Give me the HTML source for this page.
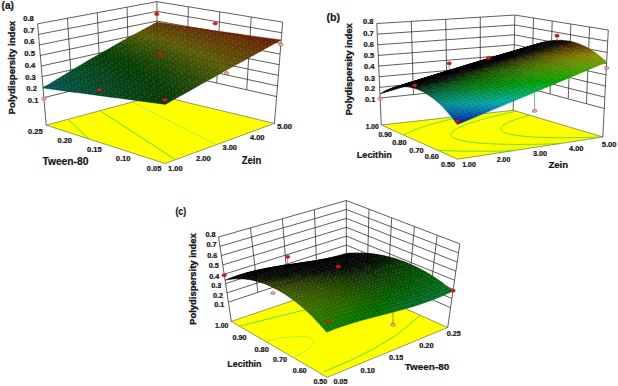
<!DOCTYPE html>
<html><head><meta charset="utf-8"><title>Polydispersity index response surfaces</title>
<style>html,body{margin:0;padding:0;background:#fff;width:618px;height:386px;overflow:hidden}svg{display:block}text{font-family:"Liberation Sans",sans-serif}</style>
</head><body><svg width="618" height="386" viewBox="0 0 618 386" font-family="Liberation Sans, sans-serif"><polygon points="46.20,125.20 157.10,95.30 274.40,123.40 165.10,163.50" fill="#ffff00" stroke="#333" stroke-width="0.5"/><polyline points="69.00,120.10 89.20,139.10" stroke="#33dd33" stroke-width="0.8" fill="none"/><polyline points="100.80,111.20 175.90,159.90" stroke="#33dd33" stroke-width="0.8" fill="none"/><polyline points="132.40,102.20 216.00,144.50" stroke="#99ee44" stroke-width="0.8" fill="none"/><g stroke="#2a2a2a" stroke-width="0.75" fill="none"><polyline points="43.63,97.73 157.04,69.54 276.59,96.60" /><polyline points="42.77,87.17 157.02,59.84 277.46,85.96" /><polyline points="41.92,76.61 157.00,50.14 278.33,75.32" /><polyline points="41.07,66.05 156.98,40.44 279.21,64.68" /><polyline points="40.21,55.49 156.96,30.74 280.08,54.04" /><polyline points="39.36,44.94 156.94,21.05 280.95,43.40" /><polyline points="38.51,34.38 156.93,11.35 281.82,32.76" /><polyline points="37.65,23.82 156.91,1.65 282.69,22.12" /><line x1="71.98" y1="90.68" x2="67.47" y2="18.28"/><line x1="100.33" y1="83.63" x2="97.28" y2="12.73"/><line x1="128.69" y1="76.58" x2="127.09" y2="7.19"/><line x1="246.70" y1="89.83" x2="251.25" y2="17.01"/><line x1="216.81" y1="83.07" x2="219.80" y2="11.89"/><line x1="186.93" y1="76.30" x2="188.35" y2="6.77"/><line x1="46.20" y1="125.20" x2="37.65" y2="23.82"/><line x1="157.10" y1="95.30" x2="156.91" y2="1.65"/><line x1="274.40" y1="123.40" x2="282.69" y2="22.12"/></g><ellipse cx="280.80" cy="44.60" rx="2.3" ry="1.6" fill="#f0a8a8" stroke="#7a2020" stroke-width="0.4"/><ellipse cx="226.60" cy="73.10" rx="2.3" ry="1.6" fill="#f0a8a8" stroke="#7a2020" stroke-width="0.4"/><ellipse cx="44.00" cy="98.70" rx="2.3" ry="1.6" fill="#f0a8a8" stroke="#7a2020" stroke-width="0.4"/><g stroke-width="0.35"><path d="M157.1,24.6L160.6,22.7 156.9,22.2 153.5,24.0Z" fill="#5d3300" stroke="#5d3300"/><path d="M153.7,26.4L157.1,24.6 153.5,24.0 150.1,25.9Z" fill="#5c3a00" stroke="#5c3a00"/><path d="M160.8,25.1L164.2,23.3 160.6,22.7 157.1,24.6Z" fill="#5d3200" stroke="#5d3200"/><path d="M150.3,28.3L153.7,26.4 150.1,25.9 146.6,27.7Z" fill="#5b4100" stroke="#5b4100"/><path d="M157.3,27.0L160.8,25.1 157.1,24.6 153.7,26.4Z" fill="#5c3900" stroke="#5c3900"/><path d="M164.4,25.6L167.9,23.8 164.2,23.3 160.8,25.1Z" fill="#5d3200" stroke="#5d3200"/><path d="M146.8,30.1L150.3,28.3 146.6,27.7 143.2,29.6Z" fill="#5a4800" stroke="#5a4800"/><path d="M153.9,28.8L157.3,27.0 153.7,26.4 150.3,28.3Z" fill="#5b4000" stroke="#5b4000"/><path d="M161.0,27.5L164.4,25.6 160.8,25.1 157.3,27.0Z" fill="#5d3900" stroke="#5d3900"/><path d="M143.4,32.0L146.8,30.1 143.2,29.6 139.8,31.4Z" fill="#594e00" stroke="#594e00"/><path d="M168.1,26.2L171.5,24.3 167.9,23.8 164.4,25.6Z" fill="#5e3100" stroke="#5e3100"/><path d="M150.5,30.7L153.9,28.8 150.3,28.3 146.8,30.1Z" fill="#5a4700" stroke="#5a4700"/><path d="M157.5,29.4L161.0,27.5 157.3,27.0 153.9,28.8Z" fill="#5c3f00" stroke="#5c3f00"/><path d="M140.0,33.9L143.4,32.0 139.8,31.4 136.3,33.3Z" fill="#585400" stroke="#585400"/><path d="M164.6,28.0L168.1,26.2 164.4,25.6 161.0,27.5Z" fill="#5d3800" stroke="#5d3800"/><path d="M147.0,32.5L150.5,30.7 146.8,30.1 143.4,32.0Z" fill="#594d00" stroke="#594d00"/><path d="M171.7,26.7L175.2,24.9 171.5,24.3 168.1,26.2Z" fill="#5e3000" stroke="#5e3000"/><path d="M154.1,31.2L157.5,29.4 153.9,28.8 150.5,30.7Z" fill="#5b4600" stroke="#5b4600"/><path d="M136.5,35.7L140.0,33.9 136.3,33.3 132.9,35.2Z" fill="#515600" stroke="#515600"/><path d="M161.2,29.9L164.6,28.0 161.0,27.5 157.5,29.4Z" fill="#5c3f00" stroke="#5c3f00"/><path d="M143.6,34.4L147.0,32.5 143.4,32.0 140.0,33.9Z" fill="#585300" stroke="#585300"/><path d="M168.3,28.6L171.7,26.7 168.1,26.2 164.6,28.0Z" fill="#5d3700" stroke="#5d3700"/><path d="M150.7,33.1L154.1,31.2 150.5,30.7 147.0,32.5Z" fill="#594c00" stroke="#594c00"/><path d="M133.1,37.6L136.5,35.7 132.9,35.2 129.5,37.1Z" fill="#475300" stroke="#475300"/><path d="M175.4,27.3L178.8,25.4 175.2,24.9 171.7,26.7Z" fill="#5f2f00" stroke="#5f2f00"/><path d="M157.7,31.8L161.2,29.9 157.5,29.4 154.1,31.2Z" fill="#5b4500" stroke="#5b4500"/><path d="M140.2,36.3L143.6,34.4 140.0,33.9 136.5,35.7Z" fill="#535600" stroke="#535600"/><path d="M164.8,30.4L168.3,28.6 164.6,28.0 161.2,29.9Z" fill="#5c3e00" stroke="#5c3e00"/><path d="M147.2,35.0L150.7,33.1 147.0,32.5 143.6,34.4Z" fill="#585300" stroke="#585300"/><path d="M129.7,39.5L133.1,37.6 129.5,37.1 126.1,39.0Z" fill="#3c5000" stroke="#3c5000"/><path d="M171.9,29.1L175.4,27.3 171.7,26.7 168.3,28.6Z" fill="#5e3600" stroke="#5e3600"/><path d="M154.3,33.6L157.7,31.8 154.1,31.2 150.7,33.1Z" fill="#5a4b00" stroke="#5a4b00"/><path d="M136.8,38.2L140.2,36.3 136.5,35.7 133.1,37.6Z" fill="#495400" stroke="#495400"/><path d="M179.0,27.8L182.5,25.9 178.8,25.4 175.4,27.3Z" fill="#5f2f00" stroke="#5f2f00"/><path d="M161.4,32.3L164.8,30.4 161.2,29.9 157.7,31.8Z" fill="#5b4400" stroke="#5b4400"/><path d="M143.8,36.8L147.2,35.0 143.6,34.4 140.2,36.3Z" fill="#555700" stroke="#555700"/><path d="M126.3,41.4L129.7,39.5 126.1,39.0 122.7,40.8Z" fill="#334e00" stroke="#334e00"/><path d="M168.5,31.0L171.9,29.1 168.3,28.6 164.8,30.4Z" fill="#5d3d00" stroke="#5d3d00"/><path d="M150.9,35.5L154.3,33.6 150.7,33.1 147.2,35.0Z" fill="#595200" stroke="#595200"/><path d="M133.4,40.1L136.8,38.2 133.1,37.6 129.7,39.5Z" fill="#3f5100" stroke="#3f5100"/><path d="M175.6,29.6L179.0,27.8 175.4,27.3 171.9,29.1Z" fill="#5e3500" stroke="#5e3500"/><path d="M157.9,34.2L161.4,32.3 157.7,31.8 154.3,33.6Z" fill="#5a4b00" stroke="#5a4b00"/><path d="M140.4,38.7L143.8,36.8 140.2,36.3 136.8,38.2Z" fill="#4b5400" stroke="#4b5400"/><path d="M182.7,28.3L186.1,26.5 182.5,25.9 179.0,27.8Z" fill="#5f2e00" stroke="#5f2e00"/><path d="M122.9,43.3L126.3,41.4 122.7,40.8 119.3,42.7Z" fill="#2a4b00" stroke="#2a4b00"/><path d="M165.0,32.8L168.5,31.0 164.8,30.4 161.4,32.3Z" fill="#5c4300" stroke="#5c4300"/><path d="M147.4,37.4L150.9,35.5 147.2,35.0 143.8,36.8Z" fill="#575700" stroke="#575700"/><path d="M130.0,41.9L133.4,40.1 129.7,39.5 126.3,41.4Z" fill="#354e00" stroke="#354e00"/><path d="M172.1,31.5L175.6,29.6 171.9,29.1 168.5,31.0Z" fill="#5d3c00" stroke="#5d3c00"/><path d="M154.5,36.0L157.9,34.2 154.3,33.6 150.9,35.5Z" fill="#595100" stroke="#595100"/><path d="M137.0,40.6L140.4,38.7 136.8,38.2 133.4,40.1Z" fill="#415200" stroke="#415200"/><path d="M179.2,30.2L182.7,28.3 179.0,27.8 175.6,29.6Z" fill="#5e3500" stroke="#5e3500"/><path d="M119.5,45.2L122.9,43.3 119.3,42.7 115.9,44.6Z" fill="#214800" stroke="#214800"/><path d="M161.6,34.7L165.0,32.8 161.4,32.3 157.9,34.2Z" fill="#5a4a00" stroke="#5a4a00"/><path d="M186.3,28.9L189.8,27.0 186.1,26.5 182.7,28.3Z" fill="#602d00" stroke="#602d00"/><path d="M144.0,39.3L147.4,37.4 143.8,36.8 140.4,38.7Z" fill="#4d5500" stroke="#4d5500"/><path d="M126.6,43.8L130.0,41.9 126.3,41.4 122.9,43.3Z" fill="#2c4b00" stroke="#2c4b00"/><path d="M168.7,33.4L172.1,31.5 168.5,31.0 165.0,32.8Z" fill="#5c4200" stroke="#5c4200"/><path d="M151.1,37.9L154.5,36.0 150.9,35.5 147.4,37.4Z" fill="#585600" stroke="#585600"/><path d="M133.6,42.5L137.0,40.6 133.4,40.1 130.0,41.9Z" fill="#374f00" stroke="#374f00"/><path d="M175.8,32.0L179.2,30.2 175.6,29.6 172.1,31.5Z" fill="#5d3b00" stroke="#5d3b00"/><path d="M116.2,47.1L119.5,45.2 115.9,44.6 112.5,46.6Z" fill="#194500" stroke="#194500"/><path d="M158.1,36.6L161.6,34.7 157.9,34.2 154.5,36.0Z" fill="#595000" stroke="#595000"/><path d="M182.8,30.7L186.3,28.9 182.7,28.3 179.2,30.2Z" fill="#5f3400" stroke="#5f3400"/><path d="M140.6,41.1L144.0,39.3 140.4,38.7 137.0,40.6Z" fill="#435200" stroke="#435200"/><path d="M123.2,45.7L126.6,43.8 122.9,43.3 119.5,45.2Z" fill="#234900" stroke="#234900"/><path d="M165.2,35.3L168.7,33.4 165.0,32.8 161.6,34.7Z" fill="#5b4900" stroke="#5b4900"/><path d="M190.0,29.4L193.4,27.5 189.8,27.0 186.3,28.9Z" fill="#602c00" stroke="#602c00"/><path d="M147.7,39.8L151.1,37.9 147.4,37.4 144.0,39.3Z" fill="#4f5500" stroke="#4f5500"/><path d="M130.2,44.4L133.6,42.5 130.0,41.9 126.6,43.8Z" fill="#2e4c00" stroke="#2e4c00"/><path d="M112.8,49.0L116.2,47.1 112.5,46.6 109.2,48.5Z" fill="#124200" stroke="#124200"/><path d="M172.3,33.9L175.8,32.0 172.1,31.5 168.7,33.4Z" fill="#5c4200" stroke="#5c4200"/><path d="M154.7,38.5L158.1,36.6 154.5,36.0 151.1,37.9Z" fill="#585500" stroke="#585500"/><path d="M137.2,43.0L140.6,41.1 137.0,40.6 133.6,42.5Z" fill="#395000" stroke="#395000"/><path d="M179.4,32.6L182.8,30.7 179.2,30.2 175.8,32.0Z" fill="#5e3a00" stroke="#5e3a00"/><path d="M119.8,47.7L123.2,45.7 119.5,45.2 116.2,47.1Z" fill="#1b4600" stroke="#1b4600"/><path d="M161.8,37.1L165.2,35.3 161.6,34.7 158.1,36.6Z" fill="#5a4f00" stroke="#5a4f00"/><path d="M186.5,31.2L190.0,29.4 186.3,28.9 182.8,30.7Z" fill="#5f3300" stroke="#5f3300"/><path d="M144.2,41.7L147.7,39.8 144.0,39.3 140.6,41.1Z" fill="#455300" stroke="#455300"/><path d="M126.8,46.3L130.2,44.4 126.6,43.8 123.2,45.7Z" fill="#254900" stroke="#254900"/><path d="M109.4,50.9L112.8,49.0 109.2,48.5 105.8,50.4Z" fill="#0b3f00" stroke="#0b3f00"/><path d="M168.9,35.8L172.3,33.9 168.7,33.4 165.2,35.3Z" fill="#5b4800" stroke="#5b4800"/><path d="M193.6,29.9L197.1,28.0 193.4,27.5 190.0,29.4Z" fill="#602c00" stroke="#602c00"/><path d="M151.3,40.3L154.7,38.5 151.1,37.9 147.7,39.8Z" fill="#515600" stroke="#515600"/><path d="M133.8,44.9L137.2,43.0 133.6,42.5 130.2,44.4Z" fill="#304d00" stroke="#304d00"/><path d="M175.9,34.5L179.4,32.6 175.8,32.0 172.3,33.9Z" fill="#5d4100" stroke="#5d4100"/><path d="M116.4,49.6L119.8,47.7 116.2,47.1 112.8,49.0Z" fill="#144300" stroke="#144300"/><path d="M158.4,39.0L161.8,37.1 158.1,36.6 154.7,38.5Z" fill="#585400" stroke="#585400"/><path d="M183.0,33.1L186.5,31.2 182.8,30.7 179.4,32.6Z" fill="#5e3900" stroke="#5e3900"/><path d="M140.8,43.6L144.2,41.7 140.6,41.1 137.2,43.0Z" fill="#3b5000" stroke="#3b5000"/><path d="M123.4,48.2L126.8,46.3 123.2,45.7 119.8,47.7Z" fill="#1d4700" stroke="#1d4700"/><path d="M106.0,52.9L109.4,50.9 105.8,50.4 102.4,52.3Z" fill="#053c00" stroke="#053c00"/><path d="M165.4,37.7L168.9,35.8 165.2,35.3 161.8,37.1Z" fill="#5a4e00" stroke="#5a4e00"/><path d="M190.1,31.8L193.6,29.9 190.0,29.4 186.5,31.2Z" fill="#5f3200" stroke="#5f3200"/><path d="M147.9,42.2L151.3,40.3 147.7,39.8 144.2,41.7Z" fill="#475300" stroke="#475300"/><path d="M130.4,46.8L133.8,44.9 130.2,44.4 126.8,46.3Z" fill="#284a00" stroke="#284a00"/><path d="M172.5,36.3L175.9,34.5 172.3,33.9 168.9,35.8Z" fill="#5b4700" stroke="#5b4700"/><path d="M113.0,51.5L116.4,49.6 112.8,49.0 109.4,50.9Z" fill="#0d4000" stroke="#0d4000"/><path d="M197.3,30.4L200.7,28.6 197.1,28.0 193.6,29.9Z" fill="#612b00" stroke="#612b00"/><path d="M154.9,40.9L158.4,39.0 154.7,38.5 151.3,40.3Z" fill="#545700" stroke="#545700"/><path d="M137.4,45.5L140.8,43.6 137.2,43.0 133.8,44.9Z" fill="#324e00" stroke="#324e00"/><path d="M179.6,35.0L183.0,33.1 179.4,32.6 175.9,34.5Z" fill="#5d4000" stroke="#5d4000"/><path d="M120.0,50.1L123.4,48.2 119.8,47.7 116.4,49.6Z" fill="#164400" stroke="#164400"/><path d="M102.7,54.8L106.0,52.9 102.4,52.3 99.1,54.2Z" fill="#003a01" stroke="#003a01"/><path d="M162.0,39.5L165.4,37.7 161.8,37.1 158.4,39.0Z" fill="#595300" stroke="#595300"/><path d="M186.7,33.7L190.1,31.8 186.5,31.2 183.0,33.1Z" fill="#5e3900" stroke="#5e3900"/><path d="M144.5,44.1L147.9,42.2 144.2,41.7 140.8,43.6Z" fill="#3e5100" stroke="#3e5100"/><path d="M127.0,48.7L130.4,46.8 126.8,46.3 123.4,48.2Z" fill="#1f4700" stroke="#1f4700"/><path d="M109.6,53.4L113.0,51.5 109.4,50.9 106.0,52.9Z" fill="#063d00" stroke="#063d00"/><path d="M169.1,38.2L172.5,36.3 168.9,35.8 165.4,37.7Z" fill="#5a4d00" stroke="#5a4d00"/><path d="M193.8,32.3L197.3,30.4 193.6,29.9 190.1,31.8Z" fill="#603100" stroke="#603100"/><path d="M151.5,42.8L154.9,40.9 151.3,40.3 147.9,42.2Z" fill="#4a5400" stroke="#4a5400"/><path d="M134.0,47.4L137.4,45.5 133.8,44.9 130.4,46.8Z" fill="#2a4b00" stroke="#2a4b00"/><path d="M176.2,36.9L179.6,35.0 175.9,34.5 172.5,36.3Z" fill="#5c4600" stroke="#5c4600"/><path d="M116.6,52.0L120.0,50.1 116.4,49.6 113.0,51.5Z" fill="#0f4100" stroke="#0f4100"/><path d="M200.9,31.0L204.4,29.1 200.7,28.6 197.3,30.4Z" fill="#612a00" stroke="#612a00"/><path d="M99.3,56.7L102.7,54.8 99.1,54.2 95.7,56.2Z" fill="#003b04" stroke="#003b04"/><path d="M158.6,41.4L162.0,39.5 158.4,39.0 154.9,40.9Z" fill="#565700" stroke="#565700"/><path d="M183.2,35.5L186.7,33.7 183.0,33.1 179.6,35.0Z" fill="#5d3f00" stroke="#5d3f00"/><path d="M141.1,46.0L144.5,44.1 140.8,43.6 137.4,45.5Z" fill="#354e00" stroke="#354e00"/><path d="M123.6,50.7L127.0,48.7 123.4,48.2 120.0,50.1Z" fill="#184400" stroke="#184400"/><path d="M106.3,55.3L109.6,53.4 106.0,52.9 102.7,54.8Z" fill="#013a00" stroke="#013a00"/><path d="M165.6,40.1L169.1,38.2 165.4,37.7 162.0,39.5Z" fill="#595200" stroke="#595200"/><path d="M190.3,34.2L193.8,32.3 190.1,31.8 186.7,33.7Z" fill="#5f3800" stroke="#5f3800"/><path d="M148.1,44.7L151.5,42.8 147.9,42.2 144.5,44.1Z" fill="#405200" stroke="#405200"/><path d="M130.6,49.3L134.0,47.4 130.4,46.8 127.0,48.7Z" fill="#214800" stroke="#214800"/><path d="M172.7,38.7L176.2,36.9 172.5,36.3 169.1,38.2Z" fill="#5b4c00" stroke="#5b4c00"/><path d="M113.3,54.0L116.6,52.0 113.0,51.5 109.6,53.4Z" fill="#083e00" stroke="#083e00"/><path d="M96.0,58.7L99.3,56.7 95.7,56.2 92.4,58.1Z" fill="#003d08" stroke="#003d08"/><path d="M197.4,32.8L200.9,31.0 197.3,30.4 193.8,32.3Z" fill="#603000" stroke="#603000"/><path d="M155.2,43.3L158.6,41.4 154.9,40.9 151.5,42.8Z" fill="#4c5500" stroke="#4c5500"/><path d="M179.8,37.4L183.2,35.5 179.6,35.0 176.2,36.9Z" fill="#5c4500" stroke="#5c4500"/><path d="M137.7,47.9L141.1,46.0 137.4,45.5 134.0,47.4Z" fill="#2c4b00" stroke="#2c4b00"/><path d="M204.6,31.5L208.0,29.6 204.4,29.1 200.9,31.0Z" fill="#612900" stroke="#612900"/><path d="M120.3,52.6L123.6,50.7 120.0,50.1 116.6,52.0Z" fill="#114100" stroke="#114100"/><path d="M102.9,57.3L106.3,55.3 102.7,54.8 99.3,56.7Z" fill="#003b03" stroke="#003b03"/><path d="M162.2,42.0L165.6,40.1 162.0,39.5 158.6,41.4Z" fill="#585800" stroke="#585800"/><path d="M186.9,36.1L190.3,34.2 186.7,33.7 183.2,35.5Z" fill="#5d3e00" stroke="#5d3e00"/><path d="M144.7,46.6L148.1,44.7 144.5,44.1 141.1,46.0Z" fill="#374f00" stroke="#374f00"/><path d="M127.3,51.2L130.6,49.3 127.0,48.7 123.6,50.7Z" fill="#1a4500" stroke="#1a4500"/><path d="M109.9,55.9L113.3,54.0 109.6,53.4 106.3,55.3Z" fill="#023b00" stroke="#023b00"/><path d="M169.3,40.6L172.7,38.7 169.1,38.2 165.6,40.1Z" fill="#595100" stroke="#595100"/><path d="M92.6,60.6L96.0,58.7 92.4,58.1 89.0,60.1Z" fill="#003e0c" stroke="#003e0c"/><path d="M194.0,34.7L197.4,32.8 193.8,32.3 190.3,34.2Z" fill="#5f3700" stroke="#5f3700"/><path d="M151.7,45.2L155.2,43.3 151.5,42.8 148.1,44.7Z" fill="#425200" stroke="#425200"/><path d="M134.3,49.8L137.7,47.9 134.0,47.4 130.6,49.3Z" fill="#244900" stroke="#244900"/><path d="M176.4,39.3L179.8,37.4 176.2,36.9 172.7,38.7Z" fill="#5b4a00" stroke="#5b4a00"/><path d="M201.1,33.4L204.6,31.5 200.9,31.0 197.4,32.8Z" fill="#603000" stroke="#603000"/><path d="M116.9,54.5L120.3,52.6 116.6,52.0 113.3,54.0Z" fill="#0a3f00" stroke="#0a3f00"/><path d="M99.6,59.2L102.9,57.3 99.3,56.7 96.0,58.7Z" fill="#003c07" stroke="#003c07"/><path d="M158.8,43.9L162.2,42.0 158.6,41.4 155.2,43.3Z" fill="#4e5500" stroke="#4e5500"/><path d="M183.4,37.9L186.9,36.1 183.2,35.5 179.8,37.4Z" fill="#5c4400" stroke="#5c4400"/><path d="M208.2,32.0L211.7,30.2 208.0,29.6 204.6,31.5Z" fill="#622800" stroke="#622800"/><path d="M141.3,48.5L144.7,46.6 141.1,46.0 137.7,47.9Z" fill="#2e4c00" stroke="#2e4c00"/><path d="M123.9,53.1L127.3,51.2 123.6,50.7 120.3,52.6Z" fill="#134200" stroke="#134200"/><path d="M106.5,57.8L109.9,55.9 106.3,55.3 102.9,57.3Z" fill="#003a02" stroke="#003a02"/><path d="M89.3,62.6L92.6,60.6 89.0,60.1 85.7,62.0Z" fill="#004010" stroke="#004010"/><path d="M165.9,42.5L169.3,40.6 165.6,40.1 162.2,42.0Z" fill="#585700" stroke="#585700"/><path d="M190.5,36.6L194.0,34.7 190.3,34.2 186.9,36.1Z" fill="#5e3d00" stroke="#5e3d00"/><path d="M148.3,47.1L151.7,45.2 148.1,44.7 144.7,46.6Z" fill="#395000" stroke="#395000"/><path d="M130.9,51.7L134.3,49.8 130.6,49.3 127.3,51.2Z" fill="#1c4600" stroke="#1c4600"/><path d="M172.9,41.2L176.4,39.3 172.7,38.7 169.3,40.6Z" fill="#5a5000" stroke="#5a5000"/><path d="M113.5,56.4L116.9,54.5 113.3,54.0 109.9,55.9Z" fill="#043c00" stroke="#043c00"/><path d="M96.2,61.2L99.6,59.2 96.0,58.7 92.6,60.6Z" fill="#003e0a" stroke="#003e0a"/><path d="M197.6,35.2L201.1,33.4 197.4,32.8 194.0,34.7Z" fill="#5f3600" stroke="#5f3600"/><path d="M155.4,45.8L158.8,43.9 155.2,43.3 151.7,45.2Z" fill="#445300" stroke="#445300"/><path d="M180.0,39.8L183.4,37.9 179.8,37.4 176.4,39.3Z" fill="#5b4900" stroke="#5b4900"/><path d="M137.9,50.4L141.3,48.5 137.7,47.9 134.3,49.8Z" fill="#264900" stroke="#264900"/><path d="M204.8,33.9L208.2,32.0 204.6,31.5 201.1,33.4Z" fill="#612f00" stroke="#612f00"/><path d="M120.5,55.0L123.9,53.1 120.3,52.6 116.9,54.5Z" fill="#0c3f00" stroke="#0c3f00"/><path d="M86.0,64.5L89.3,62.6 85.7,62.0 82.4,64.0Z" fill="#004214" stroke="#004214"/><path d="M103.2,59.8L106.5,57.8 102.9,57.3 99.6,59.2Z" fill="#003c05" stroke="#003c05"/><path d="M162.4,44.4L165.9,42.5 162.2,42.0 158.8,43.9Z" fill="#505600" stroke="#505600"/><path d="M187.1,38.5L190.5,36.6 186.9,36.1 183.4,37.9Z" fill="#5d4300" stroke="#5d4300"/><path d="M211.9,32.6L215.3,30.7 211.7,30.2 208.2,32.0Z" fill="#622800" stroke="#622800"/><path d="M144.9,49.0L148.3,47.1 144.7,46.6 141.3,48.5Z" fill="#304d00" stroke="#304d00"/><path d="M127.5,53.7L130.9,51.7 127.3,51.2 123.9,53.1Z" fill="#154300" stroke="#154300"/><path d="M169.5,43.1L172.9,41.2 169.3,40.6 165.9,42.5Z" fill="#595500" stroke="#595500"/><path d="M110.1,58.4L113.5,56.4 109.9,55.9 106.5,57.8Z" fill="#003a01" stroke="#003a01"/><path d="M92.9,63.1L96.2,61.2 92.6,60.6 89.3,62.6Z" fill="#003f0e" stroke="#003f0e"/><path d="M194.2,37.1L197.6,35.2 194.0,34.7 190.5,36.6Z" fill="#5e3c00" stroke="#5e3c00"/><path d="M152.0,47.7L155.4,45.8 151.7,45.2 148.3,47.1Z" fill="#3b5000" stroke="#3b5000"/><path d="M134.5,52.3L137.9,50.4 134.3,49.8 130.9,51.7Z" fill="#1e4700" stroke="#1e4700"/><path d="M176.6,41.7L180.0,39.8 176.4,39.3 172.9,41.2Z" fill="#5a4f00" stroke="#5a4f00"/><path d="M201.3,35.8L204.8,33.9 201.1,33.4 197.6,35.2Z" fill="#5f3500" stroke="#5f3500"/><path d="M117.1,57.0L120.5,55.0 116.9,54.5 113.5,56.4Z" fill="#063c00" stroke="#063c00"/><path d="M82.6,66.5L86.0,64.5 82.4,64.0 79.0,66.0Z" fill="#004318" stroke="#004318"/><path d="M99.8,61.7L103.2,59.8 99.6,59.2 96.2,61.2Z" fill="#003d09" stroke="#003d09"/><path d="M159.0,46.3L162.4,44.4 158.8,43.9 155.4,45.8Z" fill="#475300" stroke="#475300"/><path d="M183.7,40.4L187.1,38.5 183.4,37.9 180.0,39.8Z" fill="#5c4800" stroke="#5c4800"/><path d="M208.4,34.4L211.9,32.6 208.2,32.0 204.8,33.9Z" fill="#612e00" stroke="#612e00"/><path d="M141.5,50.9L144.9,49.0 141.3,48.5 137.9,50.4Z" fill="#284a00" stroke="#284a00"/><path d="M124.1,55.6L127.5,53.7 123.9,53.1 120.5,55.0Z" fill="#0e4000" stroke="#0e4000"/><path d="M106.8,60.3L110.1,58.4 106.5,57.8 103.2,59.8Z" fill="#003b04" stroke="#003b04"/><path d="M89.5,65.1L92.9,63.1 89.3,62.6 86.0,64.5Z" fill="#004112" stroke="#004112"/><path d="M166.1,44.9L169.5,43.1 165.9,42.5 162.4,44.4Z" fill="#535700" stroke="#535700"/><path d="M215.5,33.1L219.0,31.2 215.3,30.7 211.9,32.6Z" fill="#622700" stroke="#622700"/><path d="M190.7,39.0L194.2,37.1 190.5,36.6 187.1,38.5Z" fill="#5d4200" stroke="#5d4200"/><path d="M148.6,49.6L152.0,47.7 148.3,47.1 144.9,49.0Z" fill="#334e00" stroke="#334e00"/><path d="M131.1,54.2L134.5,52.3 130.9,51.7 127.5,53.7Z" fill="#174400" stroke="#174400"/><path d="M173.1,43.6L176.6,41.7 172.9,41.2 169.5,43.1Z" fill="#595400" stroke="#595400"/><path d="M113.8,58.9L117.1,57.0 113.5,56.4 110.1,58.4Z" fill="#003900" stroke="#003900"/><path d="M79.3,68.5L82.6,66.5 79.0,66.0 75.7,67.9Z" fill="#00451d" stroke="#00451d"/><path d="M197.8,37.7L201.3,35.8 197.6,35.2 194.2,37.1Z" fill="#5e3b00" stroke="#5e3b00"/><path d="M96.5,63.6L99.8,61.7 96.2,61.2 92.9,63.1Z" fill="#003f0d" stroke="#003f0d"/><path d="M155.6,48.2L159.0,46.3 155.4,45.8 152.0,47.7Z" fill="#3e5100" stroke="#3e5100"/><path d="M180.2,42.2L183.7,40.4 180.0,39.8 176.6,41.7Z" fill="#5a4e00" stroke="#5a4e00"/><path d="M138.1,52.8L141.5,50.9 137.9,50.4 134.5,52.3Z" fill="#204700" stroke="#204700"/><path d="M204.9,36.3L208.4,34.4 204.8,33.9 201.3,35.8Z" fill="#603400" stroke="#603400"/><path d="M120.7,57.5L124.1,55.6 120.5,55.0 117.1,57.0Z" fill="#083d00" stroke="#083d00"/><path d="M86.2,67.0L89.5,65.1 86.0,64.5 82.6,66.5Z" fill="#004216" stroke="#004216"/><path d="M103.4,62.2L106.8,60.3 103.2,59.8 99.8,61.7Z" fill="#003d08" stroke="#003d08"/><path d="M162.7,46.8L166.1,44.9 162.4,44.4 159.0,46.3Z" fill="#495400" stroke="#495400"/><path d="M212.1,35.0L215.5,33.1 211.9,32.6 208.4,34.4Z" fill="#612d00" stroke="#612d00"/><path d="M187.3,40.9L190.7,39.0 187.1,38.5 183.7,40.4Z" fill="#5c4700" stroke="#5c4700"/><path d="M145.2,51.5L148.6,49.6 144.9,49.0 141.5,50.9Z" fill="#2a4b00" stroke="#2a4b00"/><path d="M127.7,56.1L131.1,54.2 127.5,53.7 124.1,55.6Z" fill="#104100" stroke="#104100"/><path d="M169.7,45.5L173.1,43.6 169.5,43.1 166.1,44.9Z" fill="#555700" stroke="#555700"/><path d="M76.0,70.4L79.3,68.5 75.7,67.9 72.4,69.9Z" fill="#004621" stroke="#004621"/><path d="M110.4,60.8L113.8,58.9 110.1,58.4 106.8,60.3Z" fill="#003b03" stroke="#003b03"/><path d="M93.1,65.6L96.5,63.6 92.9,63.1 89.5,65.1Z" fill="#004011" stroke="#004011"/><path d="M219.2,33.6L222.6,31.7 219.0,31.2 215.5,33.1Z" fill="#622600" stroke="#622600"/><path d="M194.4,39.5L197.8,37.7 194.2,37.1 190.7,39.0Z" fill="#5d4100" stroke="#5d4100"/><path d="M152.2,50.1L155.6,48.2 152.0,47.7 148.6,49.6Z" fill="#354e00" stroke="#354e00"/><path d="M134.7,54.7L138.1,52.8 134.5,52.3 131.1,54.2Z" fill="#194500" stroke="#194500"/><path d="M176.8,44.1L180.2,42.2 176.6,41.7 173.1,43.6Z" fill="#595300" stroke="#595300"/><path d="M201.5,38.2L204.9,36.3 201.3,35.8 197.8,37.7Z" fill="#5f3a00" stroke="#5f3a00"/><path d="M117.4,59.4L120.7,57.5 117.1,57.0 113.8,58.9Z" fill="#023a00" stroke="#023a00"/><path d="M82.9,69.0L86.2,67.0 82.6,66.5 79.3,68.5Z" fill="#00441b" stroke="#00441b"/><path d="M100.1,64.2L103.4,62.2 99.8,61.7 96.5,63.6Z" fill="#003e0b" stroke="#003e0b"/><path d="M159.2,48.7L162.7,46.8 159.0,46.3 155.6,48.2Z" fill="#405200" stroke="#405200"/><path d="M183.9,42.8L187.3,40.9 183.7,40.4 180.2,42.2Z" fill="#5b4d00" stroke="#5b4d00"/><path d="M208.6,36.8L212.1,35.0 208.4,34.4 204.9,36.3Z" fill="#603300" stroke="#603300"/><path d="M141.8,53.4L145.2,51.5 141.5,50.9 138.1,52.8Z" fill="#224800" stroke="#224800"/><path d="M124.4,58.0L127.7,56.1 124.1,55.6 120.7,57.5Z" fill="#0a3e00" stroke="#0a3e00"/><path d="M72.7,72.4L76.0,70.4 72.4,69.9 69.1,71.9Z" fill="#004726" stroke="#004726"/><path d="M107.0,62.8L110.4,60.8 106.8,60.3 103.4,62.2Z" fill="#003c06" stroke="#003c06"/><path d="M89.8,67.6L93.1,65.6 89.5,65.1 86.2,67.0Z" fill="#004215" stroke="#004215"/><path d="M166.3,47.4L169.7,45.5 166.1,44.9 162.7,46.8Z" fill="#4b5500" stroke="#4b5500"/><path d="M215.7,35.5L219.2,33.6 215.5,33.1 212.1,35.0Z" fill="#612c00" stroke="#612c00"/><path d="M190.9,41.4L194.4,39.5 190.7,39.0 187.3,40.9Z" fill="#5c4600" stroke="#5c4600"/><path d="M148.8,52.0L152.2,50.1 148.6,49.6 145.2,51.5Z" fill="#2d4c00" stroke="#2d4c00"/><path d="M131.4,56.7L134.7,54.7 131.1,54.2 127.7,56.1Z" fill="#124200" stroke="#124200"/><path d="M173.4,46.0L176.8,44.1 173.1,43.6 169.7,45.5Z" fill="#575800" stroke="#575800"/><path d="M222.8,34.1L226.3,32.2 222.6,31.7 219.2,33.6Z" fill="#632500" stroke="#632500"/><path d="M198.0,40.1L201.5,38.2 197.8,37.7 194.4,39.5Z" fill="#5e4000" stroke="#5e4000"/><path d="M114.0,61.4L117.4,59.4 113.8,58.9 110.4,60.8Z" fill="#003a02" stroke="#003a02"/><path d="M79.6,71.0L82.9,69.0 79.3,68.5 76.0,70.4Z" fill="#00451f" stroke="#00451f"/><path d="M96.7,66.1L100.1,64.2 96.5,63.6 93.1,65.6Z" fill="#003f0f" stroke="#003f0f"/><path d="M155.8,50.6L159.2,48.7 155.6,48.2 152.2,50.1Z" fill="#374f00" stroke="#374f00"/><path d="M180.4,44.7L183.9,42.8 180.2,42.2 176.8,44.1Z" fill="#595200" stroke="#595200"/><path d="M205.1,38.7L208.6,36.8 204.9,36.3 201.5,38.2Z" fill="#5f3900" stroke="#5f3900"/><path d="M138.4,55.3L141.8,53.4 138.1,52.8 134.7,54.7Z" fill="#1b4500" stroke="#1b4500"/><path d="M121.0,60.0L124.4,58.0 120.7,57.5 117.4,59.4Z" fill="#043b00" stroke="#043b00"/><path d="M69.4,74.4L72.7,72.4 69.1,71.9 65.8,73.9Z" fill="#00492b" stroke="#00492b"/><path d="M103.7,64.7L107.0,62.8 103.4,62.2 100.1,64.2Z" fill="#003d0a" stroke="#003d0a"/><path d="M86.5,69.5L89.8,67.6 86.2,67.0 82.9,69.0Z" fill="#004319" stroke="#004319"/><path d="M162.9,49.3L166.3,47.4 162.7,46.8 159.2,48.7Z" fill="#425200" stroke="#425200"/><path d="M212.3,37.4L215.7,35.5 212.1,35.0 208.6,36.8Z" fill="#603200" stroke="#603200"/><path d="M187.5,43.3L190.9,41.4 187.3,40.9 183.9,42.8Z" fill="#5b4c00" stroke="#5b4c00"/><path d="M145.4,53.9L148.8,52.0 145.2,51.5 141.8,53.4Z" fill="#254900" stroke="#254900"/><path d="M128.0,58.6L131.4,56.7 127.7,56.1 124.4,58.0Z" fill="#0c3f00" stroke="#0c3f00"/><path d="M169.9,47.9L173.4,46.0 169.7,45.5 166.3,47.4Z" fill="#4e5500" stroke="#4e5500"/><path d="M76.3,72.9L79.6,71.0 76.0,70.4 72.7,72.4Z" fill="#004724" stroke="#004724"/><path d="M219.4,36.0L222.8,34.1 219.2,33.6 215.7,35.5Z" fill="#622b00" stroke="#622b00"/><path d="M110.7,63.3L114.0,61.4 110.4,60.8 107.0,62.8Z" fill="#003b05" stroke="#003b05"/><path d="M93.4,68.1L96.7,66.1 93.1,65.6 89.8,67.6Z" fill="#004113" stroke="#004113"/><path d="M194.6,42.0L198.0,40.1 194.4,39.5 190.9,41.4Z" fill="#5c4500" stroke="#5c4500"/><path d="M152.4,52.5L155.8,50.6 152.2,50.1 148.8,52.0Z" fill="#2f4c00" stroke="#2f4c00"/><path d="M226.5,34.7L230.0,32.8 226.3,32.2 222.8,34.1Z" fill="#632400" stroke="#632400"/><path d="M177.0,46.6L180.4,44.7 176.8,44.1 173.4,46.0Z" fill="#585700" stroke="#585700"/><path d="M135.0,57.2L138.4,55.3 134.7,54.7 131.4,56.7Z" fill="#144300" stroke="#144300"/><path d="M201.7,40.6L205.1,38.7 201.5,38.2 198.0,40.1Z" fill="#5e3e00" stroke="#5e3e00"/><path d="M66.1,76.4L69.4,74.4 65.8,73.9 62.5,75.9Z" fill="#004a30" stroke="#004a30"/><path d="M117.6,61.9L121.0,60.0 117.4,59.4 114.0,61.4Z" fill="#003901" stroke="#003901"/><path d="M83.2,71.5L86.5,69.5 82.9,69.0 79.6,71.0Z" fill="#00441d" stroke="#00441d"/><path d="M100.3,66.7L103.7,64.7 100.1,64.2 96.7,66.1Z" fill="#003f0e" stroke="#003f0e"/><path d="M159.5,51.2L162.9,49.3 159.2,48.7 155.8,50.6Z" fill="#3a5000" stroke="#3a5000"/><path d="M184.1,45.2L187.5,43.3 183.9,42.8 180.4,44.7Z" fill="#5a5100" stroke="#5a5100"/><path d="M208.8,39.2L212.3,37.4 208.6,36.8 205.1,38.7Z" fill="#5f3800" stroke="#5f3800"/><path d="M142.0,55.8L145.4,53.9 141.8,53.4 138.4,55.3Z" fill="#1d4600" stroke="#1d4600"/><path d="M124.6,60.5L128.0,58.6 124.4,58.0 121.0,60.0Z" fill="#063c00" stroke="#063c00"/><path d="M73.0,74.9L76.3,72.9 72.7,72.4 69.4,74.4Z" fill="#004829" stroke="#004829"/><path d="M166.5,49.8L169.9,47.9 166.3,47.4 162.9,49.3Z" fill="#455300" stroke="#455300"/><path d="M107.3,65.2L110.7,63.3 107.0,62.8 103.7,64.7Z" fill="#003d09" stroke="#003d09"/><path d="M90.1,70.1L93.4,68.1 89.8,67.6 86.5,69.5Z" fill="#004217" stroke="#004217"/><path d="M215.9,37.9L219.4,36.0 215.7,35.5 212.3,37.4Z" fill="#613100" stroke="#613100"/><path d="M191.2,43.8L194.6,42.0 190.9,41.4 187.5,43.3Z" fill="#5b4a00" stroke="#5b4a00"/><path d="M149.0,54.5L152.4,52.5 148.8,52.0 145.4,53.9Z" fill="#274a00" stroke="#274a00"/><path d="M131.6,59.1L135.0,57.2 131.4,56.7 128.0,58.6Z" fill="#0e4000" stroke="#0e4000"/><path d="M223.0,36.5L226.5,34.7 222.8,34.1 219.4,36.0Z" fill="#622a00" stroke="#622a00"/><path d="M173.6,48.5L177.0,46.6 173.4,46.0 169.9,47.9Z" fill="#505600" stroke="#505600"/><path d="M62.8,78.4L66.1,76.4 62.5,75.9 59.2,77.9Z" fill="#004c36" stroke="#004c36"/><path d="M198.2,42.5L201.7,40.6 198.0,40.1 194.6,42.0Z" fill="#5d4400" stroke="#5d4400"/><path d="M114.3,63.8L117.6,61.9 114.0,61.4 110.7,63.3Z" fill="#003b04" stroke="#003b04"/><path d="M79.8,73.5L83.2,71.5 79.6,71.0 76.3,72.9Z" fill="#004622" stroke="#004622"/><path d="M97.0,68.6L100.3,66.7 96.7,66.1 93.4,68.1Z" fill="#004012" stroke="#004012"/><path d="M156.1,53.1L159.5,51.2 155.8,50.6 152.4,52.5Z" fill="#314d00" stroke="#314d00"/><path d="M230.1,35.2L233.6,33.3 230.0,32.8 226.5,34.7Z" fill="#632300" stroke="#632300"/><path d="M180.6,47.1L184.1,45.2 180.4,44.7 177.0,46.6Z" fill="#595600" stroke="#595600"/><path d="M205.3,41.1L208.8,39.2 205.1,38.7 201.7,40.6Z" fill="#5e3d00" stroke="#5e3d00"/><path d="M138.6,57.7L142.0,55.8 138.4,55.3 135.0,57.2Z" fill="#164400" stroke="#164400"/><path d="M121.2,62.4L124.6,60.5 121.0,60.0 117.6,61.9Z" fill="#003900" stroke="#003900"/><path d="M69.6,76.9L73.0,74.9 69.4,74.4 66.1,76.4Z" fill="#004a2e" stroke="#004a2e"/><path d="M104.0,67.2L107.3,65.2 103.7,64.7 100.3,66.7Z" fill="#003e0c" stroke="#003e0c"/><path d="M86.8,72.0L90.1,70.1 86.5,69.5 83.2,71.5Z" fill="#00441c" stroke="#00441c"/><path d="M163.1,51.7L166.5,49.8 162.9,49.3 159.5,51.2Z" fill="#3c5000" stroke="#3c5000"/><path d="M212.5,39.8L215.9,37.9 212.3,37.4 208.8,39.2Z" fill="#603700" stroke="#603700"/><path d="M187.7,45.7L191.2,43.8 187.5,43.3 184.1,45.2Z" fill="#5a5000" stroke="#5a5000"/><path d="M145.6,56.4L149.0,54.5 145.4,53.9 142.0,55.8Z" fill="#1f4700" stroke="#1f4700"/><path d="M128.2,61.0L131.6,59.1 128.0,58.6 124.6,60.5Z" fill="#083d00" stroke="#083d00"/><path d="M59.5,80.4L62.8,78.4 59.2,77.9 55.9,79.9Z" fill="#004d3b" stroke="#004d3b"/><path d="M170.2,50.4L173.6,48.5 169.9,47.9 166.5,49.8Z" fill="#475400" stroke="#475400"/><path d="M219.6,38.4L223.0,36.5 219.4,36.0 215.9,37.9Z" fill="#613000" stroke="#613000"/><path d="M110.9,65.8L114.3,63.8 110.7,63.3 107.3,65.2Z" fill="#003c07" stroke="#003c07"/><path d="M76.5,75.4L79.8,73.5 76.3,72.9 73.0,74.9Z" fill="#004727" stroke="#004727"/><path d="M194.8,44.4L198.2,42.5 194.6,42.0 191.2,43.8Z" fill="#5c4900" stroke="#5c4900"/><path d="M93.7,70.6L97.0,68.6 93.4,68.1 90.1,70.1Z" fill="#004216" stroke="#004216"/><path d="M152.7,55.0L156.1,53.1 152.4,52.5 149.0,54.5Z" fill="#294a00" stroke="#294a00"/><path d="M226.7,37.1L230.1,35.2 226.5,34.7 223.0,36.5Z" fill="#622900" stroke="#622900"/><path d="M177.2,49.0L180.6,47.1 177.0,46.6 173.6,48.5Z" fill="#535700" stroke="#535700"/><path d="M135.2,59.7L138.6,57.7 135.0,57.2 131.6,59.1Z" fill="#104100" stroke="#104100"/><path d="M201.9,43.0L205.3,41.1 201.7,40.6 198.2,42.5Z" fill="#5d4300" stroke="#5d4300"/><path d="M66.4,78.9L69.6,76.9 66.1,76.4 62.8,78.4Z" fill="#004b33" stroke="#004b33"/><path d="M117.9,64.4L121.2,62.4 117.6,61.9 114.3,63.8Z" fill="#003a03" stroke="#003a03"/><path d="M83.4,74.0L86.8,72.0 83.2,71.5 79.8,73.5Z" fill="#004520" stroke="#004520"/><path d="M100.6,69.1L104.0,67.2 100.3,66.7 97.0,68.6Z" fill="#004010" stroke="#004010"/><path d="M159.7,53.6L163.1,51.7 159.5,51.2 156.1,53.1Z" fill="#344e00" stroke="#344e00"/><path d="M233.8,35.7L237.3,33.8 233.6,33.3 230.1,35.2Z" fill="#642300" stroke="#642300"/><path d="M184.3,47.6L187.7,45.7 184.1,45.2 180.6,47.1Z" fill="#595500" stroke="#595500"/><path d="M209.0,41.7L212.5,39.8 208.8,39.2 205.3,41.1Z" fill="#5f3c00" stroke="#5f3c00"/><path d="M142.2,58.3L145.6,56.4 142.0,55.8 138.6,57.7Z" fill="#184400" stroke="#184400"/><path d="M56.2,82.4L59.5,80.4 55.9,79.9 52.6,81.9Z" fill="#004f41" stroke="#004f41"/><path d="M124.9,63.0L128.2,61.0 124.6,60.5 121.2,62.4Z" fill="#023a00" stroke="#023a00"/><path d="M73.2,77.4L76.5,75.4 73.0,74.9 69.6,76.9Z" fill="#00492c" stroke="#00492c"/><path d="M166.7,52.3L170.2,50.4 166.5,49.8 163.1,51.7Z" fill="#3e5100" stroke="#3e5100"/><path d="M107.6,67.7L110.9,65.8 107.3,65.2 104.0,67.2Z" fill="#003e0b" stroke="#003e0b"/><path d="M90.3,72.5L93.7,70.6 90.1,70.1 86.8,72.0Z" fill="#00431a" stroke="#00431a"/><path d="M216.1,40.3L219.6,38.4 215.9,37.9 212.5,39.8Z" fill="#603600" stroke="#603600"/><path d="M191.4,46.3L194.8,44.4 191.2,43.8 187.7,45.7Z" fill="#5a4e00" stroke="#5a4e00"/><path d="M149.3,56.9L152.7,55.0 149.0,54.5 145.6,56.4Z" fill="#224800" stroke="#224800"/><path d="M223.2,38.9L226.7,37.1 223.0,36.5 219.6,38.4Z" fill="#612f00" stroke="#612f00"/><path d="M131.9,61.6L135.2,59.7 131.6,59.1 128.2,61.0Z" fill="#0a3e00" stroke="#0a3e00"/><path d="M173.8,50.9L177.2,49.0 173.6,48.5 170.2,50.4Z" fill="#4a5400" stroke="#4a5400"/><path d="M198.5,44.9L201.9,43.0 198.2,42.5 194.8,44.4Z" fill="#5c4800" stroke="#5c4800"/><path d="M63.1,80.9L66.4,78.9 62.8,78.4 59.5,80.4Z" fill="#004c38" stroke="#004c38"/><path d="M114.5,66.3L117.9,64.4 114.3,63.8 110.9,65.8Z" fill="#003c06" stroke="#003c06"/><path d="M80.1,76.0L83.4,74.0 79.8,73.5 76.5,75.4Z" fill="#004625" stroke="#004625"/><path d="M97.3,71.1L100.6,69.1 97.0,68.6 93.7,70.6Z" fill="#004114" stroke="#004114"/><path d="M156.3,55.5L159.7,53.6 156.1,53.1 152.7,55.0Z" fill="#2c4b00" stroke="#2c4b00"/><path d="M230.3,37.6L233.8,35.7 230.1,35.2 226.7,37.1Z" fill="#632800" stroke="#632800"/><path d="M180.9,49.5L184.3,47.6 180.6,47.1 177.2,49.0Z" fill="#555700" stroke="#555700"/><path d="M205.6,43.5L209.0,41.7 205.3,41.1 201.9,43.0Z" fill="#5d4200" stroke="#5d4200"/><path d="M138.9,60.2L142.2,58.3 138.6,57.7 135.2,59.7Z" fill="#124200" stroke="#124200"/><path d="M52.9,84.4L56.2,82.4 52.6,81.9 49.4,83.9Z" fill="#005046" stroke="#005046"/><path d="M121.5,64.9L124.9,63.0 121.2,62.4 117.9,64.4Z" fill="#003a02" stroke="#003a02"/><path d="M69.9,79.4L73.2,77.4 69.6,76.9 66.4,78.9Z" fill="#004a31" stroke="#004a31"/><path d="M237.5,36.2L240.9,34.3 237.3,33.8 233.8,35.7Z" fill="#642200" stroke="#642200"/><path d="M104.2,69.7L107.6,67.7 104.0,67.2 100.6,69.1Z" fill="#003f0e" stroke="#003f0e"/><path d="M87.0,74.5L90.3,72.5 86.8,72.0 83.4,74.0Z" fill="#00441e" stroke="#00441e"/><path d="M163.3,54.2L166.7,52.3 163.1,51.7 159.7,53.6Z" fill="#364f00" stroke="#364f00"/><path d="M212.7,42.2L216.1,40.3 212.5,39.8 209.0,41.7Z" fill="#5f3b00" stroke="#5f3b00"/><path d="M187.9,48.2L191.4,46.3 187.7,45.7 184.3,47.6Z" fill="#595300" stroke="#595300"/><path d="M145.9,58.8L149.3,56.9 145.6,56.4 142.2,58.3Z" fill="#1b4500" stroke="#1b4500"/><path d="M128.5,63.5L131.9,61.6 128.2,61.0 124.9,63.0Z" fill="#043b00" stroke="#043b00"/><path d="M59.8,82.9L63.1,80.9 59.5,80.4 56.2,82.4Z" fill="#004e3e" stroke="#004e3e"/><path d="M170.4,52.8L173.8,50.9 170.2,50.4 166.7,52.3Z" fill="#415200" stroke="#415200"/><path d="M219.8,40.8L223.2,38.9 219.6,38.4 216.1,40.3Z" fill="#603500" stroke="#603500"/><path d="M111.2,68.3L114.5,66.3 110.9,65.8 107.6,67.7Z" fill="#003d09" stroke="#003d09"/><path d="M195.0,46.8L198.5,44.9 194.8,44.4 191.4,46.3Z" fill="#5b4d00" stroke="#5b4d00"/><path d="M76.8,77.9L80.1,76.0 76.5,75.4 73.2,77.4Z" fill="#004829" stroke="#004829"/><path d="M93.9,73.1L97.3,71.1 93.7,70.6 90.3,72.5Z" fill="#004218" stroke="#004218"/><path d="M152.9,57.4L156.3,55.5 152.7,55.0 149.3,56.9Z" fill="#244900" stroke="#244900"/><path d="M226.9,39.5L230.3,37.6 226.7,37.1 223.2,38.9Z" fill="#622e00" stroke="#622e00"/><path d="M177.4,51.4L180.9,49.5 177.2,49.0 173.8,50.9Z" fill="#4c5500" stroke="#4c5500"/><path d="M135.5,62.1L138.9,60.2 135.2,59.7 131.9,61.6Z" fill="#0c3f00" stroke="#0c3f00"/><path d="M202.1,45.4L205.6,43.5 201.9,43.0 198.5,44.9Z" fill="#5c4700" stroke="#5c4700"/><path d="M49.7,86.5L52.9,84.4 49.4,83.9 46.1,86.0Z" fill="#00514c" stroke="#00514c"/><path d="M118.1,66.8L121.5,64.9 117.9,64.4 114.5,66.3Z" fill="#003b05" stroke="#003b05"/><path d="M66.6,81.4L69.9,79.4 66.4,78.9 63.1,80.9Z" fill="#004b36" stroke="#004b36"/><path d="M100.9,71.6L104.2,69.7 100.6,69.1 97.3,71.1Z" fill="#004012" stroke="#004012"/><path d="M83.7,76.5L87.0,74.5 83.4,74.0 80.1,76.0Z" fill="#004622" stroke="#004622"/><path d="M234.0,38.1L237.5,36.2 233.8,35.7 230.3,37.6Z" fill="#632700" stroke="#632700"/><path d="M159.9,56.1L163.3,54.2 159.7,53.6 156.3,55.5Z" fill="#2e4c00" stroke="#2e4c00"/><path d="M209.2,44.1L212.7,42.2 209.0,41.7 205.6,43.5Z" fill="#5e4100" stroke="#5e4100"/><path d="M184.5,50.1L187.9,48.2 184.3,47.6 180.9,49.5Z" fill="#585800" stroke="#585800"/><path d="M142.5,60.7L145.9,58.8 142.2,58.3 138.9,60.2Z" fill="#144200" stroke="#144200"/><path d="M241.1,36.7L244.6,34.9 240.9,34.3 237.5,36.2Z" fill="#642100" stroke="#642100"/><path d="M56.5,84.9L59.8,82.9 56.2,82.4 52.9,84.4Z" fill="#004f43" stroke="#004f43"/><path d="M125.1,65.4L128.5,63.5 124.9,63.0 121.5,64.9Z" fill="#003901" stroke="#003901"/><path d="M167.0,54.7L170.4,52.8 166.7,52.3 163.3,54.2Z" fill="#384f00" stroke="#384f00"/><path d="M73.5,79.9L76.8,77.9 73.2,77.4 69.9,79.4Z" fill="#00492e" stroke="#00492e"/><path d="M107.8,70.2L111.2,68.3 107.6,67.7 104.2,69.7Z" fill="#003e0d" stroke="#003e0d"/><path d="M216.3,42.7L219.8,40.8 216.1,40.3 212.7,42.2Z" fill="#5f3a00" stroke="#5f3a00"/><path d="M90.6,75.0L93.9,73.1 90.3,72.5 87.0,74.5Z" fill="#00441c" stroke="#00441c"/><path d="M191.6,48.7L195.0,46.8 191.4,46.3 187.9,48.2Z" fill="#5a5200" stroke="#5a5200"/><path d="M149.5,59.3L152.9,57.4 149.3,56.9 145.9,58.8Z" fill="#1d4600" stroke="#1d4600"/><path d="M46.4,88.5L49.7,86.5 46.1,86.0 42.8,88.0Z" fill="#005352" stroke="#005352"/><path d="M223.4,41.4L226.9,39.5 223.2,38.9 219.8,40.8Z" fill="#613400" stroke="#613400"/><path d="M174.0,53.3L177.4,51.4 173.8,50.9 170.4,52.8Z" fill="#435200" stroke="#435200"/><path d="M132.1,64.0L135.5,62.1 131.9,61.6 128.5,63.5Z" fill="#063c00" stroke="#063c00"/><path d="M198.7,47.3L202.1,45.4 198.5,44.9 195.0,46.8Z" fill="#5b4c00" stroke="#5b4c00"/><path d="M63.3,83.4L66.6,81.4 63.1,80.9 59.8,82.9Z" fill="#004d3b" stroke="#004d3b"/><path d="M114.8,68.8L118.1,66.8 114.5,66.3 111.2,68.3Z" fill="#003c08" stroke="#003c08"/><path d="M80.4,78.5L83.7,76.5 80.1,76.0 76.8,77.9Z" fill="#004727" stroke="#004727"/><path d="M97.5,73.6L100.9,71.6 97.3,71.1 93.9,73.1Z" fill="#004116" stroke="#004116"/><path d="M156.5,58.0L159.9,56.1 156.3,55.5 152.9,57.4Z" fill="#264900" stroke="#264900"/><path d="M230.5,40.0L234.0,38.1 230.3,37.6 226.9,39.5Z" fill="#622d00" stroke="#622d00"/><path d="M181.1,52.0L184.5,50.1 180.9,49.5 177.4,51.4Z" fill="#4f5600" stroke="#4f5600"/><path d="M205.8,46.0L209.2,44.1 205.6,43.5 202.1,45.4Z" fill="#5d4600" stroke="#5d4600"/><path d="M139.1,62.6L142.5,60.7 138.9,60.2 135.5,62.1Z" fill="#0e4000" stroke="#0e4000"/><path d="M53.2,86.9L56.5,84.9 52.9,84.4 49.7,86.5Z" fill="#005049" stroke="#005049"/><path d="M121.7,67.4L125.1,65.4 121.5,64.9 118.1,66.8Z" fill="#003a04" stroke="#003a04"/><path d="M237.7,38.6L241.1,36.7 237.5,36.2 234.0,38.1Z" fill="#632700" stroke="#632700"/><path d="M70.2,81.9L73.5,79.9 69.9,79.4 66.6,81.4Z" fill="#004a33" stroke="#004a33"/><path d="M104.5,72.1L107.8,70.2 104.2,69.7 100.9,71.6Z" fill="#003f11" stroke="#003f11"/><path d="M163.6,56.6L167.0,54.7 163.3,54.2 159.9,56.1Z" fill="#304d00" stroke="#304d00"/><path d="M87.3,77.0L90.6,75.0 87.0,74.5 83.7,76.5Z" fill="#004520" stroke="#004520"/><path d="M212.9,44.6L216.3,42.7 212.7,42.2 209.2,44.1Z" fill="#5e3f00" stroke="#5e3f00"/><path d="M188.2,50.6L191.6,48.7 187.9,48.2 184.5,50.1Z" fill="#585700" stroke="#585700"/><path d="M146.1,61.3L149.5,59.3 145.9,58.8 142.5,60.7Z" fill="#164300" stroke="#164300"/><path d="M244.8,37.3L248.3,35.4 244.6,34.9 241.1,36.7Z" fill="#652000" stroke="#652000"/><path d="M128.7,66.0L132.1,64.0 128.5,63.5 125.1,65.4Z" fill="#013900" stroke="#013900"/><path d="M170.6,55.2L174.0,53.3 170.4,52.8 167.0,54.7Z" fill="#3b5000" stroke="#3b5000"/><path d="M220.0,43.2L223.4,41.4 219.8,40.8 216.3,42.7Z" fill="#5f3900" stroke="#5f3900"/><path d="M60.1,85.4L63.3,83.4 59.8,82.9 56.5,84.9Z" fill="#004e40" stroke="#004e40"/><path d="M195.2,49.2L198.7,47.3 195.0,46.8 191.6,48.7Z" fill="#5a5100" stroke="#5a5100"/><path d="M111.4,70.7L114.8,68.8 111.2,68.3 107.8,70.2Z" fill="#003d0c" stroke="#003d0c"/><path d="M77.1,80.4L80.4,78.5 76.8,77.9 73.5,79.9Z" fill="#00482c" stroke="#00482c"/><path d="M94.2,75.5L97.5,73.6 93.9,73.1 90.6,75.0Z" fill="#00431a" stroke="#00431a"/><path d="M153.1,59.9L156.5,58.0 152.9,57.4 149.5,59.3Z" fill="#1f4700" stroke="#1f4700"/><path d="M227.1,41.9L230.5,40.0 226.9,39.5 223.4,41.4Z" fill="#613300" stroke="#613300"/><path d="M177.7,53.9L181.1,52.0 177.4,51.4 174.0,53.3Z" fill="#465300" stroke="#465300"/><path d="M202.3,47.9L205.8,46.0 202.1,45.4 198.7,47.3Z" fill="#5b4b00" stroke="#5b4b00"/><path d="M135.7,64.6L139.1,62.6 135.5,62.1 132.1,64.0Z" fill="#083d00" stroke="#083d00"/><path d="M49.9,89.0L53.2,86.9 49.7,86.5 46.4,88.5Z" fill="#00524f" stroke="#00524f"/><path d="M118.4,69.3L121.7,67.4 118.1,66.8 114.8,68.8Z" fill="#003c07" stroke="#003c07"/><path d="M66.9,83.9L70.2,81.9 66.6,81.4 63.3,83.4Z" fill="#004c38" stroke="#004c38"/><path d="M101.1,74.1L104.5,72.1 100.9,71.6 97.5,73.6Z" fill="#004114" stroke="#004114"/><path d="M84.0,79.0L87.3,77.0 83.7,76.5 80.4,78.5Z" fill="#004625" stroke="#004625"/><path d="M234.2,40.5L237.7,38.6 234.0,38.1 230.5,40.0Z" fill="#622c00" stroke="#622c00"/><path d="M160.2,58.5L163.6,56.6 159.9,56.1 156.5,58.0Z" fill="#294a00" stroke="#294a00"/><path d="M209.4,46.5L212.9,44.6 209.2,44.1 205.8,46.0Z" fill="#5d4500" stroke="#5d4500"/><path d="M184.7,52.5L188.2,50.6 184.5,50.1 181.1,52.0Z" fill="#515600" stroke="#515600"/><path d="M142.7,63.2L146.1,61.3 142.5,60.7 139.1,62.6Z" fill="#104100" stroke="#104100"/><path d="M241.3,39.1L244.8,37.3 241.1,36.7 237.7,38.6Z" fill="#642600" stroke="#642600"/><path d="M125.4,67.9L128.7,66.0 125.1,65.4 121.7,67.4Z" fill="#003a02" stroke="#003a02"/><path d="M56.8,87.4L60.1,85.4 56.5,84.9 53.2,86.9Z" fill="#004f46" stroke="#004f46"/><path d="M167.2,57.1L170.6,55.2 167.0,54.7 163.6,56.6Z" fill="#334d00" stroke="#334d00"/><path d="M216.5,45.1L220.0,43.2 216.3,42.7 212.9,44.6Z" fill="#5e3e00" stroke="#5e3e00"/><path d="M108.1,72.7L111.4,70.7 107.8,70.2 104.5,72.1Z" fill="#003f0f" stroke="#003f0f"/><path d="M73.8,82.4L77.1,80.4 73.5,79.9 70.2,81.9Z" fill="#004a31" stroke="#004a31"/><path d="M90.9,77.5L94.2,75.5 90.6,75.0 87.3,77.0Z" fill="#00441e" stroke="#00441e"/><path d="M191.8,51.1L195.2,49.2 191.6,48.7 188.2,50.6Z" fill="#595600" stroke="#595600"/><path d="M248.4,37.8L251.9,35.9 248.3,35.4 244.8,37.3Z" fill="#651f00" stroke="#651f00"/><path d="M149.7,61.8L153.1,59.9 149.5,59.3 146.1,61.3Z" fill="#184400" stroke="#184400"/><path d="M223.6,43.8L227.1,41.9 223.4,41.4 220.0,43.2Z" fill="#603800" stroke="#603800"/><path d="M174.3,55.8L177.7,53.9 174.0,53.3 170.6,55.2Z" fill="#3d5100" stroke="#3d5100"/><path d="M132.4,66.5L135.7,64.6 132.1,64.0 128.7,66.0Z" fill="#033a00" stroke="#033a00"/><path d="M198.9,49.8L202.3,47.9 198.7,47.3 195.2,49.2Z" fill="#5a5000" stroke="#5a5000"/><path d="M63.6,85.9L66.9,83.9 63.3,83.4 60.1,85.4Z" fill="#004d3d" stroke="#004d3d"/><path d="M115.0,71.2L118.4,69.3 114.8,68.8 111.4,70.7Z" fill="#003d0a" stroke="#003d0a"/><path d="M80.7,80.9L84.0,79.0 80.4,78.5 77.1,80.4Z" fill="#004729" stroke="#004729"/><path d="M97.8,76.1L101.1,74.1 97.5,73.6 94.2,75.5Z" fill="#004218" stroke="#004218"/><path d="M156.8,60.4L160.2,58.5 156.5,58.0 153.1,59.9Z" fill="#224800" stroke="#224800"/><path d="M230.7,42.4L234.2,40.5 230.5,40.0 227.1,41.9Z" fill="#613200" stroke="#613200"/><path d="M181.3,54.4L184.7,52.5 181.1,52.0 177.7,53.9Z" fill="#485400" stroke="#485400"/><path d="M206.0,48.4L209.4,46.5 205.8,46.0 202.3,47.9Z" fill="#5c4a00" stroke="#5c4a00"/><path d="M139.4,65.1L142.7,63.2 139.1,62.6 135.7,64.6Z" fill="#0a3e00" stroke="#0a3e00"/><path d="M53.5,89.5L56.8,87.4 53.2,86.9 49.9,89.0Z" fill="#00514c" stroke="#00514c"/><path d="M237.9,41.0L241.3,39.1 237.7,38.6 234.2,40.5Z" fill="#622b00" stroke="#622b00"/><path d="M122.0,69.8L125.4,67.9 121.7,67.4 118.4,69.3Z" fill="#003b06" stroke="#003b06"/><path d="M70.5,84.4L73.8,82.4 70.2,81.9 66.9,83.9Z" fill="#004b35" stroke="#004b35"/><path d="M163.8,59.0L167.2,57.1 163.6,56.6 160.2,58.5Z" fill="#2b4b00" stroke="#2b4b00"/><path d="M104.7,74.6L108.1,72.7 104.5,72.1 101.1,74.1Z" fill="#004013" stroke="#004013"/><path d="M87.6,79.5L90.9,77.5 87.3,77.0 84.0,79.0Z" fill="#004523" stroke="#004523"/><path d="M213.1,47.0L216.5,45.1 212.9,44.6 209.4,46.5Z" fill="#5d4300" stroke="#5d4300"/><path d="M188.4,53.0L191.8,51.1 188.2,50.6 184.7,52.5Z" fill="#545700" stroke="#545700"/><path d="M245.0,39.7L248.4,37.8 244.8,37.3 241.3,39.1Z" fill="#642500" stroke="#642500"/><path d="M146.4,63.7L149.7,61.8 146.1,61.3 142.7,63.2Z" fill="#124100" stroke="#124100"/><path d="M129.0,68.4L132.4,66.5 128.7,66.0 125.4,67.9Z" fill="#003901" stroke="#003901"/><path d="M220.2,45.7L223.6,43.8 220.0,43.2 216.5,45.1Z" fill="#5f3d00" stroke="#5f3d00"/><path d="M170.9,57.7L174.3,55.8 170.6,55.2 167.2,57.1Z" fill="#354e00" stroke="#354e00"/><path d="M60.3,87.9L63.6,85.9 60.1,85.4 56.8,87.4Z" fill="#004e43" stroke="#004e43"/><path d="M195.5,51.7L198.9,49.8 195.2,49.2 191.8,51.1Z" fill="#595400" stroke="#595400"/><path d="M252.1,38.3L255.6,36.4 251.9,35.9 248.4,37.8Z" fill="#651e00" stroke="#651e00"/><path d="M111.7,73.2L115.0,71.2 111.4,70.7 108.1,72.7Z" fill="#003e0e" stroke="#003e0e"/><path d="M77.4,82.9L80.7,80.9 77.1,80.4 73.8,82.4Z" fill="#00492e" stroke="#00492e"/><path d="M94.5,78.0L97.8,76.1 94.2,75.5 90.9,77.5Z" fill="#00431c" stroke="#00431c"/><path d="M153.4,62.3L156.8,60.4 153.1,59.9 149.7,61.8Z" fill="#1b4500" stroke="#1b4500"/><path d="M227.3,44.3L230.7,42.4 227.1,41.9 223.6,43.8Z" fill="#603700" stroke="#603700"/><path d="M177.9,56.3L181.3,54.4 177.7,53.9 174.3,55.8Z" fill="#405100" stroke="#405100"/><path d="M202.5,50.3L206.0,48.4 202.3,47.9 198.9,49.8Z" fill="#5b4e00" stroke="#5b4e00"/><path d="M136.0,67.0L139.4,65.1 135.7,64.6 132.4,66.5Z" fill="#053b00" stroke="#053b00"/><path d="M118.7,71.8L122.0,69.8 118.4,69.3 115.0,71.2Z" fill="#003c09" stroke="#003c09"/><path d="M67.2,86.4L70.5,84.4 66.9,83.9 63.6,85.9Z" fill="#004c3b" stroke="#004c3b"/><path d="M234.4,42.9L237.9,41.0 234.2,40.5 230.7,42.4Z" fill="#613000" stroke="#613000"/><path d="M101.4,76.6L104.7,74.6 101.1,74.1 97.8,76.1Z" fill="#004117" stroke="#004117"/><path d="M84.3,81.5L87.6,79.5 84.0,79.0 80.7,80.9Z" fill="#004727" stroke="#004727"/><path d="M160.4,60.9L163.8,59.0 160.2,58.5 156.8,60.4Z" fill="#244800" stroke="#244800"/><path d="M209.6,48.9L213.1,47.0 209.4,46.5 206.0,48.4Z" fill="#5c4800" stroke="#5c4800"/><path d="M185.0,54.9L188.4,53.0 184.7,52.5 181.3,54.4Z" fill="#4b5500" stroke="#4b5500"/><path d="M143.0,65.6L146.4,63.7 142.7,63.2 139.4,65.1Z" fill="#0c3f00" stroke="#0c3f00"/><path d="M241.5,41.6L245.0,39.7 241.3,39.1 237.9,41.0Z" fill="#632a00" stroke="#632a00"/><path d="M125.6,70.4L129.0,68.4 125.4,67.9 122.0,69.8Z" fill="#003a04" stroke="#003a04"/><path d="M57.1,89.9L60.3,87.9 56.8,87.4 53.5,89.5Z" fill="#005048" stroke="#005048"/><path d="M167.4,59.6L170.9,57.7 167.2,57.1 163.8,59.0Z" fill="#2e4c00" stroke="#2e4c00"/><path d="M216.7,47.6L220.2,45.7 216.5,45.1 213.1,47.0Z" fill="#5e4200" stroke="#5e4200"/><path d="M108.4,75.1L111.7,73.2 108.1,72.7 104.7,74.6Z" fill="#003f11" stroke="#003f11"/><path d="M192.0,53.5L195.5,51.7 191.8,51.1 188.4,53.0Z" fill="#565800" stroke="#565800"/><path d="M74.1,84.9L77.4,82.9 73.8,82.4 70.5,84.4Z" fill="#004a33" stroke="#004a33"/><path d="M91.2,80.0L94.5,78.0 90.9,77.5 87.6,79.5Z" fill="#004421" stroke="#004421"/><path d="M248.6,40.2L252.1,38.3 248.4,37.8 245.0,39.7Z" fill="#642400" stroke="#642400"/><path d="M150.0,64.2L153.4,62.3 149.7,61.8 146.4,63.7Z" fill="#144200" stroke="#144200"/><path d="M223.8,46.2L227.3,44.3 223.6,43.8 220.2,45.7Z" fill="#5f3c00" stroke="#5f3c00"/><path d="M174.5,58.2L177.9,56.3 174.3,55.8 170.9,57.7Z" fill="#384f00" stroke="#384f00"/><path d="M132.6,69.0L136.0,67.0 132.4,66.5 129.0,68.4Z" fill="#003900" stroke="#003900"/><path d="M255.8,38.8L259.2,36.9 255.6,36.4 252.1,38.3Z" fill="#651d00" stroke="#651d00"/><path d="M199.1,52.2L202.5,50.3 198.9,49.8 195.5,51.7Z" fill="#595300" stroke="#595300"/><path d="M115.3,73.7L118.7,71.8 115.0,71.2 111.7,73.2Z" fill="#003d0c" stroke="#003d0c"/><path d="M63.9,88.4L67.2,86.4 63.6,85.9 60.3,87.9Z" fill="#004d40" stroke="#004d40"/><path d="M98.1,78.5L101.4,76.6 97.8,76.1 94.5,78.0Z" fill="#00421a" stroke="#00421a"/><path d="M80.9,83.4L84.3,81.5 80.7,80.9 77.4,82.9Z" fill="#00482c" stroke="#00482c"/><path d="M157.0,62.9L160.4,60.9 156.8,60.4 153.4,62.3Z" fill="#1d4600" stroke="#1d4600"/><path d="M230.9,44.8L234.4,42.9 230.7,42.4 227.3,44.3Z" fill="#603600" stroke="#603600"/><path d="M181.6,56.8L185.0,54.9 181.3,54.4 177.9,56.3Z" fill="#435200" stroke="#435200"/><path d="M206.2,50.8L209.6,48.9 206.0,48.4 202.5,50.3Z" fill="#5b4d00" stroke="#5b4d00"/><path d="M139.6,67.6L143.0,65.6 139.4,65.1 136.0,67.0Z" fill="#073c00" stroke="#073c00"/><path d="M238.1,43.4L241.5,41.6 237.9,41.0 234.4,42.9Z" fill="#622f00" stroke="#622f00"/><path d="M122.3,72.3L125.6,70.4 122.0,69.8 118.7,71.8Z" fill="#003c07" stroke="#003c07"/><path d="M164.0,61.5L167.4,59.6 163.8,59.0 160.4,60.9Z" fill="#264900" stroke="#264900"/><path d="M70.8,86.9L74.1,84.9 70.5,84.4 67.2,86.4Z" fill="#004b38" stroke="#004b38"/><path d="M105.0,77.1L108.4,75.1 104.7,74.6 101.4,76.6Z" fill="#004015" stroke="#004015"/><path d="M87.8,82.0L91.2,80.0 87.6,79.5 84.3,81.5Z" fill="#004625" stroke="#004625"/><path d="M213.3,49.4L216.7,47.6 213.1,47.0 209.6,48.9Z" fill="#5c4700" stroke="#5c4700"/><path d="M188.6,55.4L192.0,53.5 188.4,53.0 185.0,54.9Z" fill="#4e5500" stroke="#4e5500"/><path d="M245.2,42.1L248.6,40.2 245.0,39.7 241.5,41.6Z" fill="#632900" stroke="#632900"/><path d="M146.6,66.2L150.0,64.2 146.4,63.7 143.0,65.6Z" fill="#0e4000" stroke="#0e4000"/><path d="M220.4,48.1L223.8,46.2 220.2,45.7 216.7,47.6Z" fill="#5e4100" stroke="#5e4100"/><path d="M129.2,70.9L132.6,69.0 129.0,68.4 125.6,70.4Z" fill="#003a03" stroke="#003a03"/><path d="M171.1,60.1L174.5,58.2 170.9,57.7 167.4,59.6Z" fill="#304d00" stroke="#304d00"/><path d="M195.7,54.1L199.1,52.2 195.5,51.7 192.0,53.5Z" fill="#585800" stroke="#585800"/><path d="M252.3,40.7L255.8,38.8 252.1,38.3 248.6,40.2Z" fill="#642300" stroke="#642300"/><path d="M60.6,90.4L63.9,88.4 60.3,87.9 57.1,89.9Z" fill="#004f45" stroke="#004f45"/><path d="M112.0,75.7L115.3,73.7 111.7,73.2 108.4,75.1Z" fill="#003f0f" stroke="#003f0f"/><path d="M77.6,85.4L80.9,83.4 77.4,82.9 74.1,84.9Z" fill="#004930" stroke="#004930"/><path d="M94.8,80.5L98.1,78.5 94.5,78.0 91.2,80.0Z" fill="#00441e" stroke="#00441e"/><path d="M153.6,64.8L157.0,62.9 153.4,62.3 150.0,64.2Z" fill="#174300" stroke="#174300"/><path d="M227.5,46.7L230.9,44.8 227.3,44.3 223.8,46.2Z" fill="#5f3b00" stroke="#5f3b00"/><path d="M259.4,39.3L262.9,37.4 259.2,36.9 255.8,38.8Z" fill="#661c00" stroke="#661c00"/><path d="M178.1,58.7L181.6,56.8 177.9,56.3 174.5,58.2Z" fill="#3a5000" stroke="#3a5000"/><path d="M202.8,52.7L206.2,50.8 202.5,50.3 199.1,52.2Z" fill="#5a5200" stroke="#5a5200"/><path d="M136.2,69.5L139.6,67.6 136.0,67.0 132.6,69.0Z" fill="#023900" stroke="#023900"/><path d="M118.9,74.2L122.3,72.3 118.7,71.8 115.3,73.7Z" fill="#003d0b" stroke="#003d0b"/><path d="M234.6,45.3L238.1,43.4 234.4,42.9 230.9,44.8Z" fill="#613500" stroke="#613500"/><path d="M67.5,88.9L70.8,86.9 67.2,86.4 63.9,88.4Z" fill="#004c3d" stroke="#004c3d"/><path d="M101.7,79.0L105.0,77.1 101.4,76.6 98.1,78.5Z" fill="#004219" stroke="#004219"/><path d="M160.7,63.4L164.0,61.5 160.4,60.9 157.0,62.9Z" fill="#204700" stroke="#204700"/><path d="M84.5,83.9L87.8,82.0 84.3,81.5 80.9,83.4Z" fill="#004729" stroke="#004729"/><path d="M209.9,51.3L213.3,49.4 209.6,48.9 206.2,50.8Z" fill="#5b4c00" stroke="#5b4c00"/><path d="M185.2,57.3L188.6,55.4 185.0,54.9 181.6,56.8Z" fill="#455300" stroke="#455300"/><path d="M143.2,68.1L146.6,66.2 143.0,65.6 139.6,67.6Z" fill="#093d00" stroke="#093d00"/><path d="M241.7,44.0L245.2,42.1 241.5,41.6 238.1,43.4Z" fill="#622e00" stroke="#622e00"/><path d="M125.9,72.8L129.2,70.9 125.6,70.4 122.3,72.3Z" fill="#003b06" stroke="#003b06"/><path d="M167.7,62.0L171.1,60.1 167.4,59.6 164.0,61.5Z" fill="#294a00" stroke="#294a00"/><path d="M216.9,50.0L220.4,48.1 216.7,47.6 213.3,49.4Z" fill="#5d4600" stroke="#5d4600"/><path d="M192.3,56.0L195.7,54.1 192.0,53.5 188.6,55.4Z" fill="#505600" stroke="#505600"/><path d="M108.6,77.6L112.0,75.7 108.4,75.1 105.0,77.1Z" fill="#004013" stroke="#004013"/><path d="M74.3,87.4L77.6,85.4 74.1,84.9 70.8,86.9Z" fill="#004a35" stroke="#004a35"/><path d="M91.4,82.5L94.8,80.5 91.2,80.0 87.8,82.0Z" fill="#004523" stroke="#004523"/><path d="M248.8,42.6L252.3,40.7 248.6,40.2 245.2,42.1Z" fill="#632800" stroke="#632800"/><path d="M150.2,66.7L153.6,64.8 150.0,64.2 146.6,66.2Z" fill="#114100" stroke="#114100"/><path d="M224.1,48.6L227.5,46.7 223.8,46.2 220.4,48.1Z" fill="#5e4000" stroke="#5e4000"/><path d="M174.7,60.6L178.1,58.7 174.5,58.2 171.1,60.1Z" fill="#334d00" stroke="#334d00"/><path d="M256.0,41.2L259.4,39.3 255.8,38.8 252.3,40.7Z" fill="#652200" stroke="#652200"/><path d="M199.3,54.6L202.8,52.7 199.1,52.2 195.7,54.1Z" fill="#585600" stroke="#585600"/><path d="M132.9,71.4L136.2,69.5 132.6,69.0 129.2,70.9Z" fill="#003902" stroke="#003902"/><path d="M115.6,76.2L118.9,74.2 115.3,73.7 112.0,75.7Z" fill="#003e0e" stroke="#003e0e"/><path d="M64.2,90.9L67.5,88.9 63.9,88.4 60.6,90.4Z" fill="#004e42" stroke="#004e42"/><path d="M98.4,81.0L101.7,79.0 98.1,78.5 94.8,80.5Z" fill="#00431c" stroke="#00431c"/><path d="M81.2,85.9L84.5,83.9 80.9,83.4 77.6,85.4Z" fill="#00482e" stroke="#00482e"/><path d="M231.2,47.2L234.6,45.3 230.9,44.8 227.5,46.7Z" fill="#603a00" stroke="#603a00"/><path d="M157.3,65.3L160.7,63.4 157.0,62.9 153.6,64.8Z" fill="#194400" stroke="#194400"/><path d="M263.1,39.8L266.6,37.9 262.9,37.4 259.4,39.3Z" fill="#661b00" stroke="#661b00"/><path d="M206.4,53.2L209.9,51.3 206.2,50.8 202.8,52.7Z" fill="#5a5000" stroke="#5a5000"/><path d="M181.8,59.3L185.2,57.3 181.6,56.8 178.1,58.7Z" fill="#3d5000" stroke="#3d5000"/><path d="M139.9,70.0L143.2,68.1 139.6,67.6 136.2,69.5Z" fill="#043a00" stroke="#043a00"/><path d="M238.3,45.9L241.7,44.0 238.1,43.4 234.6,45.3Z" fill="#613300" stroke="#613300"/><path d="M122.5,74.8L125.9,72.8 122.3,72.3 118.9,74.2Z" fill="#003c09" stroke="#003c09"/><path d="M164.3,63.9L167.7,62.0 164.0,61.5 160.7,63.4Z" fill="#224800" stroke="#224800"/><path d="M105.3,79.6L108.6,77.6 105.0,77.1 101.7,79.0Z" fill="#004117" stroke="#004117"/><path d="M71.1,89.4L74.3,87.4 70.8,86.9 67.5,88.9Z" fill="#004b3a" stroke="#004b3a"/><path d="M213.5,51.9L216.9,50.0 213.3,49.4 209.9,51.3Z" fill="#5c4a00" stroke="#5c4a00"/><path d="M88.1,84.4L91.4,82.5 87.8,82.0 84.5,83.9Z" fill="#004627" stroke="#004627"/><path d="M188.8,57.9L192.3,56.0 188.6,55.4 185.2,57.3Z" fill="#485400" stroke="#485400"/><path d="M245.4,44.5L248.8,42.6 245.2,42.1 241.7,44.0Z" fill="#622d00" stroke="#622d00"/><path d="M146.9,68.6L150.2,66.7 146.6,66.2 143.2,68.1Z" fill="#0b3e00" stroke="#0b3e00"/><path d="M220.6,50.5L224.1,48.6 220.4,48.1 216.9,50.0Z" fill="#5d4500" stroke="#5d4500"/><path d="M171.3,62.5L174.7,60.6 171.1,60.1 167.7,62.0Z" fill="#2b4b00" stroke="#2b4b00"/><path d="M129.5,73.3L132.9,71.4 129.2,70.9 125.9,72.8Z" fill="#003a05" stroke="#003a05"/><path d="M195.9,56.5L199.3,54.6 195.7,54.1 192.3,56.0Z" fill="#535700" stroke="#535700"/><path d="M252.5,43.1L256.0,41.2 252.3,40.7 248.8,42.6Z" fill="#642700" stroke="#642700"/><path d="M112.2,78.1L115.6,76.2 112.0,75.7 108.6,77.6Z" fill="#003f11" stroke="#003f11"/><path d="M77.9,87.9L81.2,85.9 77.6,85.4 74.3,87.4Z" fill="#004932" stroke="#004932"/><path d="M95.0,83.0L98.4,81.0 94.8,80.5 91.4,82.5Z" fill="#004420" stroke="#004420"/><path d="M153.9,67.2L157.3,65.3 153.6,64.8 150.2,66.7Z" fill="#134200" stroke="#134200"/><path d="M227.7,49.1L231.2,47.2 227.5,46.7 224.1,48.6Z" fill="#5e3e00" stroke="#5e3e00"/><path d="M259.6,41.7L263.1,39.8 259.4,39.3 256.0,41.2Z" fill="#652100" stroke="#652100"/><path d="M178.4,61.2L181.8,59.3 178.1,58.7 174.7,60.6Z" fill="#354e00" stroke="#354e00"/><path d="M203.0,55.1L206.4,53.2 202.8,52.7 199.3,54.6Z" fill="#595500" stroke="#595500"/><path d="M136.5,71.9L139.9,70.0 136.2,69.5 132.9,71.4Z" fill="#003801" stroke="#003801"/><path d="M119.2,76.7L122.5,74.8 118.9,74.2 115.6,76.2Z" fill="#003d0c" stroke="#003d0c"/><path d="M234.8,47.8L238.3,45.9 234.6,45.3 231.2,47.2Z" fill="#603800" stroke="#603800"/><path d="M266.8,40.4L270.2,38.5 266.6,37.9 263.1,39.8Z" fill="#661b00" stroke="#661b00"/><path d="M67.8,91.4L71.1,89.4 67.5,88.9 64.2,90.9Z" fill="#004d3f" stroke="#004d3f"/><path d="M160.9,65.8L164.3,63.9 160.7,63.4 157.3,65.3Z" fill="#1b4500" stroke="#1b4500"/><path d="M102.0,81.5L105.3,79.6 101.7,79.0 98.4,81.0Z" fill="#00421a" stroke="#00421a"/><path d="M84.8,86.4L88.1,84.4 84.5,83.9 81.2,85.9Z" fill="#00472b" stroke="#00472b"/><path d="M210.1,53.8L213.5,51.9 209.9,51.3 206.4,53.2Z" fill="#5a4f00" stroke="#5a4f00"/><path d="M185.4,59.8L188.8,57.9 185.2,57.3 181.8,59.3Z" fill="#405100" stroke="#405100"/><path d="M143.5,70.5L146.9,68.6 143.2,68.1 139.9,70.0Z" fill="#063b00" stroke="#063b00"/><path d="M241.9,46.4L245.4,44.5 241.7,44.0 238.3,45.9Z" fill="#613200" stroke="#613200"/><path d="M126.1,75.3L129.5,73.3 125.9,72.8 122.5,74.8Z" fill="#003b08" stroke="#003b08"/><path d="M167.9,64.4L171.3,62.5 167.7,62.0 164.3,63.9Z" fill="#244800" stroke="#244800"/><path d="M217.2,52.4L220.6,50.5 216.9,50.0 213.5,51.9Z" fill="#5c4900" stroke="#5c4900"/><path d="M192.5,58.4L195.9,56.5 192.3,56.0 188.8,57.9Z" fill="#4b5400" stroke="#4b5400"/><path d="M108.9,80.1L112.2,78.1 108.6,77.6 105.3,79.6Z" fill="#004015" stroke="#004015"/><path d="M249.0,45.0L252.5,43.1 248.8,42.6 245.4,44.5Z" fill="#632c00" stroke="#632c00"/><path d="M74.6,89.9L77.9,87.9 74.3,87.4 71.1,89.4Z" fill="#004a37" stroke="#004a37"/><path d="M91.7,84.9L95.0,83.0 91.4,82.5 88.1,84.4Z" fill="#004525" stroke="#004525"/><path d="M150.5,69.1L153.9,67.2 150.2,66.7 146.9,68.6Z" fill="#0d3f00" stroke="#0d3f00"/><path d="M224.3,51.0L227.7,49.1 224.1,48.6 220.6,50.5Z" fill="#5d4300" stroke="#5d4300"/><path d="M256.2,43.6L259.6,41.7 256.0,41.2 252.5,43.1Z" fill="#642600" stroke="#642600"/><path d="M175.0,63.1L178.4,61.2 174.7,60.6 171.3,62.5Z" fill="#2e4c00" stroke="#2e4c00"/><path d="M199.6,57.0L203.0,55.1 199.3,54.6 195.9,56.5Z" fill="#565700" stroke="#565700"/><path d="M133.1,73.9L136.5,71.9 132.9,71.4 129.5,73.3Z" fill="#003a03" stroke="#003a03"/><path d="M115.8,78.6L119.2,76.7 115.6,76.2 112.2,78.1Z" fill="#003e10" stroke="#003e10"/><path d="M98.6,83.5L102.0,81.5 98.4,81.0 95.0,83.0Z" fill="#00431e" stroke="#00431e"/><path d="M231.4,49.6L234.8,47.8 231.2,47.2 227.7,49.1Z" fill="#5f3d00" stroke="#5f3d00"/><path d="M81.5,88.4L84.8,86.4 81.2,85.9 77.9,87.9Z" fill="#004830" stroke="#004830"/><path d="M263.3,42.3L266.8,40.4 263.1,39.8 259.6,41.7Z" fill="#652000" stroke="#652000"/><path d="M157.5,67.7L160.9,65.8 157.3,65.3 153.9,67.2Z" fill="#154200" stroke="#154200"/><path d="M206.7,55.7L210.1,53.8 206.4,53.2 203.0,55.1Z" fill="#595300" stroke="#595300"/><path d="M182.0,61.7L185.4,59.8 181.8,59.3 178.4,61.2Z" fill="#384f00" stroke="#384f00"/><path d="M140.1,72.5L143.5,70.5 139.9,70.0 136.5,71.9Z" fill="#013900" stroke="#013900"/><path d="M270.4,40.9L273.9,39.0 270.2,38.5 266.8,40.4Z" fill="#661a00" stroke="#661a00"/><path d="M238.5,48.3L241.9,46.4 238.3,45.9 234.8,47.8Z" fill="#603700" stroke="#603700"/><path d="M122.8,77.2L126.1,75.3 122.5,74.8 119.2,76.7Z" fill="#003c0b" stroke="#003c0b"/><path d="M164.5,66.4L167.9,64.4 164.3,63.9 160.9,65.8Z" fill="#1e4600" stroke="#1e4600"/><path d="M213.7,54.3L217.2,52.4 213.5,51.9 210.1,53.8Z" fill="#5b4e00" stroke="#5b4e00"/><path d="M105.6,82.0L108.9,80.1 105.3,79.6 102.0,81.5Z" fill="#004119" stroke="#004119"/><path d="M71.3,91.9L74.6,89.9 71.1,89.4 67.8,91.4Z" fill="#004c3c" stroke="#004c3c"/><path d="M189.1,60.3L192.5,58.4 188.8,57.9 185.4,59.8Z" fill="#425200" stroke="#425200"/><path d="M88.4,86.9L91.7,84.9 88.1,84.4 84.8,86.4Z" fill="#004629" stroke="#004629"/><path d="M245.6,46.9L249.0,45.0 245.4,44.5 241.9,46.4Z" fill="#623100" stroke="#623100"/><path d="M147.1,71.1L150.5,69.1 146.9,68.6 143.5,70.5Z" fill="#083c00" stroke="#083c00"/><path d="M220.8,52.9L224.3,51.0 220.6,50.5 217.2,52.4Z" fill="#5c4800" stroke="#5c4800"/><path d="M171.6,65.0L175.0,63.1 171.3,62.5 167.9,64.4Z" fill="#274900" stroke="#274900"/><path d="M129.8,75.8L133.1,73.9 129.5,73.3 126.1,75.3Z" fill="#003b06" stroke="#003b06"/><path d="M196.2,58.9L199.6,57.0 195.9,56.5 192.5,58.4Z" fill="#4d5500" stroke="#4d5500"/><path d="M252.7,45.5L256.2,43.6 252.5,43.1 249.0,45.0Z" fill="#632b00" stroke="#632b00"/><path d="M112.5,80.6L115.8,78.6 112.2,78.1 108.9,80.1Z" fill="#003f13" stroke="#003f13"/><path d="M95.3,85.4L98.6,83.5 95.0,83.0 91.7,84.9Z" fill="#004422" stroke="#004422"/><path d="M78.2,90.4L81.5,88.4 77.9,87.9 74.6,89.9Z" fill="#004934" stroke="#004934"/><path d="M154.1,69.7L157.5,67.7 153.9,67.2 150.5,69.1Z" fill="#0f4000" stroke="#0f4000"/><path d="M227.9,51.5L231.4,49.6 227.7,49.1 224.3,51.0Z" fill="#5e4200" stroke="#5e4200"/><path d="M259.8,44.1L263.3,42.3 259.6,41.7 256.2,43.6Z" fill="#642500" stroke="#642500"/><path d="M178.6,63.6L182.0,61.7 178.4,61.2 175.0,63.1Z" fill="#314c00" stroke="#314c00"/><path d="M203.2,57.6L206.7,55.7 203.0,55.1 199.6,57.0Z" fill="#585800" stroke="#585800"/><path d="M136.8,74.4L140.1,72.5 136.5,71.9 133.1,73.9Z" fill="#003902" stroke="#003902"/><path d="M267.0,42.8L270.4,40.9 266.8,40.4 263.3,42.3Z" fill="#651f00" stroke="#651f00"/><path d="M235.0,50.2L238.5,48.3 234.8,47.8 231.4,49.6Z" fill="#5f3c00" stroke="#5f3c00"/><path d="M119.5,79.2L122.8,77.2 119.2,76.7 115.8,78.6Z" fill="#003e0e" stroke="#003e0e"/><path d="M161.2,68.3L164.5,66.4 160.9,65.8 157.5,67.7Z" fill="#184300" stroke="#184300"/><path d="M102.2,84.0L105.6,82.0 102.0,81.5 98.6,83.5Z" fill="#00421c" stroke="#00421c"/><path d="M85.1,88.9L88.4,86.9 84.8,86.4 81.5,88.4Z" fill="#00472d" stroke="#00472d"/><path d="M210.3,56.2L213.7,54.3 210.1,53.8 206.7,55.7Z" fill="#595200" stroke="#595200"/><path d="M185.7,62.2L189.1,60.3 185.4,59.8 182.0,61.7Z" fill="#3b5000" stroke="#3b5000"/><path d="M274.1,41.4L277.6,39.5 273.9,39.0 270.4,40.9Z" fill="#671900" stroke="#671900"/><path d="M242.1,48.8L245.6,46.9 241.9,46.4 238.5,48.3Z" fill="#603600" stroke="#603600"/><path d="M143.7,73.0L147.1,71.1 143.5,70.5 140.1,72.5Z" fill="#033a00" stroke="#033a00"/><path d="M217.4,54.8L220.8,52.9 217.2,52.4 213.7,54.3Z" fill="#5b4c00" stroke="#5b4c00"/><path d="M126.4,77.7L129.8,75.8 126.1,75.3 122.8,77.2Z" fill="#003c09" stroke="#003c09"/><path d="M168.2,66.9L171.6,65.0 167.9,64.4 164.5,66.4Z" fill="#204700" stroke="#204700"/><path d="M192.7,60.8L196.2,58.9 192.5,58.4 189.1,60.3Z" fill="#455300" stroke="#455300"/><path d="M249.3,47.4L252.7,45.5 249.0,45.0 245.6,46.9Z" fill="#623000" stroke="#623000"/><path d="M109.2,82.5L112.5,80.6 108.9,80.1 105.6,82.0Z" fill="#004117" stroke="#004117"/><path d="M74.9,92.4L78.2,90.4 74.6,89.9 71.3,91.9Z" fill="#004b39" stroke="#004b39"/><path d="M92.0,87.4L95.3,85.4 91.7,84.9 88.4,86.9Z" fill="#004526" stroke="#004526"/><path d="M150.8,71.6L154.1,69.7 150.5,69.1 147.1,71.1Z" fill="#0a3d00" stroke="#0a3d00"/><path d="M224.5,53.4L227.9,51.5 224.3,51.0 220.8,52.9Z" fill="#5c4600" stroke="#5c4600"/><path d="M256.4,46.0L259.8,44.1 256.2,43.6 252.7,45.5Z" fill="#632a00" stroke="#632a00"/><path d="M175.2,65.5L178.6,63.6 175.0,63.1 171.6,65.0Z" fill="#2a4a00" stroke="#2a4a00"/><path d="M199.8,59.5L203.2,57.6 199.6,57.0 196.2,58.9Z" fill="#505600" stroke="#505600"/><path d="M133.4,76.3L136.8,74.4 133.1,73.9 129.8,75.8Z" fill="#003a05" stroke="#003a05"/><path d="M116.1,81.1L119.5,79.2 115.8,78.6 112.5,80.6Z" fill="#003f11" stroke="#003f11"/><path d="M231.6,52.1L235.0,50.2 231.4,49.6 227.9,51.5Z" fill="#5e4100" stroke="#5e4100"/><path d="M263.5,44.7L267.0,42.8 263.3,42.3 259.8,44.1Z" fill="#642400" stroke="#642400"/><path d="M98.9,85.9L102.2,84.0 98.6,83.5 95.3,85.4Z" fill="#004320" stroke="#004320"/><path d="M157.8,70.2L161.2,68.3 157.5,67.7 154.1,69.7Z" fill="#124100" stroke="#124100"/><path d="M81.8,90.9L85.1,88.9 81.5,88.4 78.2,90.4Z" fill="#004932" stroke="#004932"/><path d="M206.9,58.1L210.3,56.2 206.7,55.7 203.2,57.6Z" fill="#585600" stroke="#585600"/><path d="M182.3,64.1L185.7,62.2 182.0,61.7 178.6,63.6Z" fill="#334d00" stroke="#334d00"/><path d="M140.4,74.9L143.7,73.0 140.1,72.5 136.8,74.4Z" fill="#003801" stroke="#003801"/><path d="M270.6,43.3L274.1,41.4 270.4,40.9 267.0,42.8Z" fill="#661e00" stroke="#661e00"/><path d="M238.7,50.7L242.1,48.8 238.5,48.3 235.0,50.2Z" fill="#5f3b00" stroke="#5f3b00"/><path d="M123.1,79.7L126.4,77.7 122.8,77.2 119.5,79.2Z" fill="#003d0c" stroke="#003d0c"/><path d="M164.8,68.8L168.2,66.9 164.5,66.4 161.2,68.3Z" fill="#1a4400" stroke="#1a4400"/><path d="M214.0,56.7L217.4,54.8 213.7,54.3 210.3,56.2Z" fill="#5a5100" stroke="#5a5100"/><path d="M105.8,84.5L109.2,82.5 105.6,82.0 102.2,84.0Z" fill="#00421a" stroke="#00421a"/><path d="M189.3,62.7L192.7,60.8 189.1,60.3 185.7,62.2Z" fill="#3d5000" stroke="#3d5000"/><path d="M277.8,41.9L281.2,40.0 277.6,39.5 274.1,41.4Z" fill="#671800" stroke="#671800"/><path d="M88.7,89.4L92.0,87.4 88.4,86.9 85.1,88.9Z" fill="#00472b" stroke="#00472b"/><path d="M245.8,49.3L249.3,47.4 245.6,46.9 242.1,48.8Z" fill="#613500" stroke="#613500"/><path d="M147.4,73.5L150.8,71.6 147.1,71.1 143.7,73.0Z" fill="#053b00" stroke="#053b00"/><path d="M221.1,55.3L224.5,53.4 220.8,52.9 217.4,54.8Z" fill="#5b4b00" stroke="#5b4b00"/><path d="M171.8,67.4L175.2,65.5 171.6,65.0 168.2,66.9Z" fill="#234800" stroke="#234800"/><path d="M130.0,78.2L133.4,76.3 129.8,75.8 126.4,77.7Z" fill="#003b08" stroke="#003b08"/><path d="M252.9,47.9L256.4,46.0 252.7,45.5 249.3,47.4Z" fill="#622f00" stroke="#622f00"/><path d="M196.4,61.4L199.8,59.5 196.2,58.9 192.7,60.8Z" fill="#485300" stroke="#485300"/><path d="M112.8,83.0L116.1,81.1 112.5,80.6 109.2,82.5Z" fill="#004015" stroke="#004015"/><path d="M95.6,87.9L98.9,85.9 95.3,85.4 92.0,87.4Z" fill="#004524" stroke="#004524"/><path d="M78.5,92.8L81.8,90.9 78.2,90.4 74.9,92.4Z" fill="#004a36" stroke="#004a36"/><path d="M154.4,72.1L157.8,70.2 154.1,69.7 150.8,71.6Z" fill="#0c3e00" stroke="#0c3e00"/><path d="M228.2,54.0L231.6,52.1 227.9,51.5 224.5,53.4Z" fill="#5d4500" stroke="#5d4500"/><path d="M260.0,46.6L263.5,44.7 259.8,44.1 256.4,46.0Z" fill="#632900" stroke="#632900"/><path d="M178.9,66.0L182.3,64.1 178.6,63.6 175.2,65.5Z" fill="#2c4b00" stroke="#2c4b00"/><path d="M203.5,60.0L206.9,58.1 203.2,57.6 199.8,59.5Z" fill="#535600" stroke="#535600"/><path d="M137.0,76.8L140.4,74.9 136.8,74.4 133.4,76.3Z" fill="#003904" stroke="#003904"/><path d="M267.2,45.2L270.6,43.3 267.0,42.8 263.5,44.7Z" fill="#652300" stroke="#652300"/><path d="M235.3,52.6L238.7,50.7 235.0,50.2 231.6,52.1Z" fill="#5e3f00" stroke="#5e3f00"/><path d="M119.7,81.6L123.1,79.7 119.5,79.2 116.1,81.1Z" fill="#003e10" stroke="#003e10"/><path d="M161.4,70.7L164.8,68.8 161.2,68.3 157.8,70.2Z" fill="#144200" stroke="#144200"/><path d="M102.5,86.4L105.8,84.5 102.2,84.0 98.9,85.9Z" fill="#00431e" stroke="#00431e"/><path d="M210.5,58.6L214.0,56.7 210.3,56.2 206.9,58.1Z" fill="#595500" stroke="#595500"/><path d="M85.4,91.3L88.7,89.4 85.1,88.9 81.8,90.9Z" fill="#00482f" stroke="#00482f"/><path d="M185.9,64.6L189.3,62.7 185.7,62.2 182.3,64.1Z" fill="#364e00" stroke="#364e00"/><path d="M274.3,43.8L277.8,41.9 274.1,41.4 270.6,43.3Z" fill="#661d00" stroke="#661d00"/><path d="M242.4,51.2L245.8,49.3 242.1,48.8 238.7,50.7Z" fill="#603900" stroke="#603900"/><path d="M144.0,75.4L147.4,73.5 143.7,73.0 140.4,74.9Z" fill="#013800" stroke="#013800"/><path d="M217.6,57.2L221.1,55.3 217.4,54.8 214.0,56.7Z" fill="#5a4f00" stroke="#5a4f00"/><path d="M168.4,69.3L171.8,67.4 168.2,66.9 164.8,68.8Z" fill="#1d4500" stroke="#1d4500"/><path d="M126.7,80.2L130.0,78.2 126.4,77.7 123.1,79.7Z" fill="#003c0b" stroke="#003c0b"/><path d="M193.0,63.3L196.4,61.4 192.7,60.8 189.3,62.7Z" fill="#405100" stroke="#405100"/><path d="M249.5,49.8L252.9,47.9 249.3,47.4 245.8,49.3Z" fill="#613300" stroke="#613300"/><path d="M109.4,85.0L112.8,83.0 109.2,82.5 105.8,84.5Z" fill="#004118" stroke="#004118"/><path d="M92.3,89.9L95.6,87.9 92.0,87.4 88.7,89.4Z" fill="#004628" stroke="#004628"/><path d="M151.0,74.0L154.4,72.1 150.8,71.6 147.4,73.5Z" fill="#073c00" stroke="#073c00"/><path d="M224.7,55.9L228.2,54.0 224.5,53.4 221.1,55.3Z" fill="#5c4900" stroke="#5c4900"/><path d="M256.6,48.5L260.0,46.6 256.4,46.0 252.9,47.9Z" fill="#622e00" stroke="#622e00"/><path d="M175.5,67.9L178.9,66.0 175.2,65.5 171.8,67.4Z" fill="#264800" stroke="#264800"/><path d="M200.0,61.9L203.5,60.0 199.8,59.5 196.4,61.4Z" fill="#4b5400" stroke="#4b5400"/><path d="M133.7,78.8L137.0,76.8 133.4,76.3 130.0,78.2Z" fill="#003a06" stroke="#003a06"/><path d="M116.4,83.5L119.7,81.6 116.1,81.1 112.8,83.0Z" fill="#003f13" stroke="#003f13"/><path d="M231.8,54.5L235.3,52.6 231.6,52.1 228.2,54.0Z" fill="#5d4400" stroke="#5d4400"/><path d="M263.7,47.1L267.2,45.2 263.5,44.7 260.0,46.6Z" fill="#642800" stroke="#642800"/><path d="M158.0,72.6L161.4,70.7 157.8,70.2 154.4,72.1Z" fill="#0f3f00" stroke="#0f3f00"/><path d="M99.2,88.4L102.5,86.4 98.9,85.9 95.6,87.9Z" fill="#004422" stroke="#004422"/><path d="M82.1,93.3L85.4,91.3 81.8,90.9 78.5,92.8Z" fill="#004933" stroke="#004933"/><path d="M207.1,60.5L210.5,58.6 206.9,58.1 203.5,60.0Z" fill="#565700" stroke="#565700"/><path d="M182.5,66.5L185.9,64.6 182.3,64.1 178.9,66.0Z" fill="#2f4c00" stroke="#2f4c00"/><path d="M270.8,45.7L274.3,43.8 270.6,43.3 267.2,45.2Z" fill="#652200" stroke="#652200"/><path d="M140.6,77.3L144.0,75.4 140.4,74.9 137.0,76.8Z" fill="#003902" stroke="#003902"/><path d="M238.9,53.1L242.4,51.2 238.7,50.7 235.3,52.6Z" fill="#5f3e00" stroke="#5f3e00"/><path d="M123.3,82.1L126.7,80.2 123.1,79.7 119.7,81.6Z" fill="#003d0e" stroke="#003d0e"/><path d="M165.0,71.2L168.4,69.3 164.8,68.8 161.4,70.7Z" fill="#174300" stroke="#174300"/><path d="M214.2,59.1L217.6,57.2 214.0,56.7 210.5,58.6Z" fill="#595300" stroke="#595300"/><path d="M189.6,65.2L193.0,63.3 189.3,62.7 185.9,64.6Z" fill="#394f00" stroke="#394f00"/><path d="M106.1,86.9L109.4,85.0 105.8,84.5 102.5,86.4Z" fill="#00421c" stroke="#00421c"/><path d="M89.0,91.8L92.3,89.9 88.7,89.4 85.4,91.3Z" fill="#00472c" stroke="#00472c"/><path d="M246.0,51.7L249.5,49.8 245.8,49.3 242.4,51.2Z" fill="#603800" stroke="#603800"/><path d="M147.6,75.9L151.0,74.0 147.4,73.5 144.0,75.4Z" fill="#033900" stroke="#033900"/><path d="M221.3,57.8L224.7,55.9 221.1,55.3 217.6,57.2Z" fill="#5a4e00" stroke="#5a4e00"/><path d="M172.1,69.8L175.5,67.9 171.8,67.4 168.4,69.3Z" fill="#1f4600" stroke="#1f4600"/><path d="M253.1,50.4L256.6,48.5 252.9,47.9 249.5,49.8Z" fill="#613200" stroke="#613200"/><path d="M196.6,63.8L200.0,61.9 196.4,61.4 193.0,63.3Z" fill="#435200" stroke="#435200"/><path d="M130.3,80.7L133.7,78.8 130.0,78.2 126.7,80.2Z" fill="#003b09" stroke="#003b09"/><path d="M113.0,85.5L116.4,83.5 112.8,83.0 109.4,85.0Z" fill="#004016" stroke="#004016"/><path d="M95.9,90.4L99.2,88.4 95.6,87.9 92.3,89.9Z" fill="#004526" stroke="#004526"/><path d="M228.4,56.4L231.8,54.5 228.2,54.0 224.7,55.9Z" fill="#5c4800" stroke="#5c4800"/><path d="M154.6,74.5L158.0,72.6 154.4,72.1 151.0,74.0Z" fill="#093d00" stroke="#093d00"/><path d="M260.3,49.0L263.7,47.1 260.0,46.6 256.6,48.5Z" fill="#632c00" stroke="#632c00"/><path d="M203.7,62.4L207.1,60.5 203.5,60.0 200.0,61.9Z" fill="#4e5500" stroke="#4e5500"/><path d="M179.1,68.4L182.5,66.5 178.9,66.0 175.5,67.9Z" fill="#284900" stroke="#284900"/><path d="M137.3,79.3L140.6,77.3 137.0,76.8 133.7,78.8Z" fill="#003a05" stroke="#003a05"/><path d="M267.4,47.6L270.8,45.7 267.2,45.2 263.7,47.1Z" fill="#642600" stroke="#642600"/><path d="M235.5,55.0L238.9,53.1 235.3,52.6 231.8,54.5Z" fill="#5d4200" stroke="#5d4200"/><path d="M120.0,84.0L123.3,82.1 119.7,81.6 116.4,83.5Z" fill="#003e11" stroke="#003e11"/><path d="M161.7,73.1L165.0,71.2 161.4,70.7 158.0,72.6Z" fill="#114000" stroke="#114000"/><path d="M210.8,61.0L214.2,59.1 210.5,58.6 207.1,60.5Z" fill="#585700" stroke="#585700"/><path d="M102.8,88.9L106.1,86.9 102.5,86.4 99.2,88.4Z" fill="#004320" stroke="#004320"/><path d="M186.2,67.1L189.6,65.2 185.9,64.6 182.5,66.5Z" fill="#324d00" stroke="#324d00"/><path d="M85.7,93.8L89.0,91.8 85.4,91.3 82.1,93.3Z" fill="#004831" stroke="#004831"/><path d="M242.6,53.6L246.0,51.7 242.4,51.2 238.9,53.1Z" fill="#5f3d00" stroke="#5f3d00"/><path d="M144.3,77.9L147.6,75.9 144.0,75.4 140.6,77.3Z" fill="#003801" stroke="#003801"/><path d="M217.9,59.7L221.3,57.8 217.6,57.2 214.2,59.1Z" fill="#595200" stroke="#595200"/><path d="M168.7,71.7L172.1,69.8 168.4,69.3 165.0,71.2Z" fill="#194400" stroke="#194400"/><path d="M127.0,82.6L130.3,80.7 126.7,80.2 123.3,82.1Z" fill="#003c0c" stroke="#003c0c"/><path d="M193.2,65.7L196.6,63.8 193.0,63.3 189.6,65.2Z" fill="#3c5000" stroke="#3c5000"/><path d="M249.7,52.2L253.1,50.4 249.5,49.8 246.0,51.7Z" fill="#603700" stroke="#603700"/><path d="M109.7,87.4L113.0,85.5 109.4,85.0 106.1,86.9Z" fill="#00411a" stroke="#00411a"/><path d="M92.6,92.3L95.9,90.4 92.3,89.9 89.0,91.8Z" fill="#00462a" stroke="#00462a"/><path d="M151.3,76.5L154.6,74.5 151.0,74.0 147.6,75.9Z" fill="#053a00" stroke="#053a00"/><path d="M225.0,58.3L228.4,56.4 224.7,55.9 221.3,57.8Z" fill="#5b4c00" stroke="#5b4c00"/><path d="M256.8,50.9L260.3,49.0 256.6,48.5 253.1,50.4Z" fill="#623100" stroke="#623100"/><path d="M175.7,70.4L179.1,68.4 175.5,67.9 172.1,69.8Z" fill="#224700" stroke="#224700"/><path d="M200.3,64.3L203.7,62.4 200.0,61.9 196.6,63.8Z" fill="#465300" stroke="#465300"/><path d="M133.9,81.2L137.3,79.3 133.7,78.8 130.3,80.7Z" fill="#003b08" stroke="#003b08"/><path d="M232.0,56.9L235.5,55.0 231.8,54.5 228.4,56.4Z" fill="#5c4700" stroke="#5c4700"/><path d="M116.7,86.0L120.0,84.0 116.4,83.5 113.0,85.5Z" fill="#003f15" stroke="#003f15"/><path d="M263.9,49.5L267.4,47.6 263.7,47.1 260.3,49.0Z" fill="#632b00" stroke="#632b00"/><path d="M158.3,75.1L161.7,73.1 158.0,72.6 154.6,74.5Z" fill="#0c3e00" stroke="#0c3e00"/><path d="M99.5,90.8L102.8,88.9 99.2,88.4 95.9,90.4Z" fill="#004424" stroke="#004424"/><path d="M207.4,62.9L210.8,61.0 207.1,60.5 203.7,62.4Z" fill="#505600" stroke="#505600"/><path d="M182.8,69.0L186.2,67.1 182.5,66.5 179.1,68.4Z" fill="#2b4a00" stroke="#2b4a00"/><path d="M140.9,79.8L144.3,77.9 140.6,77.3 137.3,79.3Z" fill="#003904" stroke="#003904"/><path d="M239.2,55.5L242.6,53.6 238.9,53.1 235.5,55.0Z" fill="#5e4100" stroke="#5e4100"/><path d="M123.6,84.6L127.0,82.6 123.3,82.1 120.0,84.0Z" fill="#003d0f" stroke="#003d0f"/><path d="M165.3,73.7L168.7,71.7 165.0,71.2 161.7,73.1Z" fill="#134100" stroke="#134100"/><path d="M214.4,61.5L217.9,59.7 214.2,59.1 210.8,61.0Z" fill="#585600" stroke="#585600"/><path d="M189.8,67.6L193.2,65.7 189.6,65.2 186.2,67.1Z" fill="#344d00" stroke="#344d00"/><path d="M106.4,89.4L109.7,87.4 106.1,86.9 102.8,88.9Z" fill="#00421e" stroke="#00421e"/><path d="M246.3,54.1L249.7,52.2 246.0,51.7 242.6,53.6Z" fill="#5f3b00" stroke="#5f3b00"/><path d="M89.3,94.3L92.6,92.3 89.0,91.8 85.7,93.8Z" fill="#00472e" stroke="#00472e"/><path d="M147.9,78.4L151.3,76.5 147.6,75.9 144.3,77.9Z" fill="#003800" stroke="#003800"/><path d="M221.5,60.2L225.0,58.3 221.3,57.8 217.9,59.7Z" fill="#5a5000" stroke="#5a5000"/><path d="M172.3,72.3L175.7,70.4 172.1,69.8 168.7,71.7Z" fill="#1c4500" stroke="#1c4500"/><path d="M253.4,52.8L256.8,50.9 253.1,50.4 249.7,52.2Z" fill="#613500" stroke="#613500"/><path d="M196.9,66.2L200.3,64.3 196.6,63.8 193.2,65.7Z" fill="#3e5000" stroke="#3e5000"/><path d="M130.6,83.1L133.9,81.2 130.3,80.7 127.0,82.6Z" fill="#003c0b" stroke="#003c0b"/><path d="M113.3,87.9L116.7,86.0 113.0,85.5 109.7,87.4Z" fill="#004018" stroke="#004018"/><path d="M228.6,58.8L232.0,56.9 228.4,56.4 225.0,58.3Z" fill="#5b4b00" stroke="#5b4b00"/><path d="M96.2,92.8L99.5,90.8 95.9,90.4 92.6,92.3Z" fill="#004527" stroke="#004527"/><path d="M260.5,51.4L263.9,49.5 260.3,49.0 256.8,50.9Z" fill="#623000" stroke="#623000"/><path d="M154.9,77.0L158.3,75.1 154.6,74.5 151.3,76.5Z" fill="#073b00" stroke="#073b00"/><path d="M203.9,64.8L207.4,62.9 203.7,62.4 200.3,64.3Z" fill="#495300" stroke="#495300"/><path d="M179.4,70.9L182.8,69.0 179.1,68.4 175.7,70.4Z" fill="#244800" stroke="#244800"/><path d="M137.6,81.7L140.9,79.8 137.3,79.3 133.9,81.2Z" fill="#003a06" stroke="#003a06"/><path d="M235.7,57.4L239.2,55.5 235.5,55.0 232.0,56.9Z" fill="#5d4500" stroke="#5d4500"/><path d="M120.3,86.5L123.6,84.6 120.0,84.0 116.7,86.0Z" fill="#003e13" stroke="#003e13"/><path d="M161.9,75.6L165.3,73.7 161.7,73.1 158.3,75.1Z" fill="#0e3f00" stroke="#0e3f00"/><path d="M211.0,63.4L214.4,61.5 210.8,61.0 207.4,62.9Z" fill="#535600" stroke="#535600"/><path d="M103.1,91.3L106.4,89.4 102.8,88.9 99.5,90.8Z" fill="#004321" stroke="#004321"/><path d="M186.4,69.5L189.8,67.6 186.2,67.1 182.8,69.0Z" fill="#2e4b00" stroke="#2e4b00"/><path d="M242.8,56.0L246.3,54.1 242.6,53.6 239.2,55.5Z" fill="#5e4000" stroke="#5e4000"/><path d="M144.5,80.3L147.9,78.4 144.3,77.9 140.9,79.8Z" fill="#003802" stroke="#003802"/><path d="M218.1,62.1L221.5,60.2 217.9,59.7 214.4,61.5Z" fill="#585400" stroke="#585400"/><path d="M168.9,74.2L172.3,72.3 168.7,71.7 165.3,73.7Z" fill="#164200" stroke="#164200"/><path d="M127.2,85.1L130.6,83.1 127.0,82.6 123.6,84.6Z" fill="#003d0e" stroke="#003d0e"/><path d="M193.5,68.1L196.9,66.2 193.2,65.7 189.8,67.6Z" fill="#374e00" stroke="#374e00"/><path d="M249.9,54.7L253.4,52.8 249.7,52.2 246.3,54.1Z" fill="#5f3a00" stroke="#5f3a00"/><path d="M110.0,89.9L113.3,87.9 109.7,87.4 106.4,89.4Z" fill="#00411b" stroke="#00411b"/><path d="M92.8,94.8L96.2,92.8 92.6,92.3 89.3,94.3Z" fill="#00462b" stroke="#00462b"/><path d="M151.5,78.9L154.9,77.0 151.3,76.5 147.9,78.4Z" fill="#023900" stroke="#023900"/><path d="M225.2,60.7L228.6,58.8 225.0,58.3 221.5,60.2Z" fill="#5a4f00" stroke="#5a4f00"/><path d="M257.0,53.3L260.5,51.4 256.8,50.9 253.4,52.8Z" fill="#613400" stroke="#613400"/><path d="M176.0,72.8L179.4,70.9 175.7,70.4 172.3,72.3Z" fill="#1e4600" stroke="#1e4600"/><path d="M200.5,66.7L203.9,64.8 200.3,64.3 196.9,66.2Z" fill="#415100" stroke="#415100"/><path d="M134.2,83.6L137.6,81.7 133.9,81.2 130.6,83.1Z" fill="#003b09" stroke="#003b09"/><path d="M232.3,59.3L235.7,57.4 232.0,56.9 228.6,58.8Z" fill="#5c4900" stroke="#5c4900"/><path d="M116.9,88.4L120.3,86.5 116.7,86.0 113.3,87.9Z" fill="#003f16" stroke="#003f16"/><path d="M158.5,77.5L161.9,75.6 158.3,75.1 154.9,77.0Z" fill="#093c00" stroke="#093c00"/><path d="M99.8,93.3L103.1,91.3 99.5,90.8 96.2,92.8Z" fill="#004425" stroke="#004425"/><path d="M207.6,65.3L211.0,63.4 207.4,62.9 203.9,64.8Z" fill="#4c5400" stroke="#4c5400"/><path d="M183.0,71.4L186.4,69.5 182.8,69.0 179.4,70.9Z" fill="#274900" stroke="#274900"/><path d="M239.4,57.9L242.8,56.0 239.2,55.5 235.7,57.4Z" fill="#5d4400" stroke="#5d4400"/><path d="M141.2,82.2L144.5,80.3 140.9,79.8 137.6,81.7Z" fill="#003905" stroke="#003905"/><path d="M214.7,64.0L218.1,62.1 214.4,61.5 211.0,63.4Z" fill="#565700" stroke="#565700"/><path d="M123.9,87.0L127.2,85.1 123.6,84.6 120.3,86.5Z" fill="#003e11" stroke="#003e11"/><path d="M165.6,76.1L168.9,74.2 165.3,73.7 161.9,75.6Z" fill="#114000" stroke="#114000"/><path d="M190.1,70.0L193.5,68.1 189.8,67.6 186.4,69.5Z" fill="#314c00" stroke="#314c00"/><path d="M246.5,56.6L249.9,54.7 246.3,54.1 242.8,56.0Z" fill="#5e3e00" stroke="#5e3e00"/><path d="M106.7,91.8L110.0,89.9 106.4,89.4 103.1,91.3Z" fill="#00421f" stroke="#00421f"/><path d="M148.2,80.8L151.5,78.9 147.9,78.4 144.5,80.3Z" fill="#003801" stroke="#003801"/><path d="M221.8,62.6L225.2,60.7 221.5,60.2 218.1,62.1Z" fill="#595300" stroke="#595300"/><path d="M253.6,55.2L257.0,53.3 253.4,52.8 249.9,54.7Z" fill="#603800" stroke="#603800"/><path d="M172.6,74.7L176.0,72.8 172.3,72.3 168.9,74.2Z" fill="#194300" stroke="#194300"/><path d="M197.1,68.6L200.5,66.7 196.9,66.2 193.5,68.1Z" fill="#3a4f00" stroke="#3a4f00"/><path d="M130.9,85.6L134.2,83.6 130.6,83.1 127.2,85.1Z" fill="#003c0c" stroke="#003c0c"/><path d="M113.6,90.4L116.9,88.4 113.3,87.9 110.0,89.9Z" fill="#004019" stroke="#004019"/><path d="M228.9,61.2L232.3,59.3 228.6,58.8 225.2,60.7Z" fill="#5a4d00" stroke="#5a4d00"/><path d="M96.4,95.2L99.8,93.3 96.2,92.8 92.8,94.8Z" fill="#004529" stroke="#004529"/><path d="M155.2,79.4L158.5,77.5 154.9,77.0 151.5,78.9Z" fill="#053a00" stroke="#053a00"/><path d="M204.2,67.2L207.6,65.3 203.9,64.8 200.5,66.7Z" fill="#445200" stroke="#445200"/><path d="M179.6,73.3L183.0,71.4 179.4,70.9 176.0,72.8Z" fill="#214600" stroke="#214600"/><path d="M137.8,84.1L141.2,82.2 137.6,81.7 134.2,83.6Z" fill="#003a08" stroke="#003a08"/><path d="M236.0,59.8L239.4,57.9 235.7,57.4 232.3,59.3Z" fill="#5c4800" stroke="#5c4800"/><path d="M120.6,88.9L123.9,87.0 120.3,86.5 116.9,88.4Z" fill="#003f14" stroke="#003f14"/><path d="M162.2,78.0L165.6,76.1 161.9,75.6 158.5,77.5Z" fill="#0c3d00" stroke="#0c3d00"/><path d="M211.3,65.9L214.7,64.0 211.0,63.4 207.6,65.3Z" fill="#4f5500" stroke="#4f5500"/><path d="M186.7,71.9L190.1,70.0 186.4,69.5 183.0,71.4Z" fill="#2a4a00" stroke="#2a4a00"/><path d="M103.4,93.8L106.7,91.8 103.1,91.3 99.8,93.3Z" fill="#004323" stroke="#004323"/><path d="M243.1,58.5L246.5,56.6 242.8,56.0 239.4,57.9Z" fill="#5d4200" stroke="#5d4200"/><path d="M144.8,82.7L148.2,80.8 144.5,80.3 141.2,82.2Z" fill="#003904" stroke="#003904"/><path d="M218.3,64.5L221.8,62.6 218.1,62.1 214.7,64.0Z" fill="#585600" stroke="#585600"/><path d="M169.2,76.6L172.6,74.7 168.9,74.2 165.6,76.1Z" fill="#134100" stroke="#134100"/><path d="M127.5,87.5L130.9,85.6 127.2,85.1 123.9,87.0Z" fill="#003d0f" stroke="#003d0f"/><path d="M193.7,70.5L197.1,68.6 193.5,68.1 190.1,70.0Z" fill="#334d00" stroke="#334d00"/><path d="M250.2,57.1L253.6,55.2 249.9,54.7 246.5,56.6Z" fill="#5f3d00" stroke="#5f3d00"/><path d="M110.3,92.3L113.6,90.4 110.0,89.9 106.7,91.8Z" fill="#00411d" stroke="#00411d"/><path d="M151.8,81.3L155.2,79.4 151.5,78.9 148.2,80.8Z" fill="#003700" stroke="#003700"/><path d="M225.4,63.1L228.9,61.2 225.2,60.7 221.8,62.6Z" fill="#595100" stroke="#595100"/><path d="M176.2,75.2L179.6,73.3 176.0,72.8 172.6,74.7Z" fill="#1b4400" stroke="#1b4400"/><path d="M200.8,69.1L204.2,67.2 200.5,66.7 197.1,68.6Z" fill="#3d5000" stroke="#3d5000"/><path d="M134.5,86.1L137.8,84.1 134.2,83.6 130.9,85.6Z" fill="#003b0b" stroke="#003b0b"/><path d="M232.5,61.7L236.0,59.8 232.3,59.3 228.9,61.2Z" fill="#5b4c00" stroke="#5b4c00"/><path d="M117.2,90.9L120.6,88.9 116.9,88.4 113.6,90.4Z" fill="#004017" stroke="#004017"/><path d="M158.8,79.9L162.2,78.0 158.5,77.5 155.2,79.4Z" fill="#073b00" stroke="#073b00"/><path d="M100.0,95.7L103.4,93.8 99.8,93.3 96.4,95.2Z" fill="#004426" stroke="#004426"/><path d="M207.9,67.8L211.3,65.9 207.6,65.3 204.2,67.2Z" fill="#475300" stroke="#475300"/><path d="M183.3,73.8L186.7,71.9 183.0,71.4 179.6,73.3Z" fill="#244700" stroke="#244700"/><path d="M239.6,60.3L243.1,58.5 239.4,57.9 236.0,59.8Z" fill="#5c4600" stroke="#5c4600"/><path d="M141.5,84.6L144.8,82.7 141.2,82.2 137.8,84.1Z" fill="#003a06" stroke="#003a06"/><path d="M214.9,66.4L218.3,64.5 214.7,64.0 211.3,65.9Z" fill="#525600" stroke="#525600"/><path d="M165.8,78.5L169.2,76.6 165.6,76.1 162.2,78.0Z" fill="#0e3e00" stroke="#0e3e00"/><path d="M124.2,89.4L127.5,87.5 123.9,87.0 120.6,88.9Z" fill="#003e12" stroke="#003e12"/><path d="M190.3,72.4L193.7,70.5 190.1,70.0 186.7,71.9Z" fill="#2d4b00" stroke="#2d4b00"/><path d="M246.7,59.0L250.2,57.1 246.5,56.6 243.1,58.5Z" fill="#5e4100" stroke="#5e4100"/><path d="M107.0,94.3L110.3,92.3 106.7,91.8 103.4,93.8Z" fill="#004220" stroke="#004220"/><path d="M148.4,83.2L151.8,81.3 148.2,80.8 144.8,82.7Z" fill="#003802" stroke="#003802"/><path d="M222.0,65.0L225.4,63.1 221.8,62.6 218.3,64.5Z" fill="#585500" stroke="#585500"/><path d="M172.9,77.1L176.2,75.2 172.6,74.7 169.2,76.6Z" fill="#164200" stroke="#164200"/><path d="M197.4,71.0L200.8,69.1 197.1,68.6 193.7,70.5Z" fill="#364e00" stroke="#364e00"/><path d="M131.1,88.0L134.5,86.1 130.9,85.6 127.5,87.5Z" fill="#003c0d" stroke="#003c0d"/><path d="M113.9,92.8L117.2,90.9 113.6,90.4 110.3,92.3Z" fill="#00401b" stroke="#00401b"/><path d="M229.1,63.6L232.5,61.7 228.9,61.2 225.4,63.1Z" fill="#5a5000" stroke="#5a5000"/><path d="M155.4,81.8L158.8,79.9 155.2,79.4 151.8,81.3Z" fill="#023800" stroke="#023800"/><path d="M204.4,69.7L207.9,67.8 204.2,67.2 200.8,69.1Z" fill="#405100" stroke="#405100"/><path d="M179.9,75.7L183.3,73.8 179.6,73.3 176.2,75.2Z" fill="#1e4500" stroke="#1e4500"/><path d="M138.1,86.6L141.5,84.6 137.8,84.1 134.5,86.1Z" fill="#003b09" stroke="#003b09"/><path d="M236.2,62.2L239.6,60.3 236.0,59.8 232.5,61.7Z" fill="#5b4a00" stroke="#5b4a00"/><path d="M120.8,91.4L124.2,89.4 120.6,88.9 117.2,90.9Z" fill="#003f15" stroke="#003f15"/><path d="M162.5,80.4L165.8,78.5 162.2,78.0 158.8,79.9Z" fill="#093c00" stroke="#093c00"/><path d="M211.5,68.3L214.9,66.4 211.3,65.9 207.9,67.8Z" fill="#4a5400" stroke="#4a5400"/><path d="M186.9,74.3L190.3,72.4 186.7,71.9 183.3,73.8Z" fill="#274800" stroke="#274800"/><path d="M103.6,96.2L107.0,94.3 103.4,93.8 100.0,95.7Z" fill="#004324" stroke="#004324"/><path d="M243.3,60.9L246.7,59.0 243.1,58.5 239.6,60.3Z" fill="#5d4500" stroke="#5d4500"/><path d="M145.1,85.2L148.4,83.2 144.8,82.7 141.5,84.6Z" fill="#003905" stroke="#003905"/><path d="M218.6,66.9L222.0,65.0 218.3,64.5 214.9,66.4Z" fill="#555700" stroke="#555700"/><path d="M169.5,79.0L172.9,77.1 169.2,76.6 165.8,78.5Z" fill="#103f00" stroke="#103f00"/><path d="M194.0,72.9L197.4,71.0 193.7,70.5 190.3,72.4Z" fill="#304b00" stroke="#304b00"/><path d="M127.8,89.9L131.1,88.0 127.5,87.5 124.2,89.4Z" fill="#003d10" stroke="#003d10"/><path d="M110.6,94.8L113.9,92.8 110.3,92.3 107.0,94.3Z" fill="#00411e" stroke="#00411e"/><path d="M225.7,65.5L229.1,63.6 225.4,63.1 222.0,65.0Z" fill="#585300" stroke="#585300"/><path d="M152.1,83.7L155.4,81.8 151.8,81.3 148.4,83.2Z" fill="#003701" stroke="#003701"/><path d="M201.0,71.6L204.4,69.7 200.8,69.1 197.4,71.0Z" fill="#394f00" stroke="#394f00"/><path d="M176.5,77.6L179.9,75.7 176.2,75.2 172.9,77.1Z" fill="#184300" stroke="#184300"/><path d="M134.8,88.5L138.1,86.6 134.5,86.1 131.1,88.0Z" fill="#003b0c" stroke="#003b0c"/><path d="M232.8,64.1L236.2,62.2 232.5,61.7 229.1,63.6Z" fill="#5a4e00" stroke="#5a4e00"/><path d="M117.5,93.3L120.8,91.4 117.2,90.9 113.9,92.8Z" fill="#004019" stroke="#004019"/><path d="M159.1,82.3L162.5,80.4 158.8,79.9 155.4,81.8Z" fill="#053a00" stroke="#053a00"/><path d="M208.1,70.2L211.5,68.3 207.9,67.8 204.4,69.7Z" fill="#435200" stroke="#435200"/><path d="M183.5,76.2L186.9,74.3 183.3,73.8 179.9,75.7Z" fill="#214600" stroke="#214600"/><path d="M239.9,62.8L243.3,60.9 239.6,60.3 236.2,62.2Z" fill="#5b4900" stroke="#5b4900"/><path d="M141.7,87.1L145.1,85.2 141.5,84.6 138.1,86.6Z" fill="#003a07" stroke="#003a07"/><path d="M215.2,68.8L218.6,66.9 214.9,66.4 211.5,68.3Z" fill="#4d5400" stroke="#4d5400"/><path d="M166.1,80.9L169.5,79.0 165.8,78.5 162.5,80.4Z" fill="#0c3d00" stroke="#0c3d00"/><path d="M124.5,91.9L127.8,89.9 124.2,89.4 120.8,91.4Z" fill="#003e13" stroke="#003e13"/><path d="M190.6,74.8L194.0,72.9 190.3,72.4 186.9,74.3Z" fill="#294900" stroke="#294900"/><path d="M107.2,96.7L110.6,94.8 107.0,94.3 103.6,96.2Z" fill="#004222" stroke="#004222"/><path d="M148.7,85.7L152.1,83.7 148.4,83.2 145.1,85.2Z" fill="#003803" stroke="#003803"/><path d="M222.3,67.4L225.7,65.5 222.0,65.0 218.6,66.9Z" fill="#575700" stroke="#575700"/><path d="M173.1,79.5L176.5,77.6 172.9,77.1 169.5,79.0Z" fill="#134000" stroke="#134000"/><path d="M197.6,73.5L201.0,71.6 197.4,71.0 194.0,72.9Z" fill="#334c00" stroke="#334c00"/><path d="M131.4,90.4L134.8,88.5 131.1,88.0 127.8,89.9Z" fill="#003c0f" stroke="#003c0f"/><path d="M229.3,66.0L232.8,64.1 229.1,63.6 225.7,65.5Z" fill="#595200" stroke="#595200"/><path d="M114.2,95.2L117.5,93.3 113.9,92.8 110.6,94.8Z" fill="#00411c" stroke="#00411c"/><path d="M155.7,84.2L159.1,82.3 155.4,81.8 152.1,83.7Z" fill="#013700" stroke="#013700"/><path d="M204.7,72.1L208.1,70.2 204.4,69.7 201.0,71.6Z" fill="#3c4f00" stroke="#3c4f00"/><path d="M180.2,78.1L183.5,76.2 179.9,75.7 176.5,77.6Z" fill="#1b4400" stroke="#1b4400"/><path d="M138.4,89.0L141.7,87.1 138.1,86.6 134.8,88.5Z" fill="#003b0a" stroke="#003b0a"/><path d="M236.4,64.7L239.9,62.8 236.2,62.2 232.8,64.1Z" fill="#5a4c00" stroke="#5a4c00"/><path d="M121.1,93.8L124.5,91.9 120.8,91.4 117.5,93.3Z" fill="#003f17" stroke="#003f17"/><path d="M162.7,82.8L166.1,80.9 162.5,80.4 159.1,82.3Z" fill="#073b00" stroke="#073b00"/><path d="M211.8,70.7L215.2,68.8 211.5,68.3 208.1,70.2Z" fill="#465200" stroke="#465200"/><path d="M187.2,76.7L190.6,74.8 186.9,74.3 183.5,76.2Z" fill="#234700" stroke="#234700"/><path d="M145.4,87.6L148.7,85.7 145.1,85.2 141.7,87.1Z" fill="#003906" stroke="#003906"/><path d="M218.8,69.3L222.3,67.4 218.6,66.9 215.2,68.8Z" fill="#505500" stroke="#505500"/><path d="M169.7,81.4L173.1,79.5 169.5,79.0 166.1,80.9Z" fill="#0e3e00" stroke="#0e3e00"/><path d="M194.2,75.4L197.6,73.5 194.0,72.9 190.6,74.8Z" fill="#2c4a00" stroke="#2c4a00"/><path d="M128.1,92.3L131.4,90.4 127.8,89.9 124.5,91.9Z" fill="#003d12" stroke="#003d12"/><path d="M110.9,97.2L114.2,95.2 110.6,94.8 107.2,96.7Z" fill="#00411f" stroke="#00411f"/><path d="M225.9,67.9L229.3,66.0 225.7,65.5 222.3,67.4Z" fill="#585500" stroke="#585500"/><path d="M152.4,86.2L155.7,84.2 152.1,83.7 148.7,85.7Z" fill="#003802" stroke="#003802"/><path d="M201.3,74.0L204.7,72.1 201.0,71.6 197.6,73.5Z" fill="#364d00" stroke="#364d00"/><path d="M176.8,80.0L180.2,78.1 176.5,77.6 173.1,79.5Z" fill="#164100" stroke="#164100"/><path d="M135.0,90.9L138.4,89.0 134.8,88.5 131.4,90.4Z" fill="#003c0d" stroke="#003c0d"/><path d="M233.0,66.5L236.4,64.7 232.8,64.1 229.3,66.0Z" fill="#595000" stroke="#595000"/><path d="M117.8,95.7L121.1,93.8 117.5,93.3 114.2,95.2Z" fill="#00401a" stroke="#00401a"/><path d="M159.4,84.7L162.7,82.8 159.1,82.3 155.7,84.2Z" fill="#033800" stroke="#033800"/><path d="M208.4,72.6L211.8,70.7 208.1,70.2 204.7,72.1Z" fill="#3f5000" stroke="#3f5000"/><path d="M183.8,78.6L187.2,76.7 183.5,76.2 180.2,78.1Z" fill="#1e4500" stroke="#1e4500"/><path d="M142.0,89.5L145.4,87.6 141.7,87.1 138.4,89.0Z" fill="#003a09" stroke="#003a09"/><path d="M215.4,71.2L218.8,69.3 215.2,68.8 211.8,70.7Z" fill="#495300" stroke="#495300"/><path d="M166.4,83.3L169.7,81.4 166.1,80.9 162.7,82.8Z" fill="#093c00" stroke="#093c00"/><path d="M124.7,94.3L128.1,92.3 124.5,91.9 121.1,93.8Z" fill="#003e15" stroke="#003e15"/><path d="M190.9,77.3L194.2,75.4 190.6,74.8 187.2,76.7Z" fill="#264800" stroke="#264800"/><path d="M149.0,88.1L152.4,86.2 148.7,85.7 145.4,87.6Z" fill="#003804" stroke="#003804"/><path d="M222.5,69.8L225.9,67.9 222.3,67.4 218.8,69.3Z" fill="#545600" stroke="#545600"/><path d="M173.4,81.9L176.8,80.0 173.1,79.5 169.7,81.4Z" fill="#113f00" stroke="#113f00"/><path d="M197.9,75.9L201.3,74.0 197.6,73.5 194.2,75.4Z" fill="#2f4b00" stroke="#2f4b00"/><path d="M131.7,92.8L135.0,90.9 131.4,90.4 128.1,92.3Z" fill="#003c10" stroke="#003c10"/><path d="M229.6,68.4L233.0,66.5 229.3,66.0 225.9,67.9Z" fill="#585300" stroke="#585300"/><path d="M114.5,97.7L117.8,95.7 114.2,95.2 110.9,97.2Z" fill="#00411d" stroke="#00411d"/><path d="M156.0,86.7L159.4,84.7 155.7,84.2 152.4,86.2Z" fill="#003701" stroke="#003701"/><path d="M205.0,74.5L208.4,72.6 204.7,72.1 201.3,74.0Z" fill="#394e00" stroke="#394e00"/><path d="M180.4,80.6L183.8,78.6 180.2,78.1 176.8,80.0Z" fill="#184300" stroke="#184300"/><path d="M138.7,91.4L142.0,89.5 138.4,89.0 135.0,90.9Z" fill="#003b0b" stroke="#003b0b"/><path d="M212.0,73.1L215.4,71.2 211.8,70.7 208.4,72.6Z" fill="#425100" stroke="#425100"/><path d="M163.0,85.3L166.4,83.3 162.7,82.8 159.4,84.7Z" fill="#053900" stroke="#053900"/><path d="M121.4,96.2L124.7,94.3 121.1,93.8 117.8,95.7Z" fill="#003f18" stroke="#003f18"/><path d="M187.5,79.2L190.9,77.3 187.2,76.7 183.8,78.6Z" fill="#214600" stroke="#214600"/><path d="M145.6,90.0L149.0,88.1 145.4,87.6 142.0,89.5Z" fill="#003907" stroke="#003907"/><path d="M219.1,71.7L222.5,69.8 218.8,69.3 215.4,71.2Z" fill="#4d5400" stroke="#4d5400"/><path d="M170.0,83.9L173.4,81.9 169.7,81.4 166.4,83.3Z" fill="#0c3d00" stroke="#0c3d00"/><path d="M194.5,77.8L197.9,75.9 194.2,75.4 190.9,77.3Z" fill="#294900" stroke="#294900"/><path d="M128.4,94.8L131.7,92.8 128.1,92.3 124.7,94.3Z" fill="#003d13" stroke="#003d13"/><path d="M226.2,70.3L229.6,68.4 225.9,67.9 222.5,69.8Z" fill="#575700" stroke="#575700"/><path d="M152.6,88.6L156.0,86.7 152.4,86.2 149.0,88.1Z" fill="#003803" stroke="#003803"/><path d="M201.6,76.4L205.0,74.5 201.3,74.0 197.9,75.9Z" fill="#324c00" stroke="#324c00"/><path d="M177.0,82.5L180.4,80.6 176.8,80.0 173.4,81.9Z" fill="#134000" stroke="#134000"/><path d="M135.3,93.3L138.7,91.4 135.0,90.9 131.7,92.8Z" fill="#003c0e" stroke="#003c0e"/><path d="M118.1,98.1L121.4,96.2 117.8,95.7 114.5,97.7Z" fill="#00401b" stroke="#00401b"/><path d="M159.6,87.2L163.0,85.3 159.4,84.7 156.0,86.7Z" fill="#013700" stroke="#013700"/><path d="M208.6,75.0L212.0,73.1 208.4,72.6 205.0,74.5Z" fill="#3c4f00" stroke="#3c4f00"/><path d="M184.1,81.1L187.5,79.2 183.8,78.6 180.4,80.6Z" fill="#1b4400" stroke="#1b4400"/><path d="M142.3,91.9L145.6,90.0 142.0,89.5 138.7,91.4Z" fill="#003a0a" stroke="#003a0a"/><path d="M215.7,73.6L219.1,71.7 215.4,71.2 212.0,73.1Z" fill="#465200" stroke="#465200"/><path d="M166.6,85.8L170.0,83.9 166.4,83.3 163.0,85.3Z" fill="#073b00" stroke="#073b00"/><path d="M191.1,79.7L194.5,77.8 190.9,77.3 187.5,79.2Z" fill="#244700" stroke="#244700"/><path d="M125.0,96.7L128.4,94.8 124.7,94.3 121.4,96.2Z" fill="#003e16" stroke="#003e16"/><path d="M149.3,90.5L152.6,88.6 149.0,88.1 145.6,90.0Z" fill="#003905" stroke="#003905"/><path d="M222.8,72.2L226.2,70.3 222.5,69.8 219.1,71.7Z" fill="#505500" stroke="#505500"/><path d="M173.7,84.4L177.0,82.5 173.4,81.9 170.0,83.9Z" fill="#0e3e00" stroke="#0e3e00"/><path d="M198.2,78.3L201.6,76.4 197.9,75.9 194.5,77.8Z" fill="#2c4a00" stroke="#2c4a00"/><path d="M132.0,95.3L135.3,93.3 131.7,92.8 128.4,94.8Z" fill="#003c11" stroke="#003c11"/><path d="M156.3,89.1L159.6,87.2 156.0,86.7 152.6,88.6Z" fill="#003702" stroke="#003702"/><path d="M205.2,76.9L208.6,75.0 205.0,74.5 201.6,76.4Z" fill="#364d00" stroke="#364d00"/><path d="M180.7,83.0L184.1,81.1 180.4,80.6 177.0,82.5Z" fill="#164100" stroke="#164100"/><path d="M138.9,93.8L142.3,91.9 138.7,91.4 135.3,93.3Z" fill="#003b0c" stroke="#003b0c"/><path d="M212.3,75.5L215.7,73.6 212.0,73.1 208.6,75.0Z" fill="#3f5000" stroke="#3f5000"/><path d="M163.3,87.7L166.6,85.8 163.0,85.3 159.6,87.2Z" fill="#033800" stroke="#033800"/><path d="M121.7,98.6L125.0,96.7 121.4,96.2 118.1,98.1Z" fill="#003f19" stroke="#003f19"/><path d="M187.7,81.6L191.1,79.7 187.5,79.2 184.1,81.1Z" fill="#1e4500" stroke="#1e4500"/><path d="M145.9,92.4L149.3,90.5 145.6,90.0 142.3,91.9Z" fill="#003908" stroke="#003908"/><path d="M219.4,74.1L222.8,72.2 219.1,71.7 215.7,73.6Z" fill="#495300" stroke="#495300"/><path d="M170.3,86.3L173.7,84.4 170.0,83.9 166.6,85.8Z" fill="#0a3c00" stroke="#0a3c00"/><path d="M194.8,80.2L198.2,78.3 194.5,77.8 191.1,79.7Z" fill="#274800" stroke="#274800"/><path d="M128.6,97.2L132.0,95.3 128.4,94.8 125.0,96.7Z" fill="#003d14" stroke="#003d14"/><path d="M152.9,91.0L156.3,89.1 152.6,88.6 149.3,90.5Z" fill="#003804" stroke="#003804"/><path d="M201.8,78.8L205.2,76.9 201.6,76.4 198.2,78.3Z" fill="#2f4b00" stroke="#2f4b00"/><path d="M177.3,84.9L180.7,83.0 177.0,82.5 173.7,84.4Z" fill="#113f00" stroke="#113f00"/><path d="M135.6,95.7L138.9,93.8 135.3,93.3 132.0,95.3Z" fill="#003c0f" stroke="#003c0f"/><path d="M159.9,89.6L163.3,87.7 159.6,87.2 156.3,89.1Z" fill="#003600" stroke="#003600"/><path d="M208.9,77.4L212.3,75.5 208.6,75.0 205.2,76.9Z" fill="#394e00" stroke="#394e00"/><path d="M184.4,83.5L187.7,81.6 184.1,81.1 180.7,83.0Z" fill="#194200" stroke="#194200"/><path d="M142.6,94.3L145.9,92.4 142.3,91.9 138.9,93.8Z" fill="#003a0a" stroke="#003a0a"/><path d="M216.0,76.0L219.4,74.1 215.7,73.6 212.3,75.5Z" fill="#425100" stroke="#425100"/><path d="M166.9,88.2L170.3,86.3 166.6,85.8 163.3,87.7Z" fill="#063900" stroke="#063900"/><path d="M191.4,82.1L194.8,80.2 191.1,79.7 187.7,81.6Z" fill="#214600" stroke="#214600"/><path d="M125.3,99.1L128.6,97.2 125.0,96.7 121.7,98.6Z" fill="#003e17" stroke="#003e17"/><path d="M149.6,92.9L152.9,91.0 149.3,90.5 145.9,92.4Z" fill="#003906" stroke="#003906"/><path d="M198.4,80.7L201.8,78.8 198.2,78.3 194.8,80.2Z" fill="#2a4900" stroke="#2a4900"/><path d="M173.9,86.8L177.3,84.9 173.7,84.4 170.3,86.3Z" fill="#0d3d00" stroke="#0d3d00"/><path d="M132.3,97.7L135.6,95.7 132.0,95.3 128.6,97.2Z" fill="#003c12" stroke="#003c12"/><path d="M156.6,91.5L159.9,89.6 156.3,89.1 152.9,91.0Z" fill="#003702" stroke="#003702"/><path d="M205.5,79.3L208.9,77.4 205.2,76.9 201.8,78.8Z" fill="#334c00" stroke="#334c00"/><path d="M181.0,85.4L184.4,83.5 180.7,83.0 177.3,84.9Z" fill="#144000" stroke="#144000"/><path d="M139.2,96.2L142.6,94.3 138.9,93.8 135.6,95.7Z" fill="#003b0d" stroke="#003b0d"/><path d="M212.6,77.9L216.0,76.0 212.3,75.5 208.9,77.4Z" fill="#3c4f00" stroke="#3c4f00"/><path d="M163.6,90.1L166.9,88.2 163.3,87.7 159.9,89.6Z" fill="#023700" stroke="#023700"/><path d="M188.0,84.0L191.4,82.1 187.7,81.6 184.4,83.5Z" fill="#1c4300" stroke="#1c4300"/><path d="M146.2,94.8L149.6,92.9 145.9,92.4 142.6,94.3Z" fill="#003909" stroke="#003909"/><path d="M170.6,88.7L173.9,86.8 170.3,86.3 166.9,88.2Z" fill="#083b00" stroke="#083b00"/><path d="M195.1,82.6L198.4,80.7 194.8,80.2 191.4,82.1Z" fill="#244700" stroke="#244700"/><path d="M128.9,99.6L132.3,97.7 128.6,97.2 125.3,99.1Z" fill="#003d14" stroke="#003d14"/><path d="M153.2,93.4L156.6,91.5 152.9,91.0 149.6,92.9Z" fill="#003805" stroke="#003805"/><path d="M202.1,81.2L205.5,79.3 201.8,78.8 198.4,80.7Z" fill="#2d4a00" stroke="#2d4a00"/><path d="M177.6,87.3L181.0,85.4 177.3,84.9 173.9,86.8Z" fill="#0f3e00" stroke="#0f3e00"/><path d="M135.9,98.2L139.2,96.2 135.6,95.7 132.3,97.7Z" fill="#003c10" stroke="#003c10"/><path d="M160.2,92.0L163.6,90.1 159.9,89.6 156.6,91.5Z" fill="#003601" stroke="#003601"/><path d="M209.2,79.8L212.6,77.9 208.9,77.4 205.5,79.3Z" fill="#364d00" stroke="#364d00"/><path d="M184.6,85.9L188.0,84.0 184.4,83.5 181.0,85.4Z" fill="#174100" stroke="#174100"/><path d="M142.9,96.7L146.2,94.8 142.6,94.3 139.2,96.2Z" fill="#003a0b" stroke="#003a0b"/><path d="M167.2,90.6L170.6,88.7 166.9,88.2 163.6,90.1Z" fill="#043800" stroke="#043800"/><path d="M191.7,84.5L195.1,82.6 191.4,82.1 188.0,84.0Z" fill="#1f4500" stroke="#1f4500"/><path d="M149.9,95.3L153.2,93.4 149.6,92.9 146.2,94.8Z" fill="#003907" stroke="#003907"/><path d="M198.7,83.1L202.1,81.2 198.4,80.7 195.1,82.6Z" fill="#274800" stroke="#274800"/><path d="M174.2,89.2L177.6,87.3 173.9,86.8 170.6,88.7Z" fill="#0b3c00" stroke="#0b3c00"/><path d="M132.6,100.1L135.9,98.2 132.3,97.7 128.9,99.6Z" fill="#003c12" stroke="#003c12"/><path d="M156.8,93.9L160.2,92.0 156.6,91.5 153.2,93.4Z" fill="#003703" stroke="#003703"/><path d="M205.8,81.7L209.2,79.8 205.5,79.3 202.1,81.2Z" fill="#304b00" stroke="#304b00"/><path d="M181.3,87.8L184.6,85.9 181.0,85.4 177.6,87.3Z" fill="#123f00" stroke="#123f00"/><path d="M139.5,98.6L142.9,96.7 139.2,96.2 135.9,98.2Z" fill="#003b0e" stroke="#003b0e"/><path d="M163.8,92.5L167.2,90.6 163.6,90.1 160.2,92.0Z" fill="#013600" stroke="#013600"/><path d="M188.3,86.4L191.7,84.5 188.0,84.0 184.6,85.9Z" fill="#1a4200" stroke="#1a4200"/><path d="M146.5,97.2L149.9,95.3 146.2,94.8 142.9,96.7Z" fill="#00390a" stroke="#00390a"/><path d="M170.9,91.1L174.2,89.2 170.6,88.7 167.2,90.6Z" fill="#073a00" stroke="#073a00"/><path d="M195.3,85.0L198.7,83.1 195.1,82.6 191.7,84.5Z" fill="#224600" stroke="#224600"/><path d="M153.5,95.8L156.8,93.9 153.2,93.4 149.9,95.3Z" fill="#003806" stroke="#003806"/><path d="M202.4,83.6L205.8,81.7 202.1,81.2 198.7,83.1Z" fill="#2a4900" stroke="#2a4900"/><path d="M177.9,89.7L181.3,87.8 177.6,87.3 174.2,89.2Z" fill="#0d3d00" stroke="#0d3d00"/><path d="M136.2,100.6L139.5,98.6 135.9,98.2 132.6,100.1Z" fill="#003c11" stroke="#003c11"/><path d="M160.5,94.4L163.8,92.5 160.2,92.0 156.8,93.9Z" fill="#003602" stroke="#003602"/><path d="M184.9,88.3L188.3,86.4 184.6,85.9 181.3,87.8Z" fill="#154000" stroke="#154000"/><path d="M143.2,99.1L146.5,97.2 142.9,96.7 139.5,98.6Z" fill="#003a0c" stroke="#003a0c"/><path d="M167.5,93.0L170.9,91.1 167.2,90.6 163.8,92.5Z" fill="#033700" stroke="#033700"/><path d="M192.0,86.9L195.3,85.0 191.7,84.5 188.3,86.4Z" fill="#1d4300" stroke="#1d4300"/><path d="M150.1,97.7L153.5,95.8 149.9,95.3 146.5,97.2Z" fill="#003908" stroke="#003908"/><path d="M199.0,85.5L202.4,83.6 198.7,83.1 195.3,85.0Z" fill="#254700" stroke="#254700"/><path d="M174.5,91.6L177.9,89.7 174.2,89.2 170.9,91.1Z" fill="#093b00" stroke="#093b00"/><path d="M157.1,96.3L160.5,94.4 156.8,93.9 153.5,95.8Z" fill="#003704" stroke="#003704"/><path d="M181.5,90.2L184.9,88.3 181.3,87.8 177.9,89.7Z" fill="#103e00" stroke="#103e00"/><path d="M139.8,101.0L143.2,99.1 139.5,98.6 136.2,100.6Z" fill="#003b0f" stroke="#003b0f"/><path d="M164.1,94.9L167.5,93.0 163.8,92.5 160.5,94.4Z" fill="#003600" stroke="#003600"/><path d="M188.6,88.8L192.0,86.9 188.3,86.4 184.9,88.3Z" fill="#184100" stroke="#184100"/><path d="M146.8,99.6L150.1,97.7 146.5,97.2 143.2,99.1Z" fill="#00390a" stroke="#00390a"/><path d="M171.2,93.5L174.5,91.6 170.9,91.1 167.5,93.0Z" fill="#053900" stroke="#053900"/><path d="M195.6,87.4L199.0,85.5 195.3,85.0 192.0,86.9Z" fill="#204500" stroke="#204500"/><path d="M153.8,98.2L157.1,96.3 153.5,95.8 150.1,97.7Z" fill="#003806" stroke="#003806"/><path d="M178.2,92.1L181.5,90.2 177.9,89.7 174.5,91.6Z" fill="#0c3c00" stroke="#0c3c00"/><path d="M160.8,96.8L164.1,94.9 160.5,94.4 157.1,96.3Z" fill="#003603" stroke="#003603"/><path d="M185.2,90.7L188.6,88.8 184.9,88.3 181.5,90.2Z" fill="#133f00" stroke="#133f00"/><path d="M143.5,101.5L146.8,99.6 143.2,99.1 139.8,101.0Z" fill="#003a0d" stroke="#003a0d"/><path d="M167.8,95.4L171.2,93.5 167.5,93.0 164.1,94.9Z" fill="#023700" stroke="#023700"/><path d="M192.2,89.3L195.6,87.4 192.0,86.9 188.6,88.8Z" fill="#1b4300" stroke="#1b4300"/><path d="M150.4,100.1L153.8,98.2 150.1,97.7 146.8,99.6Z" fill="#003909" stroke="#003909"/><path d="M174.8,94.0L178.2,92.1 174.5,91.6 171.2,93.5Z" fill="#083a00" stroke="#083a00"/><path d="M157.4,98.7L160.8,96.8 157.1,96.3 153.8,98.2Z" fill="#003705" stroke="#003705"/><path d="M181.8,92.6L185.2,90.7 181.5,90.2 178.2,92.1Z" fill="#0f3d00" stroke="#0f3d00"/><path d="M164.4,97.3L167.8,95.4 164.1,94.9 160.8,96.8Z" fill="#003601" stroke="#003601"/><path d="M188.9,91.2L192.2,89.3 188.6,88.8 185.2,90.7Z" fill="#164000" stroke="#164000"/><path d="M147.1,102.0L150.4,100.1 146.8,99.6 143.5,101.5Z" fill="#00390b" stroke="#00390b"/><path d="M171.4,95.9L174.8,94.0 171.2,93.5 167.8,95.4Z" fill="#043800" stroke="#043800"/><path d="M154.1,100.6L157.4,98.7 153.8,98.2 150.4,100.1Z" fill="#003807" stroke="#003807"/><path d="M178.5,94.5L181.8,92.6 178.2,92.1 174.8,94.0Z" fill="#0b3b00" stroke="#0b3b00"/><path d="M161.1,99.2L164.4,97.3 160.8,96.8 157.4,98.7Z" fill="#003603" stroke="#003603"/><path d="M185.5,93.1L188.9,91.2 185.2,90.7 181.8,92.6Z" fill="#123e00" stroke="#123e00"/><path d="M168.1,97.8L171.4,95.9 167.8,95.4 164.4,97.3Z" fill="#013600" stroke="#013600"/><path d="M150.7,102.5L154.1,100.6 150.4,100.1 147.1,102.0Z" fill="#003909" stroke="#003909"/><path d="M175.1,96.3L178.5,94.5 174.8,94.0 171.4,95.9Z" fill="#073900" stroke="#073900"/><path d="M157.7,101.1L161.1,99.2 157.4,98.7 154.1,100.6Z" fill="#003705" stroke="#003705"/><path d="M182.1,94.9L185.5,93.1 181.8,92.6 178.5,94.5Z" fill="#0d3c00" stroke="#0d3c00"/><path d="M164.7,99.6L168.1,97.8 164.4,97.3 161.1,99.2Z" fill="#003602" stroke="#003602"/><path d="M171.7,98.2L175.1,96.3 171.4,95.9 168.1,97.8Z" fill="#033700" stroke="#033700"/><path d="M154.4,103.0L157.7,101.1 154.1,100.6 150.7,102.5Z" fill="#003807" stroke="#003807"/><path d="M178.8,96.8L182.1,94.9 178.5,94.5 175.1,96.3Z" fill="#093a00" stroke="#093a00"/><path d="M161.4,101.5L164.7,99.6 161.1,99.2 157.7,101.1Z" fill="#003604" stroke="#003604"/><path d="M168.4,100.1L171.7,98.2 168.1,97.8 164.7,99.6Z" fill="#003500" stroke="#003500"/><path d="M175.4,98.7L178.8,96.8 175.1,96.3 171.7,98.2Z" fill="#063800" stroke="#063800"/><path d="M158.0,103.4L161.4,101.5 157.7,101.1 154.4,103.0Z" fill="#003706" stroke="#003706"/><path d="M165.0,102.0L168.4,100.1 164.7,99.6 161.4,101.5Z" fill="#003602" stroke="#003602"/><path d="M172.0,100.6L175.4,98.7 171.7,98.2 168.4,100.1Z" fill="#023600" stroke="#023600"/><path d="M161.7,103.9L165.0,102.0 161.4,101.5 158.0,103.4Z" fill="#003604" stroke="#003604"/><path d="M168.7,102.5L172.0,100.6 168.4,100.1 165.0,102.0Z" fill="#003501" stroke="#003501"/><path d="M165.3,104.4L168.7,102.5 165.0,102.0 161.7,103.9Z" fill="#003602" stroke="#003602"/></g><ellipse cx="156.80" cy="13.90" rx="2.3" ry="1.6" fill="#ee1111" stroke="#7a2020" stroke-width="0.4"/><ellipse cx="215.20" cy="23.50" rx="2.3" ry="1.6" fill="#ee1111" stroke="#7a2020" stroke-width="0.4"/><ellipse cx="160.20" cy="53.80" rx="2.3" ry="1.6" fill="#ee1111" stroke="#7a2020" stroke-width="0.4"/><ellipse cx="99.60" cy="89.80" rx="2.3" ry="1.6" fill="#ee1111" stroke="#7a2020" stroke-width="0.4"/><ellipse cx="165.00" cy="99.90" rx="2.3" ry="1.6" fill="#ee1111" stroke="#7a2020" stroke-width="0.4"/><text x="1.60" y="9.11" font-size="11.50" textLength="12.40" lengthAdjust="spacingAndGlyphs" fill="#161616" stroke="#161616" stroke-width="0.22" font-weight="bold">(a)</text><text transform="translate(15.18,114.40) rotate(-90)" x="0" y="0" font-size="8.40" textLength="93.50" lengthAdjust="spacingAndGlyphs" fill="#161616" stroke="#161616" stroke-width="0.3" font-weight="bold">Polydispersity index</text><text x="23.20" y="21.38" font-size="7.60" textLength="10.60" lengthAdjust="spacingAndGlyphs" fill="#161616" stroke="#161616" stroke-width="0.22" font-weight="bold">0.8</text><text x="23.60" y="32.58" font-size="7.60" textLength="10.60" lengthAdjust="spacingAndGlyphs" fill="#161616" stroke="#161616" stroke-width="0.22" font-weight="bold">0.7</text><text x="24.00" y="43.68" font-size="7.60" textLength="10.60" lengthAdjust="spacingAndGlyphs" fill="#161616" stroke="#161616" stroke-width="0.22" font-weight="bold">0.6</text><text x="24.30" y="55.88" font-size="7.60" textLength="10.60" lengthAdjust="spacingAndGlyphs" fill="#161616" stroke="#161616" stroke-width="0.22" font-weight="bold">0.5</text><text x="24.70" y="67.98" font-size="7.60" textLength="10.60" lengthAdjust="spacingAndGlyphs" fill="#161616" stroke="#161616" stroke-width="0.22" font-weight="bold">0.4</text><text x="25.20" y="79.78" font-size="7.60" textLength="10.60" lengthAdjust="spacingAndGlyphs" fill="#161616" stroke="#161616" stroke-width="0.22" font-weight="bold">0.3</text><text x="26.30" y="91.38" font-size="7.60" textLength="10.60" lengthAdjust="spacingAndGlyphs" fill="#161616" stroke="#161616" stroke-width="0.22" font-weight="bold">0.2</text><text x="27.80" y="103.08" font-size="7.60" textLength="10.60" lengthAdjust="spacingAndGlyphs" fill="#161616" stroke="#161616" stroke-width="0.22" font-weight="bold">0.1</text><text x="28.00" y="134.38" font-size="7.60" textLength="14.70" lengthAdjust="spacingAndGlyphs" fill="#161616" stroke="#161616" stroke-width="0.22" font-weight="bold">0.25</text><text x="57.50" y="142.58" font-size="7.60" textLength="14.50" lengthAdjust="spacingAndGlyphs" fill="#161616" stroke="#161616" stroke-width="0.22" font-weight="bold">0.20</text><text x="87.00" y="151.98" font-size="7.60" textLength="14.80" lengthAdjust="spacingAndGlyphs" fill="#161616" stroke="#161616" stroke-width="0.22" font-weight="bold">0.15</text><text x="115.80" y="161.18" font-size="7.60" textLength="14.70" lengthAdjust="spacingAndGlyphs" fill="#161616" stroke="#161616" stroke-width="0.22" font-weight="bold">0.10</text><text x="146.80" y="171.08" font-size="7.60" textLength="14.60" lengthAdjust="spacingAndGlyphs" fill="#161616" stroke="#161616" stroke-width="0.22" font-weight="bold">0.05</text><text x="168.00" y="171.08" font-size="7.60" textLength="14.60" lengthAdjust="spacingAndGlyphs" fill="#161616" stroke="#161616" stroke-width="0.22" font-weight="bold">1.00</text><text x="196.00" y="160.88" font-size="7.60" textLength="14.80" lengthAdjust="spacingAndGlyphs" fill="#161616" stroke="#161616" stroke-width="0.22" font-weight="bold">2.00</text><text x="222.50" y="150.38" font-size="7.60" textLength="14.50" lengthAdjust="spacingAndGlyphs" fill="#161616" stroke="#161616" stroke-width="0.22" font-weight="bold">3.00</text><text x="250.00" y="140.48" font-size="7.60" textLength="14.50" lengthAdjust="spacingAndGlyphs" fill="#161616" stroke="#161616" stroke-width="0.22" font-weight="bold">4.00</text><text x="277.30" y="129.38" font-size="7.60" textLength="14.70" lengthAdjust="spacingAndGlyphs" fill="#161616" stroke="#161616" stroke-width="0.22" font-weight="bold">5.00</text><text x="42.40" y="165.20" font-size="10.60" textLength="46.10" lengthAdjust="spacingAndGlyphs" fill="#161616" stroke="#161616" stroke-width="0.22" font-weight="bold">Tween-80</text><text x="241.80" y="163.90" font-size="10.60" textLength="19.50" lengthAdjust="spacingAndGlyphs" fill="#161616" stroke="#161616" stroke-width="0.22" font-weight="bold">Zein</text><polygon points="381.30,125.00 513.20,110.30 602.80,137.00 457.50,159.20" fill="#ffff00" stroke="#333" stroke-width="0.5"/><path d="M440.06,150.32L437.80,150.18M437.80,150.18L437.33,150.15M404.89,134.62L404.03,135.20M404.89,134.62L404.90,134.62M442.76,150.48L440.53,150.35M440.53,150.35L440.06,150.32M405.82,134.06L404.90,134.62M445.41,150.61L443.34,150.51M443.34,150.51L442.76,150.48M406.02,133.94L405.82,134.06M406.02,133.94L406.77,133.52M448.04,150.73L446.25,150.65M446.25,150.65L445.41,150.61M407.29,133.24L406.77,133.52M407.29,133.24L407.75,133.00M450.65,150.84L449.25,150.78M449.25,150.78L448.04,150.73M408.68,132.53L407.75,133.00M408.68,132.53L408.75,132.49M453.23,150.93L452.33,150.90M452.33,150.90L450.65,150.84M409.79,132.00L408.75,132.49M455.79,151.00L455.50,151.00M455.50,151.00L453.23,150.93M410.20,131.80L409.79,132.00M410.20,131.80L410.84,131.52M458.33,151.07L455.79,151.00M411.86,131.07L410.84,131.52M411.86,131.07L411.91,131.04M460.85,151.13L458.76,151.08M458.76,151.08L458.33,151.07M413.00,130.59L411.91,131.04M463.36,151.17L462.11,151.15M462.11,151.15L460.85,151.13M413.66,130.31L413.00,130.59M413.66,130.31L414.11,130.13M465.86,151.21L465.54,151.21M465.54,151.21L463.36,151.17M415.23,129.69L414.11,130.13M468.34,151.24L465.86,151.21M415.59,129.55L415.23,129.69M415.59,129.55L416.36,129.26M470.81,151.26L469.06,151.25M469.06,151.25L468.34,151.24M417.50,128.83L416.36,129.26M473.27,151.27L472.66,151.27M472.66,151.27L470.81,151.26M417.67,128.77L417.50,128.83M417.67,128.77L418.67,128.41M475.72,151.28L473.27,151.27M419.83,127.99L418.67,128.41M478.16,151.28L476.35,151.28M476.35,151.28L475.72,151.28M419.88,127.97L419.83,127.99M419.88,127.97L421.01,127.59M480.59,151.27L480.12,151.27M480.12,151.27L478.16,151.28M422.20,127.18L421.01,127.59M483.01,151.26L480.59,151.27M422.25,127.17L422.20,127.18M422.25,127.17L423.40,126.79M485.43,151.24L483.97,151.25M483.97,151.25L483.01,151.26M424.60,126.40L423.40,126.79M487.84,151.22L485.43,151.24M424.76,126.34L424.60,126.40M424.76,126.34L425.81,126.01M490.24,151.19L487.91,151.22M487.91,151.22L487.84,151.22M427.03,125.63L425.81,126.01M492.63,151.15L491.94,151.17M491.94,151.17L490.24,151.19M427.43,125.51L427.03,125.63M427.43,125.51L428.26,125.26M495.02,151.12L492.63,151.15M429.49,124.89L428.26,125.26M497.40,151.07L496.05,151.10M496.05,151.10L495.02,151.12M430.25,124.66L429.49,124.89M430.25,124.66L430.73,124.52M499.78,151.02L497.40,151.07M431.98,124.16L430.73,124.52M502.15,150.97L500.24,151.02M500.24,151.02L499.78,151.02M433.23,123.80L431.98,124.16M433.23,123.80L433.23,123.80M504.52,150.92L504.51,150.92M504.51,150.92L502.15,150.97M434.49,123.44L433.23,123.80M506.88,150.86L504.52,150.92M435.75,123.09L434.49,123.44M509.24,150.79L508.87,150.80M508.87,150.80L506.88,150.86M436.37,122.92L435.75,123.09M436.37,122.92L437.02,122.74M511.60,150.72L509.24,150.79M438.29,122.40L437.02,122.74M513.30,150.67L511.60,150.72M439.57,122.05L438.29,122.40M439.67,122.03L439.57,122.05M439.67,122.03L440.85,121.72M442.13,121.38L440.85,121.72M443.15,121.12L442.13,121.38M443.15,121.12L443.42,121.05M444.72,120.72L443.42,121.05M446.01,120.39L444.72,120.72M446.79,120.20L446.01,120.39M446.79,120.20L447.31,120.07M448.62,119.75L447.31,120.07M449.92,119.43L448.62,119.75M450.62,119.26L449.92,119.43M450.62,119.26L451.23,119.11M452.55,118.80L451.23,119.11M453.86,118.49L452.55,118.80M454.62,118.31L453.86,118.49M454.62,118.31L455.18,118.18M456.51,117.87L455.18,118.18M457.83,117.57L456.51,117.87M458.81,117.34L457.83,117.57M458.81,117.34L459.16,117.26M460.49,116.96L459.16,117.26M461.82,116.67L460.49,116.96M463.15,116.37L461.82,116.67M463.18,116.36L463.15,116.37M463.18,116.36L464.49,116.08M465.83,115.78L464.49,116.08M467.17,115.49L465.83,115.78M467.76,115.36L467.17,115.49M461.30,140.43L460.87,140.34M460.87,140.34L459.49,139.98M459.49,139.98L458.21,139.62M458.21,139.62L457.03,139.24M457.03,139.24L455.96,138.84M455.96,138.84L455.00,138.44M455.00,138.44L454.13,138.01M454.13,138.01L453.38,137.58M453.38,137.58L452.73,137.13M452.73,137.13L452.35,136.80M465.92,141.36L465.61,141.30M465.61,141.30L463.93,141.00M463.93,141.00L462.35,140.67M462.35,140.67L461.30,140.43M452.19,136.66L452.35,136.80M452.19,136.66L451.76,136.18M451.76,136.18L451.45,135.69M451.45,135.69L451.36,135.47M469.74,141.94L469.26,141.88M469.26,141.88L467.39,141.60M467.39,141.60L465.92,141.36M451.24,135.18L451.36,135.47M451.24,135.18L451.15,134.66M451.15,134.66L451.16,134.47M473.21,142.38L471.24,142.15M471.24,142.15L469.74,141.94M451.17,134.13L451.16,134.47M451.17,134.13L451.31,133.62M476.46,142.73L475.47,142.63M475.47,142.63L473.31,142.40M473.31,142.40L473.21,142.38M451.31,133.58L451.31,133.62M451.31,133.58L451.57,133.02M451.57,133.02L451.68,132.86M479.58,143.02L477.73,142.86M477.73,142.86L476.46,142.73M451.95,132.44L451.68,132.86M451.95,132.44L452.19,132.16M482.60,143.26L482.53,143.26M482.53,143.26L480.08,143.06M480.08,143.06L479.58,143.02M452.45,131.85L452.19,132.16M452.45,131.85L452.80,131.51M485.52,143.46L485.07,143.43M485.07,143.43L482.60,143.26M453.07,131.25L452.80,131.51M453.07,131.25L453.49,130.90M488.38,143.63L487.70,143.60M487.70,143.60L485.52,143.46M453.82,130.63L453.49,130.90M453.82,130.63L454.25,130.31M491.20,143.78L490.43,143.75M490.43,143.75L488.38,143.63M454.69,130.00L454.25,130.31M454.69,130.00L455.07,129.75M493.96,143.91L493.24,143.88M493.24,143.88L491.20,143.78M455.69,129.35L455.07,129.75M455.69,129.35L455.93,129.21M496.69,144.02L496.15,144.00M496.15,144.00L493.96,143.91M456.81,128.69L455.93,129.21M456.81,128.69L456.82,128.69M499.39,144.11L499.15,144.10M499.15,144.10L496.69,144.02M457.76,128.19L456.82,128.69M502.05,144.19L499.39,144.11M458.07,128.02L457.76,128.19M458.07,128.02L458.73,127.70M504.69,144.25L502.23,144.19M502.23,144.19L502.05,144.19M459.47,127.33L458.73,127.70M459.47,127.33L459.71,127.22M507.30,144.30L505.41,144.27M505.41,144.27L504.69,144.25M460.73,126.75L459.71,127.22M509.90,144.34L508.68,144.33M508.68,144.33L507.30,144.30M461.00,126.63L460.73,126.75M461.00,126.63L461.77,126.30M512.48,144.37L512.03,144.37M512.03,144.37L509.90,144.34M462.67,125.91L461.77,126.30M462.67,125.91L462.82,125.85M515.03,144.39L512.48,144.37M463.89,125.42L462.82,125.85M517.57,144.41L515.47,144.40M515.47,144.40L515.03,144.39M464.47,125.18L463.89,125.42M464.47,125.18L464.98,124.99M520.10,144.41L519.00,144.41M519.00,144.41L517.57,144.41M466.08,124.57L464.98,124.99M522.62,144.41L522.61,144.41M522.61,144.41L520.10,144.41M466.43,124.44L466.08,124.57M466.43,124.44L467.20,124.16M525.12,144.40L522.62,144.41M468.33,123.75L467.20,124.16M527.62,144.38L526.32,144.39M526.32,144.39L525.12,144.40M468.52,123.68L468.33,123.75M468.52,123.68L469.48,123.35M530.10,144.36L527.62,144.38M470.62,122.95L469.48,123.35M532.57,144.33L530.10,144.36M530.10,144.36L530.10,144.36M470.77,122.90L470.62,122.95M470.77,122.90L471.79,122.57M535.03,144.29L533.98,144.31M533.98,144.31L532.57,144.33M472.96,122.18L471.79,122.57M537.49,144.25L535.03,144.29M473.16,122.12L472.96,122.18M473.16,122.12L474.15,121.81M539.93,144.21L537.94,144.25M537.94,144.25L537.49,144.25M475.34,121.43L474.15,121.81M542.38,144.16L541.98,144.17M541.98,144.17L539.93,144.21M475.71,121.31L475.34,121.43M475.71,121.31L476.54,121.06M544.81,144.10L542.38,144.16M477.74,120.70L476.54,121.06M547.23,144.04L546.12,144.07M546.12,144.07L544.81,144.10M478.42,120.50L477.74,120.70M478.42,120.50L478.96,120.34M549.65,143.98L547.23,144.04M480.18,119.98L478.96,120.34M552.06,143.91L550.33,143.96M550.33,143.96L549.65,143.98M481.29,119.66L480.18,119.98M481.29,119.66L481.40,119.63M554.47,143.84L552.06,143.91M482.64,119.28L481.40,119.63M556.87,143.76L554.63,143.83M554.63,143.83L554.47,143.84M483.88,118.94L482.64,119.28M559.01,143.69L556.87,143.76M484.32,118.82L483.88,118.94M484.32,118.82L485.12,118.60M486.38,118.26L485.12,118.60M487.51,117.96L486.38,118.26M487.51,117.96L487.63,117.93M488.89,117.59L487.63,117.93M490.16,117.27L488.89,117.59M490.88,117.08L490.16,117.27M490.88,117.08L491.43,116.94M492.70,116.62L491.43,116.94M493.98,116.30L492.70,116.62M494.42,116.19L493.98,116.30M494.42,116.19L495.26,115.98M496.55,115.67L495.26,115.98M497.84,115.35L496.55,115.67M498.14,115.28L497.84,115.35M498.14,115.28L499.14,115.04M500.43,114.73L499.14,115.04M501.73,114.43L500.43,114.73M502.05,114.35L501.73,114.43M502.05,114.35L503.04,114.13M504.35,113.83L503.04,114.13M505.66,113.53L504.35,113.83M506.14,113.42L505.66,113.53M506.14,113.42L506.97,113.23M508.29,112.93L506.97,113.23M509.60,112.64L508.29,112.93M510.42,112.46L509.60,112.64M510.42,112.46L510.93,112.35M512.25,112.06L510.93,112.35M513.58,111.77L512.25,112.06M514.90,111.49L513.58,111.77M514.90,111.49L514.90,111.49M516.24,111.21L514.90,111.49M513.56,134.91L512.82,134.78M512.82,134.78L511.27,134.48M511.27,134.48L509.83,134.16M509.83,134.16L508.49,133.83M508.49,133.83L507.25,133.48M507.25,133.48L506.12,133.12M506.12,133.12L505.10,132.74M505.10,132.74L504.18,132.35M504.18,132.35L503.37,131.95M503.37,131.95L502.67,131.53M502.67,131.53L502.09,131.09M502.09,131.09L501.70,130.73M517.93,135.58L516.22,135.34M516.22,135.34L514.47,135.07M514.47,135.07L513.56,134.91M501.61,130.64L501.70,130.73M501.61,130.64L501.25,130.18M501.25,130.18L501.01,129.71M501.01,129.71L500.99,129.64M521.68,136.03L520.02,135.85M520.02,135.85L518.07,135.60M518.07,135.60L517.93,135.58M500.88,129.21L500.99,129.64M500.88,129.21L500.86,128.77M525.14,136.37L524.22,136.29M524.22,136.29L522.07,136.08M522.07,136.08L521.68,136.03M500.86,128.71L500.86,128.77M500.86,128.71L500.97,128.19M500.97,128.19L501.04,128.01M528.42,136.65L526.46,136.49M526.46,136.49L525.14,136.37M501.20,127.65L501.04,128.01M501.20,127.65L501.41,127.32M531.57,136.87L531.23,136.85M531.23,136.85L528.80,136.68M528.80,136.68L528.42,136.65M501.54,127.10L501.41,127.32M501.54,127.10L501.90,126.67M534.61,137.05L533.77,137.00M533.77,137.00L531.57,136.87M502.02,126.54L501.90,126.67M502.02,126.54L502.50,126.07M537.57,137.20L536.39,137.14M536.39,137.14L534.61,137.05M502.61,125.96L502.50,126.07M502.61,125.96L503.18,125.50M540.47,137.32L539.11,137.27M539.11,137.27L537.57,137.20M503.34,125.37L503.18,125.50M503.34,125.37L503.92,124.96M543.32,137.42L541.92,137.38M541.92,137.38L540.47,137.32M504.19,124.77L503.92,124.96M504.19,124.77L504.72,124.43M546.12,137.51L544.83,137.47M544.83,137.47L543.32,137.42M505.18,124.14L504.72,124.43M505.18,124.14L505.56,123.93M548.89,137.58L547.83,137.55M547.83,137.55L546.12,137.51M506.30,123.51L505.56,123.93M506.30,123.51L506.43,123.44M551.62,137.63L550.92,137.62M550.92,137.62L548.89,137.58M507.35,122.96L506.43,123.44M554.32,137.67L554.10,137.67M554.10,137.67L551.62,137.63M507.55,122.86L507.35,122.96M507.55,122.86L508.30,122.50M557.00,137.70L554.32,137.67M508.94,122.19L508.30,122.50M508.94,122.19L509.27,122.05M559.65,137.71L557.37,137.70M557.37,137.70L557.00,137.70M510.26,121.61L509.27,122.05M562.28,137.72L560.73,137.72M560.73,137.72L559.65,137.71M510.47,121.51L510.26,121.61M510.47,121.51L511.28,121.18M564.89,137.72L564.18,137.72M564.18,137.72L562.28,137.72M512.14,120.82L511.28,121.18M512.14,120.82L512.31,120.75M567.48,137.71L564.89,137.72M513.37,120.34L512.31,120.75M570.06,137.69L567.72,137.71M567.72,137.71L567.48,137.71M513.96,120.11L513.37,120.34M513.96,120.11L514.44,119.93M572.62,137.67L571.35,137.68M571.35,137.68L570.06,137.69M515.53,119.53L514.44,119.93M575.17,137.64L575.07,137.64M575.07,137.64L572.62,137.67M515.92,119.39L515.53,119.53M515.92,119.39L516.63,119.14M577.71,137.60L575.17,137.64M517.74,118.75L516.63,119.14M580.23,137.55L578.87,137.58M578.87,137.58L577.71,137.60M518.03,118.65L517.74,118.75M518.03,118.65L518.87,118.37M582.75,137.50L580.23,137.55M520.01,117.99L518.87,118.37M585.25,137.45L582.77,137.50M582.77,137.50L582.75,137.50M520.30,117.89L520.01,117.99M520.30,117.89L521.16,117.62M587.74,137.39L586.75,137.41M586.75,137.41L585.25,137.45M522.32,117.25L521.16,117.62M590.23,137.32L587.74,137.39M522.72,117.13L522.32,117.25M522.72,117.13L523.49,116.89M592.71,137.25L590.81,137.30M590.81,137.30L590.23,137.32M524.66,116.53L523.49,116.89M595.18,137.17L594.97,137.18M594.97,137.18L592.71,137.25M525.30,116.34L524.66,116.53M525.30,116.34L525.85,116.18M597.64,137.09L595.18,137.17M527.04,115.83L525.85,116.18M600.09,137.01L599.21,137.04M599.21,137.04L597.64,137.09M528.04,115.54L527.04,115.83M528.04,115.54L528.24,115.48M602.54,136.92L600.09,137.01M529.45,115.14L528.24,115.48" stroke="#33dd33" stroke-width="0.8" fill="none"/><g stroke="#2a2a2a" stroke-width="0.75" fill="none"><polyline points="379.97,98.00 513.63,84.30 604.64,108.56" /><polyline points="379.52,87.36 513.80,74.41 605.16,97.33" /><polyline points="379.06,76.72 513.96,64.51 605.68,86.11" /><polyline points="378.61,66.07 514.13,54.62 606.20,74.89" /><polyline points="378.16,55.43 514.29,44.72 606.73,63.66" /><polyline points="377.70,44.79 514.46,34.83 607.25,52.44" /><polyline points="377.25,34.14 514.62,24.94 607.77,41.22" /><polyline points="376.79,23.50 514.79,15.04 608.29,29.99" /><line x1="413.39" y1="94.58" x2="411.29" y2="21.38"/><line x1="446.80" y1="91.15" x2="445.79" y2="19.27"/><line x1="480.22" y1="87.73" x2="480.29" y2="17.16"/><line x1="586.44" y1="103.71" x2="589.59" y2="27.00"/><line x1="568.24" y1="98.85" x2="570.89" y2="24.01"/><line x1="550.04" y1="94.00" x2="552.19" y2="21.02"/><line x1="531.84" y1="89.15" x2="533.49" y2="18.03"/><line x1="381.30" y1="125.00" x2="376.79" y2="23.50"/><line x1="513.20" y1="110.30" x2="514.79" y2="15.04"/><line x1="602.80" y1="137.00" x2="608.29" y2="29.99"/></g><ellipse cx="380.00" cy="98.50" rx="2.3" ry="1.6" fill="#f0a8a8" stroke="#7a2020" stroke-width="0.4"/><line x1="534.60" y1="92.60" x2="534.60" y2="110.50" stroke="#555" stroke-width="0.6"/><ellipse cx="534.60" cy="110.80" rx="2.3" ry="1.6" fill="#f0a8a8" stroke="#7a2020" stroke-width="0.4"/><ellipse cx="606.60" cy="68.00" rx="2.3" ry="1.6" fill="#f0a8a8" stroke="#7a2020" stroke-width="0.4"/><g stroke-width="0.35"><path d="M512.8,55.6L516.8,54.6 514.1,56.5 510.1,57.5Z" fill="#000000" stroke="#000000"/><path d="M508.8,56.7L512.8,55.6 510.1,57.5 506.1,58.5Z" fill="#000000" stroke="#000000"/><path d="M504.8,57.7L508.8,56.7 506.1,58.5 502.1,59.5Z" fill="#000000" stroke="#000000"/><path d="M500.8,58.8L504.8,57.7 502.1,59.5 498.1,60.6Z" fill="#000000" stroke="#000000"/><path d="M515.6,53.9L519.6,52.8 516.8,54.6 512.8,55.6Z" fill="#000000" stroke="#000000"/><path d="M496.8,59.8L500.8,58.8 498.1,60.6 494.2,61.6Z" fill="#000000" stroke="#000000"/><path d="M511.5,54.9L515.6,53.9 512.8,55.6 508.8,56.7Z" fill="#000000" stroke="#000000"/><path d="M492.8,60.9L496.8,59.8 494.2,61.6 490.2,62.7Z" fill="#000000" stroke="#000000"/><path d="M507.5,56.0L511.5,54.9 508.8,56.7 504.8,57.7Z" fill="#000000" stroke="#000000"/><path d="M488.8,61.9L492.8,60.9 490.2,62.7 486.2,63.7Z" fill="#000000" stroke="#000000"/><path d="M503.5,57.1L507.5,56.0 504.8,57.7 500.8,58.8Z" fill="#000000" stroke="#000000"/><path d="M518.3,52.2L522.4,51.2 519.6,52.8 515.6,53.9Z" fill="#000000" stroke="#000000"/><path d="M484.8,63.0L488.8,61.9 486.2,63.7 482.2,64.8Z" fill="#000000" stroke="#000000"/><path d="M499.5,58.1L503.5,57.1 500.8,58.8 496.8,59.8Z" fill="#000000" stroke="#000000"/><path d="M514.3,53.3L518.3,52.2 515.6,53.9 511.5,54.9Z" fill="#000000" stroke="#000000"/><path d="M480.9,64.1L484.8,63.0 482.2,64.8 478.3,65.8Z" fill="#000000" stroke="#000000"/><path d="M495.5,59.2L499.5,58.1 496.8,59.8 492.8,60.9Z" fill="#000000" stroke="#000000"/><path d="M510.2,54.4L514.3,53.3 511.5,54.9 507.5,56.0Z" fill="#000000" stroke="#000000"/><path d="M476.9,65.2L480.9,64.1 478.3,65.8 474.3,66.9Z" fill="#000000" stroke="#000000"/><path d="M521.1,50.7L525.1,49.6 522.4,51.2 518.3,52.2Z" fill="#000000" stroke="#000000"/><path d="M491.5,60.3L495.5,59.2 492.8,60.9 488.8,61.9Z" fill="#000000" stroke="#000000"/><path d="M506.2,55.5L510.2,54.4 507.5,56.0 503.5,57.1Z" fill="#000000" stroke="#000000"/><path d="M472.9,66.3L476.9,65.2 474.3,66.9 470.3,68.0Z" fill="#000000" stroke="#000000"/><path d="M517.0,51.8L521.1,50.7 518.3,52.2 514.3,53.3Z" fill="#000000" stroke="#000000"/><path d="M487.5,61.4L491.5,60.3 488.8,61.9 484.8,63.0Z" fill="#000000" stroke="#000000"/><path d="M502.2,56.6L506.2,55.5 503.5,57.1 499.5,58.1Z" fill="#000000" stroke="#000000"/><path d="M468.9,67.4L472.9,66.3 470.3,68.0 466.4,69.0Z" fill="#000000" stroke="#000000"/><path d="M512.9,52.9L517.0,51.8 514.3,53.3 510.2,54.4Z" fill="#000000" stroke="#000000"/><path d="M483.5,62.5L487.5,61.4 484.8,63.0 480.9,64.1Z" fill="#000000" stroke="#000000"/><path d="M498.1,57.7L502.2,56.6 499.5,58.1 495.5,59.2Z" fill="#000000" stroke="#000000"/><path d="M523.8,49.3L527.9,48.2 525.1,49.6 521.1,50.7Z" fill="#000000" stroke="#000000"/><path d="M464.9,68.4L468.9,67.4 466.4,69.0 462.4,70.1Z" fill="#000000" stroke="#000000"/><path d="M508.9,54.0L512.9,52.9 510.2,54.4 506.2,55.5Z" fill="#000000" stroke="#000000"/><path d="M479.5,63.6L483.5,62.5 480.9,64.1 476.9,65.2Z" fill="#000000" stroke="#000000"/><path d="M494.1,58.8L498.1,57.7 495.5,59.2 491.5,60.3Z" fill="#000000" stroke="#000000"/><path d="M519.7,50.4L523.8,49.3 521.1,50.7 517.0,51.8Z" fill="#000000" stroke="#000000"/><path d="M460.9,69.5L464.9,68.4 462.4,70.1 458.4,71.2Z" fill="#000000" stroke="#000000"/><path d="M504.8,55.1L508.9,54.0 506.2,55.5 502.2,56.6Z" fill="#000000" stroke="#000000"/><path d="M475.5,64.7L479.5,63.6 476.9,65.2 472.9,66.3Z" fill="#000000" stroke="#000000"/><path d="M490.1,59.9L494.1,58.8 491.5,60.3 487.5,61.4Z" fill="#000000" stroke="#000000"/><path d="M515.7,51.5L519.7,50.4 517.0,51.8 512.9,52.9Z" fill="#000000" stroke="#000000"/><path d="M457.0,70.7L460.9,69.5 458.4,71.2 454.5,72.3Z" fill="#000000" stroke="#000000"/><path d="M500.8,56.2L504.8,55.1 502.2,56.6 498.1,57.7Z" fill="#000000" stroke="#000000"/><path d="M471.5,65.8L475.5,64.7 472.9,66.3 468.9,67.4Z" fill="#000000" stroke="#000000"/><path d="M486.1,61.0L490.1,59.9 487.5,61.4 483.5,62.5Z" fill="#000000" stroke="#000000"/><path d="M526.5,48.0L530.6,46.8 527.9,48.2 523.8,49.3Z" fill="#000000" stroke="#000000"/><path d="M511.6,52.7L515.7,51.5 512.9,52.9 508.9,54.0Z" fill="#000000" stroke="#000000"/><path d="M453.0,71.8L457.0,70.7 454.5,72.3 450.5,73.4Z" fill="#000000" stroke="#000000"/><path d="M496.8,57.4L500.8,56.2 498.1,57.7 494.1,58.8Z" fill="#000000" stroke="#000000"/><path d="M467.5,66.9L471.5,65.8 468.9,67.4 464.9,68.4Z" fill="#000000" stroke="#000000"/><path d="M482.0,62.1L486.1,61.0 483.5,62.5 479.5,63.6Z" fill="#000000" stroke="#000000"/><path d="M522.5,49.1L526.5,48.0 523.8,49.3 519.7,50.4Z" fill="#000000" stroke="#000000"/><path d="M507.5,53.8L511.6,52.7 508.9,54.0 504.8,55.1Z" fill="#000000" stroke="#000000"/><path d="M449.0,72.9L453.0,71.8 450.5,73.4 446.6,74.5Z" fill="#000000" stroke="#000000"/><path d="M492.7,58.5L496.8,57.4 494.1,58.8 490.1,59.9Z" fill="#000000" stroke="#000000"/><path d="M463.5,68.0L467.5,66.9 464.9,68.4 460.9,69.5Z" fill="#000000" stroke="#000000"/><path d="M478.0,63.2L482.0,62.1 479.5,63.6 475.5,64.7Z" fill="#000000" stroke="#000000"/><path d="M518.4,50.3L522.5,49.1 519.7,50.4 515.7,51.5Z" fill="#000000" stroke="#000000"/><path d="M503.5,54.9L507.5,53.8 504.8,55.1 500.8,56.2Z" fill="#000000" stroke="#000000"/><path d="M445.1,74.0L449.0,72.9 446.6,74.5 442.6,75.6Z" fill="#000000" stroke="#000000"/><path d="M488.7,59.6L492.7,58.5 490.1,59.9 486.1,61.0Z" fill="#000000" stroke="#000000"/><path d="M459.5,69.1L463.5,68.0 460.9,69.5 457.0,70.7Z" fill="#000000" stroke="#000000"/><path d="M474.0,64.4L478.0,63.2 475.5,64.7 471.5,65.8Z" fill="#000000" stroke="#000000"/><path d="M529.3,46.8L533.4,45.6 530.6,46.8 526.5,48.0Z" fill="#000000" stroke="#000000"/><path d="M514.3,51.4L518.4,50.3 515.7,51.5 511.6,52.7Z" fill="#000000" stroke="#000000"/><path d="M499.4,56.1L503.5,54.9 500.8,56.2 496.8,57.4Z" fill="#000000" stroke="#000000"/><path d="M441.1,75.1L445.1,74.0 442.6,75.6 438.7,76.7Z" fill="#000000" stroke="#000000"/><path d="M484.6,60.8L488.7,59.6 486.1,61.0 482.0,62.1Z" fill="#000000" stroke="#000000"/><path d="M455.5,70.3L459.5,69.1 457.0,70.7 453.0,71.8Z" fill="#000000" stroke="#000000"/><path d="M470.0,65.5L474.0,64.4 471.5,65.8 467.5,66.9Z" fill="#000000" stroke="#000000"/><path d="M525.2,48.0L529.3,46.8 526.5,48.0 522.5,49.1Z" fill="#000000" stroke="#000000"/><path d="M510.2,52.6L514.3,51.4 511.6,52.7 507.5,53.8Z" fill="#000000" stroke="#000000"/><path d="M495.3,57.2L499.4,56.1 496.8,57.4 492.7,58.5Z" fill="#000000" stroke="#000000"/><path d="M437.1,76.3L441.1,75.1 438.7,76.7 434.7,77.8Z" fill="#000000" stroke="#000000"/><path d="M480.6,61.9L484.6,60.8 482.0,62.1 478.0,63.2Z" fill="#000000" stroke="#000000"/><path d="M451.5,71.4L455.5,70.3 453.0,71.8 449.0,72.9Z" fill="#000000" stroke="#000000"/><path d="M466.0,66.6L470.0,65.5 467.5,66.9 463.5,68.0Z" fill="#000000" stroke="#000000"/><path d="M521.1,49.1L525.2,48.0 522.5,49.1 518.4,50.3Z" fill="#000000" stroke="#000000"/><path d="M506.1,53.7L510.2,52.6 507.5,53.8 503.5,54.9Z" fill="#000000" stroke="#000000"/><path d="M491.3,58.4L495.3,57.2 492.7,58.5 488.7,59.6Z" fill="#000000" stroke="#000000"/><path d="M433.2,77.4L437.1,76.3 434.7,77.8 430.8,78.9Z" fill="#000000" stroke="#000000"/><path d="M476.6,63.0L480.6,61.9 478.0,63.2 474.0,64.4Z" fill="#000000" stroke="#000000"/><path d="M447.5,72.5L451.5,71.4 449.0,72.9 445.1,74.0Z" fill="#000000" stroke="#000000"/><path d="M462.0,67.8L466.0,66.6 463.5,68.0 459.5,69.1Z" fill="#000000" stroke="#000000"/><path d="M532.0,45.7L536.2,44.5 533.4,45.6 529.3,46.8Z" fill="#000000" stroke="#000000"/><path d="M517.0,50.3L521.1,49.1 518.4,50.3 514.3,51.4Z" fill="#000000" stroke="#000000"/><path d="M502.0,54.9L506.1,53.7 503.5,54.9 499.4,56.1Z" fill="#000000" stroke="#000000"/><path d="M487.2,59.5L491.3,58.4 488.7,59.6 484.6,60.8Z" fill="#000000" stroke="#000000"/><path d="M472.5,64.2L476.6,63.0 474.0,64.4 470.0,65.5Z" fill="#000000" stroke="#000000"/><path d="M429.2,78.5L433.2,77.4 430.8,78.9 426.8,80.0Z" fill="#000000" stroke="#000000"/><path d="M458.0,68.9L462.0,67.8 459.5,69.1 455.5,70.3Z" fill="#000000" stroke="#000000"/><path d="M443.5,73.7L447.5,72.5 445.1,74.0 441.1,75.1Z" fill="#000000" stroke="#000000"/><path d="M527.9,46.9L532.0,45.7 529.3,46.8 525.2,48.0Z" fill="#000000" stroke="#000000"/><path d="M512.9,51.5L517.0,50.3 514.3,51.4 510.2,52.6Z" fill="#000000" stroke="#000000"/><path d="M498.0,56.1L502.0,54.9 499.4,56.1 495.3,57.2Z" fill="#000000" stroke="#000000"/><path d="M483.2,60.7L487.2,59.5 484.6,60.8 480.6,61.9Z" fill="#000000" stroke="#000000"/><path d="M468.5,65.3L472.5,64.2 470.0,65.5 466.0,66.6Z" fill="#000000" stroke="#000000"/><path d="M425.3,79.7L429.2,78.5 426.8,80.0 422.9,81.2Z" fill="#000000" stroke="#000000"/><path d="M454.0,70.1L458.0,68.9 455.5,70.3 451.5,71.4Z" fill="#000000" stroke="#000000"/><path d="M439.6,74.8L443.5,73.7 441.1,75.1 437.1,76.3Z" fill="#000000" stroke="#000000"/><path d="M523.8,48.1L527.9,46.9 525.2,48.0 521.1,49.1Z" fill="#000000" stroke="#000000"/><path d="M508.8,52.7L512.9,51.5 510.2,52.6 506.1,53.7Z" fill="#000000" stroke="#000000"/><path d="M493.9,57.2L498.0,56.1 495.3,57.2 491.3,58.4Z" fill="#000000" stroke="#000000"/><path d="M479.1,61.9L483.2,60.7 480.6,61.9 476.6,63.0Z" fill="#000000" stroke="#000000"/><path d="M464.5,66.5L468.5,65.3 466.0,66.6 462.0,67.8Z" fill="#000000" stroke="#000000"/><path d="M421.3,80.8L425.3,79.7 422.9,81.2 419.0,82.3Z" fill="#000000" stroke="#000000"/><path d="M450.0,71.2L454.0,70.1 451.5,71.4 447.5,72.5Z" fill="#000000" stroke="#000000"/><path d="M435.6,76.0L439.6,74.8 437.1,76.3 433.2,77.4Z" fill="#000000" stroke="#000000"/><path d="M534.8,44.8L538.9,43.6 536.2,44.5 532.0,45.7Z" fill="#000000" stroke="#000000"/><path d="M519.7,49.3L523.8,48.1 521.1,49.1 517.0,50.3Z" fill="#000000" stroke="#000000"/><path d="M504.7,53.8L508.8,52.7 506.1,53.7 502.0,54.9Z" fill="#000000" stroke="#000000"/><path d="M489.8,58.4L493.9,57.2 491.3,58.4 487.2,59.5Z" fill="#000000" stroke="#000000"/><path d="M475.1,63.0L479.1,61.9 476.6,63.0 472.5,64.2Z" fill="#000000" stroke="#000000"/><path d="M460.5,67.7L464.5,66.5 462.0,67.8 458.0,68.9Z" fill="#000000" stroke="#000000"/><path d="M417.4,82.0L421.3,80.8 419.0,82.3 415.0,83.5Z" fill="#000000" stroke="#000000"/><path d="M446.0,72.4L450.0,71.2 447.5,72.5 443.5,73.7Z" fill="#000000" stroke="#000000"/><path d="M431.6,77.1L435.6,76.0 433.2,77.4 429.2,78.5Z" fill="#000000" stroke="#000000"/><path d="M530.6,46.0L534.8,44.8 532.0,45.7 527.9,46.9Z" fill="#000000" stroke="#000000"/><path d="M515.6,50.5L519.7,49.3 517.0,50.3 512.9,51.5Z" fill="#000000" stroke="#000000"/><path d="M500.6,55.0L504.7,53.8 502.0,54.9 498.0,56.1Z" fill="#000000" stroke="#000000"/><path d="M485.8,59.6L489.8,58.4 487.2,59.5 483.2,60.7Z" fill="#000000" stroke="#000000"/><path d="M471.1,64.2L475.1,63.0 472.5,64.2 468.5,65.3Z" fill="#000000" stroke="#000000"/><path d="M456.5,68.8L460.5,67.7 458.0,68.9 454.0,70.1Z" fill="#000000" stroke="#000000"/><path d="M413.4,83.1L417.4,82.0 415.0,83.5 411.1,84.6Z" fill="#000000" stroke="#000000"/><path d="M442.0,73.5L446.0,72.4 443.5,73.7 439.6,74.8Z" fill="#000000" stroke="#000000"/><path d="M427.6,78.3L431.6,77.1 429.2,78.5 425.3,79.7Z" fill="#000000" stroke="#000000"/><path d="M526.5,47.2L530.6,46.0 527.9,46.9 523.8,48.1Z" fill="#000000" stroke="#000000"/><path d="M511.5,51.7L515.6,50.5 512.9,51.5 508.8,52.7Z" fill="#000000" stroke="#000000"/><path d="M496.5,56.2L500.6,55.0 498.0,56.1 493.9,57.2Z" fill="#000000" stroke="#000000"/><path d="M481.7,60.8L485.8,59.6 483.2,60.7 479.1,61.9Z" fill="#000000" stroke="#000000"/><path d="M467.0,65.4L471.1,64.2 468.5,65.3 464.5,66.5Z" fill="#000000" stroke="#000000"/><path d="M452.4,70.0L456.5,68.8 454.0,70.1 450.0,71.2Z" fill="#000000" stroke="#000000"/><path d="M409.5,84.3L413.4,83.1 411.1,84.6 407.2,85.8Z" fill="#000000" stroke="#000000"/><path d="M438.0,74.7L442.0,73.5 439.6,74.8 435.6,76.0Z" fill="#000000" stroke="#000000"/><path d="M423.7,79.5L427.6,78.3 425.3,79.7 421.3,80.8Z" fill="#000000" stroke="#000000"/><path d="M537.5,44.0L541.7,42.7 538.9,43.6 534.8,44.8Z" fill="#000000" stroke="#000000"/><path d="M522.4,48.4L526.5,47.2 523.8,48.1 519.7,49.3Z" fill="#000000" stroke="#000000"/><path d="M507.4,52.9L511.5,51.7 508.8,52.7 504.7,53.8Z" fill="#000000" stroke="#000000"/><path d="M492.4,57.4L496.5,56.2 493.9,57.2 489.8,58.4Z" fill="#000000" stroke="#000000"/><path d="M477.7,62.0L481.7,60.8 479.1,61.9 475.1,63.0Z" fill="#000000" stroke="#000000"/><path d="M463.0,66.6L467.0,65.4 464.5,66.5 460.5,67.7Z" fill="#000000" stroke="#000000"/><path d="M448.4,71.2L452.4,70.0 450.0,71.2 446.0,72.4Z" fill="#000000" stroke="#000000"/><path d="M405.6,85.5L409.5,84.3 407.2,85.8 403.3,86.9Z" fill="#000000" stroke="#000000"/><path d="M434.0,75.9L438.0,74.7 435.6,76.0 431.6,77.1Z" fill="#000000" stroke="#000000"/><path d="M419.7,80.6L423.7,79.5 421.3,80.8 417.4,82.0Z" fill="#000000" stroke="#000000"/><path d="M533.4,45.2L537.5,44.0 534.8,44.8 530.6,46.0Z" fill="#000000" stroke="#000000"/><path d="M518.3,49.6L522.4,48.4 519.7,49.3 515.6,50.5Z" fill="#000000" stroke="#000000"/><path d="M503.2,54.1L507.4,52.9 504.7,53.8 500.6,55.0Z" fill="#000000" stroke="#000000"/><path d="M488.4,58.6L492.4,57.4 489.8,58.4 485.8,59.6Z" fill="#000000" stroke="#000000"/><path d="M473.6,63.2L477.7,62.0 475.1,63.0 471.1,64.2Z" fill="#000000" stroke="#000000"/><path d="M458.9,67.7L463.0,66.6 460.5,67.7 456.5,68.8Z" fill="#000000" stroke="#000000"/><path d="M444.4,72.4L448.4,71.2 446.0,72.4 442.0,73.5Z" fill="#000000" stroke="#000000"/><path d="M401.6,86.7L405.6,85.5 403.3,86.9 399.4,88.1Z" fill="#000000" stroke="#000000"/><path d="M430.0,77.1L434.0,75.9 431.6,77.1 427.6,78.3Z" fill="#000000" stroke="#000000"/><path d="M415.8,81.8L419.7,80.6 417.4,82.0 413.4,83.1Z" fill="#000000" stroke="#000000"/><path d="M529.2,46.4L533.4,45.2 530.6,46.0 526.5,47.2Z" fill="#000000" stroke="#000000"/><path d="M514.1,50.9L518.3,49.6 515.6,50.5 511.5,51.7Z" fill="#000000" stroke="#000000"/><path d="M499.1,55.3L503.2,54.1 500.6,55.0 496.5,56.2Z" fill="#000000" stroke="#000000"/><path d="M484.3,59.8L488.4,58.6 485.8,59.6 481.7,60.8Z" fill="#000000" stroke="#000000"/><path d="M469.5,64.4L473.6,63.2 471.1,64.2 467.0,65.4Z" fill="#000000" stroke="#000000"/><path d="M540.3,43.2L544.4,42.0 541.7,42.7 537.5,44.0Z" fill="#000000" stroke="#000000"/><path d="M454.9,68.9L458.9,67.7 456.5,68.8 452.4,70.0Z" fill="#000000" stroke="#000000"/><path d="M440.4,73.6L444.4,72.4 442.0,73.5 438.0,74.7Z" fill="#000000" stroke="#000000"/><path d="M397.7,87.8L401.6,86.7 399.4,88.1 395.4,89.2Z" fill="#000000" stroke="#000000"/><path d="M426.0,78.2L430.0,77.1 427.6,78.3 423.7,79.5Z" fill="#000000" stroke="#000000"/><path d="M411.8,83.0L415.8,81.8 413.4,83.1 409.5,84.3Z" fill="#000000" stroke="#000000"/><path d="M525.1,47.7L529.2,46.4 526.5,47.2 522.4,48.4Z" fill="#000000" stroke="#000000"/><path d="M510.0,52.1L514.1,50.9 511.5,51.7 507.4,52.9Z" fill="#000000" stroke="#000000"/><path d="M495.0,56.6L499.1,55.3 496.5,56.2 492.4,57.4Z" fill="#000000" stroke="#000000"/><path d="M480.2,61.0L484.3,59.8 481.7,60.8 477.7,62.0Z" fill="#000000" stroke="#000000"/><path d="M465.5,65.6L469.5,64.4 467.0,65.4 463.0,66.6Z" fill="#000000" stroke="#000000"/><path d="M536.1,44.5L540.3,43.2 537.5,44.0 533.4,45.2Z" fill="#000000" stroke="#000000"/><path d="M450.9,70.1L454.9,68.9 452.4,70.0 448.4,71.2Z" fill="#000000" stroke="#000000"/><path d="M436.4,74.7L440.4,73.6 438.0,74.7 434.0,75.9Z" fill="#000000" stroke="#000000"/><path d="M393.8,89.0L397.7,87.8 395.4,89.2 391.5,90.4Z" fill="#000000" stroke="#000000"/><path d="M422.1,79.4L426.0,78.2 423.7,79.5 419.7,80.6Z" fill="#000000" stroke="#000000"/><path d="M407.8,84.2L411.8,83.0 409.5,84.3 405.6,85.5Z" fill="#000000" stroke="#000000"/><path d="M520.9,48.9L525.1,47.7 522.4,48.4 518.3,49.6Z" fill="#000000" stroke="#000000"/><path d="M505.9,53.3L510.0,52.1 507.4,52.9 503.2,54.1Z" fill="#000000" stroke="#000000"/><path d="M491.0,57.8L495.0,56.6 492.4,57.4 488.4,58.6Z" fill="#000000" stroke="#000000"/><path d="M476.1,62.3L480.2,61.0 477.7,62.0 473.6,63.2Z" fill="#000000" stroke="#000000"/><path d="M461.4,66.8L465.5,65.6 463.0,66.6 458.9,67.7Z" fill="#000000" stroke="#000000"/><path d="M531.9,45.8L536.1,44.5 533.4,45.2 529.2,46.4Z" fill="#000000" stroke="#000000"/><path d="M446.9,71.3L450.9,70.1 448.4,71.2 444.4,72.4Z" fill="#000000" stroke="#000000"/><path d="M432.4,75.9L436.4,74.7 434.0,75.9 430.0,77.1Z" fill="#000000" stroke="#000000"/><path d="M389.8,90.2L393.8,89.0 391.5,90.4 387.6,91.6Z" fill="#000000" stroke="#000000"/><path d="M418.1,80.6L422.1,79.4 419.7,80.6 415.8,81.8Z" fill="#000000" stroke="#000000"/><path d="M403.9,85.4L407.8,84.2 405.6,85.5 401.6,86.7Z" fill="#000000" stroke="#000000"/><path d="M516.8,50.2L520.9,48.9 518.3,49.6 514.1,50.9Z" fill="#000000" stroke="#000000"/><path d="M501.8,54.6L505.9,53.3 503.2,54.1 499.1,55.3Z" fill="#000000" stroke="#000000"/><path d="M486.9,59.0L491.0,57.8 488.4,58.6 484.3,59.8Z" fill="#000000" stroke="#000000"/><path d="M543.0,42.7L547.2,41.4 544.4,42.0 540.3,43.2Z" fill="#000000" stroke="#000000"/><path d="M472.1,63.5L476.1,62.3 473.6,63.2 469.5,64.4Z" fill="#000000" stroke="#000000"/><path d="M457.4,68.0L461.4,66.8 458.9,67.7 454.9,68.9Z" fill="#000000" stroke="#000000"/><path d="M527.8,47.0L531.9,45.8 529.2,46.4 525.1,47.7Z" fill="#000000" stroke="#000000"/><path d="M442.8,72.5L446.9,71.3 444.4,72.4 440.4,73.6Z" fill="#000000" stroke="#000000"/><path d="M428.4,77.1L432.4,75.9 430.0,77.1 426.0,78.2Z" fill="#000000" stroke="#000000"/><path d="M385.9,91.4L389.8,90.2 387.6,91.6 383.7,92.8Z" fill="#000000" stroke="#000000"/><path d="M414.1,81.8L418.1,80.6 415.8,81.8 411.8,83.0Z" fill="#000000" stroke="#000000"/><path d="M399.9,86.6L403.9,85.4 401.6,86.7 397.7,87.8Z" fill="#000000" stroke="#000000"/><path d="M512.7,51.4L516.8,50.2 514.1,50.9 510.0,52.1Z" fill="#000000" stroke="#000000"/><path d="M497.7,55.8L501.8,54.6 499.1,55.3 495.0,56.6Z" fill="#000000" stroke="#000000"/><path d="M482.8,60.2L486.9,59.0 484.3,59.8 480.2,61.0Z" fill="#000000" stroke="#000000"/><path d="M538.8,44.0L543.0,42.7 540.3,43.2 536.1,44.5Z" fill="#000000" stroke="#000000"/><path d="M468.0,64.7L472.1,63.5 469.5,64.4 465.5,65.6Z" fill="#000000" stroke="#000000"/><path d="M453.4,69.2L457.4,68.0 454.9,68.9 450.9,70.1Z" fill="#000000" stroke="#000000"/><path d="M523.6,48.3L527.8,47.0 525.1,47.7 520.9,48.9Z" fill="#000000" stroke="#000000"/><path d="M438.8,73.7L442.8,72.5 440.4,73.6 436.4,74.7Z" fill="#000000" stroke="#000000"/><path d="M424.4,78.3L428.4,77.1 426.0,78.2 422.1,79.4Z" fill="#000000" stroke="#000000"/><path d="M382.0,92.6L385.9,91.4 383.7,92.8 379.8,94.0Z" fill="#000000" stroke="#000000"/><path d="M410.1,83.0L414.1,81.8 411.8,83.0 407.8,84.2Z" fill="#000000" stroke="#000000"/><path d="M396.0,87.8L399.9,86.6 397.7,87.8 393.8,89.0Z" fill="#000000" stroke="#000000"/><path d="M508.5,52.7L512.7,51.4 510.0,52.1 505.9,53.3Z" fill="#000000" stroke="#000000"/><path d="M493.5,57.1L497.7,55.8 495.0,56.6 491.0,57.8Z" fill="#000000" stroke="#000000"/><path d="M478.7,61.5L482.8,60.2 480.2,61.0 476.1,62.3Z" fill="#000000" stroke="#000000"/><path d="M534.7,45.2L538.8,44.0 536.1,44.5 531.9,45.8Z" fill="#000000" stroke="#000000"/><path d="M463.9,65.9L468.0,64.7 465.5,65.6 461.4,66.8Z" fill="#000000" stroke="#000000"/><path d="M449.3,70.4L453.4,69.2 450.9,70.1 446.9,71.3Z" fill="#000000" stroke="#000000"/><path d="M519.5,49.6L523.6,48.3 520.9,48.9 516.8,50.2Z" fill="#000000" stroke="#000000"/><path d="M434.8,75.0L438.8,73.7 436.4,74.7 432.4,75.9Z" fill="#000000" stroke="#000000"/><path d="M420.4,79.6L424.4,78.3 422.1,79.4 418.1,80.6Z" fill="#000000" stroke="#000000"/><path d="M406.2,84.2L410.1,83.0 407.8,84.2 403.9,85.4Z" fill="#000000" stroke="#000000"/><path d="M392.1,89.0L396.0,87.8 393.8,89.0 389.8,90.2Z" fill="#000000" stroke="#000000"/><path d="M504.4,53.9L508.5,52.7 505.9,53.3 501.8,54.6Z" fill="#000000" stroke="#000000"/><path d="M545.8,42.2L550.0,40.9 547.2,41.4 543.0,42.7Z" fill="#000000" stroke="#000000"/><path d="M489.4,58.3L493.5,57.1 491.0,57.8 486.9,59.0Z" fill="#000000" stroke="#000000"/><path d="M474.6,62.7L478.7,61.5 476.1,62.3 472.1,63.5Z" fill="#000000" stroke="#000000"/><path d="M530.5,46.5L534.7,45.2 531.9,45.8 527.8,47.0Z" fill="#000000" stroke="#000000"/><path d="M459.9,67.2L463.9,65.9 461.4,66.8 457.4,68.0Z" fill="#000000" stroke="#000000"/><path d="M445.3,71.6L449.3,70.4 446.9,71.3 442.8,72.5Z" fill="#000000" stroke="#000000"/><path d="M515.3,50.9L519.5,49.6 516.8,50.2 512.7,51.4Z" fill="#000000" stroke="#000000"/><path d="M430.8,76.2L434.8,75.0 432.4,75.9 428.4,77.1Z" fill="#000000" stroke="#000000"/><path d="M416.4,80.8L420.4,79.6 418.1,80.6 414.1,81.8Z" fill="#000000" stroke="#000000"/><path d="M402.2,85.4L406.2,84.2 403.9,85.4 399.9,86.6Z" fill="#000000" stroke="#000000"/><path d="M388.1,90.2L392.1,89.0 389.8,90.2 385.9,91.4Z" fill="#000000" stroke="#000000"/><path d="M500.3,55.2L504.4,53.9 501.8,54.6 497.7,55.8Z" fill="#000000" stroke="#000000"/><path d="M541.6,43.5L545.8,42.2 543.0,42.7 538.8,44.0Z" fill="#000000" stroke="#000000"/><path d="M485.3,59.6L489.4,58.3 486.9,59.0 482.8,60.2Z" fill="#000000" stroke="#000000"/><path d="M470.5,64.0L474.6,62.7 472.1,63.5 468.0,64.7Z" fill="#000000" stroke="#000000"/><path d="M526.3,47.8L530.5,46.5 527.8,47.0 523.6,48.3Z" fill="#000000" stroke="#000000"/><path d="M455.8,68.4L459.9,67.2 457.4,68.0 453.4,69.2Z" fill="#000000" stroke="#000000"/><path d="M441.2,72.9L445.3,71.6 442.8,72.5 438.8,73.7Z" fill="#000000" stroke="#000000"/><path d="M511.2,52.1L515.3,50.9 512.7,51.4 508.5,52.7Z" fill="#000000" stroke="#000000"/><path d="M426.8,77.4L430.8,76.2 428.4,77.1 424.4,78.3Z" fill="#000000" stroke="#000000"/><path d="M412.5,82.0L416.4,80.8 414.1,81.8 410.1,83.0Z" fill="#000000" stroke="#000000"/><path d="M398.3,86.7L402.2,85.4 399.9,86.6 396.0,87.8Z" fill="#000000" stroke="#000000"/><path d="M384.2,91.4L388.1,90.2 385.9,91.4 382.0,92.6Z" fill="#000000" stroke="#000000"/><path d="M496.1,56.5L500.3,55.2 497.7,55.8 493.5,57.1Z" fill="#000000" stroke="#000000"/><path d="M537.4,44.8L541.6,43.5 538.8,44.0 534.7,45.2Z" fill="#000000" stroke="#000000"/><path d="M481.2,60.8L485.3,59.6 482.8,60.2 478.7,61.5Z" fill="#000000" stroke="#000000"/><path d="M466.4,65.2L470.5,64.0 468.0,64.7 463.9,65.9Z" fill="#000000" stroke="#000000"/><path d="M522.1,49.1L526.3,47.8 523.6,48.3 519.5,49.6Z" fill="#000000" stroke="#000000"/><path d="M451.8,69.6L455.8,68.4 453.4,69.2 449.3,70.4Z" fill="#000000" stroke="#000000"/><path d="M437.2,74.1L441.2,72.9 438.8,73.7 434.8,75.0Z" fill="#000000" stroke="#000000"/><path d="M507.0,53.4L511.2,52.1 508.5,52.7 504.4,53.9Z" fill="#000000" stroke="#000000"/><path d="M548.5,41.9L552.7,40.5 550.0,40.9 545.8,42.2Z" fill="#000000" stroke="#000000"/><path d="M422.8,78.6L426.8,77.4 424.4,78.3 420.4,79.6Z" fill="#000000" stroke="#000000"/><path d="M408.5,83.2L412.5,82.0 410.1,83.0 406.2,84.2Z" fill="#000000" stroke="#000000"/><path d="M394.3,87.9L398.3,86.7 396.0,87.8 392.1,89.0Z" fill="#000000" stroke="#000000"/><path d="M492.0,57.7L496.1,56.5 493.5,57.1 489.4,58.3Z" fill="#000000" stroke="#000000"/><path d="M533.2,46.1L537.4,44.8 534.7,45.2 530.5,46.5Z" fill="#000000" stroke="#000000"/><path d="M477.1,62.1L481.2,60.8 478.7,61.5 474.6,62.7Z" fill="#000000" stroke="#000000"/><path d="M462.4,66.5L466.4,65.2 463.9,65.9 459.9,67.2Z" fill="#000000" stroke="#000000"/><path d="M518.0,50.4L522.1,49.1 519.5,49.6 515.3,50.9Z" fill="#000000" stroke="#000000"/><path d="M447.7,70.9L451.8,69.6 449.3,70.4 445.3,71.6Z" fill="#000000" stroke="#000000"/><path d="M433.2,75.3L437.2,74.1 434.8,75.0 430.8,76.2Z" fill="#000000" stroke="#000000"/><path d="M502.9,54.7L507.0,53.4 504.4,53.9 500.3,55.2Z" fill="#000000" stroke="#000000"/><path d="M544.3,43.2L548.5,41.9 545.8,42.2 541.6,43.5Z" fill="#000000" stroke="#000000"/><path d="M418.8,79.9L422.8,78.6 420.4,79.6 416.4,80.8Z" fill="#000000" stroke="#000000"/><path d="M404.5,84.4L408.5,83.2 406.2,84.2 402.2,85.4Z" fill="#000000" stroke="#000000"/><path d="M390.3,89.1L394.3,87.9 392.1,89.0 388.1,90.2Z" fill="#000000" stroke="#000000"/><path d="M487.9,59.0L492.0,57.7 489.4,58.3 485.3,59.6Z" fill="#000000" stroke="#000000"/><path d="M529.0,47.5L533.2,46.1 530.5,46.5 526.3,47.8Z" fill="#000000" stroke="#000000"/><path d="M473.0,63.3L477.1,62.1 474.6,62.7 470.5,64.0Z" fill="#000000" stroke="#000000"/><path d="M458.3,67.7L462.4,66.5 459.9,67.2 455.8,68.4Z" fill="#000000" stroke="#000000"/><path d="M513.8,51.7L518.0,50.4 515.3,50.9 511.2,52.1Z" fill="#000000" stroke="#000000"/><path d="M443.7,72.1L447.7,70.9 445.3,71.6 441.2,72.9Z" fill="#000000" stroke="#000000"/><path d="M429.2,76.6L433.2,75.3 430.8,76.2 426.8,77.4Z" fill="#000000" stroke="#000000"/><path d="M498.7,56.0L502.9,54.7 500.3,55.2 496.1,56.5Z" fill="#000000" stroke="#000000"/><path d="M540.1,44.6L544.3,43.2 541.6,43.5 537.4,44.8Z" fill="#000000" stroke="#000000"/><path d="M414.8,81.1L418.8,79.9 416.4,80.8 412.5,82.0Z" fill="#000000" stroke="#000000"/><path d="M400.5,85.7L404.5,84.4 402.2,85.4 398.3,86.7Z" fill="#000000" stroke="#000000"/><path d="M386.4,90.3L390.3,89.1 388.1,90.2 384.2,91.4Z" fill="#000000" stroke="#000000"/><path d="M483.8,60.3L487.9,59.0 485.3,59.6 481.2,60.8Z" fill="#000000" stroke="#000000"/><path d="M524.8,48.8L529.0,47.5 526.3,47.8 522.1,49.1Z" fill="#000000" stroke="#000000"/><path d="M468.9,64.6L473.0,63.3 470.5,64.0 466.4,65.2Z" fill="#000000" stroke="#000000"/><path d="M551.2,41.7L555.5,40.3 552.7,40.5 548.5,41.9Z" fill="#000000" stroke="#000000"/><path d="M454.2,69.0L458.3,67.7 455.8,68.4 451.8,69.6Z" fill="#000000" stroke="#000000"/><path d="M509.7,53.0L513.8,51.7 511.2,52.1 507.0,53.4Z" fill="#000000" stroke="#000000"/><path d="M439.6,73.4L443.7,72.1 441.2,72.9 437.2,74.1Z" fill="#000000" stroke="#000000"/><path d="M494.6,57.3L498.7,56.0 496.1,56.5 492.0,57.7Z" fill="#000000" stroke="#000000"/><path d="M425.1,77.8L429.2,76.6 426.8,77.4 422.8,78.6Z" fill="#000000" stroke="#000000"/><path d="M535.9,45.9L540.1,44.6 537.4,44.8 533.2,46.1Z" fill="#000000" stroke="#000000"/><path d="M410.8,82.3L414.8,81.1 412.5,82.0 408.5,83.2Z" fill="#000000" stroke="#000000"/><path d="M396.5,86.9L400.5,85.7 398.3,86.7 394.3,87.9Z" fill="#000000" stroke="#000000"/><path d="M479.7,61.6L483.8,60.3 481.2,60.8 477.1,62.1Z" fill="#000000" stroke="#000000"/><path d="M520.6,50.1L524.8,48.8 522.1,49.1 518.0,50.4Z" fill="#000000" stroke="#000000"/><path d="M464.9,65.9L468.9,64.6 466.4,65.2 462.4,66.5Z" fill="#000000" stroke="#000000"/><path d="M547.0,43.0L551.2,41.7 548.5,41.9 544.3,43.2Z" fill="#000000" stroke="#000000"/><path d="M450.2,70.2L454.2,69.0 451.8,69.6 447.7,70.9Z" fill="#000000" stroke="#000000"/><path d="M505.5,54.3L509.7,53.0 507.0,53.4 502.9,54.7Z" fill="#000000" stroke="#000000"/><path d="M435.6,74.6L439.6,73.4 437.2,74.1 433.2,75.3Z" fill="#000000" stroke="#000000"/><path d="M490.5,58.6L494.6,57.3 492.0,57.7 487.9,59.0Z" fill="#000000" stroke="#000000"/><path d="M421.1,79.1L425.1,77.8 422.8,78.6 418.8,79.9Z" fill="#000000" stroke="#000000"/><path d="M531.7,47.2L535.9,45.9 533.2,46.1 529.0,47.5Z" fill="#000000" stroke="#000000"/><path d="M406.8,83.6L410.8,82.3 408.5,83.2 404.5,84.4Z" fill="#000000" stroke="#000000"/><path d="M392.6,88.2L396.5,86.9 394.3,87.9 390.3,89.1Z" fill="#000000" stroke="#000000"/><path d="M475.6,62.9L479.7,61.6 477.1,62.1 473.0,63.3Z" fill="#000000" stroke="#000000"/><path d="M516.5,51.4L520.6,50.1 518.0,50.4 513.8,51.7Z" fill="#000000" stroke="#000000"/><path d="M460.8,67.2L464.9,65.9 462.4,66.5 458.3,67.7Z" fill="#000000" stroke="#000000"/><path d="M542.8,44.4L547.0,43.0 544.3,43.2 540.1,44.6Z" fill="#000000" stroke="#000000"/><path d="M446.1,71.5L450.2,70.2 447.7,70.9 443.7,72.1Z" fill="#000000" stroke="#000000"/><path d="M501.3,55.7L505.5,54.3 502.9,54.7 498.7,56.0Z" fill="#000000" stroke="#000000"/><path d="M431.5,75.9L435.6,74.6 433.2,75.3 429.2,76.6Z" fill="#000000" stroke="#000000"/><path d="M486.3,59.9L490.5,58.6 487.9,59.0 483.8,60.3Z" fill="#000000" stroke="#000000"/><path d="M417.1,80.3L421.1,79.1 418.8,79.9 414.8,81.1Z" fill="#000000" stroke="#000000"/><path d="M527.5,48.6L531.7,47.2 529.0,47.5 524.8,48.8Z" fill="#000000" stroke="#000000"/><path d="M402.8,84.8L406.8,83.6 404.5,84.4 400.5,85.7Z" fill="#000000" stroke="#000000"/><path d="M554.0,41.6L558.2,40.2 555.5,40.3 551.2,41.7Z" fill="#000000" stroke="#000000"/><path d="M388.6,89.4L392.6,88.2 390.3,89.1 386.4,90.3Z" fill="#000000" stroke="#000000"/><path d="M471.5,64.2L475.6,62.9 473.0,63.3 468.9,64.6Z" fill="#000000" stroke="#000000"/><path d="M512.3,52.8L516.5,51.4 513.8,51.7 509.7,53.0Z" fill="#000000" stroke="#000000"/><path d="M456.7,68.4L460.8,67.2 458.3,67.7 454.2,69.0Z" fill="#000000" stroke="#000000"/><path d="M538.6,45.8L542.8,44.4 540.1,44.6 535.9,45.9Z" fill="#000000" stroke="#000000"/><path d="M497.2,57.0L501.3,55.7 498.7,56.0 494.6,57.3Z" fill="#000000" stroke="#000000"/><path d="M442.0,72.8L446.1,71.5 443.7,72.1 439.6,73.4Z" fill="#000000" stroke="#000000"/><path d="M427.5,77.1L431.5,75.9 429.2,76.6 425.1,77.8Z" fill="#000000" stroke="#000000"/><path d="M482.2,61.2L486.3,59.9 483.8,60.3 479.7,61.6Z" fill="#000000" stroke="#000000"/><path d="M523.3,49.9L527.5,48.6 524.8,48.8 520.6,50.1Z" fill="#000000" stroke="#000000"/><path d="M413.1,81.6L417.1,80.3 414.8,81.1 410.8,82.3Z" fill="#000000" stroke="#000000"/><path d="M398.8,86.1L402.8,84.8 400.5,85.7 396.5,86.9Z" fill="#000000" stroke="#000000"/><path d="M549.7,43.0L554.0,41.6 551.2,41.7 547.0,43.0Z" fill="#000000" stroke="#000000"/><path d="M467.3,65.4L471.5,64.2 468.9,64.6 464.9,65.9Z" fill="#000000" stroke="#000000"/><path d="M508.1,54.1L512.3,52.8 509.7,53.0 505.5,54.3Z" fill="#000000" stroke="#000000"/><path d="M452.6,69.7L456.7,68.4 454.2,69.0 450.2,70.2Z" fill="#000000" stroke="#000000"/><path d="M534.4,47.1L538.6,45.8 535.9,45.9 531.7,47.2Z" fill="#000000" stroke="#000000"/><path d="M493.0,58.3L497.2,57.0 494.6,57.3 490.5,58.6Z" fill="#000000" stroke="#000000"/><path d="M438.0,74.0L442.0,72.8 439.6,73.4 435.6,74.6Z" fill="#000000" stroke="#000000"/><path d="M423.5,78.4L427.5,77.1 425.1,77.8 421.1,79.1Z" fill="#000000" stroke="#000000"/><path d="M478.1,62.5L482.2,61.2 479.7,61.6 475.6,62.9Z" fill="#000000" stroke="#000000"/><path d="M519.1,51.3L523.3,49.9 520.6,50.1 516.5,51.4Z" fill="#000000" stroke="#000000"/><path d="M409.1,82.8L413.1,81.6 410.8,82.3 406.8,83.6Z" fill="#000000" stroke="#000000"/><path d="M394.8,87.3L398.8,86.1 396.5,86.9 392.6,88.2Z" fill="#000000" stroke="#000000"/><path d="M545.5,44.4L549.7,43.0 547.0,43.0 542.8,44.4Z" fill="#000000" stroke="#000000"/><path d="M463.2,66.7L467.3,65.4 464.9,65.9 460.8,67.2Z" fill="#000000" stroke="#000000"/><path d="M503.9,55.5L508.1,54.1 505.5,54.3 501.3,55.7Z" fill="#000000" stroke="#000000"/><path d="M448.5,71.0L452.6,69.7 450.2,70.2 446.1,71.5Z" fill="#000000" stroke="#000000"/><path d="M530.2,48.5L534.4,47.1 531.7,47.2 527.5,48.6Z" fill="#000000" stroke="#000000"/><path d="M488.9,59.6L493.0,58.3 490.5,58.6 486.3,59.9Z" fill="#000000" stroke="#000000"/><path d="M433.9,75.3L438.0,74.0 435.6,74.6 431.5,75.9Z" fill="#000000" stroke="#000000"/><path d="M556.7,41.7L561.0,40.2 558.2,40.2 554.0,41.6Z" fill="#000000" stroke="#000000"/><path d="M419.4,79.7L423.5,78.4 421.1,79.1 417.1,80.3Z" fill="#000000" stroke="#000000"/><path d="M474.0,63.8L478.1,62.5 475.6,62.9 471.5,64.2Z" fill="#000000" stroke="#000000"/><path d="M514.9,52.6L519.1,51.3 516.5,51.4 512.3,52.8Z" fill="#000000" stroke="#000000"/><path d="M405.1,84.1L409.1,82.8 406.8,83.6 402.8,84.8Z" fill="#000000" stroke="#000000"/><path d="M390.8,88.6L394.8,87.3 392.6,88.2 388.6,89.4Z" fill="#000000" stroke="#000000"/><path d="M541.3,45.8L545.5,44.4 542.8,44.4 538.6,45.8Z" fill="#000000" stroke="#000000"/><path d="M459.1,68.0L463.2,66.7 460.8,67.2 456.7,68.4Z" fill="#000000" stroke="#000000"/><path d="M499.8,56.8L503.9,55.5 501.3,55.7 497.2,57.0Z" fill="#000000" stroke="#000000"/><path d="M444.4,72.3L448.5,71.0 446.1,71.5 442.0,72.8Z" fill="#000000" stroke="#000000"/><path d="M525.9,49.9L530.2,48.5 527.5,48.6 523.3,49.9Z" fill="#000000" stroke="#000000"/><path d="M484.8,61.0L488.9,59.6 486.3,59.9 482.2,61.2Z" fill="#000000" stroke="#000000"/><path d="M429.9,76.6L433.9,75.3 431.5,75.9 427.5,77.1Z" fill="#000000" stroke="#000000"/><path d="M552.5,43.1L556.7,41.7 554.0,41.6 549.7,43.0Z" fill="#000000" stroke="#000000"/><path d="M415.4,81.0L419.4,79.7 417.1,80.3 413.1,81.6Z" fill="#000000" stroke="#000000"/><path d="M469.8,65.1L474.0,63.8 471.5,64.2 467.3,65.4Z" fill="#000000" stroke="#000000"/><path d="M510.7,54.0L514.9,52.6 512.3,52.8 508.1,54.1Z" fill="#000000" stroke="#000000"/><path d="M401.1,85.4L405.1,84.1 402.8,84.8 398.8,86.1Z" fill="#000000" stroke="#000000"/><path d="M537.1,47.2L541.3,45.8 538.6,45.8 534.4,47.1Z" fill="#000000" stroke="#000000"/><path d="M455.1,69.3L459.1,68.0 456.7,68.4 452.6,69.7Z" fill="#000000" stroke="#000000"/><path d="M495.6,58.1L499.8,56.8 497.2,57.0 493.0,58.3Z" fill="#000000" stroke="#000000"/><path d="M440.4,73.6L444.4,72.3 442.0,72.8 438.0,74.0Z" fill="#000000" stroke="#000000"/><path d="M521.7,51.3L525.9,49.9 523.3,49.9 519.1,51.3Z" fill="#000000" stroke="#000000"/><path d="M480.6,62.3L484.8,61.0 482.2,61.2 478.1,62.5Z" fill="#000000" stroke="#000000"/><path d="M425.8,77.9L429.9,76.6 427.5,77.1 423.5,78.4Z" fill="#000000" stroke="#000000"/><path d="M548.2,44.5L552.5,43.1 549.7,43.0 545.5,44.4Z" fill="#000000" stroke="#000000"/><path d="M411.4,82.2L415.4,81.0 413.1,81.6 409.1,82.8Z" fill="#000000" stroke="#000000"/><path d="M465.7,66.5L469.8,65.1 467.3,65.4 463.2,66.7Z" fill="#000000" stroke="#000000"/><path d="M506.5,55.4L510.7,54.0 508.1,54.1 503.9,55.5Z" fill="#000000" stroke="#000000"/><path d="M397.1,86.7L401.1,85.4 398.8,86.1 394.8,87.3Z" fill="#000000" stroke="#000000"/><path d="M532.8,48.6L537.1,47.2 534.4,47.1 530.2,48.5Z" fill="#000000" stroke="#000000"/><path d="M559.4,41.8L563.7,40.4 561.0,40.2 556.7,41.7Z" fill="#000000" stroke="#000000"/><path d="M451.0,70.7L455.1,69.3 452.6,69.7 448.5,71.0Z" fill="#000000" stroke="#000000"/><path d="M491.5,59.5L495.6,58.1 493.0,58.3 488.9,59.6Z" fill="#000000" stroke="#000000"/><path d="M436.3,74.9L440.4,73.6 438.0,74.0 433.9,75.3Z" fill="#000000" stroke="#000000"/><path d="M517.5,52.6L521.7,51.3 519.1,51.3 514.9,52.6Z" fill="#000000" stroke="#000000"/><path d="M476.5,63.6L480.6,62.3 478.1,62.5 474.0,63.8Z" fill="#000000" stroke="#000000"/><path d="M544.0,45.9L548.2,44.5 545.5,44.4 541.3,45.8Z" fill="#000000" stroke="#000000"/><path d="M421.8,79.2L425.8,77.9 423.5,78.4 419.4,79.7Z" fill="#000000" stroke="#000000"/><path d="M407.3,83.5L411.4,82.2 409.1,82.8 405.1,84.1Z" fill="#000000" stroke="#000000"/><path d="M502.4,56.7L506.5,55.4 503.9,55.5 499.8,56.8Z" fill="#000000" stroke="#000000"/><path d="M461.6,67.8L465.7,66.5 463.2,66.7 459.1,68.0Z" fill="#000000" stroke="#000000"/><path d="M393.1,87.9L397.1,86.7 394.8,87.3 390.8,88.6Z" fill="#000000" stroke="#000000"/><path d="M528.6,50.0L532.8,48.6 530.2,48.5 525.9,49.9Z" fill="#000000" stroke="#000000"/><path d="M555.2,43.3L559.4,41.8 556.7,41.7 552.5,43.1Z" fill="#000000" stroke="#000000"/><path d="M446.9,72.0L451.0,70.7 448.5,71.0 444.4,72.3Z" fill="#000000" stroke="#000000"/><path d="M487.3,60.8L491.5,59.5 488.9,59.6 484.8,61.0Z" fill="#000000" stroke="#000000"/><path d="M432.2,76.2L436.3,74.9 433.9,75.3 429.9,76.6Z" fill="#000000" stroke="#000000"/><path d="M513.3,54.0L517.5,52.6 514.9,52.6 510.7,54.0Z" fill="#000000" stroke="#000000"/><path d="M472.3,65.0L476.5,63.6 474.0,63.8 469.8,65.1Z" fill="#000000" stroke="#000000"/><path d="M539.7,47.3L544.0,45.9 541.3,45.8 537.1,47.2Z" fill="#000000" stroke="#000000"/><path d="M417.7,80.5L421.8,79.2 419.4,79.7 415.4,81.0Z" fill="#000000" stroke="#000000"/><path d="M403.3,84.8L407.3,83.5 405.1,84.1 401.1,85.4Z" fill="#000000" stroke="#000000"/><path d="M498.2,58.1L502.4,56.7 499.8,56.8 495.6,58.1Z" fill="#000000" stroke="#000000"/><path d="M457.5,69.1L461.6,67.8 459.1,68.0 455.1,69.3Z" fill="#000000" stroke="#000000"/><path d="M524.4,51.4L528.6,50.0 525.9,49.9 521.7,51.3Z" fill="#000000" stroke="#000000"/><path d="M550.9,44.7L555.2,43.3 552.5,43.1 548.2,44.5Z" fill="#000000" stroke="#000000"/><path d="M442.8,73.3L446.9,72.0 444.4,72.3 440.4,73.6Z" fill="#000000" stroke="#000000"/><path d="M483.1,62.2L487.3,60.8 484.8,61.0 480.6,62.3Z" fill="#000000" stroke="#000000"/><path d="M428.2,77.5L432.2,76.2 429.9,76.6 425.8,77.9Z" fill="#000000" stroke="#000000"/><path d="M509.1,55.4L513.3,54.0 510.7,54.0 506.5,55.4Z" fill="#000000" stroke="#000000"/><path d="M562.2,42.2L566.4,40.7 563.7,40.4 559.4,41.8Z" fill="#000000" stroke="#000000"/><path d="M468.2,66.3L472.3,65.0 469.8,65.1 465.7,66.5Z" fill="#000000" stroke="#000000"/><path d="M535.5,48.8L539.7,47.3 537.1,47.2 532.8,48.6Z" fill="#000000" stroke="#000000"/><path d="M413.7,81.8L417.7,80.5 415.4,81.0 411.4,82.2Z" fill="#000000" stroke="#000000"/><path d="M399.3,86.1L403.3,84.8 401.1,85.4 397.1,86.7Z" fill="#000000" stroke="#000000"/><path d="M494.0,59.5L498.2,58.1 495.6,58.1 491.5,59.5Z" fill="#000000" stroke="#000000"/><path d="M453.4,70.4L457.5,69.1 455.1,69.3 451.0,70.7Z" fill="#000000" stroke="#000000"/><path d="M520.2,52.8L524.4,51.4 521.7,51.3 517.5,52.6Z" fill="#000000" stroke="#000000"/><path d="M546.7,46.2L550.9,44.7 548.2,44.5 544.0,45.9Z" fill="#000000" stroke="#000000"/><path d="M438.7,74.6L442.8,73.3 440.4,73.6 436.3,74.9Z" fill="#000000" stroke="#000000"/><path d="M479.0,63.5L483.1,62.2 480.6,62.3 476.5,63.6Z" fill="#000000" stroke="#000000"/><path d="M424.1,78.8L428.2,77.5 425.8,77.9 421.8,79.2Z" fill="#000000" stroke="#000000"/><path d="M505.0,56.8L509.1,55.4 506.5,55.4 502.4,56.7Z" fill="#000000" stroke="#000000"/><path d="M557.9,43.6L562.2,42.2 559.4,41.8 555.2,43.3Z" fill="#000000" stroke="#000000"/><path d="M464.1,67.6L468.2,66.3 465.7,66.5 461.6,67.8Z" fill="#000000" stroke="#000000"/><path d="M531.3,50.2L535.5,48.8 532.8,48.6 528.6,50.0Z" fill="#000000" stroke="#000000"/><path d="M409.6,83.1L413.7,81.8 411.4,82.2 407.3,83.5Z" fill="#000000" stroke="#000000"/><path d="M395.3,87.4L399.3,86.1 397.1,86.7 393.1,87.9Z" fill="#000000" stroke="#000000"/><path d="M489.8,60.8L494.0,59.5 491.5,59.5 487.3,60.8Z" fill="#000000" stroke="#000000"/><path d="M449.3,71.8L453.4,70.4 451.0,70.7 446.9,72.0Z" fill="#000000" stroke="#000000"/><path d="M516.0,54.2L520.2,52.8 517.5,52.6 513.3,54.0Z" fill="#000000" stroke="#000000"/><path d="M542.4,47.6L546.7,46.2 544.0,45.9 539.7,47.3Z" fill="#000000" stroke="#000000"/><path d="M434.6,75.9L438.7,74.6 436.3,74.9 432.2,76.2Z" fill="#000000" stroke="#000000"/><path d="M474.9,64.9L479.0,63.5 476.5,63.6 472.3,65.0Z" fill="#000000" stroke="#000000"/><path d="M420.1,80.1L424.1,78.8 421.8,79.2 417.7,80.5Z" fill="#000000" stroke="#000000"/><path d="M500.8,58.2L505.0,56.8 502.4,56.7 498.2,58.1Z" fill="#000000" stroke="#000000"/><path d="M553.6,45.1L557.9,43.6 555.2,43.3 550.9,44.7Z" fill="#000000" stroke="#000000"/><path d="M527.0,51.6L531.3,50.2 528.6,50.0 524.4,51.4Z" fill="#000000" stroke="#000000"/><path d="M460.0,69.0L464.1,67.6 461.6,67.8 457.5,69.1Z" fill="#000000" stroke="#000000"/><path d="M405.6,84.4L409.6,83.1 407.3,83.5 403.3,84.8Z" fill="#000000" stroke="#000000"/><path d="M485.7,62.2L489.8,60.8 487.3,60.8 483.1,62.2Z" fill="#000000" stroke="#000000"/><path d="M445.2,73.1L449.3,71.8 446.9,72.0 442.8,73.3Z" fill="#000000" stroke="#000000"/><path d="M564.9,42.6L569.2,41.1 566.4,40.7 562.2,42.2Z" fill="#010000" stroke="#010000"/><path d="M511.7,55.6L516.0,54.2 513.3,54.0 509.1,55.4Z" fill="#000000" stroke="#000000"/><path d="M538.2,49.1L542.4,47.6 539.7,47.3 535.5,48.8Z" fill="#000000" stroke="#000000"/><path d="M430.5,77.3L434.6,75.9 432.2,76.2 428.2,77.5Z" fill="#000000" stroke="#000000"/><path d="M470.7,66.3L474.9,64.9 472.3,65.0 468.2,66.3Z" fill="#000000" stroke="#000000"/><path d="M416.0,81.5L420.1,80.1 417.7,80.5 413.7,81.8Z" fill="#000000" stroke="#000000"/><path d="M496.6,59.6L500.8,58.2 498.2,58.1 494.0,59.5Z" fill="#000000" stroke="#000000"/><path d="M549.3,46.6L553.6,45.1 550.9,44.7 546.7,46.2Z" fill="#000000" stroke="#000000"/><path d="M522.8,53.0L527.0,51.6 524.4,51.4 520.2,52.8Z" fill="#000000" stroke="#000000"/><path d="M455.8,70.3L460.0,69.0 457.5,69.1 453.4,70.4Z" fill="#000000" stroke="#000000"/><path d="M401.6,85.7L405.6,84.4 403.3,84.8 399.3,86.1Z" fill="#000000" stroke="#000000"/><path d="M481.5,63.6L485.7,62.2 483.1,62.2 479.0,63.5Z" fill="#000000" stroke="#000000"/><path d="M441.1,74.4L445.2,73.1 442.8,73.3 438.7,74.6Z" fill="#000000" stroke="#000000"/><path d="M560.6,44.1L564.9,42.6 562.2,42.2 557.9,43.6Z" fill="#040200" stroke="#040200"/><path d="M507.5,57.0L511.7,55.6 509.1,55.4 505.0,56.8Z" fill="#000000" stroke="#000000"/><path d="M533.9,50.5L538.2,49.1 535.5,48.8 531.3,50.2Z" fill="#000000" stroke="#000000"/><path d="M426.5,78.6L430.5,77.3 428.2,77.5 424.1,78.8Z" fill="#000000" stroke="#000000"/><path d="M466.6,67.6L470.7,66.3 468.2,66.3 464.1,67.6Z" fill="#000000" stroke="#000000"/><path d="M411.9,82.8L416.0,81.5 413.7,81.8 409.6,83.1Z" fill="#000000" stroke="#000000"/><path d="M492.4,61.0L496.6,59.6 494.0,59.5 489.8,60.8Z" fill="#000000" stroke="#000000"/><path d="M545.1,48.1L549.3,46.6 546.7,46.2 542.4,47.6Z" fill="#000000" stroke="#000000"/><path d="M518.6,54.5L522.8,53.0 520.2,52.8 516.0,54.2Z" fill="#000000" stroke="#000000"/><path d="M451.7,71.7L455.8,70.3 453.4,70.4 449.3,71.8Z" fill="#000000" stroke="#000000"/><path d="M397.5,87.0L401.6,85.7 399.3,86.1 395.3,87.4Z" fill="#000000" stroke="#000000"/><path d="M477.4,65.0L481.5,63.6 479.0,63.5 474.9,64.9Z" fill="#000000" stroke="#000000"/><path d="M437.0,75.8L441.1,74.4 438.7,74.6 434.6,75.9Z" fill="#000000" stroke="#000000"/><path d="M556.3,45.6L560.6,44.1 557.9,43.6 553.6,45.1Z" fill="#060400" stroke="#060400"/><path d="M503.3,58.4L507.5,57.0 505.0,56.8 500.8,58.2Z" fill="#000000" stroke="#000000"/><path d="M529.7,52.0L533.9,50.5 531.3,50.2 527.0,51.6Z" fill="#000000" stroke="#000000"/><path d="M422.4,79.9L426.5,78.6 424.1,78.8 420.1,80.1Z" fill="#000000" stroke="#000000"/><path d="M462.4,69.0L466.6,67.6 464.1,67.6 460.0,69.0Z" fill="#000000" stroke="#000000"/><path d="M567.6,43.2L571.9,41.7 569.2,41.1 564.9,42.6Z" fill="#120a00" stroke="#120a00"/><path d="M407.9,84.1L411.9,82.8 409.6,83.1 405.6,84.4Z" fill="#000000" stroke="#000000"/><path d="M488.2,62.4L492.4,61.0 489.8,60.8 485.7,62.2Z" fill="#000000" stroke="#000000"/><path d="M540.8,49.5L545.1,48.1 542.4,47.6 538.2,49.1Z" fill="#000000" stroke="#000000"/><path d="M514.3,55.9L518.6,54.5 516.0,54.2 511.7,55.6Z" fill="#000000" stroke="#000000"/><path d="M447.6,73.1L451.7,71.7 449.3,71.8 445.2,73.1Z" fill="#000000" stroke="#000000"/><path d="M473.2,66.4L477.4,65.0 474.9,64.9 470.7,66.3Z" fill="#000000" stroke="#000000"/><path d="M432.9,77.1L437.0,75.8 434.6,75.9 430.5,77.3Z" fill="#000000" stroke="#000000"/><path d="M552.0,47.1L556.3,45.6 553.6,45.1 549.3,46.6Z" fill="#090600" stroke="#090600"/><path d="M499.1,59.9L503.3,58.4 500.8,58.2 496.6,59.6Z" fill="#000000" stroke="#000000"/><path d="M525.4,53.4L529.7,52.0 527.0,51.6 522.8,53.0Z" fill="#000000" stroke="#000000"/><path d="M418.3,81.3L422.4,79.9 420.1,80.1 416.0,81.5Z" fill="#000000" stroke="#000000"/><path d="M458.3,70.4L462.4,69.0 460.0,69.0 455.8,70.3Z" fill="#000000" stroke="#000000"/><path d="M563.3,44.7L567.6,43.2 564.9,42.6 560.6,44.1Z" fill="#150c00" stroke="#150c00"/><path d="M403.8,85.4L407.9,84.1 405.6,84.4 401.6,85.7Z" fill="#000000" stroke="#000000"/><path d="M484.0,63.8L488.2,62.4 485.7,62.2 481.5,63.6Z" fill="#000000" stroke="#000000"/><path d="M536.6,51.0L540.8,49.5 538.2,49.1 533.9,50.5Z" fill="#000000" stroke="#000000"/><path d="M510.1,57.4L514.3,55.9 511.7,55.6 507.5,57.0Z" fill="#000000" stroke="#000000"/><path d="M443.5,74.4L447.6,73.1 445.2,73.1 441.1,74.4Z" fill="#000000" stroke="#000000"/><path d="M469.0,67.8L473.2,66.4 470.7,66.3 466.6,67.6Z" fill="#000000" stroke="#000000"/><path d="M428.8,78.5L432.9,77.1 430.5,77.3 426.5,78.6Z" fill="#000000" stroke="#000000"/><path d="M547.8,48.6L552.0,47.1 549.3,46.6 545.1,48.1Z" fill="#0c0900" stroke="#0c0900"/><path d="M494.9,61.3L499.1,59.9 496.6,59.6 492.4,61.0Z" fill="#000000" stroke="#000000"/><path d="M521.2,54.9L525.4,53.4 522.8,53.0 518.6,54.5Z" fill="#000000" stroke="#000000"/><path d="M414.2,82.6L418.3,81.3 416.0,81.5 411.9,82.8Z" fill="#000000" stroke="#000000"/><path d="M454.2,71.8L458.3,70.4 455.8,70.3 451.7,71.7Z" fill="#000000" stroke="#000000"/><path d="M559.0,46.3L563.3,44.7 560.6,44.1 556.3,45.6Z" fill="#170f00" stroke="#170f00"/><path d="M399.8,86.8L403.8,85.4 401.6,85.7 397.5,87.0Z" fill="#000000" stroke="#000000"/><path d="M479.9,65.2L484.0,63.8 481.5,63.6 477.4,65.0Z" fill="#000000" stroke="#000000"/><path d="M532.3,52.5L536.6,51.0 533.9,50.5 529.7,52.0Z" fill="#030300" stroke="#030300"/><path d="M505.9,58.8L510.1,57.4 507.5,57.0 503.3,58.4Z" fill="#000000" stroke="#000000"/><path d="M439.4,75.8L443.5,74.4 441.1,74.4 437.0,75.8Z" fill="#000000" stroke="#000000"/><path d="M570.3,44.0L574.6,42.4 571.9,41.7 567.6,43.2Z" fill="#231300" stroke="#231300"/><path d="M464.9,69.2L469.0,67.8 466.6,67.6 462.4,69.0Z" fill="#000000" stroke="#000000"/><path d="M424.7,79.8L428.8,78.5 426.5,78.6 422.4,79.9Z" fill="#000000" stroke="#000000"/><path d="M543.5,50.1L547.8,48.6 545.1,48.1 540.8,49.5Z" fill="#0e0b00" stroke="#0e0b00"/><path d="M490.7,62.7L494.9,61.3 492.4,61.0 488.2,62.4Z" fill="#000000" stroke="#000000"/><path d="M516.9,56.4L521.2,54.9 518.6,54.5 514.3,55.9Z" fill="#000000" stroke="#000000"/><path d="M410.2,84.0L414.2,82.6 411.9,82.8 407.9,84.1Z" fill="#000000" stroke="#000000"/><path d="M450.0,73.1L454.2,71.8 451.7,71.7 447.6,73.1Z" fill="#000000" stroke="#000000"/><path d="M554.7,47.8L559.0,46.3 556.3,45.6 552.0,47.1Z" fill="#1a1200" stroke="#1a1200"/><path d="M475.7,66.6L479.9,65.2 477.4,65.0 473.2,66.4Z" fill="#000000" stroke="#000000"/><path d="M528.0,54.0L532.3,52.5 529.7,52.0 525.4,53.4Z" fill="#050500" stroke="#050500"/><path d="M501.7,60.2L505.9,58.8 503.3,58.4 499.1,59.9Z" fill="#000000" stroke="#000000"/><path d="M435.3,77.2L439.4,75.8 437.0,75.8 432.9,77.1Z" fill="#000000" stroke="#000000"/><path d="M566.0,45.5L570.3,44.0 567.6,43.2 563.3,44.7Z" fill="#261700" stroke="#261700"/><path d="M460.7,70.6L464.9,69.2 462.4,69.0 458.3,70.4Z" fill="#000000" stroke="#000000"/><path d="M420.6,81.2L424.7,79.8 422.4,79.9 418.3,81.3Z" fill="#000000" stroke="#000000"/><path d="M539.2,51.6L543.5,50.1 540.8,49.5 536.6,51.0Z" fill="#110e00" stroke="#110e00"/><path d="M486.6,64.1L490.7,62.7 488.2,62.4 484.0,63.8Z" fill="#000000" stroke="#000000"/><path d="M512.7,57.8L516.9,56.4 514.3,55.9 510.1,57.4Z" fill="#000000" stroke="#000000"/><path d="M406.1,85.3L410.2,84.0 407.9,84.1 403.8,85.4Z" fill="#000000" stroke="#000000"/><path d="M445.9,74.5L450.0,73.1 447.6,73.1 443.5,74.4Z" fill="#000000" stroke="#000000"/><path d="M550.4,49.3L554.7,47.8 552.0,47.1 547.8,48.6Z" fill="#1c1600" stroke="#1c1600"/><path d="M471.5,68.0L475.7,66.6 473.2,66.4 469.0,67.8Z" fill="#000000" stroke="#000000"/><path d="M523.8,55.5L528.0,54.0 525.4,53.4 521.2,54.9Z" fill="#070800" stroke="#070800"/><path d="M497.5,61.7L501.7,60.2 499.1,59.9 494.9,61.3Z" fill="#000000" stroke="#000000"/><path d="M431.2,78.5L435.3,77.2 432.9,77.1 428.8,78.5Z" fill="#000000" stroke="#000000"/><path d="M561.7,47.1L566.0,45.5 563.3,44.7 559.0,46.3Z" fill="#281a00" stroke="#281a00"/><path d="M456.6,72.0L460.7,70.6 458.3,70.4 454.2,71.8Z" fill="#000000" stroke="#000000"/><path d="M416.6,82.6L420.6,81.2 418.3,81.3 414.2,82.6Z" fill="#000000" stroke="#000000"/><path d="M534.9,53.1L539.2,51.6 536.6,51.0 532.3,52.5Z" fill="#131200" stroke="#131200"/><path d="M482.4,65.6L486.6,64.1 484.0,63.8 479.9,65.2Z" fill="#000000" stroke="#000000"/><path d="M573.0,44.8L577.4,43.2 574.6,42.4 570.3,44.0Z" fill="#341d00" stroke="#341d00"/><path d="M508.5,59.3L512.7,57.8 510.1,57.4 505.9,58.8Z" fill="#000000" stroke="#000000"/><path d="M402.1,86.7L406.1,85.3 403.8,85.4 399.8,86.8Z" fill="#000000" stroke="#000000"/><path d="M441.8,75.9L445.9,74.5 443.5,74.4 439.4,75.8Z" fill="#000000" stroke="#000000"/><path d="M546.1,50.8L550.4,49.3 547.8,48.6 543.5,50.1Z" fill="#1f1900" stroke="#1f1900"/><path d="M467.4,69.4L471.5,68.0 469.0,67.8 464.9,69.2Z" fill="#000000" stroke="#000000"/><path d="M519.5,56.9L523.8,55.5 521.2,54.9 516.9,56.4Z" fill="#090a00" stroke="#090a00"/><path d="M493.3,63.1L497.5,61.7 494.9,61.3 490.7,62.7Z" fill="#000000" stroke="#000000"/><path d="M427.1,79.9L431.2,78.5 428.8,78.5 424.7,79.8Z" fill="#000000" stroke="#000000"/><path d="M557.4,48.6L561.7,47.1 559.0,46.3 554.7,47.8Z" fill="#2a1e00" stroke="#2a1e00"/><path d="M452.4,73.4L456.6,72.0 454.2,71.8 450.0,73.1Z" fill="#000000" stroke="#000000"/><path d="M530.7,54.6L534.9,53.1 532.3,52.5 528.0,54.0Z" fill="#151500" stroke="#151500"/><path d="M412.5,83.9L416.6,82.6 414.2,82.6 410.2,84.0Z" fill="#000000" stroke="#000000"/><path d="M568.7,46.4L573.0,44.8 570.3,44.0 566.0,45.5Z" fill="#362200" stroke="#362200"/><path d="M478.2,67.0L482.4,65.6 479.9,65.2 475.7,66.6Z" fill="#000000" stroke="#000000"/><path d="M504.3,60.8L508.5,59.3 505.9,58.8 501.7,60.2Z" fill="#010200" stroke="#010200"/><path d="M437.7,77.3L441.8,75.9 439.4,75.8 435.3,77.2Z" fill="#000000" stroke="#000000"/><path d="M541.8,52.4L546.1,50.8 543.5,50.1 539.2,51.6Z" fill="#211d00" stroke="#211d00"/><path d="M463.2,70.9L467.4,69.4 464.9,69.2 460.7,70.6Z" fill="#000000" stroke="#000000"/><path d="M515.3,58.4L519.5,56.9 516.9,56.4 512.7,57.8Z" fill="#0b0d00" stroke="#0b0d00"/><path d="M489.1,64.6L493.3,63.1 490.7,62.7 486.6,64.1Z" fill="#000000" stroke="#000000"/><path d="M423.0,81.3L427.1,79.9 424.7,79.8 420.6,81.2Z" fill="#000000" stroke="#000000"/><path d="M553.1,50.2L557.4,48.6 554.7,47.8 550.4,49.3Z" fill="#2d2200" stroke="#2d2200"/><path d="M448.3,74.8L452.4,73.4 450.0,73.1 445.9,74.5Z" fill="#000000" stroke="#000000"/><path d="M526.4,56.2L530.7,54.6 528.0,54.0 523.8,55.5Z" fill="#171800" stroke="#171800"/><path d="M408.4,85.3L412.5,83.9 410.2,84.0 406.1,85.3Z" fill="#000000" stroke="#000000"/><path d="M564.4,48.0L568.7,46.4 566.0,45.5 561.7,47.1Z" fill="#382600" stroke="#382600"/><path d="M474.0,68.4L478.2,67.0 475.7,66.6 471.5,68.0Z" fill="#000000" stroke="#000000"/><path d="M500.0,62.2L504.3,60.8 501.7,60.2 497.5,61.7Z" fill="#030400" stroke="#030400"/><path d="M433.5,78.7L437.7,77.3 435.3,77.2 431.2,78.5Z" fill="#000000" stroke="#000000"/><path d="M575.7,45.8L580.1,44.2 577.4,43.2 573.0,44.8Z" fill="#432800" stroke="#432800"/><path d="M537.6,53.9L541.8,52.4 539.2,51.6 534.9,53.1Z" fill="#232100" stroke="#232100"/><path d="M459.0,72.3L463.2,70.9 460.7,70.6 456.6,72.0Z" fill="#000000" stroke="#000000"/><path d="M511.1,59.9L515.3,58.4 512.7,57.8 508.5,59.3Z" fill="#0c0f00" stroke="#0c0f00"/><path d="M484.9,66.0L489.1,64.6 486.6,64.1 482.4,65.6Z" fill="#000000" stroke="#000000"/><path d="M418.9,82.7L423.0,81.3 420.6,81.2 416.6,82.6Z" fill="#000000" stroke="#000000"/><path d="M548.8,51.7L553.1,50.2 550.4,49.3 546.1,50.8Z" fill="#2f2700" stroke="#2f2700"/><path d="M444.2,76.2L448.3,74.8 445.9,74.5 441.8,75.9Z" fill="#000000" stroke="#000000"/><path d="M522.1,57.7L526.4,56.2 523.8,55.5 519.5,56.9Z" fill="#181a00" stroke="#181a00"/><path d="M404.3,86.7L408.4,85.3 406.1,85.3 402.1,86.7Z" fill="#000000" stroke="#000000"/><path d="M560.1,49.6L564.4,48.0 561.7,47.1 557.4,48.6Z" fill="#3a2a00" stroke="#3a2a00"/><path d="M469.8,69.9L474.0,68.4 471.5,68.0 467.4,69.4Z" fill="#000000" stroke="#000000"/><path d="M495.8,63.7L500.0,62.2 497.5,61.7 493.3,63.1Z" fill="#040600" stroke="#040600"/><path d="M429.4,80.1L433.5,78.7 431.2,78.5 427.1,79.9Z" fill="#000000" stroke="#000000"/><path d="M571.4,47.4L575.7,45.8 573.0,44.8 568.7,46.4Z" fill="#452d00" stroke="#452d00"/><path d="M533.3,55.4L537.6,53.9 534.9,53.1 530.7,54.6Z" fill="#252500" stroke="#252500"/><path d="M454.9,73.7L459.0,72.3 456.6,72.0 452.4,73.4Z" fill="#000000" stroke="#000000"/><path d="M506.8,61.4L511.1,59.9 508.5,59.3 504.3,60.8Z" fill="#0d1200" stroke="#0d1200"/><path d="M480.7,67.5L484.9,66.0 482.4,65.6 478.2,67.0Z" fill="#000000" stroke="#000000"/><path d="M414.8,84.0L418.9,82.7 416.6,82.6 412.5,83.9Z" fill="#000000" stroke="#000000"/><path d="M544.5,53.3L548.8,51.7 546.1,50.8 541.8,52.4Z" fill="#312b00" stroke="#312b00"/><path d="M440.0,77.6L444.2,76.2 441.8,75.9 437.7,77.3Z" fill="#000000" stroke="#000000"/><path d="M517.9,59.2L522.1,57.7 519.5,56.9 515.3,58.4Z" fill="#181d00" stroke="#181d00"/><path d="M555.7,51.1L560.1,49.6 557.4,48.6 553.1,50.2Z" fill="#3c2f00" stroke="#3c2f00"/><path d="M465.6,71.3L469.8,69.9 467.4,69.4 463.2,70.9Z" fill="#000000" stroke="#000000"/><path d="M491.6,65.2L495.8,63.7 493.3,63.1 489.1,64.6Z" fill="#050900" stroke="#050900"/><path d="M567.1,49.0L571.4,47.4 568.7,46.4 564.4,48.0Z" fill="#473200" stroke="#473200"/><path d="M425.3,81.5L429.4,80.1 427.1,79.9 423.0,81.3Z" fill="#000000" stroke="#000000"/><path d="M529.0,57.0L533.3,55.4 530.7,54.6 526.4,56.2Z" fill="#262800" stroke="#262800"/><path d="M450.7,75.1L454.9,73.7 452.4,73.4 448.3,74.8Z" fill="#000000" stroke="#000000"/><path d="M502.6,62.9L506.8,61.4 504.3,60.8 500.0,62.2Z" fill="#0e1400" stroke="#0e1400"/><path d="M578.4,47.0L582.8,45.4 580.1,44.2 575.7,45.8Z" fill="#523300" stroke="#523300"/><path d="M476.5,69.0L480.7,67.5 478.2,67.0 474.0,68.4Z" fill="#000000" stroke="#000000"/><path d="M410.7,85.4L414.8,84.0 412.5,83.9 408.4,85.3Z" fill="#000000" stroke="#000000"/><path d="M540.2,54.8L544.5,53.3 541.8,52.4 537.6,53.9Z" fill="#322f00" stroke="#322f00"/><path d="M435.9,79.0L440.0,77.6 437.7,77.3 433.5,78.7Z" fill="#000000" stroke="#000000"/><path d="M513.6,60.7L517.9,59.2 515.3,58.4 511.1,59.9Z" fill="#191f00" stroke="#191f00"/><path d="M551.4,52.7L555.7,51.1 553.1,50.2 548.8,51.7Z" fill="#3d3400" stroke="#3d3400"/><path d="M461.5,72.7L465.6,71.3 463.2,70.9 459.0,72.3Z" fill="#000000" stroke="#000000"/><path d="M487.4,66.7L491.6,65.2 489.1,64.6 484.9,66.0Z" fill="#050b00" stroke="#050b00"/><path d="M562.7,50.7L567.1,49.0 564.4,48.0 560.1,49.6Z" fill="#483700" stroke="#483700"/><path d="M421.2,82.9L425.3,81.5 423.0,81.3 418.9,82.7Z" fill="#000000" stroke="#000000"/><path d="M524.7,58.5L529.0,57.0 526.4,56.2 522.1,57.7Z" fill="#262a00" stroke="#262a00"/><path d="M446.6,76.6L450.7,75.1 448.3,74.8 444.2,76.2Z" fill="#000000" stroke="#000000"/><path d="M498.3,64.4L502.6,62.9 500.0,62.2 495.8,63.7Z" fill="#0e1700" stroke="#0e1700"/><path d="M574.1,48.6L578.4,47.0 575.7,45.8 571.4,47.4Z" fill="#533800" stroke="#533800"/><path d="M472.3,70.4L476.5,69.0 474.0,68.4 469.8,69.9Z" fill="#010200" stroke="#010200"/><path d="M406.6,86.8L410.7,85.4 408.4,85.3 404.3,86.7Z" fill="#000000" stroke="#000000"/><path d="M535.9,56.4L540.2,54.8 537.6,53.9 533.3,55.4Z" fill="#343400" stroke="#343400"/><path d="M431.8,80.4L435.9,79.0 433.5,78.7 429.4,80.1Z" fill="#000000" stroke="#000000"/><path d="M509.4,62.2L513.6,60.7 511.1,59.9 506.8,61.4Z" fill="#192200" stroke="#192200"/><path d="M547.1,54.3L551.4,52.7 548.8,51.7 544.5,53.3Z" fill="#3f3900" stroke="#3f3900"/><path d="M457.3,74.2L461.5,72.7 459.0,72.3 454.9,73.7Z" fill="#000000" stroke="#000000"/><path d="M483.2,68.1L487.4,66.7 484.9,66.0 480.7,67.5Z" fill="#060d00" stroke="#060d00"/><path d="M558.4,52.3L562.7,50.7 560.1,49.6 555.7,51.1Z" fill="#4a3c00" stroke="#4a3c00"/><path d="M520.5,60.1L524.7,58.5 522.1,57.7 517.9,59.2Z" fill="#252c00" stroke="#252c00"/><path d="M417.1,84.3L421.2,82.9 418.9,82.7 414.8,84.0Z" fill="#000000" stroke="#000000"/><path d="M494.1,65.9L498.3,64.4 495.8,63.7 491.6,65.2Z" fill="#0e1900" stroke="#0e1900"/><path d="M442.4,78.0L446.6,76.6 444.2,76.2 440.0,77.6Z" fill="#000000" stroke="#000000"/><path d="M569.7,50.3L574.1,48.6 571.4,47.4 567.1,49.0Z" fill="#543e00" stroke="#543e00"/><path d="M468.1,71.9L472.3,70.4 469.8,69.9 465.6,71.3Z" fill="#010400" stroke="#010400"/><path d="M531.6,58.0L535.9,56.4 533.3,55.4 529.0,57.0Z" fill="#333600" stroke="#333600"/><path d="M581.1,48.3L585.5,46.6 582.8,45.4 578.4,47.0Z" fill="#5e3e00" stroke="#5e3e00"/><path d="M505.1,63.7L509.4,62.2 506.8,61.4 502.6,62.9Z" fill="#182400" stroke="#182400"/><path d="M427.7,81.8L431.8,80.4 429.4,80.1 425.3,81.5Z" fill="#000000" stroke="#000000"/><path d="M542.8,55.9L547.1,54.3 544.5,53.3 540.2,54.8Z" fill="#413e00" stroke="#413e00"/><path d="M479.0,69.6L483.2,68.1 480.7,67.5 476.5,69.0Z" fill="#061000" stroke="#061000"/><path d="M453.1,75.6L457.3,74.2 454.9,73.7 450.7,75.1Z" fill="#000000" stroke="#000000"/><path d="M554.1,53.9L558.4,52.3 555.7,51.1 551.4,52.7Z" fill="#4b4100" stroke="#4b4100"/><path d="M516.2,61.6L520.5,60.1 517.9,59.2 513.6,60.7Z" fill="#242f00" stroke="#242f00"/><path d="M413.0,85.7L417.1,84.3 414.8,84.0 410.7,85.4Z" fill="#000000" stroke="#000000"/><path d="M489.9,67.4L494.1,65.9 491.6,65.2 487.4,66.7Z" fill="#0e1b00" stroke="#0e1b00"/><path d="M438.3,79.4L442.4,78.0 440.0,77.6 435.9,79.0Z" fill="#000000" stroke="#000000"/><path d="M565.4,51.9L569.7,50.3 567.1,49.0 562.7,50.7Z" fill="#554300" stroke="#554300"/><path d="M463.9,73.3L468.1,71.9 465.6,71.3 461.5,72.7Z" fill="#010600" stroke="#010600"/><path d="M527.3,59.5L531.6,58.0 529.0,57.0 524.7,58.5Z" fill="#323900" stroke="#323900"/><path d="M576.8,49.9L581.1,48.3 578.4,47.0 574.1,48.6Z" fill="#5f4400" stroke="#5f4400"/><path d="M500.9,65.3L505.1,63.7 502.6,62.9 498.3,64.4Z" fill="#172600" stroke="#172600"/><path d="M423.5,83.3L427.7,81.8 425.3,81.5 421.2,82.9Z" fill="#000000" stroke="#000000"/><path d="M538.5,57.5L542.8,55.9 540.2,54.8 535.9,56.4Z" fill="#414200" stroke="#414200"/><path d="M474.8,71.1L479.0,69.6 476.5,69.0 472.3,70.4Z" fill="#061200" stroke="#061200"/><path d="M449.0,77.1L453.1,75.6 450.7,75.1 446.6,76.6Z" fill="#000000" stroke="#000000"/><path d="M549.7,55.5L554.1,53.9 551.4,52.7 547.1,54.3Z" fill="#4c4700" stroke="#4c4700"/><path d="M511.9,63.1L516.2,61.6 513.6,60.7 509.4,62.2Z" fill="#233100" stroke="#233100"/><path d="M408.9,87.1L413.0,85.7 410.7,85.4 406.6,86.8Z" fill="#000000" stroke="#000000"/><path d="M485.7,68.9L489.9,67.4 487.4,66.7 483.2,68.1Z" fill="#0d1e00" stroke="#0d1e00"/><path d="M561.0,53.5L565.4,51.9 562.7,50.7 558.4,52.3Z" fill="#564900" stroke="#564900"/><path d="M434.1,80.9L438.3,79.4 435.9,79.0 431.8,80.4Z" fill="#000000" stroke="#000000"/><path d="M459.7,74.8L463.9,73.3 461.5,72.7 457.3,74.2Z" fill="#010900" stroke="#010900"/><path d="M523.0,61.1L527.3,59.5 524.7,58.5 520.5,60.1Z" fill="#313b00" stroke="#313b00"/><path d="M572.4,51.6L576.8,49.9 574.1,48.6 569.7,50.3Z" fill="#604a00" stroke="#604a00"/><path d="M583.8,49.7L588.2,48.0 585.5,46.6 581.1,48.3Z" fill="#694b00" stroke="#694b00"/><path d="M496.6,66.8L500.9,65.3 498.3,64.4 494.1,65.9Z" fill="#162900" stroke="#162900"/><path d="M419.4,84.7L423.5,83.3 421.2,82.9 417.1,84.3Z" fill="#000000" stroke="#000000"/><path d="M534.2,59.1L538.5,57.5 535.9,56.4 531.6,58.0Z" fill="#3f4400" stroke="#3f4400"/><path d="M470.6,72.6L474.8,71.1 472.3,70.4 468.1,71.9Z" fill="#051500" stroke="#051500"/><path d="M444.8,78.6L449.0,77.1 446.6,76.6 442.4,78.0Z" fill="#000000" stroke="#000000"/><path d="M545.4,57.1L549.7,55.5 547.1,54.3 542.8,55.9Z" fill="#4d4c00" stroke="#4d4c00"/><path d="M507.7,64.7L511.9,63.1 509.4,62.2 505.1,63.7Z" fill="#223300" stroke="#223300"/><path d="M556.7,55.2L561.0,53.5 558.4,52.3 554.1,53.9Z" fill="#574f00" stroke="#574f00"/><path d="M481.4,70.4L485.7,68.9 483.2,68.1 479.0,69.6Z" fill="#0c2000" stroke="#0c2000"/><path d="M430.0,82.3L434.1,80.9 431.8,80.4 427.7,81.8Z" fill="#000000" stroke="#000000"/><path d="M455.6,76.3L459.7,74.8 457.3,74.2 453.1,75.6Z" fill="#010b00" stroke="#010b00"/><path d="M518.8,62.6L523.0,61.1 520.5,60.1 516.2,61.6Z" fill="#2f3d00" stroke="#2f3d00"/><path d="M568.0,53.3L572.4,51.6 569.7,50.3 565.4,51.9Z" fill="#615100" stroke="#615100"/><path d="M579.4,51.4L583.8,49.7 581.1,48.3 576.8,49.9Z" fill="#6a5100" stroke="#6a5100"/><path d="M492.4,68.3L496.6,66.8 494.1,65.9 489.9,67.4Z" fill="#152b00" stroke="#152b00"/><path d="M415.3,86.1L419.4,84.7 417.1,84.3 413.0,85.7Z" fill="#000000" stroke="#000000"/><path d="M529.9,60.6L534.2,59.1 531.6,58.0 527.3,59.5Z" fill="#3d4600" stroke="#3d4600"/><path d="M466.4,74.1L470.6,72.6 468.1,71.9 463.9,73.3Z" fill="#041700" stroke="#041700"/><path d="M440.7,80.0L444.8,78.6 442.4,78.0 438.3,79.4Z" fill="#000100" stroke="#000100"/><path d="M541.1,58.7L545.4,57.1 542.8,55.9 538.5,57.5Z" fill="#4b4f00" stroke="#4b4f00"/><path d="M503.4,66.2L507.7,64.7 505.1,63.7 500.9,65.3Z" fill="#203500" stroke="#203500"/><path d="M552.4,56.8L556.7,55.2 554.1,53.9 549.7,55.5Z" fill="#585500" stroke="#585500"/><path d="M477.2,71.9L481.4,70.4 479.0,69.6 474.8,71.1Z" fill="#0b2200" stroke="#0b2200"/><path d="M425.9,83.8L430.0,82.3 427.7,81.8 423.5,83.3Z" fill="#000000" stroke="#000000"/><path d="M451.4,77.8L455.6,76.3 453.1,75.6 449.0,77.1Z" fill="#000d00" stroke="#000d00"/><path d="M514.5,64.2L518.8,62.6 516.2,61.6 511.9,63.1Z" fill="#2c3f00" stroke="#2c3f00"/><path d="M563.7,54.9L568.0,53.3 565.4,51.9 561.0,53.5Z" fill="#615700" stroke="#615700"/><path d="M575.1,53.1L579.4,51.4 576.8,49.9 572.4,51.6Z" fill="#6a5800" stroke="#6a5800"/><path d="M488.2,69.8L492.4,68.3 489.9,67.4 485.7,68.9Z" fill="#132d00" stroke="#132d00"/><path d="M525.6,62.2L529.9,60.6 527.3,59.5 523.0,61.1Z" fill="#3a4800" stroke="#3a4800"/><path d="M411.2,87.5L415.3,86.1 413.0,85.7 408.9,87.1Z" fill="#000000" stroke="#000000"/><path d="M586.5,51.3L590.9,49.6 588.2,48.0 583.8,49.7Z" fill="#735800" stroke="#735800"/><path d="M462.2,75.6L466.4,74.1 463.9,73.3 459.7,74.8Z" fill="#031900" stroke="#031900"/><path d="M436.5,81.5L440.7,80.0 438.3,79.4 434.1,80.9Z" fill="#000301" stroke="#000301"/><path d="M536.8,60.3L541.1,58.7 538.5,57.5 534.2,59.1Z" fill="#485100" stroke="#485100"/><path d="M499.2,67.8L503.4,66.2 500.9,65.3 496.6,66.8Z" fill="#1e3700" stroke="#1e3700"/><path d="M548.0,58.4L552.4,56.8 549.7,55.5 545.4,57.1Z" fill="#575900" stroke="#575900"/><path d="M473.0,73.4L477.2,71.9 474.8,71.1 470.6,72.6Z" fill="#092500" stroke="#092500"/><path d="M421.7,85.2L425.9,83.8 423.5,83.3 419.4,84.7Z" fill="#000000" stroke="#000000"/><path d="M447.2,79.2L451.4,77.8 449.0,77.1 444.8,78.6Z" fill="#000f01" stroke="#000f01"/><path d="M510.2,65.8L514.5,64.2 511.9,63.1 507.7,64.7Z" fill="#2a4100" stroke="#2a4100"/><path d="M559.3,56.6L563.7,54.9 561.0,53.5 556.7,55.2Z" fill="#625d00" stroke="#625d00"/><path d="M570.7,54.8L575.1,53.1 572.4,51.6 568.0,53.3Z" fill="#6b5e00" stroke="#6b5e00"/><path d="M483.9,71.4L488.2,69.8 485.7,68.9 481.4,70.4Z" fill="#122f00" stroke="#122f00"/><path d="M521.3,63.8L525.6,62.2 523.0,61.1 518.8,62.6Z" fill="#374a00" stroke="#374a00"/><path d="M582.1,53.0L586.5,51.3 583.8,49.7 579.4,51.4Z" fill="#735f00" stroke="#735f00"/><path d="M458.0,77.1L462.2,75.6 459.7,74.8 455.6,76.3Z" fill="#021b00" stroke="#021b00"/><path d="M432.3,82.9L436.5,81.5 434.1,80.9 430.0,82.3Z" fill="#000502" stroke="#000502"/><path d="M532.5,61.9L536.8,60.3 534.2,59.1 529.9,60.6Z" fill="#455300" stroke="#455300"/><path d="M494.9,69.3L499.2,67.8 496.6,66.8 492.4,68.3Z" fill="#1c3a00" stroke="#1c3a00"/><path d="M543.7,60.1L548.0,58.4 545.4,57.1 541.1,58.7Z" fill="#535b00" stroke="#535b00"/><path d="M468.8,75.0L473.0,73.4 470.6,72.6 466.4,74.1Z" fill="#082700" stroke="#082700"/><path d="M417.6,86.7L421.7,85.2 419.4,84.7 415.3,86.1Z" fill="#000000" stroke="#000000"/><path d="M443.0,80.7L447.2,79.2 444.8,78.6 440.7,80.0Z" fill="#001203" stroke="#001203"/><path d="M505.9,67.4L510.2,65.8 507.7,64.7 503.4,66.2Z" fill="#274300" stroke="#274300"/><path d="M555.0,58.2L559.3,56.6 556.7,55.2 552.4,56.8Z" fill="#626300" stroke="#626300"/><path d="M566.3,56.5L570.7,54.8 568.0,53.3 563.7,54.9Z" fill="#6b6500" stroke="#6b6500"/><path d="M479.7,72.9L483.9,71.4 481.4,70.4 477.2,71.9Z" fill="#0f3200" stroke="#0f3200"/><path d="M517.0,65.4L521.3,63.8 518.8,62.6 514.5,64.2Z" fill="#344c00" stroke="#344c00"/><path d="M577.7,54.7L582.1,53.0 579.4,51.4 575.1,53.1Z" fill="#736600" stroke="#736600"/><path d="M453.8,78.6L458.0,77.1 455.6,76.3 451.4,77.8Z" fill="#001e00" stroke="#001e00"/><path d="M428.2,84.4L432.3,82.9 430.0,82.3 425.9,83.8Z" fill="#000703" stroke="#000703"/><path d="M589.1,53.1L593.5,51.3 590.9,49.6 586.5,51.3Z" fill="#7b6600" stroke="#7b6600"/><path d="M528.2,63.5L532.5,61.9 529.9,60.6 525.6,62.2Z" fill="#415500" stroke="#415500"/><path d="M490.7,70.9L494.9,69.3 492.4,68.3 488.2,69.8Z" fill="#193c00" stroke="#193c00"/><path d="M539.4,61.7L543.7,60.1 541.1,58.7 536.8,60.3Z" fill="#4f5d00" stroke="#4f5d00"/><path d="M464.6,76.5L468.8,75.0 466.4,74.1 462.2,75.6Z" fill="#062900" stroke="#062900"/><path d="M413.5,88.1L417.6,86.7 415.3,86.1 411.2,87.5Z" fill="#000000" stroke="#000000"/><path d="M438.9,82.2L443.0,80.7 440.7,80.0 436.5,81.5Z" fill="#001404" stroke="#001404"/><path d="M501.7,68.9L505.9,67.4 503.4,66.2 499.2,67.8Z" fill="#244500" stroke="#244500"/><path d="M550.6,59.9L555.0,58.2 552.4,56.8 548.0,58.4Z" fill="#5d6400" stroke="#5d6400"/><path d="M562.0,58.2L566.3,56.5 563.7,54.9 559.3,56.6Z" fill="#6b6b00" stroke="#6b6b00"/><path d="M475.5,74.4L479.7,72.9 477.2,71.9 473.0,73.4Z" fill="#0d3400" stroke="#0d3400"/><path d="M512.7,67.0L517.0,65.4 514.5,64.2 510.2,65.8Z" fill="#304e00" stroke="#304e00"/><path d="M573.3,56.5L577.7,54.7 575.1,53.1 570.7,54.8Z" fill="#746d00" stroke="#746d00"/><path d="M449.6,80.1L453.8,78.6 451.4,77.8 447.2,79.2Z" fill="#002002" stroke="#002002"/><path d="M424.1,85.9L428.2,84.4 425.9,83.8 421.7,85.2Z" fill="#000904" stroke="#000904"/><path d="M584.7,54.8L589.1,53.1 586.5,51.3 582.1,53.0Z" fill="#7b6e00" stroke="#7b6e00"/><path d="M523.9,65.1L528.2,63.5 525.6,62.2 521.3,63.8Z" fill="#3d5600" stroke="#3d5600"/><path d="M486.4,72.4L490.7,70.9 488.2,69.8 483.9,71.4Z" fill="#163e00" stroke="#163e00"/><path d="M535.1,63.3L539.4,61.7 536.8,60.3 532.5,61.9Z" fill="#4b5e00" stroke="#4b5e00"/><path d="M460.4,78.0L464.6,76.5 462.2,75.6 458.0,77.1Z" fill="#032b00" stroke="#032b00"/><path d="M434.7,83.7L438.9,82.2 436.5,81.5 432.3,82.9Z" fill="#001606" stroke="#001606"/><path d="M497.4,70.5L501.7,68.9 499.2,67.8 494.9,69.3Z" fill="#214700" stroke="#214700"/><path d="M546.3,61.6L550.6,59.9 548.0,58.4 543.7,60.1Z" fill="#586600" stroke="#586600"/><path d="M557.6,59.8L562.0,58.2 559.3,56.6 555.0,58.2Z" fill="#666d00" stroke="#666d00"/><path d="M471.2,76.0L475.5,74.4 473.0,73.4 468.8,75.0Z" fill="#0a3600" stroke="#0a3600"/><path d="M508.5,68.6L512.7,67.0 510.2,65.8 505.9,67.4Z" fill="#2c5000" stroke="#2c5000"/><path d="M569.0,58.2L573.3,56.5 570.7,54.8 566.3,56.5Z" fill="#747400" stroke="#747400"/><path d="M445.4,81.6L449.6,80.1 447.2,79.2 443.0,80.7Z" fill="#002204" stroke="#002204"/><path d="M580.4,56.5L584.7,54.8 582.1,53.0 577.7,54.7Z" fill="#7b7500" stroke="#7b7500"/><path d="M419.9,87.3L424.1,85.9 421.7,85.2 417.6,86.7Z" fill="#000c06" stroke="#000c06"/><path d="M591.8,55.0L596.2,53.2 593.5,51.3 589.1,53.1Z" fill="#837600" stroke="#837600"/><path d="M519.6,66.8L523.9,65.1 521.3,63.8 517.0,65.4Z" fill="#395800" stroke="#395800"/><path d="M482.2,74.0L486.4,72.4 483.9,71.4 479.7,72.9Z" fill="#134000" stroke="#134000"/><path d="M530.7,65.0L535.1,63.3 532.5,61.9 528.2,63.5Z" fill="#466000" stroke="#466000"/><path d="M456.2,79.5L460.4,78.0 458.0,77.1 453.8,78.6Z" fill="#012d00" stroke="#012d00"/><path d="M430.5,85.2L434.7,83.7 432.3,82.9 428.2,84.4Z" fill="#001809" stroke="#001809"/><path d="M493.1,72.1L497.4,70.5 494.9,69.3 490.7,70.9Z" fill="#1d4900" stroke="#1d4900"/><path d="M542.0,63.2L546.3,61.6 543.7,60.1 539.4,61.7Z" fill="#536700" stroke="#536700"/><path d="M553.3,61.5L557.6,59.8 555.0,58.2 550.6,59.9Z" fill="#606e00" stroke="#606e00"/><path d="M467.0,77.5L471.2,76.0 468.8,75.0 464.6,76.5Z" fill="#073800" stroke="#073800"/><path d="M504.2,70.2L508.5,68.6 505.9,67.4 501.7,68.9Z" fill="#285200" stroke="#285200"/><path d="M564.6,59.9L569.0,58.2 566.3,56.5 562.0,58.2Z" fill="#6e7500" stroke="#6e7500"/><path d="M576.0,58.3L580.4,56.5 577.7,54.7 573.3,56.5Z" fill="#7a7b00" stroke="#7a7b00"/><path d="M441.2,83.1L445.4,81.6 443.0,80.7 438.9,82.2Z" fill="#002407" stroke="#002407"/><path d="M415.8,88.8L419.9,87.3 417.6,86.7 413.5,88.1Z" fill="#000e08" stroke="#000e08"/><path d="M587.4,56.7L591.8,55.0 589.1,53.1 584.7,54.8Z" fill="#827d00" stroke="#827d00"/><path d="M515.3,68.4L519.6,66.8 517.0,65.4 512.7,67.0Z" fill="#345a00" stroke="#345a00"/><path d="M477.9,75.5L482.2,74.0 479.7,72.9 475.5,74.4Z" fill="#104200" stroke="#104200"/><path d="M526.4,66.6L530.7,65.0 528.2,63.5 523.9,65.1Z" fill="#416200" stroke="#416200"/><path d="M452.0,81.0L456.2,79.5 453.8,78.6 449.6,80.1Z" fill="#002f03" stroke="#002f03"/><path d="M426.4,86.7L430.5,85.2 428.2,84.4 424.1,85.9Z" fill="#001a0c" stroke="#001a0c"/><path d="M488.9,73.6L493.1,72.1 490.7,70.9 486.4,72.4Z" fill="#194b00" stroke="#194b00"/><path d="M537.6,64.9L542.0,63.2 539.4,61.7 535.1,63.3Z" fill="#4e6900" stroke="#4e6900"/><path d="M548.9,63.2L553.3,61.5 550.6,59.9 546.3,61.6Z" fill="#5b7000" stroke="#5b7000"/><path d="M462.8,79.0L467.0,77.5 464.6,76.5 460.4,78.0Z" fill="#043a00" stroke="#043a00"/><path d="M499.9,71.8L504.2,70.2 501.7,68.9 497.4,70.5Z" fill="#245300" stroke="#245300"/><path d="M560.2,61.6L564.6,59.9 562.0,58.2 557.6,59.8Z" fill="#677600" stroke="#677600"/><path d="M571.6,60.0L576.0,58.3 573.3,56.5 569.0,58.2Z" fill="#747c00" stroke="#747c00"/><path d="M437.1,84.6L441.2,83.1 438.9,82.2 434.7,83.7Z" fill="#00260b" stroke="#00260b"/><path d="M583.0,58.5L587.4,56.7 584.7,54.8 580.4,56.5Z" fill="#808200" stroke="#808200"/><path d="M594.4,57.0L598.9,55.2 596.2,53.2 591.8,55.0Z" fill="#898600" stroke="#898600"/><path d="M511.0,70.0L515.3,68.4 512.7,67.0 508.5,68.6Z" fill="#305b00" stroke="#305b00"/><path d="M473.7,77.1L477.9,75.5 475.5,74.4 471.2,76.0Z" fill="#0c4300" stroke="#0c4300"/><path d="M522.1,68.3L526.4,66.6 523.9,65.1 519.6,66.8Z" fill="#3c6300" stroke="#3c6300"/><path d="M447.8,82.5L452.0,81.0 449.6,80.1 445.4,81.6Z" fill="#003106" stroke="#003106"/><path d="M422.2,88.1L426.4,86.7 424.1,85.9 419.9,87.3Z" fill="#001c0f" stroke="#001c0f"/><path d="M484.6,75.2L488.9,73.6 486.4,72.4 482.2,74.0Z" fill="#154d00" stroke="#154d00"/><path d="M533.3,66.6L537.6,64.9 535.1,63.3 530.7,65.0Z" fill="#486a00" stroke="#486a00"/><path d="M544.6,64.9L548.9,63.2 546.3,61.6 542.0,63.2Z" fill="#557100" stroke="#557100"/><path d="M458.6,80.6L462.8,79.0 460.4,78.0 456.2,79.5Z" fill="#013c00" stroke="#013c00"/><path d="M495.6,73.4L499.9,71.8 497.4,70.5 493.1,72.1Z" fill="#205500" stroke="#205500"/><path d="M555.8,63.3L560.2,61.6 557.6,59.8 553.3,61.5Z" fill="#617800" stroke="#617800"/><path d="M567.2,61.7L571.6,60.0 569.0,58.2 564.6,59.9Z" fill="#6d7e00" stroke="#6d7e00"/><path d="M432.9,86.1L437.1,84.6 434.7,83.7 430.5,85.2Z" fill="#00280e" stroke="#00280e"/><path d="M578.6,60.2L583.0,58.5 580.4,56.5 576.0,58.3Z" fill="#788300" stroke="#788300"/><path d="M590.0,58.8L594.4,57.0 591.8,55.0 587.4,56.7Z" fill="#838900" stroke="#838900"/><path d="M506.7,71.6L511.0,70.0 508.5,68.6 504.2,70.2Z" fill="#2b5d00" stroke="#2b5d00"/><path d="M469.5,78.7L473.7,77.1 471.2,76.0 467.0,77.5Z" fill="#084500" stroke="#084500"/><path d="M517.8,69.9L522.1,68.3 519.6,66.8 515.3,68.4Z" fill="#366500" stroke="#366500"/><path d="M443.6,84.1L447.8,82.5 445.4,81.6 441.2,83.1Z" fill="#00330b" stroke="#00330b"/><path d="M418.1,89.6L422.2,88.1 419.9,87.3 415.8,88.8Z" fill="#001e12" stroke="#001e12"/><path d="M480.4,76.8L484.6,75.2 482.2,74.0 477.9,75.5Z" fill="#114e00" stroke="#114e00"/><path d="M529.0,68.2L533.3,66.6 530.7,65.0 526.4,66.6Z" fill="#426c00" stroke="#426c00"/><path d="M540.2,66.6L544.6,64.9 542.0,63.2 537.6,64.9Z" fill="#4e7200" stroke="#4e7200"/><path d="M454.4,82.1L458.6,80.6 456.2,79.5 452.0,81.0Z" fill="#003d04" stroke="#003d04"/><path d="M491.4,75.0L495.6,73.4 493.1,72.1 488.9,73.6Z" fill="#1b5700" stroke="#1b5700"/><path d="M551.5,65.0L555.8,63.3 553.3,61.5 548.9,63.2Z" fill="#5a7900" stroke="#5a7900"/><path d="M562.8,63.5L567.2,61.7 564.6,59.9 560.2,61.6Z" fill="#667f00" stroke="#667f00"/><path d="M428.7,87.6L432.9,86.1 430.5,85.2 426.4,86.7Z" fill="#002a12" stroke="#002a12"/><path d="M574.2,62.0L578.6,60.2 576.0,58.3 571.6,60.0Z" fill="#718500" stroke="#718500"/><path d="M597.1,59.2L601.5,57.4 598.9,55.2 594.4,57.0Z" fill="#858f00" stroke="#858f00"/><path d="M585.6,60.6L590.0,58.8 587.4,56.7 583.0,58.5Z" fill="#7b8a00" stroke="#7b8a00"/><path d="M502.4,73.2L506.7,71.6 504.2,70.2 499.9,71.8Z" fill="#265f00" stroke="#265f00"/><path d="M465.2,80.2L469.5,78.7 467.0,77.5 462.8,79.0Z" fill="#044700" stroke="#044700"/><path d="M513.5,71.5L517.8,69.9 515.3,68.4 511.0,70.0Z" fill="#316600" stroke="#316600"/><path d="M439.4,85.6L443.6,84.1 441.2,83.1 437.1,84.6Z" fill="#00350f" stroke="#00350f"/><path d="M476.1,78.4L480.4,76.8 477.9,75.5 473.7,77.1Z" fill="#0c5000" stroke="#0c5000"/><path d="M524.7,69.9L529.0,68.2 526.4,66.6 522.1,68.3Z" fill="#3c6d00" stroke="#3c6d00"/><path d="M535.9,68.3L540.2,66.6 537.6,64.9 533.3,66.6Z" fill="#487400" stroke="#487400"/><path d="M547.1,66.7L551.5,65.0 548.9,63.2 544.6,64.9Z" fill="#537a00" stroke="#537a00"/><path d="M487.1,76.6L491.4,75.0 488.9,73.6 484.6,75.2Z" fill="#165800" stroke="#165800"/><path d="M450.2,83.7L454.4,82.1 452.0,81.0 447.8,82.5Z" fill="#003f09" stroke="#003f09"/><path d="M558.4,65.2L562.8,63.5 560.2,61.6 555.8,63.3Z" fill="#5e8000" stroke="#5e8000"/><path d="M569.8,63.8L574.2,62.0 571.6,60.0 567.2,61.7Z" fill="#698600" stroke="#698600"/><path d="M424.5,89.1L428.7,87.6 426.4,86.7 422.2,88.1Z" fill="#002c16" stroke="#002c16"/><path d="M592.7,61.0L597.1,59.2 594.4,57.0 590.0,58.8Z" fill="#7c9000" stroke="#7c9000"/><path d="M581.2,62.3L585.6,60.6 583.0,58.5 578.6,60.2Z" fill="#738b00" stroke="#738b00"/><path d="M498.1,74.9L502.4,73.2 499.9,71.8 495.6,73.4Z" fill="#206000" stroke="#206000"/><path d="M461.0,81.8L465.2,80.2 462.8,79.0 458.6,80.6Z" fill="#004901" stroke="#004901"/><path d="M509.2,73.2L513.5,71.5 511.0,70.0 506.7,71.6Z" fill="#2b6700" stroke="#2b6700"/><path d="M435.2,87.1L439.4,85.6 437.1,84.6 432.9,86.1Z" fill="#003714" stroke="#003714"/><path d="M520.3,71.5L524.7,69.9 522.1,68.3 517.8,69.9Z" fill="#366e00" stroke="#366e00"/><path d="M471.9,80.0L476.1,78.4 473.7,77.1 469.5,78.7Z" fill="#085200" stroke="#085200"/><path d="M531.5,70.0L535.9,68.3 533.3,66.6 529.0,68.2Z" fill="#417500" stroke="#417500"/><path d="M542.8,68.4L547.1,66.7 544.6,64.9 540.2,66.6Z" fill="#4c7b00" stroke="#4c7b00"/><path d="M482.8,78.2L487.1,76.6 484.6,75.2 480.4,76.8Z" fill="#115a00" stroke="#115a00"/><path d="M446.0,85.2L450.2,83.7 447.8,82.5 443.6,84.1Z" fill="#00410e" stroke="#00410e"/><path d="M554.1,66.9L558.4,65.2 555.8,63.3 551.5,65.0Z" fill="#578100" stroke="#578100"/><path d="M599.7,61.5L604.2,59.7 601.5,57.4 597.1,59.2Z" fill="#7c9600" stroke="#7c9600"/><path d="M565.4,65.5L569.8,63.8 567.2,61.7 562.8,63.5Z" fill="#618700" stroke="#618700"/><path d="M588.2,62.8L592.7,61.0 590.0,58.8 585.6,60.6Z" fill="#749100" stroke="#749100"/><path d="M576.8,64.1L581.2,62.3 578.6,60.2 574.2,62.0Z" fill="#6b8c00" stroke="#6b8c00"/><path d="M420.4,90.6L424.5,89.1 422.2,88.1 418.1,89.6Z" fill="#002e1b" stroke="#002e1b"/><path d="M493.8,76.5L498.1,74.9 495.6,73.4 491.4,75.0Z" fill="#1b6200" stroke="#1b6200"/><path d="M456.8,83.3L461.0,81.8 458.6,80.6 454.4,82.1Z" fill="#004b06" stroke="#004b06"/><path d="M504.9,74.8L509.2,73.2 506.7,71.6 502.4,73.2Z" fill="#256900" stroke="#256900"/><path d="M431.0,88.6L435.2,87.1 432.9,86.1 428.7,87.6Z" fill="#003919" stroke="#003919"/><path d="M516.0,73.2L520.3,71.5 517.8,69.9 513.5,71.5Z" fill="#307000" stroke="#307000"/><path d="M467.6,81.5L471.9,80.0 469.5,78.7 465.2,80.2Z" fill="#035300" stroke="#035300"/><path d="M527.2,71.7L531.5,70.0 529.0,68.2 524.7,69.9Z" fill="#3a7600" stroke="#3a7600"/><path d="M538.4,70.1L542.8,68.4 540.2,66.6 535.9,68.3Z" fill="#457c00" stroke="#457c00"/><path d="M478.6,79.8L482.8,78.2 480.4,76.8 476.1,78.4Z" fill="#0b5b00" stroke="#0b5b00"/><path d="M441.8,86.8L446.0,85.2 443.6,84.1 439.4,85.6Z" fill="#004314" stroke="#004314"/><path d="M549.7,68.7L554.1,66.9 551.5,65.0 547.1,66.7Z" fill="#4f8200" stroke="#4f8200"/><path d="M595.3,63.4L599.7,61.5 597.1,59.2 592.7,61.0Z" fill="#729700" stroke="#729700"/><path d="M561.0,67.3L565.4,65.5 562.8,63.5 558.4,65.2Z" fill="#598800" stroke="#598800"/><path d="M583.8,64.6L588.2,62.8 585.6,60.6 581.2,62.3Z" fill="#6b9200" stroke="#6b9200"/><path d="M572.4,65.9L576.8,64.1 574.2,62.0 569.8,63.8Z" fill="#628d00" stroke="#628d00"/><path d="M489.6,78.1L493.8,76.5 491.4,75.0 487.1,76.6Z" fill="#156300" stroke="#156300"/><path d="M452.6,84.9L456.8,83.3 454.4,82.1 450.2,83.7Z" fill="#004c0c" stroke="#004c0c"/><path d="M500.6,76.5L504.9,74.8 502.4,73.2 498.1,74.9Z" fill="#1f6a00" stroke="#1f6a00"/><path d="M426.9,90.2L431.0,88.6 428.7,87.6 424.5,89.1Z" fill="#003b1e" stroke="#003b1e"/><path d="M511.7,74.9L516.0,73.2 513.5,71.5 509.2,73.2Z" fill="#297100" stroke="#297100"/><path d="M463.4,83.1L467.6,81.5 465.2,80.2 461.0,81.8Z" fill="#005503" stroke="#005503"/><path d="M522.9,73.3L527.2,71.7 524.7,69.9 520.3,71.5Z" fill="#337700" stroke="#337700"/><path d="M534.1,71.9L538.4,70.1 535.9,68.3 531.5,70.0Z" fill="#3e7d00" stroke="#3e7d00"/><path d="M474.3,81.4L478.6,79.8 476.1,78.4 471.9,80.0Z" fill="#065d00" stroke="#065d00"/><path d="M602.3,64.0L606.8,62.2 604.2,59.7 599.7,61.5Z" fill="#6f9c00" stroke="#6f9c00"/><path d="M437.6,88.3L441.8,86.8 439.4,85.6 435.2,87.1Z" fill="#00451a" stroke="#00451a"/><path d="M545.3,70.4L549.7,68.7 547.1,66.7 542.8,68.4Z" fill="#478300" stroke="#478300"/><path d="M590.8,65.2L595.3,63.4 592.7,61.0 588.2,62.8Z" fill="#699700" stroke="#699700"/><path d="M556.6,69.0L561.0,67.3 558.4,65.2 554.1,66.9Z" fill="#518900" stroke="#518900"/><path d="M579.4,66.4L583.8,64.6 581.2,62.3 576.8,64.1Z" fill="#629300" stroke="#629300"/><path d="M568.0,67.7L572.4,65.9 569.8,63.8 565.4,65.5Z" fill="#5a8e00" stroke="#5a8e00"/><path d="M485.3,79.7L489.6,78.1 487.1,76.6 482.8,78.2Z" fill="#0f6400" stroke="#0f6400"/><path d="M448.3,86.5L452.6,84.9 450.2,83.7 446.0,85.2Z" fill="#004e13" stroke="#004e13"/><path d="M496.3,78.1L500.6,76.5 498.1,74.9 493.8,76.5Z" fill="#186c00" stroke="#186c00"/><path d="M422.7,91.7L426.9,90.2 424.5,89.1 420.4,90.6Z" fill="#003d24" stroke="#003d24"/><path d="M507.4,76.5L511.7,74.9 509.2,73.2 504.9,74.8Z" fill="#227200" stroke="#227200"/><path d="M459.2,84.7L463.4,83.1 461.0,81.8 456.8,83.3Z" fill="#00560a" stroke="#00560a"/><path d="M518.5,75.0L522.9,73.3 520.3,71.5 516.0,73.2Z" fill="#2c7900" stroke="#2c7900"/><path d="M529.7,73.6L534.1,71.9 531.5,70.0 527.2,71.7Z" fill="#367f00" stroke="#367f00"/><path d="M597.9,65.9L602.3,64.0 599.7,61.5 595.3,63.4Z" fill="#659d00" stroke="#659d00"/><path d="M470.1,83.0L474.3,81.4 471.9,80.0 467.6,81.5Z" fill="#005e00" stroke="#005e00"/><path d="M433.4,89.9L437.6,88.3 435.2,87.1 431.0,88.6Z" fill="#004620" stroke="#004620"/><path d="M541.0,72.2L545.3,70.4 542.8,68.4 538.4,70.1Z" fill="#3f8400" stroke="#3f8400"/><path d="M586.4,67.0L590.8,65.2 588.2,62.8 583.8,64.6Z" fill="#5f9800" stroke="#5f9800"/><path d="M552.3,70.8L556.6,69.0 554.1,66.9 549.7,68.7Z" fill="#488a00" stroke="#488a00"/><path d="M575.0,68.2L579.4,66.4 576.8,64.1 572.4,65.9Z" fill="#599400" stroke="#599400"/><path d="M563.6,69.5L568.0,67.7 565.4,65.5 561.0,67.3Z" fill="#518f00" stroke="#518f00"/><path d="M481.0,81.4L485.3,79.7 482.8,78.2 478.6,79.8Z" fill="#096600" stroke="#096600"/><path d="M444.1,88.0L448.3,86.5 446.0,85.2 441.8,86.8Z" fill="#004f19" stroke="#004f19"/><path d="M492.0,79.8L496.3,78.1 493.8,76.5 489.6,78.1Z" fill="#126d00" stroke="#126d00"/><path d="M503.1,78.2L507.4,76.5 504.9,74.8 500.6,76.5Z" fill="#1b7300" stroke="#1b7300"/><path d="M454.9,86.3L459.2,84.7 456.8,83.3 452.6,84.9Z" fill="#005811" stroke="#005811"/><path d="M514.2,76.7L518.5,75.0 516.0,73.2 511.7,74.9Z" fill="#257a00" stroke="#257a00"/><path d="M525.4,75.3L529.7,73.6 527.2,71.7 522.9,73.3Z" fill="#2e8000" stroke="#2e8000"/><path d="M593.4,67.7L597.9,65.9 595.3,63.4 590.8,65.2Z" fill="#5b9d00" stroke="#5b9d00"/><path d="M465.8,84.6L470.1,83.0 467.6,81.5 463.4,83.1Z" fill="#006008" stroke="#006008"/><path d="M429.2,91.4L433.4,89.9 431.0,88.6 426.9,90.2Z" fill="#004826" stroke="#004826"/><path d="M536.6,73.9L541.0,72.2 538.4,70.1 534.1,71.9Z" fill="#378500" stroke="#378500"/><path d="M582.0,68.9L586.4,67.0 583.8,64.6 579.4,66.4Z" fill="#569900" stroke="#569900"/><path d="M547.9,72.6L552.3,70.8 549.7,68.7 545.3,70.4Z" fill="#408a00" stroke="#408a00"/><path d="M570.6,70.0L575.0,68.2 572.4,65.9 568.0,67.7Z" fill="#4f9400" stroke="#4f9400"/><path d="M559.2,71.3L563.6,69.5 561.0,67.3 556.6,69.0Z" fill="#489000" stroke="#489000"/><path d="M476.7,83.0L481.0,81.4 478.6,79.8 474.3,81.4Z" fill="#026700" stroke="#026700"/><path d="M439.9,89.6L444.1,88.0 441.8,86.8 437.6,88.3Z" fill="#005120" stroke="#005120"/><path d="M487.7,81.4L492.0,79.8 489.6,78.1 485.3,79.7Z" fill="#0b6e00" stroke="#0b6e00"/><path d="M498.8,79.9L503.1,78.2 500.6,76.5 496.3,78.1Z" fill="#147500" stroke="#147500"/><path d="M450.7,87.9L454.9,86.3 452.6,84.9 448.3,86.5Z" fill="#005918" stroke="#005918"/><path d="M509.9,78.4L514.2,76.7 511.7,74.9 507.4,76.5Z" fill="#1d7b00" stroke="#1d7b00"/><path d="M521.0,77.0L525.4,75.3 522.9,73.3 518.5,75.0Z" fill="#268100" stroke="#268100"/><path d="M589.0,69.6L593.4,67.7 590.8,65.2 586.4,67.0Z" fill="#519e00" stroke="#519e00"/><path d="M461.6,86.2L465.8,84.6 463.4,83.1 459.2,84.7Z" fill="#00610f" stroke="#00610f"/><path d="M532.2,75.6L536.6,73.9 534.1,71.9 529.7,73.6Z" fill="#2f8600" stroke="#2f8600"/><path d="M577.6,70.7L582.0,68.9 579.4,66.4 575.0,68.2Z" fill="#4c9a00" stroke="#4c9a00"/><path d="M425.0,93.0L429.2,91.4 426.9,90.2 422.7,91.7Z" fill="#004a2c" stroke="#004a2c"/><path d="M543.5,74.3L547.9,72.6 545.3,70.4 541.0,72.2Z" fill="#378b00" stroke="#378b00"/><path d="M566.2,71.8L570.6,70.0 568.0,67.7 563.6,69.5Z" fill="#469500" stroke="#469500"/><path d="M554.8,73.0L559.2,71.3 556.6,69.0 552.3,70.8Z" fill="#3f9000" stroke="#3f9000"/><path d="M472.5,84.6L476.7,83.0 474.3,81.4 470.1,83.0Z" fill="#006905" stroke="#006905"/><path d="M435.7,91.2L439.9,89.6 437.6,88.3 433.4,89.9Z" fill="#005327" stroke="#005327"/><path d="M483.5,83.0L487.7,81.4 485.3,79.7 481.0,81.4Z" fill="#046f00" stroke="#046f00"/><path d="M494.5,81.5L498.8,79.9 496.3,78.1 492.0,79.8Z" fill="#0d7600" stroke="#0d7600"/><path d="M446.5,89.5L450.7,87.9 448.3,86.5 444.1,88.0Z" fill="#005b20" stroke="#005b20"/><path d="M505.6,80.1L509.9,78.4 507.4,76.5 503.1,78.2Z" fill="#167c00" stroke="#167c00"/><path d="M584.6,71.5L589.0,69.6 586.4,67.0 582.0,68.9Z" fill="#479f00" stroke="#479f00"/><path d="M516.7,78.7L521.0,77.0 518.5,75.0 514.2,76.7Z" fill="#1e8200" stroke="#1e8200"/><path d="M457.3,87.8L461.6,86.2 459.2,84.7 454.9,86.3Z" fill="#006317" stroke="#006317"/><path d="M573.1,72.5L577.6,70.7 575.0,68.2 570.6,70.0Z" fill="#429a00" stroke="#429a00"/><path d="M527.9,77.4L532.2,75.6 529.7,73.6 525.4,75.3Z" fill="#278700" stroke="#278700"/><path d="M561.8,73.7L566.2,71.8 563.6,69.5 559.2,71.3Z" fill="#3c9600" stroke="#3c9600"/><path d="M539.1,76.1L543.5,74.3 541.0,72.2 536.6,73.9Z" fill="#2e8c00" stroke="#2e8c00"/><path d="M550.4,74.8L554.8,73.0 552.3,70.8 547.9,72.6Z" fill="#369100" stroke="#369100"/><path d="M468.2,86.2L472.5,84.6 470.1,83.0 465.8,84.6Z" fill="#006a0e" stroke="#006a0e"/><path d="M431.5,92.8L435.7,91.2 433.4,89.9 429.2,91.4Z" fill="#00542e" stroke="#00542e"/><path d="M479.2,84.7L483.5,83.0 481.0,81.4 476.7,83.0Z" fill="#007104" stroke="#007104"/><path d="M490.2,83.2L494.5,81.5 492.0,79.8 487.7,81.4Z" fill="#057700" stroke="#057700"/><path d="M442.3,91.1L446.5,89.5 444.1,88.0 439.9,89.6Z" fill="#005c28" stroke="#005c28"/><path d="M501.3,81.8L505.6,80.1 503.1,78.2 498.8,79.9Z" fill="#0e7d00" stroke="#0e7d00"/><path d="M580.1,73.3L584.6,71.5 582.0,68.9 577.6,70.7Z" fill="#3d9f00" stroke="#3d9f00"/><path d="M512.4,80.4L516.7,78.7 514.2,76.7 509.9,78.4Z" fill="#168300" stroke="#168300"/><path d="M568.7,74.4L573.1,72.5 570.6,70.0 566.2,71.8Z" fill="#389b00" stroke="#389b00"/><path d="M453.1,89.4L457.3,87.8 454.9,86.3 450.7,87.9Z" fill="#006420" stroke="#006420"/><path d="M523.5,79.1L527.9,77.4 525.4,75.3 521.0,77.0Z" fill="#1e8800" stroke="#1e8800"/><path d="M557.4,75.5L561.8,73.7 559.2,71.3 554.8,73.0Z" fill="#339700" stroke="#339700"/><path d="M534.8,77.8L539.1,76.1 536.6,73.9 532.2,75.6Z" fill="#258d00" stroke="#258d00"/><path d="M546.0,76.6L550.4,74.8 547.9,72.6 543.5,74.3Z" fill="#2c9200" stroke="#2c9200"/><path d="M464.0,87.9L468.2,86.2 465.8,84.6 461.6,86.2Z" fill="#006b16" stroke="#006b16"/><path d="M427.3,94.3L431.5,92.8 429.2,91.4 425.0,93.0Z" fill="#005636" stroke="#005636"/><path d="M474.9,86.3L479.2,84.7 476.7,83.0 472.5,84.6Z" fill="#00720d" stroke="#00720d"/><path d="M485.9,84.9L490.2,83.2 487.7,81.4 483.5,83.0Z" fill="#007803" stroke="#007803"/><path d="M438.0,92.7L442.3,91.1 439.9,89.6 435.7,91.2Z" fill="#005e30" stroke="#005e30"/><path d="M496.9,83.5L501.3,81.8 498.8,79.9 494.5,81.5Z" fill="#067e00" stroke="#067e00"/><path d="M575.7,75.2L580.1,73.3 577.6,70.7 573.1,72.5Z" fill="#32a000" stroke="#32a000"/><path d="M508.0,82.1L512.4,80.4 509.9,78.4 505.6,80.1Z" fill="#0e8400" stroke="#0e8400"/><path d="M564.3,76.2L568.7,74.4 566.2,71.8 561.8,73.7Z" fill="#2e9c00" stroke="#2e9c00"/><path d="M519.2,80.8L523.5,79.1 521.0,77.0 516.7,78.7Z" fill="#158900" stroke="#158900"/><path d="M448.8,91.0L453.1,89.4 450.7,87.9 446.5,89.5Z" fill="#006528" stroke="#006528"/><path d="M553.0,77.3L557.4,75.5 554.8,73.0 550.4,74.8Z" fill="#299700" stroke="#299700"/><path d="M530.4,79.6L534.8,77.8 532.2,75.6 527.9,77.4Z" fill="#1c8e00" stroke="#1c8e00"/><path d="M541.7,78.4L546.0,76.6 543.5,74.3 539.1,76.1Z" fill="#239300" stroke="#239300"/><path d="M459.7,89.5L464.0,87.9 461.6,86.2 457.3,87.8Z" fill="#006c1f" stroke="#006c1f"/><path d="M470.6,88.0L474.9,86.3 472.5,84.6 468.2,86.2Z" fill="#007316" stroke="#007316"/><path d="M481.6,86.5L485.9,84.9 483.5,83.0 479.2,84.7Z" fill="#00790d" stroke="#00790d"/><path d="M433.8,94.3L438.0,92.7 435.7,91.2 431.5,92.8Z" fill="#005f38" stroke="#005f38"/><path d="M492.6,85.2L496.9,83.5 494.5,81.5 490.2,83.2Z" fill="#007f03" stroke="#007f03"/><path d="M571.3,77.0L575.7,75.2 573.1,72.5 568.7,74.4Z" fill="#28a100" stroke="#28a100"/><path d="M503.7,83.8L508.0,82.1 505.6,80.1 501.3,81.8Z" fill="#058400" stroke="#058400"/><path d="M559.9,78.0L564.3,76.2 561.8,73.7 557.4,75.5Z" fill="#249c00" stroke="#249c00"/><path d="M514.9,82.6L519.2,80.8 516.7,78.7 512.4,80.4Z" fill="#0c8a00" stroke="#0c8a00"/><path d="M444.6,92.7L448.8,91.0 446.5,89.5 442.3,91.1Z" fill="#006631" stroke="#006631"/><path d="M548.6,79.1L553.0,77.3 550.4,74.8 546.0,76.6Z" fill="#1f9800" stroke="#1f9800"/><path d="M526.0,81.3L530.4,79.6 527.9,77.4 523.5,79.1Z" fill="#138f00" stroke="#138f00"/><path d="M537.3,80.2L541.7,78.4 539.1,76.1 534.8,77.8Z" fill="#199300" stroke="#199300"/><path d="M455.5,91.1L459.7,89.5 457.3,87.8 453.1,89.4Z" fill="#006d28" stroke="#006d28"/><path d="M466.4,89.6L470.6,88.0 468.2,86.2 464.0,87.9Z" fill="#007420" stroke="#007420"/><path d="M477.3,88.2L481.6,86.5 479.2,84.7 474.9,86.3Z" fill="#007a17" stroke="#007a17"/><path d="M429.6,95.9L433.8,94.3 431.5,92.8 427.3,94.3Z" fill="#006040" stroke="#006040"/><path d="M488.3,86.9L492.6,85.2 490.2,83.2 485.9,84.9Z" fill="#00800d" stroke="#00800d"/><path d="M566.8,78.9L571.3,77.0 568.7,74.4 564.3,76.2Z" fill="#1da100" stroke="#1da100"/><path d="M499.4,85.5L503.7,83.8 501.3,81.8 496.9,83.5Z" fill="#008504" stroke="#008504"/><path d="M555.5,79.8L559.9,78.0 557.4,75.5 553.0,77.3Z" fill="#199d00" stroke="#199d00"/><path d="M510.5,84.3L514.9,82.6 512.4,80.4 508.0,82.1Z" fill="#038b00" stroke="#038b00"/><path d="M440.4,94.3L444.6,92.7 442.3,91.1 438.0,92.7Z" fill="#006839" stroke="#006839"/><path d="M544.2,80.9L548.6,79.1 546.0,76.6 541.7,78.4Z" fill="#159900" stroke="#159900"/><path d="M521.7,83.1L526.0,81.3 523.5,79.1 519.2,80.8Z" fill="#0a9000" stroke="#0a9000"/><path d="M532.9,81.9L537.3,80.2 534.8,77.8 530.4,79.6Z" fill="#109400" stroke="#109400"/><path d="M451.2,92.8L455.5,91.1 453.1,89.4 448.8,91.0Z" fill="#006f32" stroke="#006f32"/><path d="M462.1,91.3L466.4,89.6 464.0,87.9 459.7,89.5Z" fill="#007529" stroke="#007529"/><path d="M473.0,89.9L477.3,88.2 474.9,86.3 470.6,88.0Z" fill="#007b21" stroke="#007b21"/><path d="M484.0,88.5L488.3,86.9 485.9,84.9 481.6,86.5Z" fill="#008118" stroke="#008118"/><path d="M562.4,80.7L566.8,78.9 564.3,76.2 559.9,78.0Z" fill="#12a200" stroke="#12a200"/><path d="M495.1,87.3L499.4,85.5 496.9,83.5 492.6,85.2Z" fill="#00860f" stroke="#00860f"/><path d="M551.1,81.7L555.5,79.8 553.0,77.3 548.6,79.1Z" fill="#0f9e00" stroke="#0f9e00"/><path d="M506.2,86.0L510.5,84.3 508.0,82.1 503.7,83.8Z" fill="#008b07" stroke="#008b07"/><path d="M539.8,82.7L544.2,80.9 541.7,78.4 537.3,80.2Z" fill="#0b9900" stroke="#0b9900"/><path d="M436.2,95.9L440.4,94.3 438.0,92.7 433.8,94.3Z" fill="#006942" stroke="#006942"/><path d="M517.3,84.8L521.7,83.1 519.2,80.8 514.9,82.6Z" fill="#009000" stroke="#009000"/><path d="M528.5,83.7L532.9,81.9 530.4,79.6 526.0,81.3Z" fill="#069500" stroke="#069500"/><path d="M447.0,94.4L451.2,92.8 448.8,91.0 444.6,92.7Z" fill="#00703b" stroke="#00703b"/><path d="M457.8,92.9L462.1,91.3 459.7,89.5 455.5,91.1Z" fill="#007633" stroke="#007633"/><path d="M468.7,91.6L473.0,89.9 470.6,88.0 466.4,89.6Z" fill="#007c2b" stroke="#007c2b"/><path d="M479.7,90.2L484.0,88.5 481.6,86.5 477.3,88.2Z" fill="#008223" stroke="#008223"/><path d="M558.0,82.6L562.4,80.7 559.9,78.0 555.5,79.8Z" fill="#07a200" stroke="#07a200"/><path d="M490.8,89.0L495.1,87.3 492.6,85.2 488.3,86.9Z" fill="#00871b" stroke="#00871b"/><path d="M546.7,83.5L551.1,81.7 548.6,79.1 544.2,80.9Z" fill="#049e00" stroke="#049e00"/><path d="M501.8,87.8L506.2,86.0 503.7,83.8 499.4,85.5Z" fill="#008c13" stroke="#008c13"/><path d="M535.4,84.5L539.8,82.7 537.3,80.2 532.9,81.9Z" fill="#019a00" stroke="#019a00"/><path d="M513.0,86.6L517.3,84.8 514.9,82.6 510.5,84.3Z" fill="#00910c" stroke="#00910c"/><path d="M524.2,85.5L528.5,83.7 526.0,81.3 521.7,83.1Z" fill="#009605" stroke="#009605"/><path d="M431.9,97.5L436.2,95.9 433.8,94.3 429.6,95.9Z" fill="#006a4c" stroke="#006a4c"/><path d="M442.7,96.0L447.0,94.4 444.6,92.7 440.4,94.3Z" fill="#007145" stroke="#007145"/><path d="M453.6,94.6L457.8,92.9 455.5,91.1 451.2,92.8Z" fill="#00773d" stroke="#00773d"/><path d="M464.5,93.2L468.7,91.6 466.4,89.6 462.1,91.3Z" fill="#007d35" stroke="#007d35"/><path d="M475.4,91.9L479.7,90.2 477.3,88.2 473.0,89.9Z" fill="#00832e" stroke="#00832e"/><path d="M553.6,84.4L558.0,82.6 555.5,79.8 551.1,81.7Z" fill="#00a305" stroke="#00a305"/><path d="M486.4,90.7L490.8,89.0 488.3,86.9 484.0,88.5Z" fill="#008826" stroke="#008826"/><path d="M542.3,85.3L546.7,83.5 544.2,80.9 539.8,82.7Z" fill="#009f08" stroke="#009f08"/><path d="M497.5,89.5L501.8,87.8 499.4,85.5 495.1,87.3Z" fill="#008d1e" stroke="#008d1e"/><path d="M531.0,86.3L535.4,84.5 532.9,81.9 528.5,83.7Z" fill="#009b0c" stroke="#009b0c"/><path d="M508.6,88.4L513.0,86.6 510.5,84.3 506.2,86.0Z" fill="#009218" stroke="#009218"/><path d="M519.8,87.3L524.2,85.5 521.7,83.1 517.3,84.8Z" fill="#009612" stroke="#009612"/><path d="M438.5,97.7L442.7,96.0 440.4,94.3 436.2,95.9Z" fill="#00724e" stroke="#00724e"/><path d="M449.3,96.2L453.6,94.6 451.2,92.8 447.0,94.4Z" fill="#007847" stroke="#007847"/><path d="M460.2,94.9L464.5,93.2 462.1,91.3 457.8,92.9Z" fill="#007e40" stroke="#007e40"/><path d="M471.1,93.6L475.4,91.9 473.0,89.9 468.7,91.6Z" fill="#008439" stroke="#008439"/><path d="M549.2,86.3L553.6,84.4 551.1,81.7 546.7,83.5Z" fill="#00a313" stroke="#00a313"/><path d="M482.1,92.4L486.4,90.7 484.0,88.5 479.7,90.2Z" fill="#008931" stroke="#008931"/><path d="M537.9,87.1L542.3,85.3 539.8,82.7 535.4,84.5Z" fill="#009f15" stroke="#009f15"/><path d="M493.2,91.2L497.5,89.5 495.1,87.3 490.8,89.0Z" fill="#008e2a" stroke="#008e2a"/><path d="M526.6,88.1L531.0,86.3 528.5,83.7 524.2,85.5Z" fill="#009b19" stroke="#009b19"/><path d="M504.3,90.1L508.6,88.4 506.2,86.0 501.8,87.8Z" fill="#009224" stroke="#009224"/><path d="M515.4,89.1L519.8,87.3 517.3,84.8 513.0,86.6Z" fill="#00971e" stroke="#00971e"/><path d="M434.2,99.3L438.5,97.7 436.2,95.9 431.9,97.5Z" fill="#007358" stroke="#007358"/><path d="M445.1,97.9L449.3,96.2 447.0,94.4 442.7,96.0Z" fill="#007952" stroke="#007952"/><path d="M455.9,96.6L460.2,94.9 457.8,92.9 453.6,94.6Z" fill="#007f4b" stroke="#007f4b"/><path d="M544.8,88.1L549.2,86.3 546.7,83.5 542.3,85.3Z" fill="#00a421" stroke="#00a421"/><path d="M466.8,95.3L471.1,93.6 468.7,91.6 464.5,93.2Z" fill="#008444" stroke="#008444"/><path d="M533.5,88.9L537.9,87.1 535.4,84.5 531.0,86.3Z" fill="#00a023" stroke="#00a023"/><path d="M477.8,94.1L482.1,92.4 479.7,90.2 475.4,91.9Z" fill="#008a3d" stroke="#008a3d"/><path d="M522.3,89.9L526.6,88.1 524.2,85.5 519.8,87.3Z" fill="#009c26" stroke="#009c26"/><path d="M488.9,93.0L493.2,91.2 490.8,89.0 486.4,90.7Z" fill="#008e36" stroke="#008e36"/><path d="M511.1,90.8L515.4,89.1 513.0,86.6 508.6,88.4Z" fill="#00982b" stroke="#00982b"/><path d="M499.9,91.9L504.3,90.1 501.8,87.8 497.5,89.5Z" fill="#009330" stroke="#009330"/><path d="M440.8,99.6L445.1,97.9 442.7,96.0 438.5,97.7Z" fill="#007a5c" stroke="#007a5c"/><path d="M451.7,98.2L455.9,96.6 453.6,94.6 449.3,96.2Z" fill="#008056" stroke="#008056"/><path d="M540.4,89.9L544.8,88.1 542.3,85.3 537.9,87.1Z" fill="#00a42f" stroke="#00a42f"/><path d="M462.6,97.0L466.8,95.3 464.5,93.2 460.2,94.9Z" fill="#00854f" stroke="#00854f"/><path d="M529.1,90.8L533.5,88.9 531.0,86.3 526.6,88.1Z" fill="#00a031" stroke="#00a031"/><path d="M473.5,95.8L477.8,94.1 475.4,91.9 471.1,93.6Z" fill="#008a49" stroke="#008a49"/><path d="M517.9,91.7L522.3,89.9 519.8,87.3 515.4,89.1Z" fill="#009c34" stroke="#009c34"/><path d="M484.5,94.7L488.9,93.0 486.4,90.7 482.1,92.4Z" fill="#008f42" stroke="#008f42"/><path d="M506.7,92.6L511.1,90.8 508.6,88.4 504.3,90.1Z" fill="#009838" stroke="#009838"/><path d="M495.6,93.6L499.9,91.9 497.5,89.5 493.2,91.2Z" fill="#00943d" stroke="#00943d"/><path d="M436.6,101.2L440.8,99.6 438.5,97.7 434.2,99.3Z" fill="#007b67" stroke="#007b67"/><path d="M447.4,99.9L451.7,98.2 449.3,96.2 445.1,97.9Z" fill="#008161" stroke="#008161"/><path d="M536.0,91.8L540.4,89.9 537.9,87.1 533.5,88.9Z" fill="#00a53d" stroke="#00a53d"/><path d="M458.3,98.7L462.6,97.0 460.2,94.9 455.9,96.6Z" fill="#00865b" stroke="#00865b"/><path d="M524.7,92.6L529.1,90.8 526.6,88.1 522.3,89.9Z" fill="#00a13e" stroke="#00a13e"/><path d="M469.2,97.5L473.5,95.8 471.1,93.6 466.8,95.3Z" fill="#008b55" stroke="#008b55"/><path d="M513.5,93.4L517.9,91.7 515.4,89.1 511.1,90.8Z" fill="#009d41" stroke="#009d41"/><path d="M480.2,96.4L484.5,94.7 482.1,92.4 477.8,94.1Z" fill="#00904f" stroke="#00904f"/><path d="M502.4,94.4L506.7,92.6 504.3,90.1 499.9,91.9Z" fill="#009945" stroke="#009945"/><path d="M491.3,95.4L495.6,93.6 493.2,91.2 488.9,93.0Z" fill="#00944a" stroke="#00944a"/><path d="M443.1,101.6L447.4,99.9 445.1,97.9 440.8,99.6Z" fill="#00826c" stroke="#00826c"/><path d="M531.6,93.6L536.0,91.8 533.5,88.9 529.1,90.8Z" fill="#00a54b" stroke="#00a54b"/><path d="M454.0,100.4L458.3,98.7 455.9,96.6 451.7,98.2Z" fill="#008766" stroke="#008766"/><path d="M520.3,94.4L524.7,92.6 522.3,89.9 517.9,91.7Z" fill="#00a14c" stroke="#00a14c"/><path d="M464.9,99.2L469.2,97.5 466.8,95.3 462.6,97.0Z" fill="#008c61" stroke="#008c61"/><path d="M509.2,95.2L513.5,93.4 511.1,90.8 506.7,92.6Z" fill="#009d4f" stroke="#009d4f"/><path d="M475.9,98.1L480.2,96.4 477.8,94.1 473.5,95.8Z" fill="#00915b" stroke="#00915b"/><path d="M498.0,96.1L502.4,94.4 499.9,91.9 495.6,93.6Z" fill="#009952" stroke="#009952"/><path d="M486.9,97.1L491.3,95.4 488.9,93.0 484.5,94.7Z" fill="#009556" stroke="#009556"/><path d="M438.9,103.3L443.1,101.6 440.8,99.6 436.6,101.2Z" fill="#008277" stroke="#008277"/><path d="M527.2,95.4L531.6,93.6 529.1,90.8 524.7,92.6Z" fill="#00a659" stroke="#00a659"/><path d="M449.7,102.1L454.0,100.4 451.7,98.2 447.4,99.9Z" fill="#008872" stroke="#008872"/><path d="M516.0,96.2L520.3,94.4 517.9,91.7 513.5,93.4Z" fill="#00a25a" stroke="#00a25a"/><path d="M460.6,100.9L464.9,99.2 462.6,97.0 458.3,98.7Z" fill="#008d6d" stroke="#008d6d"/><path d="M504.8,97.0L509.2,95.2 506.7,92.6 502.4,94.4Z" fill="#009e5c" stroke="#009e5c"/><path d="M471.6,99.9L475.9,98.1 473.5,95.8 469.2,97.5Z" fill="#009168" stroke="#009168"/><path d="M493.7,97.9L498.0,96.1 495.6,93.6 491.3,95.4Z" fill="#009a5f" stroke="#009a5f"/><path d="M482.6,98.9L486.9,97.1 484.5,94.7 480.2,96.4Z" fill="#009663" stroke="#009663"/><path d="M522.8,97.3L527.2,95.4 524.7,92.6 520.3,94.4Z" fill="#00a668" stroke="#00a668"/><path d="M445.5,103.8L449.7,102.1 447.4,99.9 443.1,101.6Z" fill="#00887e" stroke="#00887e"/><path d="M511.6,98.0L516.0,96.2 513.5,93.4 509.2,95.2Z" fill="#00a268" stroke="#00a268"/><path d="M456.3,102.7L460.6,100.9 458.3,98.7 454.0,100.4Z" fill="#008d79" stroke="#008d79"/><path d="M500.4,98.8L504.8,97.0 502.4,94.4 498.0,96.1Z" fill="#009f6a" stroke="#009f6a"/><path d="M467.3,101.6L471.6,99.9 469.2,97.5 464.9,99.2Z" fill="#009274" stroke="#009274"/><path d="M489.3,99.7L493.7,97.9 491.3,95.4 486.9,97.1Z" fill="#009b6d" stroke="#009b6d"/><path d="M478.3,100.6L482.6,98.9 480.2,96.4 475.9,98.1Z" fill="#009670" stroke="#009670"/><path d="M518.4,99.1L522.8,97.3 520.3,94.4 516.0,96.2Z" fill="#00a676" stroke="#00a676"/><path d="M441.2,105.5L445.5,103.8 443.1,101.6 438.9,103.3Z" fill="#008889" stroke="#008889"/><path d="M507.2,99.8L511.6,98.0 509.2,95.2 504.8,97.0Z" fill="#00a377" stroke="#00a377"/><path d="M452.1,104.4L456.3,102.7 454.0,100.4 449.7,102.1Z" fill="#008e85" stroke="#008e85"/><path d="M496.1,100.6L500.4,98.8 498.0,96.1 493.7,97.9Z" fill="#009f78" stroke="#009f78"/><path d="M463.0,103.3L467.3,101.6 464.9,99.2 460.6,100.9Z" fill="#009381" stroke="#009381"/><path d="M485.0,101.5L489.3,99.7 486.9,97.1 482.6,98.9Z" fill="#009b7a" stroke="#009b7a"/><path d="M474.0,102.4L478.3,100.6 475.9,98.1 471.6,99.9Z" fill="#00977d" stroke="#00977d"/><path d="M514.0,100.9L518.4,99.1 516.0,96.2 511.6,98.0Z" fill="#00a785" stroke="#00a785"/><path d="M502.8,101.6L507.2,99.8 504.8,97.0 500.4,98.8Z" fill="#00a385" stroke="#00a385"/><path d="M447.8,106.1L452.1,104.4 449.7,102.1 445.5,103.8Z" fill="#008c8f" stroke="#008c8f"/><path d="M491.7,102.4L496.1,100.6 493.7,97.9 489.3,99.7Z" fill="#009f86" stroke="#009f86"/><path d="M458.7,105.1L463.0,103.3 460.6,100.9 456.3,102.7Z" fill="#00938e" stroke="#00938e"/><path d="M480.7,103.2L485.0,101.5 482.6,98.9 478.3,100.6Z" fill="#009c88" stroke="#009c88"/><path d="M469.7,104.1L474.0,102.4 471.6,99.9 467.3,101.6Z" fill="#00978b" stroke="#00978b"/><path d="M509.6,102.8L514.0,100.9 511.6,98.0 507.2,99.8Z" fill="#00a794" stroke="#00a794"/><path d="M498.5,103.5L502.8,101.6 500.4,98.8 496.1,100.6Z" fill="#00a493" stroke="#00a493"/><path d="M443.5,107.8L447.8,106.1 445.5,103.8 441.2,105.5Z" fill="#00828f" stroke="#00828f"/><path d="M487.4,104.2L491.7,102.4 489.3,99.7 485.0,101.5Z" fill="#00a094" stroke="#00a094"/><path d="M454.4,106.8L458.7,105.1 456.3,102.7 452.1,104.4Z" fill="#008e94" stroke="#008e94"/><path d="M476.3,105.0L480.7,103.2 478.3,100.6 474.0,102.4Z" fill="#009c95" stroke="#009c95"/><path d="M465.3,105.9L469.7,104.1 467.3,101.6 463.0,103.3Z" fill="#009898" stroke="#009898"/><path d="M505.3,104.6L509.6,102.8 507.2,99.8 502.8,101.6Z" fill="#00a8a3" stroke="#00a8a3"/><path d="M494.1,105.3L498.5,103.5 496.1,100.6 491.7,102.4Z" fill="#00a4a2" stroke="#00a4a2"/><path d="M483.0,106.0L487.4,104.2 485.0,101.5 480.7,103.2Z" fill="#009fa0" stroke="#009fa0"/><path d="M472.0,106.8L476.3,105.0 474.0,102.4 469.7,104.1Z" fill="#00979d" stroke="#00979d"/><path d="M450.1,108.5L454.4,106.8 452.1,104.4 447.8,106.1Z" fill="#008394" stroke="#008394"/><path d="M461.0,107.6L465.3,105.9 463.0,103.3 458.7,105.1Z" fill="#008e99" stroke="#008e99"/><path d="M500.9,106.4L505.3,104.6 502.8,101.6 498.5,103.5Z" fill="#00a0a8" stroke="#00a0a8"/><path d="M489.8,107.1L494.1,105.3 491.7,102.4 487.4,104.2Z" fill="#009aa4" stroke="#009aa4"/><path d="M478.7,107.8L483.0,106.0 480.7,103.2 476.3,105.0Z" fill="#0094a1" stroke="#0094a1"/><path d="M467.7,108.5L472.0,106.8 469.7,104.1 465.3,105.9Z" fill="#008c9d" stroke="#008c9d"/><path d="M445.8,110.3L450.1,108.5 447.8,106.1 443.5,107.8Z" fill="#007995" stroke="#007995"/><path d="M456.7,109.4L461.0,107.6 458.7,105.1 454.4,106.8Z" fill="#008399" stroke="#008399"/><path d="M496.5,108.3L500.9,106.4 498.5,103.5 494.1,105.3Z" fill="#0094a8" stroke="#0094a8"/><path d="M485.4,108.9L489.8,107.1 487.4,104.2 483.0,106.0Z" fill="#008fa5" stroke="#008fa5"/><path d="M474.4,109.6L478.7,107.8 476.3,105.0 472.0,106.8Z" fill="#0088a1" stroke="#0088a1"/><path d="M463.4,110.3L467.7,108.5 465.3,105.9 461.0,107.6Z" fill="#00819e" stroke="#00819e"/><path d="M452.4,111.1L456.7,109.4 454.4,106.8 450.1,108.5Z" fill="#00789a" stroke="#00789a"/><path d="M492.1,110.1L496.5,108.3 494.1,105.3 489.8,107.1Z" fill="#0087a9" stroke="#0087a9"/><path d="M481.1,110.7L485.4,108.9 483.0,106.0 478.7,107.8Z" fill="#0083a5" stroke="#0083a5"/><path d="M470.0,111.3L474.4,109.6 472.0,106.8 467.7,108.5Z" fill="#007da2" stroke="#007da2"/><path d="M459.1,112.1L463.4,110.3 461.0,107.6 456.7,109.4Z" fill="#00759e" stroke="#00759e"/><path d="M448.1,112.9L452.4,111.1 450.1,108.5 445.8,110.3Z" fill="#006d9a" stroke="#006d9a"/><path d="M487.8,111.9L492.1,110.1 489.8,107.1 485.4,108.9Z" fill="#007ba9" stroke="#007ba9"/><path d="M476.7,112.5L481.1,110.7 478.7,107.8 474.4,109.6Z" fill="#0077a6" stroke="#0077a6"/><path d="M465.7,113.1L470.0,111.3 467.7,108.5 463.4,110.3Z" fill="#0071a2" stroke="#0071a2"/><path d="M454.7,113.8L459.1,112.1 456.7,109.4 452.4,111.1Z" fill="#006a9e" stroke="#006a9e"/><path d="M483.4,113.7L487.8,111.9 485.4,108.9 481.1,110.7Z" fill="#006fa9" stroke="#006fa9"/><path d="M472.4,114.3L476.7,112.5 474.4,109.6 470.0,111.3Z" fill="#006ba6" stroke="#006ba6"/><path d="M461.4,114.9L465.7,113.1 463.4,110.3 459.1,112.1Z" fill="#0065a2" stroke="#0065a2"/><path d="M450.4,115.6L454.7,113.8 452.4,111.1 448.1,112.9Z" fill="#005f9f" stroke="#005f9f"/><path d="M479.1,115.5L483.4,113.7 481.1,110.7 476.7,112.5Z" fill="#0062aa" stroke="#0062aa"/><path d="M468.0,116.1L472.4,114.3 470.0,111.3 465.7,113.1Z" fill="#005ea6" stroke="#005ea6"/><path d="M457.1,116.7L461.4,114.9 459.1,112.1 454.7,113.8Z" fill="#0059a3" stroke="#0059a3"/><path d="M474.7,117.4L479.1,115.5 476.7,112.5 472.4,114.3Z" fill="#0056aa" stroke="#0056aa"/><path d="M463.7,117.9L468.0,116.1 465.7,113.1 461.4,114.9Z" fill="#0052a7" stroke="#0052a7"/><path d="M452.7,118.5L457.1,116.7 454.7,113.8 450.4,115.6Z" fill="#004da3" stroke="#004da3"/><path d="M470.4,119.2L474.7,117.4 472.4,114.3 468.0,116.1Z" fill="#0049aa" stroke="#0049aa"/><path d="M459.4,119.7L463.7,117.9 461.4,114.9 457.1,116.7Z" fill="#0046a7" stroke="#0046a7"/><path d="M466.0,121.0L470.4,119.2 468.0,116.1 463.7,117.9Z" fill="#003cab" stroke="#003cab"/><path d="M455.0,121.5L459.4,119.7 457.1,116.7 452.7,118.5Z" fill="#0039a7" stroke="#0039a7"/><path d="M461.7,122.8L466.0,121.0 463.7,117.9 459.4,119.7Z" fill="#002fab" stroke="#002fab"/><path d="M457.3,124.6L461.7,122.8 459.4,119.7 455.0,121.5Z" fill="#0023ab" stroke="#0023ab"/></g><line x1="449.20" y1="63.00" x2="449.20" y2="70.00" stroke="#555" stroke-width="0.6"/><line x1="557.00" y1="35.70" x2="557.00" y2="41.00" stroke="#555" stroke-width="0.6"/><ellipse cx="414.60" cy="85.30" rx="2.3" ry="1.6" fill="#ee1111" stroke="#7a2020" stroke-width="0.4"/><ellipse cx="449.20" cy="63.30" rx="2.3" ry="1.6" fill="#ee1111" stroke="#7a2020" stroke-width="0.4"/><ellipse cx="488.50" cy="58.00" rx="2.3" ry="1.6" fill="#ee1111" stroke="#7a2020" stroke-width="0.4"/><ellipse cx="557.00" cy="35.70" rx="2.3" ry="1.6" fill="#ee1111" stroke="#7a2020" stroke-width="0.4"/><ellipse cx="457.40" cy="121.40" rx="2.3" ry="1.6" fill="#ee1111" stroke="#7a2020" stroke-width="0.4"/><text x="326.40" y="20.71" font-size="11.50" textLength="13.60" lengthAdjust="spacingAndGlyphs" fill="#161616" stroke="#161616" stroke-width="0.22" font-weight="bold">(b)</text><text transform="translate(352.01,115.50) rotate(-90)" x="0" y="0" font-size="8.30" textLength="92.40" lengthAdjust="spacingAndGlyphs" fill="#161616" stroke="#161616" stroke-width="0.3" font-weight="bold">Polydispersity index</text><text x="363.00" y="24.22" font-size="7.40" textLength="10.40" lengthAdjust="spacingAndGlyphs" fill="#161616" stroke="#161616" stroke-width="0.22" font-weight="bold">0.8</text><text x="363.28" y="35.72" font-size="7.40" textLength="10.40" lengthAdjust="spacingAndGlyphs" fill="#161616" stroke="#161616" stroke-width="0.22" font-weight="bold">0.7</text><text x="363.56" y="46.72" font-size="7.40" textLength="10.40" lengthAdjust="spacingAndGlyphs" fill="#161616" stroke="#161616" stroke-width="0.22" font-weight="bold">0.6</text><text x="363.84" y="58.32" font-size="7.40" textLength="10.40" lengthAdjust="spacingAndGlyphs" fill="#161616" stroke="#161616" stroke-width="0.22" font-weight="bold">0.5</text><text x="364.12" y="69.22" font-size="7.40" textLength="10.40" lengthAdjust="spacingAndGlyphs" fill="#161616" stroke="#161616" stroke-width="0.22" font-weight="bold">0.4</text><text x="364.40" y="80.62" font-size="7.40" textLength="10.40" lengthAdjust="spacingAndGlyphs" fill="#161616" stroke="#161616" stroke-width="0.22" font-weight="bold">0.3</text><text x="364.68" y="91.02" font-size="7.40" textLength="10.40" lengthAdjust="spacingAndGlyphs" fill="#161616" stroke="#161616" stroke-width="0.22" font-weight="bold">0.2</text><text x="364.96" y="101.52" font-size="7.40" textLength="10.40" lengthAdjust="spacingAndGlyphs" fill="#161616" stroke="#161616" stroke-width="0.22" font-weight="bold">0.1</text><text x="365.80" y="129.42" font-size="7.40" textLength="13.00" lengthAdjust="spacingAndGlyphs" fill="#161616" stroke="#161616" stroke-width="0.22" font-weight="bold">1.00</text><text x="378.40" y="137.22" font-size="7.40" textLength="13.60" lengthAdjust="spacingAndGlyphs" fill="#161616" stroke="#161616" stroke-width="0.22" font-weight="bold">0.90</text><text x="392.20" y="145.42" font-size="7.40" textLength="14.30" lengthAdjust="spacingAndGlyphs" fill="#161616" stroke="#161616" stroke-width="0.22" font-weight="bold">0.80</text><text x="409.30" y="153.02" font-size="7.40" textLength="14.30" lengthAdjust="spacingAndGlyphs" fill="#161616" stroke="#161616" stroke-width="0.22" font-weight="bold">0.70</text><text x="424.70" y="159.42" font-size="7.40" textLength="14.20" lengthAdjust="spacingAndGlyphs" fill="#161616" stroke="#161616" stroke-width="0.22" font-weight="bold">0.60</text><text x="440.90" y="166.72" font-size="7.40" textLength="14.10" lengthAdjust="spacingAndGlyphs" fill="#161616" stroke="#161616" stroke-width="0.22" font-weight="bold">0.50</text><text x="462.20" y="166.92" font-size="7.40" textLength="13.60" lengthAdjust="spacingAndGlyphs" fill="#161616" stroke="#161616" stroke-width="0.22" font-weight="bold">1.00</text><text x="496.80" y="161.92" font-size="7.40" textLength="13.50" lengthAdjust="spacingAndGlyphs" fill="#161616" stroke="#161616" stroke-width="0.22" font-weight="bold">2.00</text><text x="532.90" y="156.02" font-size="7.40" textLength="14.10" lengthAdjust="spacingAndGlyphs" fill="#161616" stroke="#161616" stroke-width="0.22" font-weight="bold">3.00</text><text x="569.00" y="150.52" font-size="7.40" textLength="14.50" lengthAdjust="spacingAndGlyphs" fill="#161616" stroke="#161616" stroke-width="0.22" font-weight="bold">4.00</text><text x="601.70" y="146.52" font-size="7.40" textLength="14.70" lengthAdjust="spacingAndGlyphs" fill="#161616" stroke="#161616" stroke-width="0.22" font-weight="bold">5.00</text><text x="356.70" y="158.36" font-size="9.60" textLength="35.30" lengthAdjust="spacingAndGlyphs" fill="#161616" stroke="#161616" stroke-width="0.22" font-weight="bold">Lecithin</text><text x="548.40" y="168.26" font-size="9.60" textLength="19.80" lengthAdjust="spacingAndGlyphs" fill="#161616" stroke="#161616" stroke-width="0.22" font-weight="bold">Zein</text><polygon points="231.30,321.40 346.51,282.32 447.70,327.50 327.20,377.30" fill="#ffff00" stroke="#333" stroke-width="0.5"/><polyline points="240.40,325.90 302.70,310.40 322.00,305.60" stroke="#33dd55" stroke-width="0.8" fill="none"/><polyline points="266.40,341.50 280.00,337.80 290.20,336.90 300.00,336.50 308.90,337.30 313.50,339.80 314.10,341.80 312.50,345.00 310.00,347.70 303.00,352.00 296.50,356.00 292.30,357.80" stroke="#aaee44" stroke-width="0.8" fill="none"/><polyline points="324.10,371.50 351.10,360.10 373.90,348.70 394.60,336.30 409.10,324.90 417.40,317.60 421.00,315.00" stroke="#33dd33" stroke-width="0.8" fill="none"/><g stroke="#2a2a2a" stroke-width="0.75" fill="none"><polyline points="228.30,302.21 346.46,262.89 450.58,307.62" /><polyline points="226.90,292.89 346.43,253.99 451.90,298.51" /><polyline points="225.51,283.58 346.41,245.08 453.22,289.40" /><polyline points="224.12,274.26 346.38,236.17 454.55,280.29" /><polyline points="222.72,264.95 346.36,227.26 455.87,271.17" /><polyline points="221.33,255.64 346.34,218.35 457.19,262.06" /><polyline points="219.93,246.32 346.31,209.44 458.51,252.95" /><polyline points="218.54,237.01 346.29,200.53 459.83,243.83" /><line x1="257.84" y1="292.38" x2="250.48" y2="227.89"/><line x1="287.38" y1="282.55" x2="282.41" y2="218.77"/><line x1="316.92" y1="272.72" x2="314.35" y2="209.65"/><line x1="429.76" y1="298.68" x2="437.12" y2="235.17"/><line x1="408.93" y1="289.73" x2="414.41" y2="226.51"/><line x1="388.11" y1="280.79" x2="391.71" y2="217.85"/><line x1="367.28" y1="271.84" x2="369.00" y2="209.19"/><line x1="231.30" y1="321.40" x2="218.54" y2="237.01"/><line x1="346.51" y1="282.32" x2="346.29" y2="200.53"/><line x1="447.70" y1="327.50" x2="459.83" y2="243.83"/></g><ellipse cx="272.90" cy="293.00" rx="2.3" ry="1.6" fill="#f0a8a8" stroke="#7a2020" stroke-width="0.4"/><line x1="393.00" y1="310.60" x2="393.00" y2="324.50" stroke="#555" stroke-width="0.6"/><ellipse cx="393.00" cy="324.70" rx="2.3" ry="1.6" fill="#f0a8a8" stroke="#7a2020" stroke-width="0.4"/><g stroke-width="0.35"><path d="M346.0,254.2L349.5,253.1 346.4,253.4 342.9,254.4Z" fill="#000000" stroke="#000000"/><path d="M342.5,255.1L346.0,254.2 342.9,254.4 339.4,255.4Z" fill="#000000" stroke="#000000"/><path d="M338.9,256.1L342.5,255.1 339.4,255.4 335.9,256.3Z" fill="#000000" stroke="#000000"/><path d="M349.1,254.0L352.7,253.0 349.5,253.1 346.0,254.2Z" fill="#000000" stroke="#000000"/><path d="M345.6,255.0L349.1,254.0 346.0,254.2 342.5,255.1Z" fill="#000000" stroke="#000000"/><path d="M335.4,256.9L338.9,256.1 335.9,256.3 332.3,257.2Z" fill="#000000" stroke="#000000"/><path d="M352.2,253.9L355.8,252.9 352.7,253.0 349.1,254.0Z" fill="#000000" stroke="#000000"/><path d="M342.0,255.9L345.6,255.0 342.5,255.1 338.9,256.1Z" fill="#000000" stroke="#000000"/><path d="M331.9,257.7L335.4,256.9 332.3,257.2 328.8,257.9Z" fill="#000000" stroke="#000000"/><path d="M348.7,254.9L352.2,253.9 349.1,254.0 345.6,255.0Z" fill="#000000" stroke="#000000"/><path d="M338.5,256.7L342.0,255.9 338.9,256.1 335.4,256.9Z" fill="#000000" stroke="#000000"/><path d="M328.3,258.4L331.9,257.7 328.8,257.9 325.3,258.7Z" fill="#000000" stroke="#000000"/><path d="M355.4,253.9L358.9,252.9 355.8,252.9 352.2,253.9Z" fill="#000000" stroke="#000000"/><path d="M345.1,255.8L348.7,254.9 345.6,255.0 342.0,255.9Z" fill="#000000" stroke="#000000"/><path d="M334.9,257.5L338.5,256.7 335.4,256.9 331.9,257.7Z" fill="#000000" stroke="#000000"/><path d="M324.8,259.1L328.3,258.4 325.3,258.7 321.7,259.4Z" fill="#000000" stroke="#000000"/><path d="M351.8,254.9L355.4,253.9 352.2,253.9 348.7,254.9Z" fill="#000000" stroke="#000000"/><path d="M341.6,256.6L345.1,255.8 342.0,255.9 338.5,256.7Z" fill="#000000" stroke="#000000"/><path d="M331.4,258.3L334.9,257.5 331.9,257.7 328.3,258.4Z" fill="#000000" stroke="#000000"/><path d="M321.2,259.8L324.8,259.1 321.7,259.4 318.2,260.0Z" fill="#000000" stroke="#000000"/><path d="M358.5,254.0L362.1,252.9 358.9,252.9 355.4,253.9Z" fill="#000000" stroke="#000000"/><path d="M348.2,255.8L351.8,254.9 348.7,254.9 345.1,255.8Z" fill="#000000" stroke="#000000"/><path d="M338.0,257.4L341.6,256.6 338.5,256.7 334.9,257.5Z" fill="#000000" stroke="#000000"/><path d="M327.8,258.9L331.4,258.3 328.3,258.4 324.8,259.1Z" fill="#000000" stroke="#000000"/><path d="M317.6,260.4L321.2,259.8 318.2,260.0 314.6,260.7Z" fill="#000000" stroke="#000000"/><path d="M354.9,255.0L358.5,254.0 355.4,253.9 351.8,254.9Z" fill="#000000" stroke="#000000"/><path d="M344.7,256.6L348.2,255.8 345.1,255.8 341.6,256.6Z" fill="#000000" stroke="#000000"/><path d="M334.4,258.2L338.0,257.4 334.9,257.5 331.4,258.3Z" fill="#000000" stroke="#000000"/><path d="M324.2,259.6L327.8,258.9 324.8,259.1 321.2,259.8Z" fill="#000000" stroke="#000000"/><path d="M361.7,254.1L365.3,253.1 362.1,252.9 358.5,254.0Z" fill="#000000" stroke="#000000"/><path d="M351.4,255.9L354.9,255.0 351.8,254.9 348.2,255.8Z" fill="#000000" stroke="#000000"/><path d="M314.1,261.0L317.6,260.4 314.6,260.7 311.1,261.3Z" fill="#000000" stroke="#000000"/><path d="M341.1,257.4L344.7,256.6 341.6,256.6 338.0,257.4Z" fill="#000000" stroke="#000000"/><path d="M330.9,258.9L334.4,258.2 331.4,258.3 327.8,258.9Z" fill="#000000" stroke="#000000"/><path d="M358.1,255.1L361.7,254.1 358.5,254.0 354.9,255.0Z" fill="#000000" stroke="#000000"/><path d="M320.7,260.2L324.2,259.6 321.2,259.8 317.6,260.4Z" fill="#000000" stroke="#000000"/><path d="M347.8,256.7L351.4,255.9 348.2,255.8 344.7,256.6Z" fill="#000000" stroke="#000000"/><path d="M310.5,261.6L314.1,261.0 311.1,261.3 307.5,261.8Z" fill="#000000" stroke="#000000"/><path d="M337.5,258.2L341.1,257.4 338.0,257.4 334.4,258.2Z" fill="#000000" stroke="#000000"/><path d="M364.8,254.4L368.4,253.3 365.3,253.1 361.7,254.1Z" fill="#000000" stroke="#000000"/><path d="M327.3,259.5L330.9,258.9 327.8,258.9 324.2,259.6Z" fill="#000000" stroke="#000000"/><path d="M354.5,256.1L358.1,255.1 354.9,255.0 351.4,255.9Z" fill="#000000" stroke="#000000"/><path d="M317.1,260.8L320.7,260.2 317.6,260.4 314.1,261.0Z" fill="#000000" stroke="#000000"/><path d="M344.2,257.5L347.8,256.7 344.7,256.6 341.1,257.4Z" fill="#000000" stroke="#000000"/><path d="M306.9,262.1L310.5,261.6 307.5,261.8 303.9,262.4Z" fill="#000000" stroke="#000000"/><path d="M334.0,258.9L337.5,258.2 334.4,258.2 330.9,258.9Z" fill="#000000" stroke="#000000"/><path d="M361.2,255.4L364.8,254.4 361.7,254.1 358.1,255.1Z" fill="#000000" stroke="#000000"/><path d="M350.9,256.9L354.5,256.1 351.4,255.9 347.8,256.7Z" fill="#000000" stroke="#000000"/><path d="M323.7,260.1L327.3,259.5 324.2,259.6 320.7,260.2Z" fill="#000000" stroke="#000000"/><path d="M340.6,258.3L344.2,257.5 341.1,257.4 337.5,258.2Z" fill="#000000" stroke="#000000"/><path d="M313.5,261.4L317.1,260.8 314.1,261.0 310.5,261.6Z" fill="#000000" stroke="#000000"/><path d="M368.0,254.7L371.6,253.6 368.4,253.3 364.8,254.4Z" fill="#000000" stroke="#000000"/><path d="M357.7,256.3L361.2,255.4 358.1,255.1 354.5,256.1Z" fill="#000000" stroke="#000000"/><path d="M330.4,259.5L334.0,258.9 330.9,258.9 327.3,259.5Z" fill="#000000" stroke="#000000"/><path d="M303.3,262.6L306.9,262.1 303.9,262.4 300.4,262.9Z" fill="#000000" stroke="#000000"/><path d="M347.3,257.7L350.9,256.9 347.8,256.7 344.2,257.5Z" fill="#000000" stroke="#000000"/><path d="M320.1,260.7L323.7,260.1 320.7,260.2 317.1,260.8Z" fill="#000000" stroke="#000000"/><path d="M364.4,255.7L368.0,254.7 364.8,254.4 361.2,255.4Z" fill="#000000" stroke="#000000"/><path d="M337.0,259.0L340.6,258.3 337.5,258.2 334.0,258.9Z" fill="#000000" stroke="#000000"/><path d="M309.9,261.9L313.5,261.4 310.5,261.6 306.9,262.1Z" fill="#000000" stroke="#000000"/><path d="M354.1,257.2L357.7,256.3 354.5,256.1 350.9,256.9Z" fill="#000000" stroke="#000000"/><path d="M326.8,260.2L330.4,259.5 327.3,259.5 323.7,260.1Z" fill="#000000" stroke="#000000"/><path d="M299.7,263.2L303.3,262.6 300.4,262.9 296.8,263.4Z" fill="#000000" stroke="#000000"/><path d="M371.2,255.1L374.8,254.0 371.6,253.6 368.0,254.7Z" fill="#000000" stroke="#000000"/><path d="M343.7,258.5L347.3,257.7 344.2,257.5 340.6,258.3Z" fill="#000000" stroke="#000000"/><path d="M316.5,261.3L320.1,260.7 317.1,260.8 313.5,261.4Z" fill="#000000" stroke="#000000"/><path d="M360.8,256.7L364.4,255.7 361.2,255.4 357.7,256.3Z" fill="#000000" stroke="#000000"/><path d="M333.5,259.6L337.0,259.0 334.0,258.9 330.4,259.5Z" fill="#000000" stroke="#000000"/><path d="M306.3,262.4L309.9,261.9 306.9,262.1 303.3,262.6Z" fill="#000000" stroke="#000000"/><path d="M350.5,258.0L354.1,257.2 350.9,256.9 347.3,257.7Z" fill="#000000" stroke="#000000"/><path d="M367.6,256.1L371.2,255.1 368.0,254.7 364.4,255.7Z" fill="#000000" stroke="#000000"/><path d="M323.2,260.7L326.8,260.2 323.7,260.1 320.1,260.7Z" fill="#000000" stroke="#000000"/><path d="M296.1,263.7L299.7,263.2 296.8,263.4 293.2,264.0Z" fill="#000000" stroke="#000000"/><path d="M340.1,259.2L343.7,258.5 340.6,258.3 337.0,259.0Z" fill="#000000" stroke="#000000"/><path d="M357.2,257.5L360.8,256.7 357.7,256.3 354.1,257.2Z" fill="#000000" stroke="#000000"/><path d="M312.9,261.8L316.5,261.3 313.5,261.4 309.9,261.9Z" fill="#000000" stroke="#000000"/><path d="M374.4,255.6L378.0,254.5 374.8,254.0 371.2,255.1Z" fill="#000200" stroke="#000200"/><path d="M329.9,260.3L333.5,259.6 330.4,259.5 326.8,260.2Z" fill="#000000" stroke="#000000"/><path d="M346.9,258.8L350.5,258.0 347.3,257.7 343.7,258.5Z" fill="#000000" stroke="#000000"/><path d="M302.7,263.0L306.3,262.4 303.3,262.6 299.7,263.2Z" fill="#000000" stroke="#000000"/><path d="M364.0,257.1L367.6,256.1 364.4,255.7 360.8,256.7Z" fill="#000000" stroke="#000000"/><path d="M319.6,261.3L323.2,260.7 320.1,260.7 316.5,261.3Z" fill="#000000" stroke="#000000"/><path d="M292.5,264.2L296.1,263.7 293.2,264.0 289.6,264.5Z" fill="#000000" stroke="#000000"/><path d="M336.5,259.9L340.1,259.2 337.0,259.0 333.5,259.6Z" fill="#000000" stroke="#000000"/><path d="M353.6,258.4L357.2,257.5 354.1,257.2 350.5,258.0Z" fill="#000000" stroke="#000000"/><path d="M370.7,256.6L374.4,255.6 371.2,255.1 367.6,256.1Z" fill="#000100" stroke="#000100"/><path d="M309.3,262.4L312.9,261.8 309.9,261.9 306.3,262.4Z" fill="#000000" stroke="#000000"/><path d="M326.2,260.9L329.9,260.3 326.8,260.2 323.2,260.7Z" fill="#000000" stroke="#000000"/><path d="M343.3,259.5L346.9,258.8 343.7,258.5 340.1,259.2Z" fill="#000000" stroke="#000000"/><path d="M360.4,258.0L364.0,257.1 360.8,256.7 357.2,257.5Z" fill="#000000" stroke="#000000"/><path d="M299.1,263.5L302.7,263.0 299.7,263.2 296.1,263.7Z" fill="#000000" stroke="#000000"/><path d="M377.5,256.2L381.2,255.1 378.0,254.5 374.4,255.6Z" fill="#000400" stroke="#000400"/><path d="M316.0,261.8L319.6,261.3 316.5,261.3 312.9,261.8Z" fill="#000000" stroke="#000000"/><path d="M288.9,264.7L292.5,264.2 289.6,264.5 286.0,265.0Z" fill="#000000" stroke="#000000"/><path d="M332.9,260.5L336.5,259.9 333.5,259.6 329.9,260.3Z" fill="#000000" stroke="#000000"/><path d="M350.0,259.1L353.6,258.4 350.5,258.0 346.9,258.8Z" fill="#000000" stroke="#000000"/><path d="M367.1,257.6L370.7,256.6 367.6,256.1 364.0,257.1Z" fill="#000000" stroke="#000000"/><path d="M305.7,262.9L309.3,262.4 306.3,262.4 302.7,263.0Z" fill="#000000" stroke="#000000"/><path d="M322.6,261.4L326.2,260.9 323.2,260.7 319.6,261.3Z" fill="#000000" stroke="#000000"/><path d="M356.7,258.8L360.4,258.0 357.2,257.5 353.6,258.4Z" fill="#000000" stroke="#000000"/><path d="M339.6,260.1L343.3,259.5 340.1,259.2 336.5,259.9Z" fill="#000000" stroke="#000000"/><path d="M373.9,257.2L377.5,256.2 374.4,255.6 370.7,256.6Z" fill="#000300" stroke="#000300"/><path d="M295.5,264.0L299.1,263.5 296.1,263.7 292.5,264.2Z" fill="#000000" stroke="#000000"/><path d="M363.5,258.5L367.1,257.6 364.0,257.1 360.4,258.0Z" fill="#000000" stroke="#000000"/><path d="M312.4,262.4L316.0,261.8 312.9,261.8 309.3,262.4Z" fill="#000000" stroke="#000000"/><path d="M346.4,259.9L350.0,259.1 346.9,258.8 343.3,259.5Z" fill="#000000" stroke="#000000"/><path d="M329.3,261.1L332.9,260.5 329.9,260.3 326.2,260.9Z" fill="#000000" stroke="#000000"/><path d="M285.3,265.3L288.9,264.7 286.0,265.0 282.4,265.6Z" fill="#000000" stroke="#000000"/><path d="M380.7,256.9L384.4,255.7 381.2,255.1 377.5,256.2Z" fill="#000800" stroke="#000800"/><path d="M302.1,263.4L305.7,262.9 302.7,263.0 299.1,263.5Z" fill="#000000" stroke="#000000"/><path d="M370.3,258.2L373.9,257.2 370.7,256.6 367.1,257.6Z" fill="#000200" stroke="#000200"/><path d="M353.1,259.6L356.7,258.8 353.6,258.4 350.0,259.1Z" fill="#000000" stroke="#000000"/><path d="M336.0,260.8L339.6,260.1 336.5,259.9 332.9,260.5Z" fill="#000000" stroke="#000000"/><path d="M319.0,262.0L322.6,261.4 319.6,261.3 316.0,261.8Z" fill="#000000" stroke="#000000"/><path d="M291.9,264.5L295.5,264.0 292.5,264.2 288.9,264.7Z" fill="#000000" stroke="#000000"/><path d="M377.1,257.9L380.7,256.9 377.5,256.2 373.9,257.2Z" fill="#000600" stroke="#000600"/><path d="M359.9,259.4L363.5,258.5 360.4,258.0 356.7,258.8Z" fill="#000000" stroke="#000000"/><path d="M342.8,260.5L346.4,259.9 343.3,259.5 339.6,260.1Z" fill="#000000" stroke="#000000"/><path d="M308.7,262.9L312.4,262.4 309.3,262.4 305.7,262.9Z" fill="#000000" stroke="#000000"/><path d="M281.7,265.8L285.3,265.3 282.4,265.6 278.8,266.1Z" fill="#000000" stroke="#000000"/><path d="M325.7,261.6L329.3,261.1 326.2,260.9 322.6,261.4Z" fill="#000000" stroke="#000000"/><path d="M366.7,259.1L370.3,258.2 367.1,257.6 363.5,258.5Z" fill="#000100" stroke="#000100"/><path d="M383.9,257.6L387.6,256.4 384.4,255.7 380.7,256.9Z" fill="#000d00" stroke="#000d00"/><path d="M349.5,260.3L353.1,259.6 350.0,259.1 346.4,259.9Z" fill="#000000" stroke="#000000"/><path d="M298.5,263.9L302.1,263.4 299.1,263.5 295.5,264.0Z" fill="#000000" stroke="#000000"/><path d="M332.4,261.4L336.0,260.8 332.9,260.5 329.3,261.1Z" fill="#000000" stroke="#000000"/><path d="M315.4,262.5L319.0,262.0 316.0,261.8 312.4,262.4Z" fill="#000000" stroke="#000000"/><path d="M373.5,258.9L377.1,257.9 373.9,257.2 370.3,258.2Z" fill="#000400" stroke="#000400"/><path d="M288.3,265.0L291.9,264.5 288.9,264.7 285.3,265.3Z" fill="#000000" stroke="#000000"/><path d="M356.3,260.2L359.9,259.4 356.7,258.8 353.1,259.6Z" fill="#000000" stroke="#000000"/><path d="M339.1,261.2L342.8,260.5 339.6,260.1 336.0,260.8Z" fill="#000000" stroke="#000000"/><path d="M278.1,266.4L281.7,265.8 278.8,266.1 275.2,266.7Z" fill="#000000" stroke="#000000"/><path d="M305.1,263.4L308.7,262.9 305.7,262.9 302.1,263.4Z" fill="#000000" stroke="#000000"/><path d="M322.1,262.2L325.7,261.6 322.6,261.4 319.0,262.0Z" fill="#000000" stroke="#000000"/><path d="M380.3,258.7L383.9,257.6 380.7,256.9 377.1,257.9Z" fill="#000a00" stroke="#000a00"/><path d="M363.0,260.0L366.7,259.1 363.5,258.5 359.9,259.4Z" fill="#000000" stroke="#000000"/><path d="M345.9,261.0L349.5,260.3 346.4,259.9 342.8,260.5Z" fill="#000000" stroke="#000000"/><path d="M294.9,264.4L298.5,263.9 295.5,264.0 291.9,264.5Z" fill="#000000" stroke="#000000"/><path d="M387.1,258.4L390.7,257.2 387.6,256.4 383.9,257.6Z" fill="#001200" stroke="#001200"/><path d="M328.8,261.9L332.4,261.4 329.3,261.1 325.7,261.6Z" fill="#000000" stroke="#000000"/><path d="M369.8,259.9L373.5,258.9 370.3,258.2 366.7,259.1Z" fill="#000300" stroke="#000300"/><path d="M311.8,263.0L315.4,262.5 312.4,262.4 308.7,262.9Z" fill="#000000" stroke="#000000"/><path d="M352.6,260.9L356.3,260.2 353.1,259.6 349.5,260.3Z" fill="#000000" stroke="#000000"/><path d="M284.6,265.6L288.3,265.0 285.3,265.3 281.7,265.8Z" fill="#000000" stroke="#000000"/><path d="M376.6,259.7L380.3,258.7 377.1,257.9 373.5,258.9Z" fill="#000800" stroke="#000800"/><path d="M335.5,261.8L339.1,261.2 336.0,260.8 332.4,261.4Z" fill="#000000" stroke="#000000"/><path d="M274.5,267.0L278.1,266.4 275.2,266.7 271.6,267.3Z" fill="#000000" stroke="#000000"/><path d="M301.5,263.9L305.1,263.4 302.1,263.4 298.5,263.9Z" fill="#000000" stroke="#000000"/><path d="M318.5,262.7L322.1,262.2 319.0,262.0 315.4,262.5Z" fill="#000000" stroke="#000000"/><path d="M359.4,260.8L363.0,260.0 359.9,259.4 356.3,260.2Z" fill="#000000" stroke="#000000"/><path d="M383.5,259.5L387.1,258.4 383.9,257.6 380.3,258.7Z" fill="#001000" stroke="#001000"/><path d="M342.3,261.7L345.9,261.0 342.8,260.5 339.1,261.2Z" fill="#000000" stroke="#000000"/><path d="M366.2,260.7L369.8,259.9 366.7,259.1 363.0,260.0Z" fill="#000200" stroke="#000200"/><path d="M291.2,264.9L294.9,264.4 291.9,264.5 288.3,265.0Z" fill="#000000" stroke="#000000"/><path d="M325.2,262.5L328.8,261.9 325.7,261.6 322.1,262.2Z" fill="#000000" stroke="#000000"/><path d="M308.1,263.5L311.8,263.0 308.7,262.9 305.1,263.4Z" fill="#000000" stroke="#000000"/><path d="M390.3,259.3L393.9,258.1 390.7,257.2 387.1,258.4Z" fill="#011900" stroke="#011900"/><path d="M349.0,261.6L352.6,260.9 349.5,260.3 345.9,261.0Z" fill="#000000" stroke="#000000"/><path d="M281.0,266.1L284.6,265.6 281.7,265.8 278.1,266.4Z" fill="#000000" stroke="#000000"/><path d="M373.0,260.6L376.6,259.7 373.5,258.9 369.8,259.9Z" fill="#000700" stroke="#000700"/><path d="M331.9,262.3L335.5,261.8 332.4,261.4 328.8,261.9Z" fill="#000000" stroke="#000000"/><path d="M270.8,267.6L274.5,267.0 271.6,267.3 268.0,268.0Z" fill="#000000" stroke="#000000"/><path d="M355.8,261.6L359.4,260.8 356.3,260.2 352.6,260.9Z" fill="#000000" stroke="#000000"/><path d="M297.8,264.4L301.5,263.9 298.5,263.9 294.9,264.4Z" fill="#000000" stroke="#000000"/><path d="M314.8,263.2L318.5,262.7 315.4,262.5 311.8,263.0Z" fill="#000000" stroke="#000000"/><path d="M379.8,260.6L383.5,259.5 380.3,258.7 376.6,259.7Z" fill="#000d00" stroke="#000d00"/><path d="M338.6,262.3L342.3,261.7 339.1,261.2 335.5,261.8Z" fill="#000000" stroke="#000000"/><path d="M362.6,261.5L366.2,260.7 363.0,260.0 359.4,260.8Z" fill="#000100" stroke="#000100"/><path d="M386.6,260.5L390.3,259.3 387.1,258.4 383.5,259.5Z" fill="#011600" stroke="#011600"/><path d="M287.6,265.5L291.2,264.9 288.3,265.0 284.6,265.6Z" fill="#000000" stroke="#000000"/><path d="M321.5,263.0L325.2,262.5 322.1,262.2 318.5,262.7Z" fill="#000000" stroke="#000000"/><path d="M304.5,264.0L308.1,263.5 305.1,263.4 301.5,263.9Z" fill="#000000" stroke="#000000"/><path d="M369.4,261.5L373.0,260.6 369.8,259.9 366.2,260.7Z" fill="#000500" stroke="#000500"/><path d="M345.4,262.2L349.0,261.6 345.9,261.0 342.3,261.7Z" fill="#000000" stroke="#000000"/><path d="M277.4,266.7L281.0,266.1 278.1,266.4 274.5,267.0Z" fill="#000000" stroke="#000000"/><path d="M393.5,260.3L397.1,259.1 393.9,258.1 390.3,259.3Z" fill="#022100" stroke="#022100"/><path d="M267.2,268.3L270.8,267.6 268.0,268.0 264.4,268.7Z" fill="#000000" stroke="#000000"/><path d="M376.2,261.5L379.8,260.6 376.6,259.7 373.0,260.6Z" fill="#010b00" stroke="#010b00"/><path d="M328.2,262.9L331.9,262.3 328.8,261.9 325.2,262.5Z" fill="#000000" stroke="#000000"/><path d="M352.2,262.3L355.8,261.6 352.6,260.9 349.0,261.6Z" fill="#000000" stroke="#000000"/><path d="M294.2,264.9L297.8,264.4 294.9,264.4 291.2,264.9Z" fill="#000000" stroke="#000000"/><path d="M311.2,263.7L314.8,263.2 311.8,263.0 308.1,263.5Z" fill="#000000" stroke="#000000"/><path d="M383.0,261.5L386.6,260.5 383.5,259.5 379.8,260.6Z" fill="#011300" stroke="#011300"/><path d="M358.9,262.3L362.6,261.5 359.4,260.8 355.8,261.6Z" fill="#000100" stroke="#000100"/><path d="M335.0,262.8L338.6,262.3 335.5,261.8 331.9,262.3Z" fill="#000000" stroke="#000000"/><path d="M283.9,266.0L287.6,265.5 284.6,265.6 281.0,266.1Z" fill="#000000" stroke="#000000"/><path d="M389.8,261.5L393.5,260.3 390.3,259.3 386.6,260.5Z" fill="#021e00" stroke="#021e00"/><path d="M365.7,262.4L369.4,261.5 366.2,260.7 362.6,261.5Z" fill="#000400" stroke="#000400"/><path d="M317.9,263.5L321.5,263.0 318.5,262.7 314.8,263.2Z" fill="#000000" stroke="#000000"/><path d="M341.7,262.9L345.4,262.2 342.3,261.7 338.6,262.3Z" fill="#000000" stroke="#000000"/><path d="M300.8,264.5L304.5,264.0 301.5,263.9 297.8,264.4Z" fill="#000000" stroke="#000000"/><path d="M273.7,267.4L277.4,266.7 274.5,267.0 270.8,267.6Z" fill="#000000" stroke="#000000"/><path d="M263.6,269.0L267.2,268.3 264.4,268.7 260.8,269.4Z" fill="#000000" stroke="#000000"/><path d="M372.5,262.4L376.2,261.5 373.0,260.6 369.4,261.5Z" fill="#010900" stroke="#010900"/><path d="M396.7,261.4L400.3,260.2 397.1,259.1 393.5,260.3Z" fill="#032a00" stroke="#032a00"/><path d="M348.5,262.9L352.2,262.3 349.0,261.6 345.4,262.2Z" fill="#000000" stroke="#000000"/><path d="M324.6,263.4L328.2,262.9 325.2,262.5 321.5,263.0Z" fill="#000000" stroke="#000000"/><path d="M379.3,262.5L383.0,261.5 379.8,260.6 376.2,261.5Z" fill="#011100" stroke="#011100"/><path d="M290.5,265.5L294.2,264.9 291.2,264.9 287.6,265.5Z" fill="#000000" stroke="#000000"/><path d="M307.5,264.2L311.2,263.7 308.1,263.5 304.5,264.0Z" fill="#000000" stroke="#000000"/><path d="M355.3,263.0L358.9,262.3 355.8,261.6 352.2,262.3Z" fill="#000000" stroke="#000000"/><path d="M331.3,263.4L335.0,262.8 331.9,262.3 328.2,262.9Z" fill="#000000" stroke="#000000"/><path d="M386.2,262.6L389.8,261.5 386.6,260.5 383.0,261.5Z" fill="#021b00" stroke="#021b00"/><path d="M280.3,266.6L283.9,266.0 281.0,266.1 277.4,266.7Z" fill="#000000" stroke="#000000"/><path d="M362.1,263.1L365.7,262.4 362.6,261.5 358.9,262.3Z" fill="#000300" stroke="#000300"/><path d="M314.2,264.0L317.9,263.5 314.8,263.2 311.2,263.7Z" fill="#000000" stroke="#000000"/><path d="M393.0,262.6L396.7,261.4 393.5,260.3 389.8,261.5Z" fill="#032600" stroke="#032600"/><path d="M270.1,268.0L273.7,267.4 270.8,267.6 267.2,268.3Z" fill="#000000" stroke="#000000"/><path d="M338.1,263.4L341.7,262.9 338.6,262.3 335.0,262.8Z" fill="#000000" stroke="#000000"/><path d="M297.2,265.0L300.8,264.5 297.8,264.4 294.2,264.9Z" fill="#000000" stroke="#000000"/><path d="M260.0,269.8L263.6,269.0 260.8,269.4 257.2,270.2Z" fill="#000000" stroke="#000000"/><path d="M368.9,263.3L372.5,262.4 369.4,261.5 365.7,262.4Z" fill="#010800" stroke="#010800"/><path d="M399.8,262.6L403.5,261.3 400.3,260.2 396.7,261.4Z" fill="#043000" stroke="#043000"/><path d="M344.9,263.5L348.5,262.9 345.4,262.2 341.7,262.9Z" fill="#000000" stroke="#000000"/><path d="M375.7,263.4L379.3,262.5 376.2,261.5 372.5,262.4Z" fill="#010f00" stroke="#010f00"/><path d="M320.9,263.9L324.6,263.4 321.5,263.0 317.9,263.5Z" fill="#000000" stroke="#000000"/><path d="M286.9,266.0L290.5,265.5 287.6,265.5 283.9,266.0Z" fill="#000000" stroke="#000000"/><path d="M303.9,264.7L307.5,264.2 304.5,264.0 300.8,264.5Z" fill="#000000" stroke="#000000"/><path d="M382.5,263.6L386.2,262.6 383.0,261.5 379.3,262.5Z" fill="#021800" stroke="#021800"/><path d="M351.6,263.7L355.3,263.0 352.2,262.3 348.5,262.9Z" fill="#000000" stroke="#000000"/><path d="M327.7,263.9L331.3,263.4 328.2,262.9 324.6,263.4Z" fill="#000000" stroke="#000000"/><path d="M276.6,267.2L280.3,266.6 277.4,266.7 273.7,267.4Z" fill="#000000" stroke="#000000"/><path d="M389.3,263.7L393.0,262.6 389.8,261.5 386.2,262.6Z" fill="#032300" stroke="#032300"/><path d="M358.4,263.9L362.1,263.1 358.9,262.3 355.3,263.0Z" fill="#000200" stroke="#000200"/><path d="M266.5,268.7L270.1,268.0 267.2,268.3 263.6,269.0Z" fill="#000000" stroke="#000000"/><path d="M256.4,270.6L260.0,269.8 257.2,270.2 253.5,271.0Z" fill="#000000" stroke="#000000"/><path d="M310.6,264.5L314.2,264.0 311.2,263.7 307.5,264.2Z" fill="#000000" stroke="#000000"/><path d="M396.2,263.8L399.8,262.6 396.7,261.4 393.0,262.6Z" fill="#032d00" stroke="#032d00"/><path d="M365.2,264.1L368.9,263.3 365.7,262.4 362.1,263.1Z" fill="#010700" stroke="#010700"/><path d="M334.4,264.0L338.1,263.4 335.0,262.8 331.3,263.4Z" fill="#000000" stroke="#000000"/><path d="M293.5,265.6L297.2,265.0 294.2,264.9 290.5,265.5Z" fill="#000000" stroke="#000000"/><path d="M372.0,264.3L375.7,263.4 372.5,262.4 368.9,263.3Z" fill="#010d00" stroke="#010d00"/><path d="M403.0,263.9L406.7,262.6 403.5,261.3 399.8,262.6Z" fill="#043500" stroke="#043500"/><path d="M341.2,264.1L344.9,263.5 341.7,262.9 338.1,263.4Z" fill="#000000" stroke="#000000"/><path d="M317.3,264.4L320.9,263.9 317.9,263.5 314.2,264.0Z" fill="#000000" stroke="#000000"/><path d="M378.9,264.5L382.5,263.6 379.3,262.5 375.7,263.4Z" fill="#021500" stroke="#021500"/><path d="M283.2,266.6L286.9,266.0 283.9,266.0 280.3,266.6Z" fill="#000000" stroke="#000000"/><path d="M348.0,264.3L351.6,263.7 348.5,262.9 344.9,263.5Z" fill="#000000" stroke="#000000"/><path d="M300.2,265.2L303.9,264.7 300.8,264.5 297.2,265.0Z" fill="#000000" stroke="#000000"/><path d="M385.7,264.7L389.3,263.7 386.2,262.6 382.5,263.6Z" fill="#032000" stroke="#032000"/><path d="M273.0,267.9L276.6,267.2 273.7,267.4 270.1,268.0Z" fill="#000000" stroke="#000000"/><path d="M324.0,264.5L327.7,263.9 324.6,263.4 320.9,263.9Z" fill="#000000" stroke="#000000"/><path d="M354.8,264.6L358.4,263.9 355.3,263.0 351.6,263.7Z" fill="#000200" stroke="#000200"/><path d="M252.7,271.4L256.4,270.6 253.5,271.0 249.9,271.9Z" fill="#000000" stroke="#000000"/><path d="M392.5,264.9L396.2,263.8 393.0,262.6 389.3,263.7Z" fill="#042b00" stroke="#042b00"/><path d="M262.8,269.5L266.5,268.7 263.6,269.0 260.0,269.8Z" fill="#000000" stroke="#000000"/><path d="M361.6,264.8L365.2,264.1 362.1,263.1 358.4,263.9Z" fill="#010600" stroke="#010600"/><path d="M399.3,265.1L403.0,263.9 399.8,262.6 396.2,263.8Z" fill="#043300" stroke="#043300"/><path d="M306.9,265.0L310.6,264.5 307.5,264.2 303.9,264.7Z" fill="#000000" stroke="#000000"/><path d="M289.9,266.1L293.5,265.6 290.5,265.5 286.9,266.0Z" fill="#000000" stroke="#000000"/><path d="M330.8,264.5L334.4,264.0 331.3,263.4 327.7,263.9Z" fill="#000000" stroke="#000000"/><path d="M368.4,265.1L372.0,264.3 368.9,263.3 365.2,264.1Z" fill="#010c00" stroke="#010c00"/><path d="M406.2,265.2L409.9,263.9 406.7,262.6 403.0,263.9Z" fill="#053a00" stroke="#053a00"/><path d="M375.2,265.4L378.9,264.5 375.7,263.4 372.0,264.3Z" fill="#021300" stroke="#021300"/><path d="M337.6,264.7L341.2,264.1 338.1,263.4 334.4,264.0Z" fill="#000000" stroke="#000000"/><path d="M279.6,267.2L283.2,266.6 280.3,266.6 276.6,267.2Z" fill="#000000" stroke="#000000"/><path d="M313.6,265.0L317.3,264.4 314.2,264.0 310.6,264.5Z" fill="#000000" stroke="#000000"/><path d="M382.0,265.7L385.7,264.7 382.5,263.6 378.9,264.5Z" fill="#031d00" stroke="#031d00"/><path d="M344.3,264.9L348.0,264.3 344.9,263.5 341.2,264.1Z" fill="#000000" stroke="#000000"/><path d="M296.5,265.8L300.2,265.2 297.2,265.0 293.5,265.6Z" fill="#000000" stroke="#000000"/><path d="M249.1,272.4L252.7,271.4 249.9,271.9 246.4,272.8Z" fill="#000000" stroke="#000000"/><path d="M388.8,266.0L392.5,264.9 389.3,263.7 385.7,264.7Z" fill="#042900" stroke="#042900"/><path d="M269.3,268.6L273.0,267.9 270.1,268.0 266.5,268.7Z" fill="#000000" stroke="#000000"/><path d="M259.2,270.3L262.8,269.5 260.0,269.8 256.4,270.6Z" fill="#000000" stroke="#000000"/><path d="M351.1,265.2L354.8,264.6 351.6,263.7 348.0,264.3Z" fill="#000100" stroke="#000100"/><path d="M320.4,265.0L324.0,264.5 320.9,263.9 317.3,264.4Z" fill="#000000" stroke="#000000"/><path d="M395.7,266.2L399.3,265.1 396.2,263.8 392.5,264.9Z" fill="#043100" stroke="#043100"/><path d="M357.9,265.5L361.6,264.8 358.4,263.9 354.8,264.6Z" fill="#010500" stroke="#010500"/><path d="M402.5,266.4L406.2,265.2 403.0,263.9 399.3,265.1Z" fill="#053800" stroke="#053800"/><path d="M286.2,266.7L289.9,266.1 286.9,266.0 283.2,266.6Z" fill="#000000" stroke="#000000"/><path d="M303.2,265.5L306.9,265.0 303.9,264.7 300.2,265.2Z" fill="#000000" stroke="#000000"/><path d="M327.1,265.1L330.8,264.5 327.7,263.9 324.0,264.5Z" fill="#000000" stroke="#000000"/><path d="M364.7,265.9L368.4,265.1 365.2,264.1 361.6,264.8Z" fill="#010a00" stroke="#010a00"/><path d="M409.3,266.6L413.0,265.3 409.9,263.9 406.2,265.2Z" fill="#053f00" stroke="#053f00"/><path d="M371.5,266.2L375.2,265.4 372.0,264.3 368.4,265.1Z" fill="#021200" stroke="#021200"/><path d="M333.9,265.3L337.6,264.7 334.4,264.0 330.8,264.5Z" fill="#000000" stroke="#000000"/><path d="M378.4,266.6L382.0,265.7 378.9,264.5 375.2,265.4Z" fill="#031b00" stroke="#031b00"/><path d="M275.9,267.8L279.6,267.2 276.6,267.2 273.0,267.9Z" fill="#000000" stroke="#000000"/><path d="M245.5,273.4L249.1,272.4 246.4,272.8 242.8,273.9Z" fill="#000000" stroke="#000000"/><path d="M310.0,265.5L313.6,265.0 310.6,264.5 306.9,265.0Z" fill="#000000" stroke="#000000"/><path d="M385.2,266.9L388.8,266.0 385.7,264.7 382.0,265.7Z" fill="#042600" stroke="#042600"/><path d="M340.7,265.5L344.3,264.9 341.2,264.1 337.6,264.7Z" fill="#000000" stroke="#000000"/><path d="M265.7,269.3L269.3,268.6 266.5,268.7 262.8,269.5Z" fill="#000000" stroke="#000000"/><path d="M255.6,271.1L259.2,270.3 256.4,270.6 252.7,271.4Z" fill="#000000" stroke="#000000"/><path d="M292.9,266.3L296.5,265.8 293.5,265.6 289.9,266.1Z" fill="#000000" stroke="#000000"/><path d="M392.0,267.3L395.7,266.2 392.5,264.9 388.8,266.0Z" fill="#042f00" stroke="#042f00"/><path d="M398.8,267.6L402.5,266.4 399.3,265.1 395.7,266.2Z" fill="#053600" stroke="#053600"/><path d="M347.5,265.8L351.1,265.2 348.0,264.3 344.3,264.9Z" fill="#000100" stroke="#000100"/><path d="M316.7,265.5L320.4,265.0 317.3,264.4 313.6,265.0Z" fill="#000000" stroke="#000000"/><path d="M405.6,267.9L409.3,266.6 406.2,265.2 402.5,266.4Z" fill="#053d00" stroke="#053d00"/><path d="M354.3,266.2L357.9,265.5 354.8,264.6 351.1,265.2Z" fill="#010400" stroke="#010400"/><path d="M412.5,268.1L416.2,266.8 413.0,265.3 409.3,266.6Z" fill="#054400" stroke="#054400"/><path d="M282.5,267.3L286.2,266.7 283.2,266.6 279.6,267.2Z" fill="#000000" stroke="#000000"/><path d="M361.1,266.6L364.7,265.9 361.6,264.8 357.9,265.5Z" fill="#010900" stroke="#010900"/><path d="M299.6,266.1L303.2,265.5 300.2,265.2 296.5,265.8Z" fill="#000000" stroke="#000000"/><path d="M323.5,265.6L327.1,265.1 324.0,264.5 320.4,265.0Z" fill="#000000" stroke="#000000"/><path d="M241.9,274.5L245.5,273.4 242.8,273.9 239.2,275.0Z" fill="#000000" stroke="#000000"/><path d="M367.9,267.0L371.5,266.2 368.4,265.1 364.7,265.9Z" fill="#021000" stroke="#021000"/><path d="M374.7,267.4L378.4,266.6 375.2,265.4 371.5,266.2Z" fill="#031900" stroke="#031900"/><path d="M272.3,268.5L275.9,267.8 273.0,267.9 269.3,268.6Z" fill="#000000" stroke="#000000"/><path d="M381.5,267.9L385.2,266.9 382.0,265.7 378.4,266.6Z" fill="#042400" stroke="#042400"/><path d="M330.2,265.8L333.9,265.3 330.8,264.5 327.1,265.1Z" fill="#000000" stroke="#000000"/><path d="M251.9,272.1L255.6,271.1 252.7,271.4 249.1,272.4Z" fill="#000000" stroke="#000000"/><path d="M388.3,268.3L392.0,267.3 388.8,266.0 385.2,266.9Z" fill="#052d00" stroke="#052d00"/><path d="M262.1,270.1L265.7,269.3 262.8,269.5 259.2,270.3Z" fill="#000000" stroke="#000000"/><path d="M306.3,266.0L310.0,265.5 306.9,265.0 303.2,265.5Z" fill="#000000" stroke="#000000"/><path d="M395.1,268.7L398.8,267.6 395.7,266.2 392.0,267.3Z" fill="#053400" stroke="#053400"/><path d="M337.0,266.1L340.7,265.5 337.6,264.7 333.9,265.3Z" fill="#000000" stroke="#000000"/><path d="M289.2,266.9L292.9,266.3 289.9,266.1 286.2,266.7Z" fill="#000000" stroke="#000000"/><path d="M402.0,269.1L405.6,267.9 402.5,266.4 398.8,267.6Z" fill="#053b00" stroke="#053b00"/><path d="M408.8,269.4L412.5,268.1 409.3,266.6 405.6,267.9Z" fill="#054200" stroke="#054200"/><path d="M343.8,266.4L347.5,265.8 344.3,264.9 340.7,265.5Z" fill="#000100" stroke="#000100"/><path d="M313.0,266.0L316.7,265.5 313.6,265.0 310.0,265.5Z" fill="#000000" stroke="#000000"/><path d="M415.6,269.7L419.3,268.3 416.2,266.8 412.5,268.1Z" fill="#044900" stroke="#044900"/><path d="M238.4,275.6L241.9,274.5 239.2,275.0 235.6,276.2Z" fill="#000000" stroke="#000000"/><path d="M350.6,266.8L354.3,266.2 351.1,265.2 347.5,265.8Z" fill="#010400" stroke="#010400"/><path d="M278.9,267.9L282.5,267.3 279.6,267.2 275.9,267.8Z" fill="#000000" stroke="#000000"/><path d="M357.4,267.2L361.1,266.6 357.9,265.5 354.3,266.2Z" fill="#020800" stroke="#020800"/><path d="M295.9,266.6L299.6,266.1 296.5,265.8 292.9,266.3Z" fill="#000000" stroke="#000000"/><path d="M364.2,267.7L367.9,267.0 364.7,265.9 361.1,266.6Z" fill="#020f00" stroke="#020f00"/><path d="M319.8,266.1L323.5,265.6 320.4,265.0 316.7,265.5Z" fill="#000000" stroke="#000000"/><path d="M371.0,268.2L374.7,267.4 371.5,266.2 367.9,267.0Z" fill="#041700" stroke="#041700"/><path d="M248.3,273.1L251.9,272.1 249.1,272.4 245.5,273.4Z" fill="#000000" stroke="#000000"/><path d="M268.6,269.2L272.3,268.5 269.3,268.6 265.7,269.3Z" fill="#000000" stroke="#000000"/><path d="M377.8,268.7L381.5,267.9 378.4,266.6 374.7,267.4Z" fill="#052100" stroke="#052100"/><path d="M258.4,270.9L262.1,270.1 259.2,270.3 255.6,271.1Z" fill="#000000" stroke="#000000"/><path d="M384.7,269.2L388.3,268.3 385.2,266.9 381.5,267.9Z" fill="#052b00" stroke="#052b00"/><path d="M391.5,269.7L395.1,268.7 392.0,267.3 388.3,268.3Z" fill="#053300" stroke="#053300"/><path d="M326.6,266.3L330.2,265.8 327.1,265.1 323.5,265.6Z" fill="#000000" stroke="#000000"/><path d="M398.3,270.2L402.0,269.1 398.8,267.6 395.1,268.7Z" fill="#053a00" stroke="#053a00"/><path d="M405.1,270.7L408.8,269.4 405.6,267.9 402.0,269.1Z" fill="#054000" stroke="#054000"/><path d="M302.6,266.5L306.3,266.0 303.2,265.5 299.6,266.1Z" fill="#000000" stroke="#000000"/><path d="M285.5,267.5L289.2,266.9 286.2,266.7 282.5,267.3Z" fill="#000000" stroke="#000000"/><path d="M234.8,276.9L238.4,275.6 235.6,276.2 232.1,277.4Z" fill="#000000" stroke="#000000"/><path d="M411.9,271.1L415.6,269.7 412.5,268.1 408.8,269.4Z" fill="#044700" stroke="#044700"/><path d="M333.3,266.6L337.0,266.1 333.9,265.3 330.2,265.8Z" fill="#000000" stroke="#000000"/><path d="M418.7,271.4L422.5,270.0 419.3,268.3 415.6,269.7Z" fill="#044d00" stroke="#044d00"/><path d="M340.1,267.0L343.8,266.4 340.7,265.5 337.0,266.1Z" fill="#000100" stroke="#000100"/><path d="M309.3,266.5L313.0,266.0 310.0,265.5 306.3,266.0Z" fill="#000000" stroke="#000000"/><path d="M346.9,267.4L350.6,266.8 347.5,265.8 343.8,266.4Z" fill="#010300" stroke="#010300"/><path d="M275.2,268.6L278.9,267.9 275.9,267.8 272.3,268.5Z" fill="#000000" stroke="#000000"/><path d="M244.7,274.1L248.3,273.1 245.5,273.4 241.9,274.5Z" fill="#000000" stroke="#000000"/><path d="M353.7,267.9L357.4,267.2 354.3,266.2 350.6,266.8Z" fill="#020800" stroke="#020800"/><path d="M292.2,267.2L295.9,266.6 292.9,266.3 289.2,266.9Z" fill="#000000" stroke="#000000"/><path d="M360.6,268.4L364.2,267.7 361.1,266.6 357.4,267.2Z" fill="#030e00" stroke="#030e00"/><path d="M264.9,270.0L268.6,269.2 265.7,269.3 262.1,270.1Z" fill="#000000" stroke="#000000"/><path d="M367.4,269.0L371.0,268.2 367.9,267.0 364.2,267.7Z" fill="#041600" stroke="#041600"/><path d="M254.8,271.9L258.4,270.9 255.6,271.1 251.9,272.1Z" fill="#000000" stroke="#000000"/><path d="M316.1,266.6L319.8,266.1 316.7,265.5 313.0,266.0Z" fill="#000000" stroke="#000000"/><path d="M374.2,269.5L377.8,268.7 374.7,267.4 371.0,268.2Z" fill="#051f00" stroke="#051f00"/><path d="M231.2,278.2L234.8,276.9 232.1,277.4 228.5,278.8Z" fill="#000000" stroke="#000000"/><path d="M381.0,270.1L384.7,269.2 381.5,267.9 377.8,268.7Z" fill="#062a00" stroke="#062a00"/><path d="M387.8,270.7L391.5,269.7 388.3,268.3 384.7,269.2Z" fill="#063100" stroke="#063100"/><path d="M394.6,271.3L398.3,270.2 395.1,268.7 391.5,269.7Z" fill="#063800" stroke="#063800"/><path d="M401.4,271.8L405.1,270.7 402.0,269.1 398.3,270.2Z" fill="#053f00" stroke="#053f00"/><path d="M408.2,272.3L411.9,271.1 408.8,269.4 405.1,270.7Z" fill="#044500" stroke="#044500"/><path d="M415.0,272.8L418.7,271.4 415.6,269.7 411.9,271.1Z" fill="#034b00" stroke="#034b00"/><path d="M421.9,273.2L425.6,271.7 422.5,270.0 418.7,271.4Z" fill="#025100" stroke="#025100"/><path d="M322.9,266.8L326.6,266.3 323.5,265.6 319.8,266.1Z" fill="#000000" stroke="#000000"/><path d="M298.9,267.0L302.6,266.5 299.6,266.1 295.9,266.6Z" fill="#000000" stroke="#000000"/><path d="M281.8,268.1L285.5,267.5 282.5,267.3 278.9,267.9Z" fill="#000000" stroke="#000000"/><path d="M329.7,267.1L333.3,266.6 330.2,265.8 326.6,266.3Z" fill="#000000" stroke="#000000"/><path d="M241.1,275.3L244.7,274.1 241.9,274.5 238.4,275.6Z" fill="#000000" stroke="#000000"/><path d="M336.5,267.5L340.1,267.0 337.0,266.1 333.3,266.6Z" fill="#000100" stroke="#000100"/><path d="M227.7,279.7L231.2,278.2 228.5,278.8 225.0,280.3Z" fill="#000000" stroke="#000000"/><path d="M271.5,269.3L275.2,268.6 272.3,268.5 268.6,269.2Z" fill="#000000" stroke="#000000"/><path d="M305.7,267.0L309.3,266.5 306.3,266.0 302.6,266.5Z" fill="#000000" stroke="#000000"/><path d="M343.3,268.0L346.9,267.4 343.8,266.4 340.1,267.0Z" fill="#010300" stroke="#010300"/><path d="M251.1,272.8L254.8,271.9 251.9,272.1 248.3,273.1Z" fill="#000000" stroke="#000000"/><path d="M261.3,270.9L264.9,270.0 262.1,270.1 258.4,270.9Z" fill="#000000" stroke="#000000"/><path d="M350.1,268.5L353.7,267.9 350.6,266.8 346.9,267.4Z" fill="#020700" stroke="#020700"/><path d="M288.5,267.8L292.2,267.2 289.2,266.9 285.5,267.5Z" fill="#000000" stroke="#000000"/><path d="M356.9,269.1L360.6,268.4 357.4,267.2 353.7,267.9Z" fill="#030d00" stroke="#030d00"/><path d="M404.5,273.5L408.2,272.3 405.1,270.7 401.4,271.8Z" fill="#054400" stroke="#054400"/><path d="M411.4,274.0L415.0,272.8 411.9,271.1 408.2,272.3Z" fill="#034a00" stroke="#034a00"/><path d="M397.7,272.9L401.4,271.8 398.3,270.2 394.6,271.3Z" fill="#063d00" stroke="#063d00"/><path d="M363.7,269.7L367.4,269.0 364.2,267.7 360.6,268.4Z" fill="#041500" stroke="#041500"/><path d="M418.2,274.6L421.9,273.2 418.7,271.4 415.0,272.8Z" fill="#025000" stroke="#025000"/><path d="M390.9,272.2L394.6,271.3 391.5,269.7 387.8,270.7Z" fill="#063600" stroke="#063600"/><path d="M384.1,271.6L387.8,270.7 384.7,269.2 381.0,270.1Z" fill="#063000" stroke="#063000"/><path d="M370.5,270.3L374.2,269.5 371.0,268.2 367.4,269.0Z" fill="#051e00" stroke="#051e00"/><path d="M377.3,270.9L381.0,270.1 377.8,268.7 374.2,269.5Z" fill="#062800" stroke="#062800"/><path d="M425.0,275.0L428.7,273.5 425.6,271.7 421.9,273.2Z" fill="#015500" stroke="#015500"/><path d="M312.4,267.1L316.1,266.6 313.0,266.0 309.3,266.5Z" fill="#000000" stroke="#000000"/><path d="M237.5,276.5L241.1,275.3 238.4,275.6 234.8,276.9Z" fill="#000000" stroke="#000000"/><path d="M319.2,267.3L322.9,266.8 319.8,266.1 316.1,266.6Z" fill="#000000" stroke="#000000"/><path d="M278.2,268.8L281.8,268.1 278.9,267.9 275.2,268.6Z" fill="#000000" stroke="#000000"/><path d="M295.2,267.6L298.9,267.0 295.9,266.6 292.2,267.2Z" fill="#000000" stroke="#000000"/><path d="M326.0,267.7L329.7,267.1 326.6,266.3 322.9,266.8Z" fill="#000000" stroke="#000000"/><path d="M247.5,273.9L251.1,272.8 248.3,273.1 244.7,274.1Z" fill="#000000" stroke="#000000"/><path d="M267.9,270.1L271.5,269.3 268.6,269.2 264.9,270.0Z" fill="#000000" stroke="#000000"/><path d="M332.8,268.1L336.5,267.5 333.3,266.6 329.7,267.1Z" fill="#000100" stroke="#000100"/><path d="M257.6,271.8L261.3,270.9 258.4,270.9 254.8,271.9Z" fill="#000000" stroke="#000000"/><path d="M421.3,276.4L425.0,275.0 421.9,273.2 418.2,274.6Z" fill="#005400" stroke="#005400"/><path d="M428.1,277.0L431.8,275.4 428.7,273.5 425.0,275.0Z" fill="#005902" stroke="#005902"/><path d="M414.5,275.9L418.2,274.6 415.0,272.8 411.4,274.0Z" fill="#024e00" stroke="#024e00"/><path d="M407.7,275.2L411.4,274.0 408.2,272.3 404.5,273.5Z" fill="#044800" stroke="#044800"/><path d="M302.0,267.6L305.7,267.0 302.6,266.5 298.9,267.0Z" fill="#000000" stroke="#000000"/><path d="M400.9,274.6L404.5,273.5 401.4,271.8 397.7,272.9Z" fill="#054200" stroke="#054200"/><path d="M339.6,268.6L343.3,268.0 340.1,267.0 336.5,267.5Z" fill="#010300" stroke="#010300"/><path d="M394.1,273.9L397.7,272.9 394.6,271.3 390.9,272.2Z" fill="#063c00" stroke="#063c00"/><path d="M387.3,273.2L390.9,272.2 387.8,270.7 384.1,271.6Z" fill="#073500" stroke="#073500"/><path d="M284.8,268.4L288.5,267.8 285.5,267.5 281.8,268.1Z" fill="#000000" stroke="#000000"/><path d="M346.4,269.1L350.1,268.5 346.9,267.4 343.3,268.0Z" fill="#020700" stroke="#020700"/><path d="M380.5,272.5L384.1,271.6 381.0,270.1 377.3,270.9Z" fill="#072e00" stroke="#072e00"/><path d="M233.9,277.8L237.5,276.5 234.8,276.9 231.2,278.2Z" fill="#000000" stroke="#000000"/><path d="M353.2,269.7L356.9,269.1 353.7,267.9 350.1,268.5Z" fill="#030d00" stroke="#030d00"/><path d="M373.6,271.7L377.3,270.9 374.2,269.5 370.5,270.3Z" fill="#072700" stroke="#072700"/><path d="M366.8,271.0L370.5,270.3 367.4,269.0 363.7,269.7Z" fill="#061d00" stroke="#061d00"/><path d="M360.0,270.3L363.7,269.7 360.6,268.4 356.9,269.1Z" fill="#041400" stroke="#041400"/><path d="M308.7,267.7L312.4,267.1 309.3,266.5 305.7,267.0Z" fill="#000000" stroke="#000000"/><path d="M274.5,269.5L278.2,268.8 275.2,268.6 271.5,269.3Z" fill="#000000" stroke="#000000"/><path d="M243.9,275.0L247.5,273.9 244.7,274.1 241.1,275.3Z" fill="#000000" stroke="#000000"/><path d="M315.5,267.9L319.2,267.3 316.1,266.6 312.4,267.1Z" fill="#000000" stroke="#000000"/><path d="M431.1,279.0L434.9,277.4 431.8,275.4 428.1,277.0Z" fill="#005c05" stroke="#005c05"/><path d="M291.5,268.2L295.2,267.6 292.2,267.2 288.5,267.8Z" fill="#000000" stroke="#000000"/><path d="M424.3,278.4L428.1,277.0 425.0,275.0 421.3,276.4Z" fill="#005802" stroke="#005802"/><path d="M417.6,277.8L421.3,276.4 418.2,274.6 414.5,275.9Z" fill="#005200" stroke="#005200"/><path d="M264.2,270.9L267.9,270.1 264.9,270.0 261.3,270.9Z" fill="#000000" stroke="#000000"/><path d="M410.8,277.1L414.5,275.9 411.4,274.0 407.7,275.2Z" fill="#034d00" stroke="#034d00"/><path d="M254.0,272.7L257.6,271.8 254.8,271.9 251.1,272.8Z" fill="#000000" stroke="#000000"/><path d="M230.4,279.3L233.9,277.8 231.2,278.2 227.7,279.7Z" fill="#000000" stroke="#000000"/><path d="M404.0,276.4L407.7,275.2 404.5,273.5 400.9,274.6Z" fill="#044700" stroke="#044700"/><path d="M322.3,268.2L326.0,267.7 322.9,266.8 319.2,267.3Z" fill="#000000" stroke="#000000"/><path d="M397.2,275.6L400.9,274.6 397.7,272.9 394.1,273.9Z" fill="#064100" stroke="#064100"/><path d="M390.4,274.8L394.1,273.9 390.9,272.2 387.3,273.2Z" fill="#073b00" stroke="#073b00"/><path d="M329.1,268.6L332.8,268.1 329.7,267.1 326.0,267.7Z" fill="#000100" stroke="#000100"/><path d="M298.3,268.1L302.0,267.6 298.9,267.0 295.2,267.6Z" fill="#000000" stroke="#000000"/><path d="M383.6,274.1L387.3,273.2 384.1,271.6 380.5,272.5Z" fill="#083400" stroke="#083400"/><path d="M335.9,269.1L339.6,268.6 336.5,267.5 332.8,268.1Z" fill="#010300" stroke="#010300"/><path d="M281.1,269.1L284.8,268.4 281.8,268.1 278.2,268.8Z" fill="#000000" stroke="#000000"/><path d="M376.8,273.3L380.5,272.5 377.3,270.9 373.6,271.7Z" fill="#082d00" stroke="#082d00"/><path d="M370.0,272.5L373.6,271.7 370.5,270.3 366.8,271.0Z" fill="#082600" stroke="#082600"/><path d="M342.7,269.7L346.4,269.1 343.3,268.0 339.6,268.6Z" fill="#020700" stroke="#020700"/><path d="M363.2,271.7L366.8,271.0 363.7,269.7 360.0,270.3Z" fill="#061c00" stroke="#061c00"/><path d="M349.5,270.3L353.2,269.7 350.1,268.5 346.4,269.1Z" fill="#030c00" stroke="#030c00"/><path d="M356.3,271.0L360.0,270.3 356.9,269.1 353.2,269.7Z" fill="#051300" stroke="#051300"/><path d="M434.2,281.1L437.9,279.5 434.9,277.4 431.1,279.0Z" fill="#006009" stroke="#006009"/><path d="M427.4,280.5L431.1,279.0 428.1,277.0 424.3,278.4Z" fill="#005b05" stroke="#005b05"/><path d="M240.3,276.2L243.9,275.0 241.1,275.3 237.5,276.5Z" fill="#000000" stroke="#000000"/><path d="M420.6,279.8L424.3,278.4 421.3,276.4 417.6,277.8Z" fill="#005602" stroke="#005602"/><path d="M305.0,268.2L308.7,267.7 305.7,267.0 302.0,267.6Z" fill="#000000" stroke="#000000"/><path d="M270.8,270.2L274.5,269.5 271.5,269.3 267.9,270.1Z" fill="#000000" stroke="#000000"/><path d="M413.9,279.0L417.6,277.8 414.5,275.9 410.8,277.1Z" fill="#015100" stroke="#015100"/><path d="M407.1,278.3L410.8,277.1 407.7,275.2 404.0,276.4Z" fill="#034b00" stroke="#034b00"/><path d="M250.4,273.8L254.0,272.7 251.1,272.8 247.5,273.9Z" fill="#000000" stroke="#000000"/><path d="M260.5,271.8L264.2,270.9 261.3,270.9 257.6,271.8Z" fill="#000000" stroke="#000000"/><path d="M287.8,268.8L291.5,268.2 288.5,267.8 284.8,268.4Z" fill="#000000" stroke="#000000"/><path d="M311.8,268.4L315.5,267.9 312.4,267.1 308.7,267.7Z" fill="#000000" stroke="#000000"/><path d="M400.3,277.4L404.0,276.4 400.9,274.6 397.2,275.6Z" fill="#054600" stroke="#054600"/><path d="M393.5,276.6L397.2,275.6 394.1,273.9 390.4,274.8Z" fill="#074000" stroke="#074000"/><path d="M437.2,283.3L441.0,281.6 437.9,279.5 434.2,281.1Z" fill="#00630d" stroke="#00630d"/><path d="M318.6,268.7L322.3,268.2 319.2,267.3 315.5,267.9Z" fill="#000000" stroke="#000000"/><path d="M386.7,275.7L390.4,274.8 387.3,273.2 383.6,274.1Z" fill="#083900" stroke="#083900"/><path d="M430.5,282.6L434.2,281.1 431.1,279.0 427.4,280.5Z" fill="#005f09" stroke="#005f09"/><path d="M236.7,277.6L240.3,276.2 237.5,276.5 233.9,277.8Z" fill="#000000" stroke="#000000"/><path d="M379.9,274.9L383.6,274.1 380.5,272.5 376.8,273.3Z" fill="#093300" stroke="#093300"/><path d="M423.7,281.9L427.4,280.5 424.3,278.4 420.6,279.8Z" fill="#005a06" stroke="#005a06"/><path d="M325.4,269.1L329.1,268.6 326.0,267.7 322.3,268.2Z" fill="#000100" stroke="#000100"/><path d="M294.6,268.7L298.3,268.1 295.2,267.6 291.5,268.2Z" fill="#000000" stroke="#000000"/><path d="M277.4,269.8L281.1,269.1 278.2,268.8 274.5,269.5Z" fill="#000000" stroke="#000000"/><path d="M373.1,274.0L376.8,273.3 373.6,271.7 370.0,272.5Z" fill="#092c00" stroke="#092c00"/><path d="M416.9,281.1L420.6,279.8 417.6,277.8 413.9,279.0Z" fill="#005502" stroke="#005502"/><path d="M332.2,269.6L335.9,269.1 332.8,268.1 329.1,268.6Z" fill="#010300" stroke="#010300"/><path d="M366.3,273.2L370.0,272.5 366.8,271.0 363.2,271.7Z" fill="#082500" stroke="#082500"/><path d="M359.5,272.4L363.2,271.7 360.0,270.3 356.3,271.0Z" fill="#071b00" stroke="#071b00"/><path d="M339.0,270.2L342.7,269.7 339.6,268.6 335.9,269.1Z" fill="#020700" stroke="#020700"/><path d="M352.7,271.6L356.3,271.0 353.2,269.7 349.5,270.3Z" fill="#051300" stroke="#051300"/><path d="M345.8,270.9L349.5,270.3 346.4,269.1 342.7,269.7Z" fill="#040c00" stroke="#040c00"/><path d="M410.2,280.2L413.9,279.0 410.8,277.1 407.1,278.3Z" fill="#015000" stroke="#015000"/><path d="M246.7,274.9L250.4,273.8 247.5,273.9 243.9,275.0Z" fill="#000000" stroke="#000000"/><path d="M267.1,271.1L270.8,270.2 267.9,270.1 264.2,270.9Z" fill="#000000" stroke="#000000"/><path d="M440.3,285.5L444.0,283.9 441.0,281.6 437.2,283.3Z" fill="#006613" stroke="#006613"/><path d="M301.3,268.8L305.0,268.2 302.0,267.6 298.3,268.1Z" fill="#000000" stroke="#000000"/><path d="M403.4,279.4L407.1,278.3 404.0,276.4 400.3,277.4Z" fill="#044a00" stroke="#044a00"/><path d="M256.9,272.8L260.5,271.8 257.6,271.8 254.0,272.7Z" fill="#000000" stroke="#000000"/><path d="M433.5,284.8L437.2,283.3 434.2,281.1 430.5,282.6Z" fill="#00620e" stroke="#00620e"/><path d="M396.6,278.5L400.3,277.4 397.2,275.6 393.5,276.6Z" fill="#064500" stroke="#064500"/><path d="M284.1,269.5L287.8,268.8 284.8,268.4 281.1,269.1Z" fill="#000000" stroke="#000000"/><path d="M233.1,279.0L236.7,277.6 233.9,277.8 230.4,279.3Z" fill="#000000" stroke="#000000"/><path d="M426.8,284.1L430.5,282.6 427.4,280.5 423.7,281.9Z" fill="#005e0a" stroke="#005e0a"/><path d="M308.1,268.9L311.8,268.4 308.7,267.7 305.0,268.2Z" fill="#000000" stroke="#000000"/><path d="M389.8,277.5L393.5,276.6 390.4,274.8 386.7,275.7Z" fill="#083f00" stroke="#083f00"/><path d="M420.0,283.2L423.7,281.9 420.6,279.8 416.9,281.1Z" fill="#005905" stroke="#005905"/><path d="M383.0,276.6L386.7,275.7 383.6,274.1 379.9,274.9Z" fill="#093900" stroke="#093900"/><path d="M443.3,287.9L447.0,286.2 444.0,283.9 440.3,285.5Z" fill="#006919" stroke="#006919"/><path d="M314.9,269.3L318.6,268.7 315.5,267.9 311.8,268.4Z" fill="#000000" stroke="#000000"/><path d="M413.2,282.3L416.9,281.1 413.9,279.0 410.2,280.2Z" fill="#005401" stroke="#005401"/><path d="M376.2,275.7L379.9,274.9 376.8,273.3 373.1,274.0Z" fill="#0a3200" stroke="#0a3200"/><path d="M273.8,270.5L277.4,269.8 274.5,269.5 270.8,270.2Z" fill="#000000" stroke="#000000"/><path d="M436.5,287.2L440.3,285.5 437.2,283.3 433.5,284.8Z" fill="#006514" stroke="#006514"/><path d="M290.9,269.3L294.6,268.7 291.5,268.2 287.8,268.8Z" fill="#000000" stroke="#000000"/><path d="M243.1,276.1L246.7,274.9 243.9,275.0 240.3,276.2Z" fill="#000000" stroke="#000000"/><path d="M369.4,274.8L373.1,274.0 370.0,272.5 366.3,273.2Z" fill="#0a2c00" stroke="#0a2c00"/><path d="M321.7,269.7L325.4,269.1 322.3,268.2 318.6,268.7Z" fill="#000100" stroke="#000100"/><path d="M406.5,281.4L410.2,280.2 407.1,278.3 403.4,279.4Z" fill="#024f00" stroke="#024f00"/><path d="M362.6,273.9L366.3,273.2 363.2,271.7 359.5,272.4Z" fill="#092400" stroke="#092400"/><path d="M429.8,286.3L433.5,284.8 430.5,282.6 426.8,284.1Z" fill="#00610e" stroke="#00610e"/><path d="M328.5,270.2L332.2,269.6 329.1,268.6 325.4,269.1Z" fill="#010300" stroke="#010300"/><path d="M263.4,271.9L267.1,271.1 264.2,270.9 260.5,271.8Z" fill="#000000" stroke="#000000"/><path d="M355.8,273.0L359.5,272.4 356.3,271.0 352.7,271.6Z" fill="#071b00" stroke="#071b00"/><path d="M253.2,273.8L256.9,272.8 254.0,272.7 250.4,273.8Z" fill="#000000" stroke="#000000"/><path d="M399.7,280.4L403.4,279.4 400.3,277.4 396.6,278.5Z" fill="#054900" stroke="#054900"/><path d="M335.3,270.8L339.0,270.2 335.9,269.1 332.2,269.6Z" fill="#020700" stroke="#020700"/><path d="M349.0,272.2L352.7,271.6 349.5,270.3 345.8,270.9Z" fill="#061300" stroke="#061300"/><path d="M342.1,271.5L345.8,270.9 342.7,269.7 339.0,270.2Z" fill="#040c00" stroke="#040c00"/><path d="M423.0,285.4L426.8,284.1 423.7,281.9 420.0,283.2Z" fill="#005c09" stroke="#005c09"/><path d="M446.3,290.4L450.0,288.6 447.0,286.2 443.3,287.9Z" fill="#006c1f" stroke="#006c1f"/><path d="M297.6,269.4L301.3,268.8 298.3,268.1 294.6,268.7Z" fill="#000000" stroke="#000000"/><path d="M392.9,279.4L396.6,278.5 393.5,276.6 389.8,277.5Z" fill="#074400" stroke="#074400"/><path d="M439.5,289.6L443.3,287.9 440.3,285.5 436.5,287.2Z" fill="#00681a" stroke="#00681a"/><path d="M280.4,270.2L284.1,269.5 281.1,269.1 277.4,269.8Z" fill="#000000" stroke="#000000"/><path d="M416.3,284.5L420.0,283.2 416.9,281.1 413.2,282.3Z" fill="#005805" stroke="#005805"/><path d="M386.1,278.4L389.8,277.5 386.7,275.7 383.0,276.6Z" fill="#093e00" stroke="#093e00"/><path d="M304.4,269.5L308.1,268.9 305.0,268.2 301.3,268.8Z" fill="#000000" stroke="#000000"/><path d="M432.8,288.7L436.5,287.2 433.5,284.8 429.8,286.3Z" fill="#006414" stroke="#006414"/><path d="M239.5,277.4L243.1,276.1 240.3,276.2 236.7,277.6Z" fill="#000000" stroke="#000000"/><path d="M409.5,283.5L413.2,282.3 410.2,280.2 406.5,281.4Z" fill="#005300" stroke="#005300"/><path d="M379.3,277.4L383.0,276.6 379.9,274.9 376.2,275.7Z" fill="#0a3800" stroke="#0a3800"/><path d="M449.2,292.9L453.0,291.1 450.0,288.6 446.3,290.4Z" fill="#006f27" stroke="#006f27"/><path d="M270.1,271.3L273.8,270.5 270.8,270.2 267.1,271.1Z" fill="#000000" stroke="#000000"/><path d="M426.1,287.7L429.8,286.3 426.8,284.1 423.0,285.4Z" fill="#00600e" stroke="#00600e"/><path d="M372.5,276.4L376.2,275.7 373.1,274.0 369.4,274.8Z" fill="#0b3200" stroke="#0b3200"/><path d="M311.2,269.8L314.9,269.3 311.8,268.4 308.1,268.9Z" fill="#000000" stroke="#000000"/><path d="M402.8,282.4L406.5,281.4 403.4,279.4 399.7,280.4Z" fill="#034e00" stroke="#034e00"/><path d="M442.5,292.0L446.3,290.4 443.3,287.9 439.5,289.6Z" fill="#006b21" stroke="#006b21"/><path d="M287.1,270.0L290.9,269.3 287.8,268.8 284.1,269.5Z" fill="#000000" stroke="#000000"/><path d="M249.6,274.9L253.2,273.8 250.4,273.8 246.7,274.9Z" fill="#000000" stroke="#000000"/><path d="M259.8,272.9L263.4,271.9 260.5,271.8 256.9,272.8Z" fill="#000000" stroke="#000000"/><path d="M365.7,275.5L369.4,274.8 366.3,273.2 362.6,273.9Z" fill="#0b2b00" stroke="#0b2b00"/><path d="M419.3,286.7L423.0,285.4 420.0,283.2 416.3,284.5Z" fill="#005c09" stroke="#005c09"/><path d="M318.0,270.2L321.7,269.7 318.6,268.7 314.9,269.3Z" fill="#000100" stroke="#000100"/><path d="M396.0,281.4L399.7,280.4 396.6,278.5 392.9,279.4Z" fill="#064800" stroke="#064800"/><path d="M358.9,274.5L362.6,273.9 359.5,272.4 355.8,273.0Z" fill="#0a2400" stroke="#0a2400"/><path d="M435.8,291.1L439.5,289.6 436.5,287.2 432.8,288.7Z" fill="#00671a" stroke="#00671a"/><path d="M324.8,270.7L328.5,270.2 325.4,269.1 321.7,269.7Z" fill="#010400" stroke="#010400"/><path d="M352.1,273.6L355.8,273.0 352.7,271.6 349.0,272.2Z" fill="#081b00" stroke="#081b00"/><path d="M331.6,271.3L335.3,270.8 332.2,269.6 328.5,270.2Z" fill="#030700" stroke="#030700"/><path d="M345.3,272.8L349.0,272.2 345.8,270.9 342.1,271.5Z" fill="#061300" stroke="#061300"/><path d="M338.4,272.0L342.1,271.5 339.0,270.2 335.3,270.8Z" fill="#040c00" stroke="#040c00"/><path d="M412.6,285.7L416.3,284.5 413.2,282.3 409.5,283.5Z" fill="#005704" stroke="#005704"/><path d="M389.2,280.3L392.9,279.4 389.8,277.5 386.1,278.4Z" fill="#084300" stroke="#084300"/><path d="M235.9,278.8L239.5,277.4 236.7,277.6 233.1,279.0Z" fill="#000000" stroke="#000000"/><path d="M293.9,270.0L297.6,269.4 294.6,268.7 290.9,269.3Z" fill="#000000" stroke="#000000"/><path d="M429.1,290.1L432.8,288.7 429.8,286.3 426.1,287.7Z" fill="#006314" stroke="#006314"/><path d="M445.5,294.6L449.2,292.9 446.3,290.4 442.5,292.0Z" fill="#006e28" stroke="#006e28"/><path d="M276.7,270.9L280.4,270.2 277.4,269.8 273.8,270.5Z" fill="#000000" stroke="#000000"/><path d="M382.5,279.2L386.1,278.4 383.0,276.6 379.3,277.4Z" fill="#0a3d00" stroke="#0a3d00"/><path d="M405.9,284.6L409.5,283.5 406.5,281.4 402.8,282.4Z" fill="#015200" stroke="#015200"/><path d="M438.8,293.6L442.5,292.0 439.5,289.6 435.8,291.1Z" fill="#006a21" stroke="#006a21"/><path d="M422.4,289.0L426.1,287.7 423.0,285.4 419.3,286.7Z" fill="#005f0e" stroke="#005f0e"/><path d="M300.7,270.1L304.4,269.5 301.3,268.8 297.6,269.4Z" fill="#000000" stroke="#000000"/><path d="M245.9,276.1L249.6,274.9 246.7,274.9 243.1,276.1Z" fill="#000000" stroke="#000000"/><path d="M375.7,278.2L379.3,277.4 376.2,275.7 372.5,276.4Z" fill="#0b3700" stroke="#0b3700"/><path d="M266.4,272.2L270.1,271.3 267.1,271.1 263.4,271.9Z" fill="#000000" stroke="#000000"/><path d="M399.1,283.4L402.8,282.4 399.7,280.4 396.0,281.4Z" fill="#044d00" stroke="#044d00"/><path d="M256.1,273.9L259.8,272.9 256.9,272.8 253.2,273.8Z" fill="#000000" stroke="#000000"/><path d="M432.1,292.6L435.8,291.1 432.8,288.7 429.1,290.1Z" fill="#00661a" stroke="#00661a"/><path d="M415.7,287.9L419.3,286.7 416.3,284.5 412.6,285.7Z" fill="#005b08" stroke="#005b08"/><path d="M368.9,277.1L372.5,276.4 369.4,274.8 365.7,275.5Z" fill="#0c3100" stroke="#0c3100"/><path d="M283.4,270.7L287.1,270.0 284.1,269.5 280.4,270.2Z" fill="#000000" stroke="#000000"/><path d="M307.5,270.4L311.2,269.8 308.1,268.9 304.4,269.5Z" fill="#000000" stroke="#000000"/><path d="M441.7,296.2L445.5,294.6 442.5,292.0 438.8,293.6Z" fill="#006d29" stroke="#006d29"/><path d="M392.3,282.3L396.0,281.4 392.9,279.4 389.2,280.3Z" fill="#074800" stroke="#074800"/><path d="M362.0,276.1L365.7,275.5 362.6,273.9 358.9,274.5Z" fill="#0c2b00" stroke="#0c2b00"/><path d="M314.3,270.8L318.0,270.2 314.9,269.3 311.2,269.8Z" fill="#010200" stroke="#010200"/><path d="M425.4,291.5L429.1,290.1 426.1,287.7 422.4,289.0Z" fill="#006214" stroke="#006214"/><path d="M408.9,286.8L412.6,285.7 409.5,283.5 405.9,284.6Z" fill="#005603" stroke="#005603"/><path d="M355.2,275.2L358.9,274.5 355.8,273.0 352.1,273.6Z" fill="#0b2400" stroke="#0b2400"/><path d="M321.1,271.3L324.8,270.7 321.7,269.7 318.0,270.2Z" fill="#020400" stroke="#020400"/><path d="M348.4,274.2L352.1,273.6 349.0,272.2 345.3,272.8Z" fill="#091b00" stroke="#091b00"/><path d="M385.6,281.2L389.2,280.3 386.1,278.4 382.5,279.2Z" fill="#094200" stroke="#094200"/><path d="M435.1,295.2L438.8,293.6 435.8,291.1 432.1,292.6Z" fill="#006922" stroke="#006922"/><path d="M327.9,271.9L331.6,271.3 328.5,270.2 324.8,270.7Z" fill="#030800" stroke="#030800"/><path d="M341.6,273.4L345.3,272.8 342.1,271.5 338.4,272.0Z" fill="#071300" stroke="#071300"/><path d="M273.0,271.7L276.7,270.9 273.8,270.5 270.1,271.3Z" fill="#000000" stroke="#000000"/><path d="M290.2,270.6L293.9,270.0 290.9,269.3 287.1,270.0Z" fill="#000000" stroke="#000000"/><path d="M334.7,272.6L338.4,272.0 335.3,270.8 331.6,271.3Z" fill="#050d00" stroke="#050d00"/><path d="M242.3,277.4L245.9,276.1 243.1,276.1 239.5,277.4Z" fill="#000000" stroke="#000000"/><path d="M418.7,290.3L422.4,289.0 419.3,286.7 415.7,287.9Z" fill="#005e0d" stroke="#005e0d"/><path d="M402.2,285.6L405.9,284.6 402.8,282.4 399.1,283.4Z" fill="#025100" stroke="#025100"/><path d="M378.8,280.0L382.5,279.2 379.3,277.4 375.7,278.2Z" fill="#0b3d00" stroke="#0b3d00"/><path d="M262.7,273.2L266.4,272.2 263.4,271.9 259.8,272.9Z" fill="#000000" stroke="#000000"/><path d="M428.4,294.0L432.1,292.6 429.1,290.1 425.4,291.5Z" fill="#00651a" stroke="#00651a"/><path d="M252.4,275.0L256.1,273.9 253.2,273.8 249.6,274.9Z" fill="#000000" stroke="#000000"/><path d="M296.9,270.7L300.7,270.1 297.6,269.4 293.9,270.0Z" fill="#000000" stroke="#000000"/><path d="M438.0,297.8L441.7,296.2 438.8,293.6 435.1,295.2Z" fill="#006c2a" stroke="#006c2a"/><path d="M395.4,284.4L399.1,283.4 396.0,281.4 392.3,282.3Z" fill="#054c00" stroke="#054c00"/><path d="M372.0,278.9L375.7,278.2 372.5,276.4 368.9,277.1Z" fill="#0c3700" stroke="#0c3700"/><path d="M412.0,289.1L415.7,287.9 412.6,285.7 408.9,286.8Z" fill="#005a07" stroke="#005a07"/><path d="M279.7,271.4L283.4,270.7 280.4,270.2 276.7,270.9Z" fill="#000000" stroke="#000000"/><path d="M365.2,277.8L368.9,277.1 365.7,275.5 362.0,276.1Z" fill="#0d3100" stroke="#0d3100"/><path d="M421.7,292.8L425.4,291.5 422.4,289.0 418.7,290.3Z" fill="#006213" stroke="#006213"/><path d="M303.7,271.0L307.5,270.4 304.4,269.5 300.7,270.1Z" fill="#000000" stroke="#000000"/><path d="M388.7,283.2L392.3,282.3 389.2,280.3 385.6,281.2Z" fill="#084700" stroke="#084700"/><path d="M431.3,296.6L435.1,295.2 432.1,292.6 428.4,294.0Z" fill="#006821" stroke="#006821"/><path d="M405.2,287.9L408.9,286.8 405.9,284.6 402.2,285.6Z" fill="#005501" stroke="#005501"/><path d="M238.7,278.7L242.3,277.4 239.5,277.4 235.9,278.8Z" fill="#000000" stroke="#000000"/><path d="M358.3,276.8L362.0,276.1 358.9,274.5 355.2,275.2Z" fill="#0d2b00" stroke="#0d2b00"/><path d="M310.5,271.3L314.3,270.8 311.2,269.8 307.5,270.4Z" fill="#010200" stroke="#010200"/><path d="M351.5,275.8L355.2,275.2 352.1,273.6 348.4,274.2Z" fill="#0c2400" stroke="#0c2400"/><path d="M269.3,272.6L273.0,271.7 270.1,271.3 266.4,272.2Z" fill="#000000" stroke="#000000"/><path d="M381.9,282.0L385.6,281.2 382.5,279.2 378.8,280.0Z" fill="#0b4200" stroke="#0b4200"/><path d="M415.0,291.5L418.7,290.3 415.7,287.9 412.0,289.1Z" fill="#005d0c" stroke="#005d0c"/><path d="M317.4,271.8L321.1,271.3 318.0,270.2 314.3,270.8Z" fill="#020500" stroke="#020500"/><path d="M286.5,271.3L290.2,270.6 287.1,270.0 283.4,270.7Z" fill="#000000" stroke="#000000"/><path d="M344.7,274.8L348.4,274.2 345.3,272.8 341.6,273.4Z" fill="#0a1b00" stroke="#0a1b00"/><path d="M398.5,286.6L402.2,285.6 399.1,283.4 395.4,284.4Z" fill="#035100" stroke="#035100"/><path d="M248.8,276.2L252.4,275.0 249.6,274.9 245.9,276.1Z" fill="#000000" stroke="#000000"/><path d="M424.7,295.3L428.4,294.0 425.4,291.5 421.7,292.8Z" fill="#00651a" stroke="#00651a"/><path d="M324.2,272.4L327.9,271.9 324.8,270.7 321.1,271.3Z" fill="#040900" stroke="#040900"/><path d="M337.9,274.0L341.6,273.4 338.4,272.0 334.7,272.6Z" fill="#081400" stroke="#081400"/><path d="M259.0,274.2L262.7,273.2 259.8,272.9 256.1,273.9Z" fill="#000000" stroke="#000000"/><path d="M331.0,273.2L334.7,272.6 331.6,271.3 327.9,271.9Z" fill="#060d00" stroke="#060d00"/><path d="M434.3,299.3L438.0,297.8 435.1,295.2 431.3,296.6Z" fill="#006b2a" stroke="#006b2a"/><path d="M375.1,280.8L378.8,280.0 375.7,278.2 372.0,278.9Z" fill="#0d3c00" stroke="#0d3c00"/><path d="M408.3,290.2L412.0,289.1 408.9,286.8 405.2,287.9Z" fill="#005906" stroke="#005906"/><path d="M391.7,285.3L395.4,284.4 392.3,282.3 388.7,283.2Z" fill="#074c00" stroke="#074c00"/><path d="M293.2,271.4L296.9,270.7 293.9,270.0 290.2,270.6Z" fill="#000000" stroke="#000000"/><path d="M368.3,279.6L372.0,278.9 368.9,277.1 365.2,277.8Z" fill="#0e3700" stroke="#0e3700"/><path d="M418.0,294.0L421.7,292.8 418.7,290.3 415.0,291.5Z" fill="#006112" stroke="#006112"/><path d="M427.6,298.0L431.3,296.6 428.4,294.0 424.7,295.3Z" fill="#006821" stroke="#006821"/><path d="M276.0,272.3L279.7,271.4 276.7,270.9 273.0,271.7Z" fill="#000000" stroke="#000000"/><path d="M401.5,288.9L405.2,287.9 402.2,285.6 398.5,286.6Z" fill="#005500" stroke="#005500"/><path d="M361.5,278.5L365.2,277.8 362.0,276.1 358.3,276.8Z" fill="#0e3100" stroke="#0e3100"/><path d="M385.0,284.1L388.7,283.2 385.6,281.2 381.9,282.0Z" fill="#0a4700" stroke="#0a4700"/><path d="M300.0,271.6L303.7,271.0 300.7,270.1 296.9,270.7Z" fill="#000100" stroke="#000100"/><path d="M245.2,277.5L248.8,276.2 245.9,276.1 242.3,277.4Z" fill="#000000" stroke="#000000"/><path d="M265.6,273.5L269.3,272.6 266.4,272.2 262.7,273.2Z" fill="#000000" stroke="#000000"/><path d="M411.3,292.6L415.0,291.5 412.0,289.1 408.3,290.2Z" fill="#005d0b" stroke="#005d0b"/><path d="M354.6,277.4L358.3,276.8 355.2,275.2 351.5,275.8Z" fill="#0e2b00" stroke="#0e2b00"/><path d="M430.6,300.7L434.3,299.3 431.3,296.6 427.6,298.0Z" fill="#006b29" stroke="#006b29"/><path d="M421.0,296.6L424.7,295.3 421.7,292.8 418.0,294.0Z" fill="#006419" stroke="#006419"/><path d="M306.8,271.9L310.5,271.3 307.5,270.4 303.7,271.0Z" fill="#010300" stroke="#010300"/><path d="M255.3,275.3L259.0,274.2 256.1,273.9 252.4,275.0Z" fill="#000000" stroke="#000000"/><path d="M378.2,282.8L381.9,282.0 378.8,280.0 375.1,280.8Z" fill="#0c4200" stroke="#0c4200"/><path d="M347.8,276.4L351.5,275.8 348.4,274.2 344.7,274.8Z" fill="#0d2500" stroke="#0d2500"/><path d="M282.7,272.1L286.5,271.3 283.4,270.7 279.7,271.4Z" fill="#000000" stroke="#000000"/><path d="M394.8,287.5L398.5,286.6 395.4,284.4 391.7,285.3Z" fill="#045000" stroke="#045000"/><path d="M313.6,272.4L317.4,271.8 314.3,270.8 310.5,271.3Z" fill="#030500" stroke="#030500"/><path d="M341.0,275.4L344.7,274.8 341.6,273.4 337.9,274.0Z" fill="#0b1c00" stroke="#0b1c00"/><path d="M320.5,273.0L324.2,272.4 321.1,271.3 317.4,271.8Z" fill="#040900" stroke="#040900"/><path d="M334.1,274.5L337.9,274.0 334.7,272.6 331.0,273.2Z" fill="#091500" stroke="#091500"/><path d="M327.3,273.7L331.0,273.2 327.9,271.9 324.2,272.4Z" fill="#060e00" stroke="#060e00"/><path d="M404.6,291.3L408.3,290.2 405.2,287.9 401.5,288.9Z" fill="#005904" stroke="#005904"/><path d="M371.4,281.5L375.1,280.8 372.0,278.9 368.3,279.6Z" fill="#0e3c00" stroke="#0e3c00"/><path d="M414.3,295.2L418.0,294.0 415.0,291.5 411.3,292.6Z" fill="#006011" stroke="#006011"/><path d="M423.9,299.3L427.6,298.0 424.7,295.3 421.0,296.6Z" fill="#006720" stroke="#006720"/><path d="M388.0,286.2L391.7,285.3 388.7,283.2 385.0,284.1Z" fill="#084b00" stroke="#084b00"/><path d="M289.5,272.1L293.2,271.4 290.2,270.6 286.5,271.3Z" fill="#000000" stroke="#000000"/><path d="M272.3,273.1L276.0,272.3 273.0,271.7 269.3,272.6Z" fill="#000000" stroke="#000000"/><path d="M241.5,278.8L245.2,277.5 242.3,277.4 238.7,278.7Z" fill="#000000" stroke="#000000"/><path d="M364.6,280.3L368.3,279.6 365.2,277.8 361.5,278.5Z" fill="#0f3700" stroke="#0f3700"/><path d="M397.9,289.9L401.5,288.9 398.5,286.6 394.8,287.5Z" fill="#025400" stroke="#025400"/><path d="M381.3,284.9L385.0,284.1 381.9,282.0 378.2,282.8Z" fill="#0b4600" stroke="#0b4600"/><path d="M262.0,274.5L265.6,273.5 262.7,273.2 259.0,274.2Z" fill="#000000" stroke="#000000"/><path d="M426.9,302.0L430.6,300.7 427.6,298.0 423.9,299.3Z" fill="#006a28" stroke="#006a28"/><path d="M251.7,276.4L255.3,275.3 252.4,275.0 248.8,276.2Z" fill="#000000" stroke="#000000"/><path d="M296.3,272.3L300.0,271.6 296.9,270.7 293.2,271.4Z" fill="#010100" stroke="#010100"/><path d="M357.8,279.2L361.5,278.5 358.3,276.8 354.6,277.4Z" fill="#103100" stroke="#103100"/><path d="M407.6,293.7L411.3,292.6 408.3,290.2 404.6,291.3Z" fill="#005c09" stroke="#005c09"/><path d="M417.3,297.8L421.0,296.6 418.0,294.0 414.3,295.2Z" fill="#006417" stroke="#006417"/><path d="M350.9,278.0L354.6,277.4 351.5,275.8 347.8,276.4Z" fill="#102c00" stroke="#102c00"/><path d="M279.0,272.9L282.7,272.1 279.7,271.4 276.0,272.3Z" fill="#000000" stroke="#000000"/><path d="M303.1,272.6L306.8,271.9 303.7,271.0 300.0,271.6Z" fill="#020300" stroke="#020300"/><path d="M391.1,288.4L394.8,287.5 391.7,285.3 388.0,286.2Z" fill="#065000" stroke="#065000"/><path d="M374.5,283.5L378.2,282.8 375.1,280.8 371.4,281.5Z" fill="#0e4100" stroke="#0e4100"/><path d="M344.1,277.0L347.8,276.4 344.7,274.8 341.0,275.4Z" fill="#0f2600" stroke="#0f2600"/><path d="M309.9,273.0L313.6,272.4 310.5,271.3 306.8,271.9Z" fill="#030600" stroke="#030600"/><path d="M400.9,292.3L404.6,291.3 401.5,288.9 397.9,289.9Z" fill="#005802" stroke="#005802"/><path d="M420.3,300.5L423.9,299.3 421.0,296.6 417.3,297.8Z" fill="#00671f" stroke="#00671f"/><path d="M337.3,276.0L341.0,275.4 337.9,274.0 334.1,274.5Z" fill="#0c1d00" stroke="#0c1d00"/><path d="M410.6,296.3L414.3,295.2 411.3,292.6 407.6,293.7Z" fill="#00600f" stroke="#00600f"/><path d="M316.7,273.6L320.5,273.0 317.4,271.8 313.6,272.4Z" fill="#050a00" stroke="#050a00"/><path d="M330.4,275.1L334.1,274.5 331.0,273.2 327.3,273.7Z" fill="#0a1600" stroke="#0a1600"/><path d="M323.6,274.3L327.3,273.7 324.2,272.4 320.5,273.0Z" fill="#071000" stroke="#071000"/><path d="M367.7,282.3L371.4,281.5 368.3,279.6 364.6,280.3Z" fill="#103c00" stroke="#103c00"/><path d="M268.6,274.0L272.3,273.1 269.3,272.6 265.6,273.5Z" fill="#000000" stroke="#000000"/><path d="M384.4,287.0L388.0,286.2 385.0,284.1 381.3,284.9Z" fill="#0a4b00" stroke="#0a4b00"/><path d="M285.8,272.8L289.5,272.1 286.5,271.3 282.7,272.1Z" fill="#000000" stroke="#000000"/><path d="M248.0,277.7L251.7,276.4 248.8,276.2 245.2,277.5Z" fill="#000000" stroke="#000000"/><path d="M258.3,275.6L262.0,274.5 259.0,274.2 255.3,275.3Z" fill="#000000" stroke="#000000"/><path d="M423.2,303.3L426.9,302.0 423.9,299.3 420.3,300.5Z" fill="#006a27" stroke="#006a27"/><path d="M360.9,281.0L364.6,280.3 361.5,278.5 357.8,279.2Z" fill="#113700" stroke="#113700"/><path d="M394.2,290.8L397.9,289.9 394.8,287.5 391.1,288.4Z" fill="#035400" stroke="#035400"/><path d="M413.6,299.0L417.3,297.8 414.3,295.2 410.6,296.3Z" fill="#006316" stroke="#006316"/><path d="M403.9,294.8L407.6,293.7 404.6,291.3 400.9,292.3Z" fill="#005c07" stroke="#005c07"/><path d="M377.6,285.7L381.3,284.9 378.2,282.8 374.5,283.5Z" fill="#0d4600" stroke="#0d4600"/><path d="M292.6,273.0L296.3,272.3 293.2,271.4 289.5,272.1Z" fill="#010200" stroke="#010200"/><path d="M354.1,279.8L357.8,279.2 354.6,277.4 350.9,278.0Z" fill="#113200" stroke="#113200"/><path d="M275.3,273.7L279.0,272.9 276.0,272.3 272.3,273.1Z" fill="#000000" stroke="#000000"/><path d="M387.4,289.3L391.1,288.4 388.0,286.2 384.4,287.0Z" fill="#085000" stroke="#085000"/><path d="M299.4,273.2L303.1,272.6 300.0,271.6 296.3,272.3Z" fill="#020400" stroke="#020400"/><path d="M347.2,278.7L350.9,278.0 347.8,276.4 344.1,277.0Z" fill="#112c00" stroke="#112c00"/><path d="M416.6,301.7L420.3,300.5 417.3,297.8 413.6,299.0Z" fill="#00661e" stroke="#00661e"/><path d="M370.8,284.3L374.5,283.5 371.4,281.5 367.7,282.3Z" fill="#104100" stroke="#104100"/><path d="M397.2,293.2L400.9,292.3 397.9,289.9 394.2,290.8Z" fill="#005800" stroke="#005800"/><path d="M406.9,297.4L410.6,296.3 407.6,293.7 403.9,294.8Z" fill="#005f0d" stroke="#005f0d"/><path d="M244.4,279.0L248.0,277.7 245.2,277.5 241.5,278.8Z" fill="#000000" stroke="#000000"/><path d="M340.4,277.6L344.1,277.0 341.0,275.4 337.3,276.0Z" fill="#112700" stroke="#112700"/><path d="M306.2,273.7L309.9,273.0 306.8,271.9 303.1,272.6Z" fill="#040800" stroke="#040800"/><path d="M264.9,275.0L268.6,274.0 265.6,273.5 262.0,274.5Z" fill="#000000" stroke="#000000"/><path d="M333.5,276.6L337.3,276.0 334.1,274.5 330.4,275.1Z" fill="#0e1e00" stroke="#0e1e00"/><path d="M254.6,276.8L258.3,275.6 255.3,275.3 251.7,276.4Z" fill="#000000" stroke="#000000"/><path d="M313.0,274.2L316.7,273.6 313.6,272.4 309.9,273.0Z" fill="#060c00" stroke="#060c00"/><path d="M326.7,275.7L330.4,275.1 327.3,273.7 323.6,274.3Z" fill="#0b1700" stroke="#0b1700"/><path d="M282.1,273.6L285.8,272.8 282.7,272.1 279.0,272.9Z" fill="#000100" stroke="#000100"/><path d="M364.0,283.0L367.7,282.3 364.6,280.3 360.9,281.0Z" fill="#113c00" stroke="#113c00"/><path d="M319.8,274.9L323.6,274.3 320.5,273.0 316.7,273.6Z" fill="#091100" stroke="#091100"/><path d="M380.7,287.9L384.4,287.0 381.3,284.9 377.6,285.7Z" fill="#0c4b00" stroke="#0c4b00"/><path d="M419.5,304.6L423.2,303.3 420.3,300.5 416.6,301.7Z" fill="#006926" stroke="#006926"/><path d="M409.9,300.1L413.6,299.0 410.6,296.3 406.9,297.4Z" fill="#006314" stroke="#006314"/><path d="M390.5,291.7L394.2,290.8 391.1,288.4 387.4,289.3Z" fill="#055400" stroke="#055400"/><path d="M400.2,295.8L403.9,294.8 400.9,292.3 397.2,293.2Z" fill="#005c05" stroke="#005c05"/><path d="M357.2,281.7L360.9,281.0 357.8,279.2 354.1,279.8Z" fill="#123700" stroke="#123700"/><path d="M288.8,273.7L292.6,273.0 289.5,272.1 285.8,272.8Z" fill="#020300" stroke="#020300"/><path d="M373.9,286.4L377.6,285.7 374.5,283.5 370.8,284.3Z" fill="#0f4600" stroke="#0f4600"/><path d="M271.6,274.7L275.3,273.7 272.3,273.1 268.6,274.0Z" fill="#000000" stroke="#000000"/><path d="M350.3,280.4L354.1,279.8 350.9,278.0 347.2,278.7Z" fill="#133200" stroke="#133200"/><path d="M412.9,302.8L416.6,301.7 413.6,299.0 409.9,300.1Z" fill="#00661c" stroke="#00661c"/><path d="M383.7,290.2L387.4,289.3 384.4,287.0 380.7,287.9Z" fill="#0a4f00" stroke="#0a4f00"/><path d="M295.6,273.9L299.4,273.2 296.3,272.3 292.6,273.0Z" fill="#030600" stroke="#030600"/><path d="M261.2,276.1L264.9,275.0 262.0,274.5 258.3,275.6Z" fill="#000000" stroke="#000000"/><path d="M250.9,278.0L254.6,276.8 251.7,276.4 248.0,277.7Z" fill="#000000" stroke="#000000"/><path d="M403.2,298.4L406.9,297.4 403.9,294.8 400.2,295.8Z" fill="#005f0b" stroke="#005f0b"/><path d="M343.5,279.3L347.2,278.7 344.1,277.0 340.4,277.6Z" fill="#132d00" stroke="#132d00"/><path d="M393.5,294.2L397.2,293.2 394.2,290.8 390.5,291.7Z" fill="#025800" stroke="#025800"/><path d="M367.1,285.0L370.8,284.3 367.7,282.3 364.0,283.0Z" fill="#114200" stroke="#114200"/><path d="M302.4,274.3L306.2,273.7 303.1,272.6 299.4,273.2Z" fill="#050900" stroke="#050900"/><path d="M336.7,278.2L340.4,277.6 337.3,276.0 333.5,276.6Z" fill="#122800" stroke="#122800"/><path d="M415.8,305.7L419.5,304.6 416.6,301.7 412.9,302.8Z" fill="#006924" stroke="#006924"/><path d="M278.3,274.5L282.1,273.6 279.0,272.9 275.3,273.7Z" fill="#010200" stroke="#010200"/><path d="M309.3,274.9L313.0,274.2 309.9,273.0 306.2,273.7Z" fill="#070d00" stroke="#070d00"/><path d="M329.8,277.2L333.5,276.6 330.4,275.1 326.7,275.7Z" fill="#102000" stroke="#102000"/><path d="M377.0,288.6L380.7,287.9 377.6,285.7 373.9,286.4Z" fill="#0d4b00" stroke="#0d4b00"/><path d="M360.3,283.6L364.0,283.0 360.9,281.0 357.2,281.7Z" fill="#133d00" stroke="#133d00"/><path d="M316.1,275.5L319.8,274.9 316.7,273.6 313.0,274.2Z" fill="#0a1300" stroke="#0a1300"/><path d="M323.0,276.3L326.7,275.7 323.6,274.3 319.8,274.9Z" fill="#0d1900" stroke="#0d1900"/><path d="M406.2,301.1L409.9,300.1 406.9,297.4 403.2,298.4Z" fill="#006212" stroke="#006212"/><path d="M386.8,292.5L390.5,291.7 387.4,289.3 383.7,290.2Z" fill="#075400" stroke="#075400"/><path d="M396.5,296.7L400.2,295.8 397.2,293.2 393.5,294.2Z" fill="#005b03" stroke="#005b03"/><path d="M267.9,275.7L271.6,274.7 268.6,274.0 264.9,275.0Z" fill="#010100" stroke="#010100"/><path d="M285.1,274.5L288.8,273.7 285.8,272.8 282.1,273.6Z" fill="#020400" stroke="#020400"/><path d="M353.5,282.3L357.2,281.7 354.1,279.8 350.3,280.4Z" fill="#143800" stroke="#143800"/><path d="M247.3,279.4L250.9,278.0 248.0,277.7 244.4,279.0Z" fill="#000000" stroke="#000000"/><path d="M370.2,287.2L373.9,286.4 370.8,284.3 367.1,285.0Z" fill="#114700" stroke="#114700"/><path d="M257.5,277.3L261.2,276.1 258.3,275.6 254.6,276.8Z" fill="#000000" stroke="#000000"/><path d="M409.2,303.9L412.9,302.8 409.9,300.1 406.2,301.1Z" fill="#00661a" stroke="#00661a"/><path d="M346.6,281.1L350.3,280.4 347.2,278.7 343.5,279.3Z" fill="#153300" stroke="#153300"/><path d="M291.9,274.7L295.6,273.9 292.6,273.0 288.8,273.7Z" fill="#040700" stroke="#040700"/><path d="M380.0,291.0L383.7,290.2 380.7,287.9 377.0,288.6Z" fill="#0b5000" stroke="#0b5000"/><path d="M399.5,299.4L403.2,298.4 400.2,295.8 396.5,296.7Z" fill="#005f09" stroke="#005f09"/><path d="M389.8,295.0L393.5,294.2 390.5,291.7 386.8,292.5Z" fill="#035800" stroke="#035800"/><path d="M363.4,285.7L367.1,285.0 364.0,283.0 360.3,283.6Z" fill="#134200" stroke="#134200"/><path d="M339.8,279.9L343.5,279.3 340.4,277.6 336.7,278.2Z" fill="#152e00" stroke="#152e00"/><path d="M412.1,306.9L415.8,305.7 412.9,302.8 409.2,303.9Z" fill="#006923" stroke="#006923"/><path d="M274.6,275.4L278.3,274.5 275.3,273.7 271.6,274.7Z" fill="#020300" stroke="#020300"/><path d="M298.7,275.0L302.4,274.3 299.4,273.2 295.6,273.9Z" fill="#060b00" stroke="#060b00"/><path d="M332.9,278.8L336.7,278.2 333.5,276.6 329.8,277.2Z" fill="#142900" stroke="#142900"/><path d="M305.5,275.5L309.3,274.9 306.2,273.7 302.4,274.3Z" fill="#090f00" stroke="#090f00"/><path d="M402.5,302.1L406.2,301.1 403.2,298.4 399.5,299.4Z" fill="#006210" stroke="#006210"/><path d="M326.1,277.8L329.8,277.2 326.7,275.7 323.0,276.3Z" fill="#122200" stroke="#122200"/><path d="M373.3,289.4L377.0,288.6 373.9,286.4 370.2,287.2Z" fill="#0f4b00" stroke="#0f4b00"/><path d="M312.4,276.2L316.1,275.5 313.0,274.2 309.3,274.9Z" fill="#0c1500" stroke="#0c1500"/><path d="M319.2,276.9L323.0,276.3 319.8,274.9 316.1,275.5Z" fill="#0f1b00" stroke="#0f1b00"/><path d="M356.6,284.3L360.3,283.6 357.2,281.7 353.5,282.3Z" fill="#153d00" stroke="#153d00"/><path d="M264.2,276.7L267.9,275.7 264.9,275.0 261.2,276.1Z" fill="#010200" stroke="#010200"/><path d="M392.8,297.6L396.5,296.7 393.5,294.2 389.8,295.0Z" fill="#005b01" stroke="#005b01"/><path d="M383.1,293.4L386.8,292.5 383.7,290.2 380.0,291.0Z" fill="#095400" stroke="#095400"/><path d="M253.9,278.5L257.5,277.3 254.6,276.8 250.9,278.0Z" fill="#010200" stroke="#010200"/><path d="M281.4,275.4L285.1,274.5 282.1,273.6 278.3,274.5Z" fill="#030600" stroke="#030600"/><path d="M349.7,283.0L353.5,282.3 350.3,280.4 346.6,281.1Z" fill="#163900" stroke="#163900"/><path d="M405.5,305.0L409.2,303.9 406.2,301.1 402.5,302.1Z" fill="#006518" stroke="#006518"/><path d="M366.5,287.9L370.2,287.2 367.1,285.0 363.4,285.7Z" fill="#134700" stroke="#134700"/><path d="M288.1,275.5L291.9,274.7 288.8,273.7 285.1,274.5Z" fill="#050900" stroke="#050900"/><path d="M395.9,300.3L399.5,299.4 396.5,296.7 392.8,297.6Z" fill="#005f07" stroke="#005f07"/><path d="M342.9,281.7L346.6,281.1 343.5,279.3 339.8,279.9Z" fill="#173400" stroke="#173400"/><path d="M376.3,291.8L380.0,291.0 377.0,288.6 373.3,289.4Z" fill="#0d5000" stroke="#0d5000"/><path d="M270.9,276.4L274.6,275.4 271.6,274.7 267.9,275.7Z" fill="#030400" stroke="#030400"/><path d="M386.1,295.9L389.8,295.0 386.8,292.5 383.1,293.4Z" fill="#055800" stroke="#055800"/><path d="M408.5,308.0L412.1,306.9 409.2,303.9 405.5,305.0Z" fill="#006821" stroke="#006821"/><path d="M359.7,286.4L363.4,285.7 360.3,283.6 356.6,284.3Z" fill="#154300" stroke="#154300"/><path d="M294.9,275.8L298.7,275.0 295.6,273.9 291.9,274.7Z" fill="#080d00" stroke="#080d00"/><path d="M336.0,280.5L339.8,279.9 336.7,278.2 332.9,278.8Z" fill="#172f00" stroke="#172f00"/><path d="M250.2,279.8L253.9,278.5 250.9,278.0 247.3,279.4Z" fill="#020300" stroke="#020300"/><path d="M260.5,277.9L264.2,276.7 261.2,276.1 257.5,277.3Z" fill="#020400" stroke="#020400"/><path d="M398.8,303.1L402.5,302.1 399.5,299.4 395.9,300.3Z" fill="#00620e" stroke="#00620e"/><path d="M329.2,279.4L332.9,278.8 329.8,277.2 326.1,277.8Z" fill="#162b00" stroke="#162b00"/><path d="M301.8,276.2L305.5,275.5 302.4,274.3 298.7,275.0Z" fill="#0a1100" stroke="#0a1100"/><path d="M369.5,290.2L373.3,289.4 370.2,287.2 366.5,287.9Z" fill="#114c00" stroke="#114c00"/><path d="M322.3,278.5L326.1,277.8 323.0,276.3 319.2,276.9Z" fill="#142500" stroke="#142500"/><path d="M308.6,276.9L312.4,276.2 309.3,274.9 305.5,275.5Z" fill="#0d1700" stroke="#0d1700"/><path d="M315.5,277.6L319.2,276.9 316.1,275.5 312.4,276.2Z" fill="#111d00" stroke="#111d00"/><path d="M277.6,276.3L281.4,275.4 278.3,274.5 274.6,275.4Z" fill="#040700" stroke="#040700"/><path d="M352.8,285.0L356.6,284.3 353.5,282.3 349.7,283.0Z" fill="#173e00" stroke="#173e00"/><path d="M389.2,298.5L392.8,297.6 389.8,295.0 386.1,295.9Z" fill="#015b00" stroke="#015b00"/><path d="M379.4,294.2L383.1,293.4 380.0,291.0 376.3,291.8Z" fill="#0b5400" stroke="#0b5400"/><path d="M401.8,306.0L405.5,305.0 402.5,302.1 398.8,303.1Z" fill="#006516" stroke="#006516"/><path d="M346.0,283.6L349.7,283.0 346.6,281.1 342.9,281.7Z" fill="#183a00" stroke="#183a00"/><path d="M362.8,288.6L366.5,287.9 363.4,285.7 359.7,286.4Z" fill="#154800" stroke="#154800"/><path d="M267.2,277.5L270.9,276.4 267.9,275.7 264.2,276.7Z" fill="#040600" stroke="#040600"/><path d="M284.4,276.4L288.1,275.5 285.1,274.5 281.4,275.4Z" fill="#070b00" stroke="#070b00"/><path d="M392.2,301.3L395.9,300.3 392.8,297.6 389.2,298.5Z" fill="#005f04" stroke="#005f04"/><path d="M404.8,309.0L408.5,308.0 405.5,305.0 401.8,306.0Z" fill="#00681f" stroke="#00681f"/><path d="M256.8,279.1L260.5,277.9 257.5,277.3 253.9,278.5Z" fill="#030600" stroke="#030600"/><path d="M372.6,292.5L376.3,291.8 373.3,289.4 369.5,290.2Z" fill="#105000" stroke="#105000"/><path d="M382.4,296.8L386.1,295.9 383.1,293.4 379.4,294.2Z" fill="#075800" stroke="#075800"/><path d="M339.2,282.4L342.9,281.7 339.8,279.9 336.0,280.5Z" fill="#193500" stroke="#193500"/><path d="M291.2,276.6L294.9,275.8 291.9,274.7 288.1,275.5Z" fill="#090f00" stroke="#090f00"/><path d="M355.9,287.1L359.7,286.4 356.6,284.3 352.8,285.0Z" fill="#174300" stroke="#174300"/><path d="M332.3,281.2L336.0,280.5 332.9,278.8 329.2,279.4Z" fill="#193100" stroke="#193100"/><path d="M395.2,304.1L398.8,303.1 395.9,300.3 392.2,301.3Z" fill="#00620b" stroke="#00620b"/><path d="M298.0,277.0L301.8,276.2 298.7,275.0 294.9,275.8Z" fill="#0c1400" stroke="#0c1400"/><path d="M273.9,277.3L277.6,276.3 274.6,275.4 270.9,276.4Z" fill="#060a00" stroke="#060a00"/><path d="M325.4,280.1L329.2,279.4 326.1,277.8 322.3,278.5Z" fill="#182c00" stroke="#182c00"/><path d="M304.9,277.6L308.6,276.9 305.5,275.5 301.8,276.2Z" fill="#101a00" stroke="#101a00"/><path d="M365.8,290.9L369.5,290.2 366.5,287.9 362.8,288.6Z" fill="#144c00" stroke="#144c00"/><path d="M318.6,279.1L322.3,278.5 319.2,276.9 315.5,277.6Z" fill="#172800" stroke="#172800"/><path d="M385.5,299.4L389.2,298.5 386.1,295.9 382.4,296.8Z" fill="#035c00" stroke="#035c00"/><path d="M311.7,278.3L315.5,277.6 312.4,276.2 308.6,276.9Z" fill="#132000" stroke="#132000"/><path d="M349.1,285.7L352.8,285.0 349.7,283.0 346.0,283.6Z" fill="#193f00" stroke="#193f00"/><path d="M375.7,295.0L379.4,294.2 376.3,291.8 372.6,292.5Z" fill="#0d5400" stroke="#0d5400"/><path d="M398.1,307.0L401.8,306.0 398.8,303.1 395.2,304.1Z" fill="#006613" stroke="#006613"/><path d="M263.5,278.6L267.2,277.5 264.2,276.7 260.5,277.9Z" fill="#050900" stroke="#050900"/><path d="M253.1,280.4L256.8,279.1 253.9,278.5 250.2,279.8Z" fill="#040800" stroke="#040800"/><path d="M280.7,277.3L284.4,276.4 281.4,275.4 277.6,276.3Z" fill="#080d00" stroke="#080d00"/><path d="M342.3,284.3L346.0,283.6 342.9,281.7 339.2,282.4Z" fill="#1a3b00" stroke="#1a3b00"/><path d="M359.0,289.3L362.8,288.6 359.7,286.4 355.9,287.1Z" fill="#174800" stroke="#174800"/><path d="M388.5,302.2L392.2,301.3 389.2,298.5 385.5,299.4Z" fill="#005f02" stroke="#005f02"/><path d="M401.1,310.0L404.8,309.0 401.8,306.0 398.1,307.0Z" fill="#00691c" stroke="#00691c"/><path d="M368.9,293.3L372.6,292.5 369.5,290.2 365.8,290.9Z" fill="#125100" stroke="#125100"/><path d="M378.7,297.6L382.4,296.8 379.4,294.2 375.7,295.0Z" fill="#0a5800" stroke="#0a5800"/><path d="M287.5,277.5L291.2,276.6 288.1,275.5 284.4,276.4Z" fill="#0b1200" stroke="#0b1200"/><path d="M335.4,283.0L339.2,282.4 336.0,280.5 332.3,281.2Z" fill="#1b3700" stroke="#1b3700"/><path d="M270.2,278.3L273.9,277.3 270.9,276.4 267.2,277.5Z" fill="#080c00" stroke="#080c00"/><path d="M352.2,287.8L355.9,287.1 352.8,285.0 349.1,285.7Z" fill="#1a4400" stroke="#1a4400"/><path d="M391.5,305.0L395.2,304.1 392.2,301.3 388.5,302.2Z" fill="#006309" stroke="#006309"/><path d="M328.6,281.8L332.3,281.2 329.2,279.4 325.4,280.1Z" fill="#1b3200" stroke="#1b3200"/><path d="M294.3,277.8L298.0,277.0 294.9,275.8 291.2,276.6Z" fill="#0f1700" stroke="#0f1700"/><path d="M259.8,279.8L263.5,278.6 260.5,277.9 256.8,279.1Z" fill="#070b00" stroke="#070b00"/><path d="M321.7,280.8L325.4,280.1 322.3,278.5 318.6,279.1Z" fill="#1a2e00" stroke="#1a2e00"/><path d="M301.1,278.3L304.9,277.6 301.8,276.2 298.0,277.0Z" fill="#121d00" stroke="#121d00"/><path d="M314.8,279.8L318.6,279.1 315.5,277.6 311.7,278.3Z" fill="#192a00" stroke="#192a00"/><path d="M381.8,300.3L385.5,299.4 382.4,296.8 378.7,297.6Z" fill="#055c00" stroke="#055c00"/><path d="M308.0,279.0L311.7,278.3 308.6,276.9 304.9,277.6Z" fill="#162300" stroke="#162300"/><path d="M362.1,291.6L365.8,290.9 362.8,288.6 359.0,289.3Z" fill="#164d00" stroke="#164d00"/><path d="M372.0,295.8L375.7,295.0 372.6,292.5 368.9,293.3Z" fill="#0f5500" stroke="#0f5500"/><path d="M394.4,308.0L398.1,307.0 395.2,304.1 391.5,305.0Z" fill="#006611" stroke="#006611"/><path d="M345.4,286.3L349.1,285.7 346.0,283.6 342.3,284.3Z" fill="#1b4000" stroke="#1b4000"/><path d="M276.9,278.3L280.7,277.3 277.6,276.3 273.9,277.3Z" fill="#0a1000" stroke="#0a1000"/><path d="M397.4,311.0L401.1,310.0 398.1,307.0 394.4,308.0Z" fill="#00691a" stroke="#00691a"/><path d="M338.5,285.0L342.3,284.3 339.2,282.4 335.4,283.0Z" fill="#1d3c00" stroke="#1d3c00"/><path d="M384.8,303.1L388.5,302.2 385.5,299.4 381.8,300.3Z" fill="#016000" stroke="#016000"/><path d="M355.3,290.0L359.0,289.3 355.9,287.1 352.2,287.8Z" fill="#194900" stroke="#194900"/><path d="M283.7,278.4L287.5,277.5 284.4,276.4 280.7,277.3Z" fill="#0e1500" stroke="#0e1500"/><path d="M266.5,279.5L270.2,278.3 267.2,277.5 263.5,278.6Z" fill="#0a0f00" stroke="#0a0f00"/><path d="M375.0,298.4L378.7,297.6 375.7,295.0 372.0,295.8Z" fill="#0c5900" stroke="#0c5900"/><path d="M365.2,294.1L368.9,293.3 365.8,290.9 362.1,291.6Z" fill="#145100" stroke="#145100"/><path d="M256.1,281.2L259.8,279.8 256.8,279.1 253.1,280.4Z" fill="#090e00" stroke="#090e00"/><path d="M331.7,283.7L335.4,283.0 332.3,281.2 328.6,281.8Z" fill="#1d3800" stroke="#1d3800"/><path d="M290.5,278.7L294.3,277.8 291.2,276.6 287.5,277.5Z" fill="#111a00" stroke="#111a00"/><path d="M387.8,305.9L391.5,305.0 388.5,302.2 384.8,303.1Z" fill="#006306" stroke="#006306"/><path d="M348.5,288.5L352.2,287.8 349.1,285.7 345.4,286.3Z" fill="#1c4500" stroke="#1c4500"/><path d="M324.8,282.5L328.6,281.8 325.4,280.1 321.7,280.8Z" fill="#1d3400" stroke="#1d3400"/><path d="M297.4,279.2L301.1,278.3 298.0,277.0 294.3,277.8Z" fill="#152000" stroke="#152000"/><path d="M317.9,281.5L321.7,280.8 318.6,279.1 314.8,279.8Z" fill="#1c3000" stroke="#1c3000"/><path d="M273.2,279.3L276.9,278.3 273.9,277.3 270.2,278.3Z" fill="#0d1400" stroke="#0d1400"/><path d="M304.2,279.8L308.0,279.0 304.9,277.6 301.1,278.3Z" fill="#192700" stroke="#192700"/><path d="M311.1,280.6L314.8,279.8 311.7,278.3 308.0,279.0Z" fill="#1b2c00" stroke="#1b2c00"/><path d="M378.1,301.1L381.8,300.3 378.7,297.6 375.0,298.4Z" fill="#085c00" stroke="#085c00"/><path d="M358.4,292.4L362.1,291.6 359.0,289.3 355.3,290.0Z" fill="#184e00" stroke="#184e00"/><path d="M390.7,308.9L394.4,308.0 391.5,305.0 387.8,305.9Z" fill="#00660e" stroke="#00660e"/><path d="M368.3,296.6L372.0,295.8 368.9,293.3 365.2,294.1Z" fill="#125500" stroke="#125500"/><path d="M341.6,287.0L345.4,286.3 342.3,284.3 338.5,285.0Z" fill="#1e4200" stroke="#1e4200"/><path d="M262.8,280.7L266.5,279.5 263.5,278.6 259.8,279.8Z" fill="#0c1300" stroke="#0c1300"/><path d="M393.7,312.0L397.4,311.0 394.4,308.0 390.7,308.9Z" fill="#006917" stroke="#006917"/><path d="M280.0,279.4L283.7,278.4 280.7,277.3 276.9,278.3Z" fill="#101900" stroke="#101900"/><path d="M381.1,303.9L384.8,303.1 381.8,300.3 378.1,301.1Z" fill="#036000" stroke="#036000"/><path d="M334.8,285.7L338.5,285.0 335.4,283.0 331.7,283.7Z" fill="#1f3e00" stroke="#1f3e00"/><path d="M351.6,290.7L355.3,290.0 352.2,287.8 348.5,288.5Z" fill="#1c4a00" stroke="#1c4a00"/><path d="M371.3,299.2L375.0,298.4 372.0,295.8 368.3,296.6Z" fill="#0e5900" stroke="#0e5900"/><path d="M361.5,294.8L365.2,294.1 362.1,291.6 358.4,292.4Z" fill="#165200" stroke="#165200"/><path d="M286.8,279.6L290.5,278.7 287.5,277.5 283.7,278.4Z" fill="#141e00" stroke="#141e00"/><path d="M327.9,284.4L331.7,283.7 328.6,281.8 324.8,282.5Z" fill="#203a00" stroke="#203a00"/><path d="M384.1,306.9L387.8,305.9 384.8,303.1 381.1,303.9Z" fill="#006304" stroke="#006304"/><path d="M269.5,280.5L273.2,279.3 270.2,278.3 266.5,279.5Z" fill="#0f1700" stroke="#0f1700"/><path d="M293.6,280.0L297.4,279.2 294.3,277.8 290.5,278.7Z" fill="#182400" stroke="#182400"/><path d="M321.0,283.3L324.8,282.5 321.7,280.8 317.9,281.5Z" fill="#203600" stroke="#203600"/><path d="M344.7,289.2L348.5,288.5 345.4,286.3 341.6,287.0Z" fill="#1e4700" stroke="#1e4700"/><path d="M314.2,282.2L317.9,281.5 314.8,279.8 311.1,280.6Z" fill="#1f3200" stroke="#1f3200"/><path d="M300.5,280.6L304.2,279.8 301.1,278.3 297.4,279.2Z" fill="#1c2a00" stroke="#1c2a00"/><path d="M259.1,282.0L262.8,280.7 259.8,279.8 256.1,281.2Z" fill="#0e1700" stroke="#0e1700"/><path d="M307.3,281.4L311.1,280.6 308.0,279.0 304.2,279.8Z" fill="#1e2e00" stroke="#1e2e00"/><path d="M374.3,302.0L378.1,301.1 375.0,298.4 371.3,299.2Z" fill="#0a5d00" stroke="#0a5d00"/><path d="M387.0,309.9L390.7,308.9 387.8,305.9 384.1,306.9Z" fill="#00660c" stroke="#00660c"/><path d="M354.7,293.1L358.4,292.4 355.3,290.0 351.6,290.7Z" fill="#1b4f00" stroke="#1b4f00"/><path d="M364.5,297.4L368.3,296.6 365.2,294.1 361.5,294.8Z" fill="#145600" stroke="#145600"/><path d="M337.9,287.7L341.6,287.0 338.5,285.0 334.8,285.7Z" fill="#204300" stroke="#204300"/><path d="M276.2,280.4L280.0,279.4 276.9,278.3 273.2,279.3Z" fill="#131d00" stroke="#131d00"/><path d="M390.0,313.0L393.7,312.0 390.7,308.9 387.0,309.9Z" fill="#006915" stroke="#006915"/><path d="M377.4,304.8L381.1,303.9 378.1,301.1 374.3,302.0Z" fill="#056100" stroke="#056100"/><path d="M331.0,286.4L334.8,285.7 331.7,283.7 327.9,284.4Z" fill="#223f00" stroke="#223f00"/><path d="M347.8,291.5L351.6,290.7 348.5,288.5 344.7,289.2Z" fill="#1e4b00" stroke="#1e4b00"/><path d="M283.0,280.6L286.8,279.6 283.7,278.4 280.0,279.4Z" fill="#182200" stroke="#182200"/><path d="M265.8,281.7L269.5,280.5 266.5,279.5 262.8,280.7Z" fill="#121c00" stroke="#121c00"/><path d="M367.6,300.0L371.3,299.2 368.3,296.6 364.5,297.4Z" fill="#115a00" stroke="#115a00"/><path d="M357.7,295.6L361.5,294.8 358.4,292.4 354.7,293.1Z" fill="#195300" stroke="#195300"/><path d="M324.2,285.1L327.9,284.4 324.8,282.5 321.0,283.3Z" fill="#223c00" stroke="#223c00"/><path d="M380.4,307.7L384.1,306.9 381.1,303.9 377.4,304.8Z" fill="#006401" stroke="#006401"/><path d="M289.9,280.9L293.6,280.0 290.5,278.7 286.8,279.6Z" fill="#1c2900" stroke="#1c2900"/><path d="M317.3,284.0L321.0,283.3 317.9,281.5 314.2,282.2Z" fill="#223800" stroke="#223800"/><path d="M341.0,289.9L344.7,289.2 341.6,287.0 337.9,287.7Z" fill="#214800" stroke="#214800"/><path d="M296.7,281.5L300.5,280.6 297.4,279.2 293.6,280.0Z" fill="#1e2d00" stroke="#1e2d00"/><path d="M310.4,283.0L314.2,282.2 311.1,280.6 307.3,281.4Z" fill="#213500" stroke="#213500"/><path d="M303.6,282.2L307.3,281.4 304.2,279.8 300.5,280.6Z" fill="#203100" stroke="#203100"/><path d="M272.5,281.6L276.2,280.4 273.2,279.3 269.5,280.5Z" fill="#172100" stroke="#172100"/><path d="M370.6,302.8L374.3,302.0 371.3,299.2 367.6,300.0Z" fill="#0c5e00" stroke="#0c5e00"/><path d="M383.3,310.8L387.0,309.9 384.1,306.9 380.4,307.7Z" fill="#006709" stroke="#006709"/><path d="M350.9,293.9L354.7,293.1 351.6,290.7 347.8,291.5Z" fill="#1d5000" stroke="#1d5000"/><path d="M360.8,298.2L364.5,297.4 361.5,294.8 357.7,295.6Z" fill="#165700" stroke="#165700"/><path d="M334.1,288.5L337.9,287.7 334.8,285.7 331.0,286.4Z" fill="#234500" stroke="#234500"/><path d="M386.3,314.0L390.0,313.0 387.0,309.9 383.3,310.8Z" fill="#006a12" stroke="#006a12"/><path d="M262.0,283.0L265.8,281.7 262.8,280.7 259.1,282.0Z" fill="#152000" stroke="#152000"/><path d="M279.3,281.7L283.0,280.6 280.0,279.4 276.2,280.4Z" fill="#1b2700" stroke="#1b2700"/><path d="M373.6,305.7L377.4,304.8 374.3,302.0 370.6,302.8Z" fill="#076100" stroke="#076100"/><path d="M327.3,287.1L331.0,286.4 327.9,284.4 324.2,285.1Z" fill="#244100" stroke="#244100"/><path d="M344.1,292.2L347.8,291.5 344.7,289.2 341.0,289.9Z" fill="#214d00" stroke="#214d00"/><path d="M363.9,300.8L367.6,300.0 364.5,297.4 360.8,298.2Z" fill="#135b00" stroke="#135b00"/><path d="M286.1,281.9L289.9,280.9 286.8,279.6 283.0,280.6Z" fill="#1f2c00" stroke="#1f2c00"/><path d="M354.0,296.4L357.7,295.6 354.7,293.1 350.9,293.9Z" fill="#1b5400" stroke="#1b5400"/><path d="M320.4,285.9L324.2,285.1 321.0,283.3 317.3,284.0Z" fill="#253e00" stroke="#253e00"/><path d="M376.7,308.6L380.4,307.7 377.4,304.8 373.6,305.7Z" fill="#026400" stroke="#026400"/><path d="M268.8,282.8L272.5,281.6 269.5,280.5 265.8,281.7Z" fill="#1a2600" stroke="#1a2600"/><path d="M292.9,282.4L296.7,281.5 293.6,280.0 289.9,280.9Z" fill="#213000" stroke="#213000"/><path d="M313.5,284.8L317.3,284.0 314.2,282.2 310.4,283.0Z" fill="#253a00" stroke="#253a00"/><path d="M299.8,283.1L303.6,282.2 300.5,280.6 296.7,281.5Z" fill="#233300" stroke="#233300"/><path d="M306.7,283.9L310.4,283.0 307.3,281.4 303.6,282.2Z" fill="#243700" stroke="#243700"/><path d="M337.2,290.7L341.0,289.9 337.9,287.7 334.1,288.5Z" fill="#234a00" stroke="#234a00"/><path d="M379.6,311.7L383.3,310.8 380.4,307.7 376.7,308.6Z" fill="#006806" stroke="#006806"/><path d="M366.9,303.6L370.6,302.8 367.6,300.0 363.9,300.8Z" fill="#0f5f00" stroke="#0f5f00"/><path d="M347.2,294.6L350.9,293.9 347.8,291.5 344.1,292.2Z" fill="#205100" stroke="#205100"/><path d="M357.1,299.0L360.8,298.2 357.7,295.6 354.0,296.4Z" fill="#195800" stroke="#195800"/><path d="M275.5,282.8L279.3,281.7 276.2,280.4 272.5,281.6Z" fill="#1f2c00" stroke="#1f2c00"/><path d="M330.4,289.3L334.1,288.5 331.0,286.4 327.3,287.1Z" fill="#254600" stroke="#254600"/><path d="M382.6,314.9L386.3,314.0 383.3,310.8 379.6,311.7Z" fill="#006a0f" stroke="#006a0f"/><path d="M369.9,306.5L373.6,305.7 370.6,302.8 366.9,303.6Z" fill="#0a6200" stroke="#0a6200"/><path d="M323.5,287.9L327.3,287.1 324.2,285.1 320.4,285.9Z" fill="#274300" stroke="#274300"/><path d="M282.3,283.0L286.1,281.9 283.0,280.6 279.3,281.7Z" fill="#223000" stroke="#223000"/><path d="M265.1,284.1L268.8,282.8 265.8,281.7 262.0,283.0Z" fill="#1e2c00" stroke="#1e2c00"/><path d="M340.3,293.0L344.1,292.2 341.0,289.9 337.2,290.7Z" fill="#234e00" stroke="#234e00"/><path d="M360.1,301.7L363.9,300.8 360.8,298.2 357.1,299.0Z" fill="#155c00" stroke="#155c00"/><path d="M316.6,286.7L320.4,285.9 317.3,284.0 313.5,284.8Z" fill="#274000" stroke="#274000"/><path d="M350.3,297.1L354.0,296.4 350.9,293.9 347.2,294.6Z" fill="#1e5500" stroke="#1e5500"/><path d="M289.2,283.4L292.9,282.4 289.9,280.9 286.1,281.9Z" fill="#243300" stroke="#243300"/><path d="M372.9,309.5L376.7,308.6 373.6,305.7 369.9,306.5Z" fill="#046500" stroke="#046500"/><path d="M309.8,285.7L313.5,284.8 310.4,283.0 306.7,283.9Z" fill="#273d00" stroke="#273d00"/><path d="M296.0,284.0L299.8,283.1 296.7,281.5 292.9,282.4Z" fill="#263600" stroke="#263600"/><path d="M302.9,284.8L306.7,283.9 303.6,282.2 299.8,283.1Z" fill="#273a00" stroke="#273a00"/><path d="M333.5,291.5L337.2,290.7 334.1,288.5 330.4,289.3Z" fill="#264b00" stroke="#264b00"/><path d="M271.8,284.0L275.5,282.8 272.5,281.6 268.8,282.8Z" fill="#223000" stroke="#223000"/><path d="M375.9,312.6L379.6,311.7 376.7,308.6 372.9,309.5Z" fill="#006803" stroke="#006803"/><path d="M363.2,304.5L366.9,303.6 363.9,300.8 360.1,301.7Z" fill="#116000" stroke="#116000"/><path d="M343.4,295.4L347.2,294.6 344.1,292.2 340.3,293.0Z" fill="#225300" stroke="#225300"/><path d="M353.3,299.8L357.1,299.0 354.0,296.4 350.3,297.1Z" fill="#1b5900" stroke="#1b5900"/><path d="M326.6,290.1L330.4,289.3 327.3,287.1 323.5,287.9Z" fill="#284800" stroke="#284800"/><path d="M378.9,315.9L382.6,314.9 379.6,311.7 375.9,312.6Z" fill="#006b0d" stroke="#006b0d"/><path d="M278.6,284.1L282.3,283.0 279.3,281.7 275.5,282.8Z" fill="#243300" stroke="#243300"/><path d="M366.2,307.4L369.9,306.5 366.9,303.6 363.2,304.5Z" fill="#0c6300" stroke="#0c6300"/><path d="M319.7,288.8L323.5,287.9 320.4,285.9 316.6,286.7Z" fill="#2a4500" stroke="#2a4500"/><path d="M285.4,284.5L289.2,283.4 286.1,281.9 282.3,283.0Z" fill="#273600" stroke="#273600"/><path d="M336.6,293.8L340.3,293.0 337.2,290.7 333.5,291.5Z" fill="#265000" stroke="#265000"/><path d="M312.9,287.6L316.6,286.7 313.5,284.8 309.8,285.7Z" fill="#2a4200" stroke="#2a4200"/><path d="M356.4,302.5L360.1,301.7 357.1,299.0 353.3,299.8Z" fill="#185d00" stroke="#185d00"/><path d="M292.3,285.0L296.0,284.0 292.9,282.4 289.2,283.4Z" fill="#283900" stroke="#283900"/><path d="M346.5,298.0L350.3,297.1 347.2,294.6 343.4,295.4Z" fill="#215700" stroke="#215700"/><path d="M268.1,285.3L271.8,284.0 268.8,282.8 265.1,284.1Z" fill="#243300" stroke="#243300"/><path d="M369.2,310.4L372.9,309.5 369.9,306.5 366.2,307.4Z" fill="#066600" stroke="#066600"/><path d="M306.0,286.6L309.8,285.7 306.7,283.9 302.9,284.8Z" fill="#2a3f00" stroke="#2a3f00"/><path d="M299.1,285.7L302.9,284.8 299.8,283.1 296.0,284.0Z" fill="#2a3c00" stroke="#2a3c00"/><path d="M329.7,292.3L333.5,291.5 330.4,289.3 326.6,290.1Z" fill="#294d00" stroke="#294d00"/><path d="M372.2,313.6L375.9,312.6 372.9,309.5 369.2,310.4Z" fill="#006900" stroke="#006900"/><path d="M359.4,305.3L363.2,304.5 360.1,301.7 356.4,302.5Z" fill="#146100" stroke="#146100"/><path d="M274.9,285.4L278.6,284.1 275.5,282.8 271.8,284.0Z" fill="#273600" stroke="#273600"/><path d="M339.7,296.2L343.4,295.4 340.3,293.0 336.6,293.8Z" fill="#255400" stroke="#255400"/><path d="M349.6,300.6L353.3,299.8 350.3,297.1 346.5,298.0Z" fill="#1e5b00" stroke="#1e5b00"/><path d="M375.2,316.8L378.9,315.9 375.9,312.6 372.2,313.6Z" fill="#006c0a" stroke="#006c0a"/><path d="M322.9,290.9L326.6,290.1 323.5,287.9 319.7,288.8Z" fill="#2b4a00" stroke="#2b4a00"/><path d="M281.7,285.6L285.4,284.5 282.3,283.0 278.6,284.1Z" fill="#293900" stroke="#293900"/><path d="M362.5,308.3L366.2,307.4 363.2,304.5 359.4,305.3Z" fill="#0f6400" stroke="#0f6400"/><path d="M316.0,289.6L319.7,288.8 316.6,286.7 312.9,287.6Z" fill="#2c4700" stroke="#2c4700"/><path d="M288.5,286.1L292.3,285.0 289.2,283.4 285.4,284.5Z" fill="#2b3c00" stroke="#2b3c00"/><path d="M332.8,294.6L336.6,293.8 333.5,291.5 329.7,292.3Z" fill="#295200" stroke="#295200"/><path d="M309.1,288.5L312.9,287.6 309.8,285.7 306.0,286.6Z" fill="#2d4500" stroke="#2d4500"/><path d="M352.7,303.4L356.4,302.5 353.3,299.8 349.6,300.6Z" fill="#1b5e00" stroke="#1b5e00"/><path d="M295.4,286.7L299.1,285.7 296.0,284.0 292.3,285.0Z" fill="#2c3f00" stroke="#2c3f00"/><path d="M302.2,287.5L306.0,286.6 302.9,284.8 299.1,285.7Z" fill="#2d4200" stroke="#2d4200"/><path d="M342.8,298.8L346.5,298.0 343.4,295.4 339.7,296.2Z" fill="#235800" stroke="#235800"/><path d="M365.5,311.4L369.2,310.4 366.2,307.4 362.5,308.3Z" fill="#096700" stroke="#096700"/><path d="M271.1,286.7L274.9,285.4 271.8,284.0 268.1,285.3Z" fill="#293a00" stroke="#293a00"/><path d="M326.0,293.1L329.7,292.3 326.6,290.1 322.9,290.9Z" fill="#2b4f00" stroke="#2b4f00"/><path d="M368.5,314.5L372.2,313.6 369.2,310.4 365.5,311.4Z" fill="#026a00" stroke="#026a00"/><path d="M355.7,306.2L359.4,305.3 356.4,302.5 352.7,303.4Z" fill="#166200" stroke="#166200"/><path d="M335.9,297.1L339.7,296.2 336.6,293.8 332.8,294.6Z" fill="#285600" stroke="#285600"/><path d="M277.9,286.8L281.7,285.6 278.6,284.1 274.9,285.4Z" fill="#2c3c00" stroke="#2c3c00"/><path d="M319.1,291.8L322.9,290.9 319.7,288.8 316.0,289.6Z" fill="#2e4c00" stroke="#2e4c00"/><path d="M371.5,317.8L375.2,316.8 372.2,313.6 368.5,314.5Z" fill="#006d07" stroke="#006d07"/><path d="M345.8,301.5L349.6,300.6 346.5,298.0 342.8,298.8Z" fill="#215c00" stroke="#215c00"/><path d="M312.2,290.5L316.0,289.6 312.9,287.6 309.1,288.5Z" fill="#2f4a00" stroke="#2f4a00"/><path d="M284.7,287.2L288.5,286.1 285.4,284.5 281.7,285.6Z" fill="#2e3f00" stroke="#2e3f00"/><path d="M358.7,309.2L362.5,308.3 359.4,305.3 355.7,306.2Z" fill="#116500" stroke="#116500"/><path d="M305.3,289.5L309.1,288.5 306.0,286.6 302.2,287.5Z" fill="#304700" stroke="#304700"/><path d="M291.6,287.8L295.4,286.7 292.3,285.0 288.5,286.1Z" fill="#2f4200" stroke="#2f4200"/><path d="M329.1,295.5L332.8,294.6 329.7,292.3 326.0,293.1Z" fill="#2b5300" stroke="#2b5300"/><path d="M298.5,288.5L302.2,287.5 299.1,285.7 295.4,286.7Z" fill="#304400" stroke="#304400"/><path d="M348.9,304.2L352.7,303.4 349.6,300.6 345.8,301.5Z" fill="#1d6000" stroke="#1d6000"/><path d="M339.0,299.7L342.8,298.8 339.7,296.2 335.9,297.1Z" fill="#265a00" stroke="#265a00"/><path d="M361.8,312.3L365.5,311.4 362.5,308.3 358.7,309.2Z" fill="#0b6800" stroke="#0b6800"/><path d="M322.2,294.0L326.0,293.1 322.9,290.9 319.1,291.8Z" fill="#2e5100" stroke="#2e5100"/><path d="M274.2,288.2L277.9,286.8 274.9,285.4 271.1,286.7Z" fill="#2e4000" stroke="#2e4000"/><path d="M364.8,315.5L368.5,314.5 365.5,311.4 361.8,312.3Z" fill="#046b00" stroke="#046b00"/><path d="M352.0,307.1L355.7,306.2 352.7,303.4 348.9,304.2Z" fill="#196300" stroke="#196300"/><path d="M315.3,292.7L319.1,291.8 316.0,289.6 312.2,290.5Z" fill="#304e00" stroke="#304e00"/><path d="M332.2,298.0L335.9,297.1 332.8,294.6 329.1,295.5Z" fill="#2a5700" stroke="#2a5700"/><path d="M367.8,318.8L371.5,317.8 368.5,314.5 364.8,315.5Z" fill="#006e05" stroke="#006e05"/><path d="M281.0,288.4L284.7,287.2 281.7,285.6 277.9,286.8Z" fill="#304200" stroke="#304200"/><path d="M342.1,302.4L345.8,301.5 342.8,298.8 339.0,299.7Z" fill="#235d00" stroke="#235d00"/><path d="M308.4,291.5L312.2,290.5 309.1,288.5 305.3,289.5Z" fill="#324c00" stroke="#324c00"/><path d="M287.8,288.9L291.6,287.8 288.5,286.1 284.7,287.2Z" fill="#324500" stroke="#324500"/><path d="M355.0,310.1L358.7,309.2 355.7,306.2 352.0,307.1Z" fill="#136600" stroke="#136600"/><path d="M301.6,290.5L305.3,289.5 302.2,287.5 298.5,288.5Z" fill="#324a00" stroke="#324a00"/><path d="M294.7,289.6L298.5,288.5 295.4,286.7 291.6,287.8Z" fill="#324700" stroke="#324700"/><path d="M325.3,296.4L329.1,295.5 326.0,293.1 322.2,294.0Z" fill="#2e5500" stroke="#2e5500"/><path d="M345.2,305.2L348.9,304.2 345.8,301.5 342.1,302.4Z" fill="#206100" stroke="#206100"/><path d="M335.2,300.6L339.0,299.7 335.9,297.1 332.2,298.0Z" fill="#285b00" stroke="#285b00"/><path d="M358.0,313.3L361.8,312.3 358.7,309.2 355.0,310.1Z" fill="#0d6900" stroke="#0d6900"/><path d="M318.4,295.0L322.2,294.0 319.1,291.8 315.3,292.7Z" fill="#315300" stroke="#315300"/><path d="M361.0,316.5L364.8,315.5 361.8,312.3 358.0,313.3Z" fill="#066c00" stroke="#066c00"/><path d="M277.2,289.8L281.0,288.4 277.9,286.8 274.2,288.2Z" fill="#334500" stroke="#334500"/><path d="M348.2,308.1L352.0,307.1 348.9,304.2 345.2,305.2Z" fill="#1b6400" stroke="#1b6400"/><path d="M311.5,293.7L315.3,292.7 312.2,290.5 308.4,291.5Z" fill="#335100" stroke="#335100"/><path d="M328.4,298.9L332.2,298.0 329.1,295.5 325.3,296.4Z" fill="#2d5900" stroke="#2d5900"/><path d="M364.0,319.8L367.8,318.8 364.8,315.5 361.0,316.5Z" fill="#006f02" stroke="#006f02"/><path d="M284.1,290.2L287.8,288.9 284.7,287.2 281.0,288.4Z" fill="#344800" stroke="#344800"/><path d="M338.3,303.3L342.1,302.4 339.0,299.7 335.2,300.6Z" fill="#265f00" stroke="#265f00"/><path d="M304.7,292.6L308.4,291.5 305.3,289.5 301.6,290.5Z" fill="#344e00" stroke="#344e00"/><path d="M290.9,290.8L294.7,289.6 291.6,287.8 287.8,288.9Z" fill="#354a00" stroke="#354a00"/><path d="M297.8,291.6L301.6,290.5 298.5,288.5 294.7,289.6Z" fill="#354c00" stroke="#354c00"/><path d="M351.3,311.1L355.0,310.1 352.0,307.1 348.2,308.1Z" fill="#166700" stroke="#166700"/><path d="M321.5,297.4L325.3,296.4 322.2,294.0 318.4,295.0Z" fill="#305700" stroke="#305700"/><path d="M341.4,306.1L345.2,305.2 342.1,302.4 338.3,303.3Z" fill="#226200" stroke="#226200"/><path d="M331.5,301.5L335.2,300.6 332.2,298.0 328.4,298.9Z" fill="#2b5d00" stroke="#2b5d00"/><path d="M354.3,314.2L358.0,313.3 355.0,310.1 351.3,311.1Z" fill="#106a00" stroke="#106a00"/><path d="M314.6,296.0L318.4,295.0 315.3,292.7 311.5,293.7Z" fill="#335500" stroke="#335500"/><path d="M357.3,317.5L361.0,316.5 358.0,313.3 354.3,314.2Z" fill="#086d00" stroke="#086d00"/><path d="M280.3,291.5L284.1,290.2 281.0,288.4 277.2,289.8Z" fill="#364b00" stroke="#364b00"/><path d="M307.8,294.7L311.5,293.7 308.4,291.5 304.7,292.6Z" fill="#365300" stroke="#365300"/><path d="M344.5,309.0L348.2,308.1 345.2,305.2 341.4,306.1Z" fill="#1d6600" stroke="#1d6600"/><path d="M324.6,299.9L328.4,298.9 325.3,296.4 321.5,297.4Z" fill="#2f5b00" stroke="#2f5b00"/><path d="M287.2,292.0L290.9,290.8 287.8,288.9 284.1,290.2Z" fill="#374d00" stroke="#374d00"/><path d="M360.3,320.8L364.0,319.8 361.0,316.5 357.3,317.5Z" fill="#007000" stroke="#007000"/><path d="M300.9,293.7L304.7,292.6 301.6,290.5 297.8,291.6Z" fill="#375100" stroke="#375100"/><path d="M294.0,292.8L297.8,291.6 294.7,289.6 290.9,290.8Z" fill="#374f00" stroke="#374f00"/><path d="M334.6,304.3L338.3,303.3 335.2,300.6 331.5,301.5Z" fill="#286100" stroke="#286100"/><path d="M347.5,312.1L351.3,311.1 348.2,308.1 344.5,309.0Z" fill="#186900" stroke="#186900"/><path d="M317.7,298.4L321.5,297.4 318.4,295.0 314.6,296.0Z" fill="#335900" stroke="#335900"/><path d="M337.6,307.1L341.4,306.1 338.3,303.3 334.6,304.3Z" fill="#246400" stroke="#246400"/><path d="M327.7,302.5L331.5,301.5 328.4,298.9 324.6,299.9Z" fill="#2d5f00" stroke="#2d5f00"/><path d="M350.5,315.3L354.3,314.2 351.3,311.1 347.5,312.1Z" fill="#126c00" stroke="#126c00"/><path d="M310.9,297.1L314.6,296.0 311.5,293.7 307.8,294.7Z" fill="#365700" stroke="#365700"/><path d="M304.0,295.9L307.8,294.7 304.7,292.6 300.9,293.7Z" fill="#385500" stroke="#385500"/><path d="M283.4,293.3L287.2,292.0 284.1,290.2 280.3,291.5Z" fill="#395000" stroke="#395000"/><path d="M353.6,318.5L357.3,317.5 354.3,314.2 350.5,315.3Z" fill="#0b6e00" stroke="#0b6e00"/><path d="M297.1,294.8L300.9,293.7 297.8,291.6 294.0,292.8Z" fill="#395400" stroke="#395400"/><path d="M290.3,294.0L294.0,292.8 290.9,290.8 287.2,292.0Z" fill="#3a5200" stroke="#3a5200"/><path d="M340.7,310.1L344.5,309.0 341.4,306.1 337.6,307.1Z" fill="#206700" stroke="#206700"/><path d="M320.8,300.9L324.6,299.9 321.5,297.4 317.7,298.4Z" fill="#325d00" stroke="#325d00"/><path d="M356.6,321.9L360.3,320.8 357.3,317.5 353.6,318.5Z" fill="#027100" stroke="#027100"/><path d="M330.8,305.3L334.6,304.3 331.5,301.5 327.7,302.5Z" fill="#2a6200" stroke="#2a6200"/><path d="M343.7,313.1L347.5,312.1 344.5,309.0 340.7,310.1Z" fill="#1a6a00" stroke="#1a6a00"/><path d="M314.0,299.5L317.7,298.4 314.6,296.0 310.9,297.1Z" fill="#355b00" stroke="#355b00"/><path d="M333.9,308.1L337.6,307.1 334.6,304.3 330.8,305.3Z" fill="#276600" stroke="#276600"/><path d="M323.9,303.6L327.7,302.5 324.6,299.9 320.8,300.9Z" fill="#306100" stroke="#306100"/><path d="M307.1,298.2L310.9,297.1 307.8,294.7 304.0,295.9Z" fill="#385a00" stroke="#385a00"/><path d="M346.8,316.3L350.5,315.3 347.5,312.1 343.7,313.1Z" fill="#146d00" stroke="#146d00"/><path d="M300.2,297.0L304.0,295.9 300.9,293.7 297.1,294.8Z" fill="#3a5800" stroke="#3a5800"/><path d="M286.5,295.3L290.3,294.0 287.2,292.0 283.4,293.3Z" fill="#3c5400" stroke="#3c5400"/><path d="M293.4,296.1L297.1,294.8 294.0,292.8 290.3,294.0Z" fill="#3b5600" stroke="#3b5600"/><path d="M349.8,319.6L353.6,318.5 350.5,315.3 346.8,316.3Z" fill="#0c7000" stroke="#0c7000"/><path d="M317.1,302.0L320.8,300.9 317.7,298.4 314.0,299.5Z" fill="#345f00" stroke="#345f00"/><path d="M336.9,311.1L340.7,310.1 337.6,307.1 333.9,308.1Z" fill="#226900" stroke="#226900"/><path d="M352.8,323.0L356.6,321.9 353.6,318.5 349.8,319.6Z" fill="#047200" stroke="#047200"/><path d="M327.0,306.3L330.8,305.3 327.7,302.5 323.9,303.6Z" fill="#2d6400" stroke="#2d6400"/><path d="M310.2,300.6L314.0,299.5 310.9,297.1 307.1,298.2Z" fill="#385d00" stroke="#385d00"/><path d="M340.0,314.2L343.7,313.1 340.7,310.1 336.9,311.1Z" fill="#1c6c00" stroke="#1c6c00"/><path d="M303.3,299.4L307.1,298.2 304.0,295.9 300.2,297.0Z" fill="#3a5c00" stroke="#3a5c00"/><path d="M320.2,304.7L323.9,303.6 320.8,300.9 317.1,302.0Z" fill="#326300" stroke="#326300"/><path d="M330.1,309.2L333.9,308.1 330.8,305.3 327.0,306.3Z" fill="#296700" stroke="#296700"/><path d="M343.0,317.4L346.8,316.3 343.7,313.1 340.0,314.2Z" fill="#166e00" stroke="#166e00"/><path d="M296.5,298.3L300.2,297.0 297.1,294.8 293.4,296.1Z" fill="#3c5a00" stroke="#3c5a00"/><path d="M289.6,297.4L293.4,296.1 290.3,294.0 286.5,295.3Z" fill="#3d5900" stroke="#3d5900"/><path d="M346.1,320.7L349.8,319.6 346.8,316.3 343.0,317.4Z" fill="#0e7100" stroke="#0e7100"/><path d="M313.3,303.2L317.1,302.0 314.0,299.5 310.2,300.6Z" fill="#366100" stroke="#366100"/><path d="M333.2,312.2L336.9,311.1 333.9,308.1 330.1,309.2Z" fill="#246a00" stroke="#246a00"/><path d="M349.1,324.2L352.8,323.0 349.8,319.6 346.1,320.7Z" fill="#067300" stroke="#067300"/><path d="M323.3,307.5L327.0,306.3 323.9,303.6 320.2,304.7Z" fill="#2f6600" stroke="#2f6600"/><path d="M306.4,301.8L310.2,300.6 307.1,298.2 303.3,299.4Z" fill="#3a6000" stroke="#3a6000"/><path d="M336.2,315.3L340.0,314.2 336.9,311.1 333.2,312.2Z" fill="#1e6d00" stroke="#1e6d00"/><path d="M299.6,300.7L303.3,299.4 300.2,297.0 296.5,298.3Z" fill="#3c5e00" stroke="#3c5e00"/><path d="M292.7,299.7L296.5,298.3 293.4,296.1 289.6,297.4Z" fill="#3e5d00" stroke="#3e5d00"/><path d="M316.4,305.9L320.2,304.7 317.1,302.0 313.3,303.2Z" fill="#346500" stroke="#346500"/><path d="M326.3,310.4L330.1,309.2 327.0,306.3 323.3,307.5Z" fill="#2b6900" stroke="#2b6900"/><path d="M339.3,318.6L343.0,317.4 340.0,314.2 336.2,315.3Z" fill="#177000" stroke="#177000"/><path d="M342.3,321.9L346.1,320.7 343.0,317.4 339.3,318.6Z" fill="#107200" stroke="#107200"/><path d="M309.5,304.4L313.3,303.2 310.2,300.6 306.4,301.8Z" fill="#386300" stroke="#386300"/><path d="M329.4,313.4L333.2,312.2 330.1,309.2 326.3,310.4Z" fill="#266c00" stroke="#266c00"/><path d="M345.3,325.4L349.1,324.2 346.1,320.7 342.3,321.9Z" fill="#077500" stroke="#077500"/><path d="M319.5,308.7L323.3,307.5 320.2,304.7 316.4,305.9Z" fill="#316800" stroke="#316800"/><path d="M302.7,303.1L306.4,301.8 303.3,299.4 299.6,300.7Z" fill="#3b6200" stroke="#3b6200"/><path d="M295.8,302.0L299.6,300.7 296.5,298.3 292.7,299.7Z" fill="#3e6000" stroke="#3e6000"/><path d="M332.5,316.5L336.2,315.3 333.2,312.2 329.4,313.4Z" fill="#206f00" stroke="#206f00"/><path d="M312.6,307.1L316.4,305.9 313.3,303.2 309.5,304.4Z" fill="#366600" stroke="#366600"/><path d="M322.6,311.6L326.3,310.4 323.3,307.5 319.5,308.7Z" fill="#2c6b00" stroke="#2c6b00"/><path d="M335.5,319.8L339.3,318.6 336.2,315.3 332.5,316.5Z" fill="#197100" stroke="#197100"/><path d="M305.8,305.7L309.5,304.4 306.4,301.8 302.7,303.1Z" fill="#3a6500" stroke="#3a6500"/><path d="M338.6,323.2L342.3,321.9 339.3,318.6 335.5,319.8Z" fill="#117400" stroke="#117400"/><path d="M325.6,314.6L329.4,313.4 326.3,310.4 322.6,311.6Z" fill="#276e00" stroke="#276e00"/><path d="M315.7,309.9L319.5,308.7 316.4,305.9 312.6,307.1Z" fill="#326a00" stroke="#326a00"/><path d="M298.9,304.5L302.7,303.1 299.6,300.7 295.8,302.0Z" fill="#3d6400" stroke="#3d6400"/><path d="M341.6,326.6L345.3,325.4 342.3,321.9 338.6,323.2Z" fill="#087600" stroke="#087600"/><path d="M328.7,317.8L332.5,316.5 329.4,313.4 325.6,314.6Z" fill="#217000" stroke="#217000"/><path d="M308.9,308.4L312.6,307.1 309.5,304.4 305.8,305.7Z" fill="#376800" stroke="#376800"/><path d="M318.8,312.9L322.6,311.6 319.5,308.7 315.7,309.9Z" fill="#2e6d00" stroke="#2e6d00"/><path d="M331.8,321.0L335.5,319.8 332.5,316.5 328.7,317.8Z" fill="#1a7300" stroke="#1a7300"/><path d="M302.0,307.1L305.8,305.7 302.7,303.1 298.9,304.5Z" fill="#3b6700" stroke="#3b6700"/><path d="M334.8,324.4L338.6,323.2 335.5,319.8 331.8,321.0Z" fill="#127500" stroke="#127500"/><path d="M321.9,315.9L325.6,314.6 322.6,311.6 318.8,312.9Z" fill="#296f00" stroke="#296f00"/><path d="M311.9,311.2L315.7,309.9 312.6,307.1 308.9,308.4Z" fill="#346c00" stroke="#346c00"/><path d="M337.8,328.0L341.6,326.6 338.6,323.2 334.8,324.4Z" fill="#097700" stroke="#097700"/><path d="M324.9,319.1L328.7,317.8 325.6,314.6 321.9,315.9Z" fill="#227200" stroke="#227200"/><path d="M305.1,309.8L308.9,308.4 305.8,305.7 302.0,307.1Z" fill="#386a00" stroke="#386a00"/><path d="M315.0,314.2L318.8,312.9 315.7,309.9 311.9,311.2Z" fill="#2f6e00" stroke="#2f6e00"/><path d="M328.0,322.4L331.8,321.0 328.7,317.8 324.9,319.1Z" fill="#1b7400" stroke="#1b7400"/><path d="M331.0,325.8L334.8,324.4 331.8,321.0 328.0,322.4Z" fill="#137700" stroke="#137700"/><path d="M308.2,312.7L311.9,311.2 308.9,308.4 305.1,309.8Z" fill="#356d00" stroke="#356d00"/><path d="M318.1,317.3L321.9,315.9 318.8,312.9 315.0,314.2Z" fill="#2a7100" stroke="#2a7100"/><path d="M334.1,329.3L337.8,328.0 334.8,324.4 331.0,325.8Z" fill="#0a7900" stroke="#0a7900"/><path d="M321.2,320.5L324.9,319.1 321.9,315.9 318.1,317.3Z" fill="#237400" stroke="#237400"/><path d="M311.3,315.6L315.0,314.2 311.9,311.2 308.2,312.7Z" fill="#307000" stroke="#307000"/><path d="M324.2,323.8L328.0,322.4 324.9,319.1 321.2,320.5Z" fill="#1c7600" stroke="#1c7600"/><path d="M327.3,327.2L331.0,325.8 328.0,322.4 324.2,323.8Z" fill="#147800" stroke="#147800"/><path d="M314.3,318.7L318.1,317.3 315.0,314.2 311.3,315.6Z" fill="#2a7300" stroke="#2a7300"/><path d="M330.3,330.8L334.1,329.3 331.0,325.8 327.3,327.2Z" fill="#0b7a00" stroke="#0b7a00"/><path d="M317.4,321.9L321.2,320.5 318.1,317.3 314.3,318.7Z" fill="#247500" stroke="#247500"/><path d="M320.5,325.3L324.2,323.8 321.2,320.5 317.4,321.9Z" fill="#1c7700" stroke="#1c7700"/><path d="M323.5,328.7L327.3,327.2 324.2,323.8 320.5,325.3Z" fill="#147a00" stroke="#147a00"/><path d="M326.6,332.3L330.3,330.8 327.3,327.2 323.5,328.7Z" fill="#0b7c00" stroke="#0b7c00"/></g><line x1="287.70" y1="256.80" x2="287.70" y2="264.60" stroke="#555" stroke-width="0.6"/><ellipse cx="224.20" cy="275.20" rx="2.3" ry="1.6" fill="#ee1111" stroke="#7a2020" stroke-width="0.4"/><ellipse cx="287.70" cy="256.80" rx="2.3" ry="1.6" fill="#ee1111" stroke="#7a2020" stroke-width="0.4"/><ellipse cx="338.20" cy="266.60" rx="2.3" ry="1.6" fill="#ee1111" stroke="#7a2020" stroke-width="0.4"/><ellipse cx="328.80" cy="321.60" rx="2.3" ry="1.6" fill="#ee1111" stroke="#7a2020" stroke-width="0.4"/><ellipse cx="453.00" cy="290.70" rx="2.3" ry="1.6" fill="#ee1111" stroke="#7a2020" stroke-width="0.4"/><text x="175.40" y="215.11" font-size="11.50" textLength="10.80" lengthAdjust="spacingAndGlyphs" fill="#161616" stroke="#161616" stroke-width="0.22" font-weight="bold">(c)</text><text transform="translate(195.86,324.90) rotate(-90)" x="0" y="0" font-size="8.30" textLength="91.70" lengthAdjust="spacingAndGlyphs" fill="#161616" stroke="#161616" stroke-width="0.3" font-weight="bold">Polydispersity index</text><text x="205.50" y="236.52" font-size="7.40" textLength="10.10" lengthAdjust="spacingAndGlyphs" fill="#161616" stroke="#161616" stroke-width="0.22" font-weight="bold">0.8</text><text x="206.50" y="247.22" font-size="7.40" textLength="10.10" lengthAdjust="spacingAndGlyphs" fill="#161616" stroke="#161616" stroke-width="0.22" font-weight="bold">0.7</text><text x="207.20" y="257.62" font-size="7.40" textLength="10.10" lengthAdjust="spacingAndGlyphs" fill="#161616" stroke="#161616" stroke-width="0.22" font-weight="bold">0.6</text><text x="208.70" y="268.32" font-size="7.40" textLength="10.10" lengthAdjust="spacingAndGlyphs" fill="#161616" stroke="#161616" stroke-width="0.22" font-weight="bold">0.5</text><text x="209.30" y="278.72" font-size="7.40" textLength="10.10" lengthAdjust="spacingAndGlyphs" fill="#161616" stroke="#161616" stroke-width="0.22" font-weight="bold">0.4</text><text x="211.30" y="288.42" font-size="7.40" textLength="10.10" lengthAdjust="spacingAndGlyphs" fill="#161616" stroke="#161616" stroke-width="0.22" font-weight="bold">0.3</text><text x="212.90" y="297.52" font-size="7.40" textLength="10.10" lengthAdjust="spacingAndGlyphs" fill="#161616" stroke="#161616" stroke-width="0.22" font-weight="bold">0.2</text><text x="214.20" y="307.22" font-size="7.40" textLength="10.10" lengthAdjust="spacingAndGlyphs" fill="#161616" stroke="#161616" stroke-width="0.22" font-weight="bold">0.1</text><text x="214.90" y="328.02" font-size="7.40" textLength="13.50" lengthAdjust="spacingAndGlyphs" fill="#161616" stroke="#161616" stroke-width="0.22" font-weight="bold">1.00</text><text x="232.40" y="339.62" font-size="7.40" textLength="14.20" lengthAdjust="spacingAndGlyphs" fill="#161616" stroke="#161616" stroke-width="0.22" font-weight="bold">0.90</text><text x="254.40" y="351.52" font-size="7.40" textLength="14.40" lengthAdjust="spacingAndGlyphs" fill="#161616" stroke="#161616" stroke-width="0.22" font-weight="bold">0.80</text><text x="273.00" y="362.42" font-size="7.40" textLength="14.00" lengthAdjust="spacingAndGlyphs" fill="#161616" stroke="#161616" stroke-width="0.22" font-weight="bold">0.70</text><text x="292.70" y="372.82" font-size="7.40" textLength="13.90" lengthAdjust="spacingAndGlyphs" fill="#161616" stroke="#161616" stroke-width="0.22" font-weight="bold">0.60</text><text x="313.40" y="383.62" font-size="7.40" textLength="13.80" lengthAdjust="spacingAndGlyphs" fill="#161616" stroke="#161616" stroke-width="0.22" font-weight="bold">0.50</text><text x="333.50" y="383.72" font-size="7.40" textLength="14.00" lengthAdjust="spacingAndGlyphs" fill="#161616" stroke="#161616" stroke-width="0.22" font-weight="bold">0.05</text><text x="360.60" y="372.62" font-size="7.40" textLength="14.40" lengthAdjust="spacingAndGlyphs" fill="#161616" stroke="#161616" stroke-width="0.22" font-weight="bold">0.10</text><text x="389.10" y="360.32" font-size="7.40" textLength="14.10" lengthAdjust="spacingAndGlyphs" fill="#161616" stroke="#161616" stroke-width="0.22" font-weight="bold">0.15</text><text x="419.20" y="347.62" font-size="7.40" textLength="14.40" lengthAdjust="spacingAndGlyphs" fill="#161616" stroke="#161616" stroke-width="0.22" font-weight="bold">0.20</text><text x="446.80" y="336.22" font-size="7.40" textLength="13.90" lengthAdjust="spacingAndGlyphs" fill="#161616" stroke="#161616" stroke-width="0.22" font-weight="bold">0.25</text><text x="227.20" y="367.06" font-size="9.60" textLength="34.40" lengthAdjust="spacingAndGlyphs" fill="#161616" stroke="#161616" stroke-width="0.22" font-weight="bold">Lecithin</text><text x="404.80" y="370.06" font-size="9.60" textLength="44.40" lengthAdjust="spacingAndGlyphs" fill="#161616" stroke="#161616" stroke-width="0.22" font-weight="bold">Tween-80</text></svg></body></html>
